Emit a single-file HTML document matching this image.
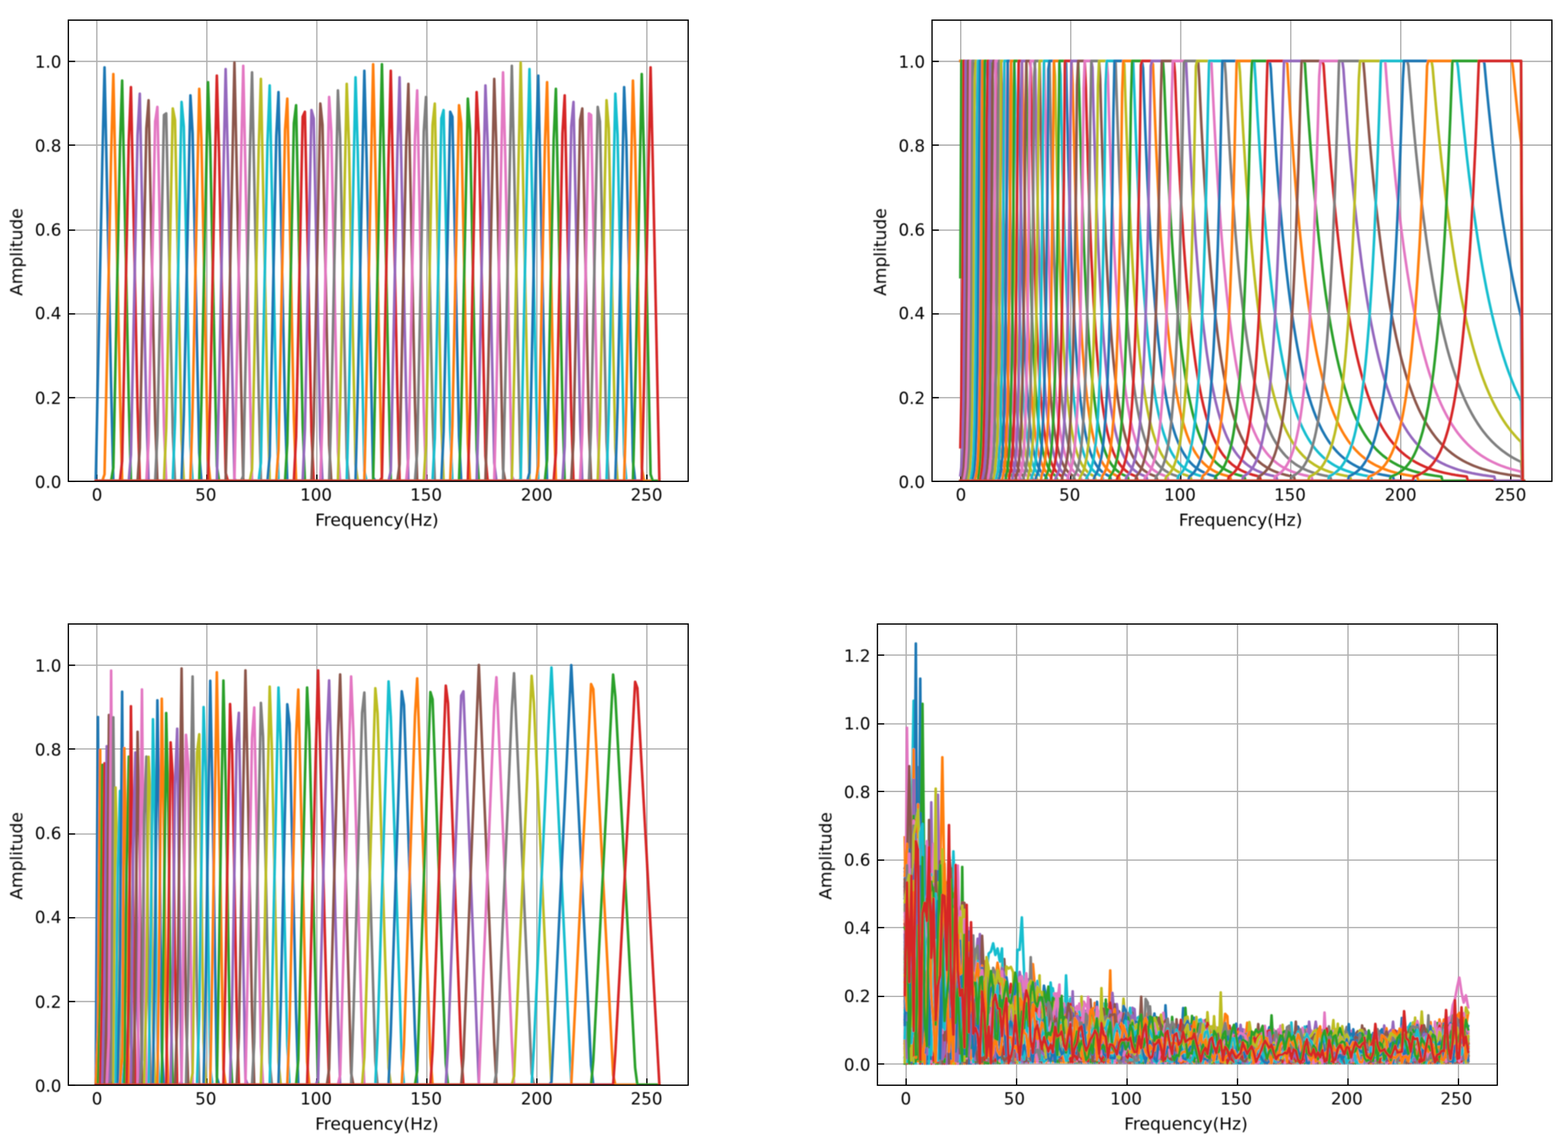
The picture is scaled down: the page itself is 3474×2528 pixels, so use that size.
<!DOCTYPE html>
<html><head><meta charset="utf-8"><title>Filter banks</title>
<style>html,body{margin:0;padding:0;background:#fff}svg{display:block}</style></head>
<body><svg width="3474" height="2528" viewBox="0 0 3474 2528">
<defs>
<filter id="bD" filterUnits="userSpaceOnUse" x="0" y="0" width="3474" height="2528"><feGaussianBlur stdDeviation="1.1"/></filter>
<filter id="bS" filterUnits="userSpaceOnUse" x="0" y="0" width="3474" height="2528"><feGaussianBlur stdDeviation="0.55"/></filter>
<filter id="bT" filterUnits="userSpaceOnUse" x="0" y="0" width="3474" height="2528"><feGaussianBlur stdDeviation="0.8"/></filter>
</defs>
<rect width="3474" height="2528" fill="#fff"/>
<clipPath id="c1"><rect x="151.4" y="44.6" width="1373.3" height="1021.8"/></clipPath>
<g stroke="#b0b0b0" stroke-width="2.80" fill="none" filter="url(#bS)">
<line x1="214.6" y1="44.6" x2="214.6" y2="1066.4"/>
<line x1="458.3" y1="44.6" x2="458.3" y2="1066.4"/>
<line x1="702.0" y1="44.6" x2="702.0" y2="1066.4"/>
<line x1="945.8" y1="44.6" x2="945.8" y2="1066.4"/>
<line x1="1189.5" y1="44.6" x2="1189.5" y2="1066.4"/>
<line x1="1433.2" y1="44.6" x2="1433.2" y2="1066.4"/>
<line x1="151.4" y1="136.0" x2="1524.7" y2="136.0"/>
<line x1="151.4" y1="321.5" x2="1524.7" y2="321.5"/>
<line x1="151.4" y1="509.9" x2="1524.7" y2="509.9"/>
<line x1="151.4" y1="695.5" x2="1524.7" y2="695.5"/>
<line x1="151.4" y1="881.1" x2="1524.7" y2="881.1"/>
<line x1="151.4" y1="1066.4" x2="1524.7" y2="1066.4"/>
</g>
<g stroke="#000" stroke-width="2.85" fill="none" filter="url(#bS)">
<line x1="214.6" y1="1066.4" x2="214.6" y2="1051.4"/>
<line x1="458.3" y1="1066.4" x2="458.3" y2="1051.4"/>
<line x1="702.0" y1="1066.4" x2="702.0" y2="1051.4"/>
<line x1="945.8" y1="1066.4" x2="945.8" y2="1051.4"/>
<line x1="1189.5" y1="1066.4" x2="1189.5" y2="1051.4"/>
<line x1="1433.2" y1="1066.4" x2="1433.2" y2="1051.4"/>
<line x1="151.4" y1="136.0" x2="166.4" y2="136.0"/>
<line x1="151.4" y1="321.5" x2="166.4" y2="321.5"/>
<line x1="151.4" y1="509.9" x2="166.4" y2="509.9"/>
<line x1="151.4" y1="695.5" x2="166.4" y2="695.5"/>
<line x1="151.4" y1="881.1" x2="166.4" y2="881.1"/>
<line x1="151.4" y1="1066.4" x2="166.4" y2="1066.4"/>
</g>
<g clip-path="url(#c1)"><g fill="none" stroke-width="5.76" stroke-linejoin="round" stroke-linecap="square" filter="url(#bD)">
<path d="M212.1 1065.4l9.8-472.5l4.8-236.2l4.9-207.2l9.8 472.5l4.8 236.2l4.9 207.2l1209.8 0" stroke="#1f77b4"/>
<path d="M212.1 1065.4l14.6 0l4.9-14.5l9.8-472.5l4.8-236.2l4.9-178.1l14.7 708.7l4.8 192.6l1190.3 0" stroke="#ff7f0e"/>
<path d="M212.1 1065.4l34.1 0l4.9-29.1l14.7-708.7l4.8-149l14.7 708.7l4.8 178.1l1170.8 0" stroke="#2ca02c"/>
<path d="M212.1 1065.4l53.7 0l4.8-43.6l14.7-708.7l4.8-120l14.7 708.8l4.9 163.5l1151.2 0" stroke="#d62728"/>
<path d="M212.1 1065.4l73.2 0l4.8-58.1l14.7-708.8l4.9-90.8l14.6 708.7l4.9 149l1131.7 0" stroke="#9467bd"/>
<path d="M212.1 1065.4l92.7 0l4.9-72.7l14.6-708.7l4.9-61.8l4.8 236.3l9.8 472.4l4.9 134.5l1112.2 0" stroke="#8c564b"/>
<path d="M212.1 1065.4l112.2 0l4.9-87.2l4.8-236.3l9.8-472.4l4.9-32.7l14.6 708.7l4.9 119.9l1092.7 0" stroke="#e377c2"/>
<path d="M212.1 1065.4l131.7 0l4.9-101.8l14.6-708.7l4.9-3.6l9.8 472.5l4.8 236.2l4.9 105.4l1073.2 0" stroke="#7f7f7f"/>
<path d="M212.1 1065.4l151.2 0l4.9-116.3l9.8-472.5l4.8-236.2l4.9 25.4l9.8 472.5l4.8 236.2l4.9 90.9l1053.7 0" stroke="#bcbd22"/>
<path d="M212.1 1065.4l170.7 0l4.9-130.8l9.8-472.5l4.8-236.2l4.9 54.5l14.7 708.7l4.8 76.3l1034.2 0" stroke="#17becf"/>
<path d="M212.1 1065.4l190.2 0l4.9-145.4l14.7-708.7l4.8 83.6l14.7 708.7l4.8 61.8l1014.7 0" stroke="#1f77b4"/>
<path d="M212.1 1065.4l209.8 0l4.8-159.9l14.7-708.7l4.8 112.6l14.7 708.8l4.9 47.2l995.1 0" stroke="#ff7f0e"/>
<path d="M212.1 1065.4l229.3 0l4.8-174.4l14.7-708.8l4.9 141.8l14.6 708.7l4.9 32.7l975.6 0" stroke="#2ca02c"/>
<path d="M212.1 1065.4l248.8 0l4.9-189l14.6-708.7l4.9 170.8l4.8 236.3l9.8 472.4l4.9 18.2l956.1 0" stroke="#d62728"/>
<path d="M212.1 1065.4l268.3 0l4.9-203.5l4.8-236.3l9.8-472.4l4.9 199.9l14.6 708.7l4.9 3.6l936.6 0" stroke="#9467bd"/>
<path d="M212.1 1065.4l287.8 0l4.9-218.1l14.6-708.7l4.9 229l4.9 236.2l4.8 236.3l4.9 225.3l922 0" stroke="#8c564b"/>
<path d="M212.1 1065.4l307.3 0l9.8-468.8l4.8-236.3l4.9-214.4l14.7 708.7l4.8 210.8l902.5 0" stroke="#e377c2"/>
<path d="M212.1 1065.4l321.9 0l4.9-10.9l14.7-708.7l4.8-185.4l14.7 708.7l4.9 196.3l882.9 0" stroke="#7f7f7f"/>
<path d="M212.1 1065.4l341.5 0l4.8-25.4l14.7-708.7l4.9-156.3l14.6 708.7l4.9 181.7l863.4 0" stroke="#bcbd22"/>
<path d="M212.1 1065.4l361 0l4.9-40l14.6-708.7l4.9-127.2l14.6 708.7l4.9 167.2l843.9 0" stroke="#17becf"/>
<path d="M212.1 1065.4l380.5 0l4.9-54.5l14.6-708.7l4.9-98.1l14.6 708.7l4.9 152.6l824.4 0" stroke="#1f77b4"/>
<path d="M212.1 1065.4l400 0l4.9-69.1l14.6-708.7l4.9-69l4.9 236.2l4.8 236.3l4.9 236.2l4.9 138.1l804.9 0" stroke="#ff7f0e"/>
<path d="M212.1 1065.4l419.5 0l4.9-83.6l4.9-236.2l4.8-236.3l4.9-236.2l4.9-40l9.8 472.5l4.8 236.2l4.9 123.6l785.4 0" stroke="#2ca02c"/>
<path d="M212.1 1065.4l439 0l4.9-98.1l9.8-472.5l4.8-236.2l4.9-10.9l9.8 472.4l4.8 236.3l4.9 109l765.9 0" stroke="#d62728"/>
<path d="M212.1 1065.4l458.5 0l4.9-112.7l9.8-472.4l4.8-236.3l4.9 18.2l14.7 708.7l4.8 94.5l746.4 0" stroke="#9467bd"/>
<path d="M212.1 1065.4l478 0l4.9-127.2l14.7-708.7l4.8 47.2l14.7 708.7l4.8 80l726.9 0" stroke="#8c564b"/>
<path d="M212.1 1065.4l497.6 0l4.8-141.7l14.7-708.7l4.8 76.3l14.7 708.7l4.9 65.4l707.3 0" stroke="#e377c2"/>
<path d="M212.1 1065.4l517.1 0l4.8-156.3l14.7-708.7l4.9 105.4l14.6 708.7l4.9 50.9l687.8 0" stroke="#7f7f7f"/>
<path d="M212.1 1065.4l536.6 0l4.9-170.8l14.6-708.7l4.9 134.5l14.6 708.7l4.9 36.3l668.3 0" stroke="#bcbd22"/>
<path d="M212.1 1065.4l556.1 0l4.9-185.4l14.6-708.7l4.9 163.6l4.9 236.2l4.8 236.3l4.9 236.2l4.9 21.8l648.8 0" stroke="#17becf"/>
<path d="M212.1 1065.4l575.6 0l4.9-199.9l4.9-236.2l4.8-236.3l4.9-236.2l4.9 192.6l14.6 708.7l4.9 7.3l629.3 0" stroke="#1f77b4"/>
<path d="M212.1 1065.4l595.1 0l4.9-214.4l14.6-708.7l4.9 221.7l14.6 701.4l614.7 0" stroke="#ff7f0e"/>
<path d="M212.1 1065.4l614.6 0l4.9-229l9.8-472.4l4.8-221.7l14.7 708.7l4.9 214.4l595.1 0" stroke="#2ca02c"/>
<path d="M212.1 1065.4l629.3 0l4.8-7.3l14.7-708.7l4.9-192.6l14.6 708.7l4.9 199.9l575.6 0" stroke="#d62728"/>
<path d="M212.1 1065.4l648.8 0l4.9-21.8l14.6-708.7l4.9-163.6l4.8 236.3l9.8 472.4l4.9 185.4l556.1 0" stroke="#9467bd"/>
<path d="M212.1 1065.4l668.3 0l4.9-36.3l4.8-236.3l9.8-472.4l4.9-134.5l14.6 708.7l4.9 170.8l536.6 0" stroke="#8c564b"/>
<path d="M212.1 1065.4l687.8 0l4.9-50.9l4.9-236.2l4.8-236.3l4.9-236.2l4.9-105.4l14.6 708.7l4.9 156.3l517.1 0" stroke="#e377c2"/>
<path d="M212.1 1065.4l707.3 0l4.9-65.4l14.6-708.7l4.9-76.3l9.8 472.4l4.8 236.3l4.9 141.7l497.6 0" stroke="#7f7f7f"/>
<path d="M212.1 1065.4l726.8 0l4.9-80l9.8-472.4l4.8-236.3l4.9-47.2l9.8 472.5l4.8 236.2l4.9 127.2l478.1 0" stroke="#bcbd22"/>
<path d="M212.1 1065.4l746.3 0l4.9-94.5l9.8-472.5l4.8-236.2l4.9-18.2l14.7 708.7l4.8 112.7l458.6 0" stroke="#17becf"/>
<path d="M212.1 1065.4l765.8 0l4.9-109l14.7-708.7l4.8 10.9l14.7 708.7l4.8 98.1l439.1 0" stroke="#1f77b4"/>
<path d="M212.1 1065.4l785.4 0l4.8-123.6l14.7-708.7l4.8 40l14.7 708.7l4.9 83.6l419.5 0" stroke="#ff7f0e"/>
<path d="M212.1 1065.4l804.9 0l4.8-138.1l14.7-708.7l4.9 69l4.8 236.3l9.8 472.4l4.9 69.1l400 0" stroke="#2ca02c"/>
<path d="M212.1 1065.4l824.4 0l4.9-152.6l4.8-236.3l9.8-472.4l4.9 98.1l14.6 708.7l4.9 54.5l380.5 0" stroke="#d62728"/>
<path d="M212.1 1065.4l843.9 0l4.9-167.2l4.9-236.2l4.8-236.3l4.9-236.2l4.9 127.2l14.6 708.7l4.9 40l361 0" stroke="#9467bd"/>
<path d="M212.1 1065.4l863.4 0l4.9-181.7l14.6-708.7l4.9 156.3l9.8 472.4l4.8 236.3l4.9 25.4l341.5 0" stroke="#8c564b"/>
<path d="M212.1 1065.4l882.9 0l4.9-196.3l9.8-472.4l4.8-236.3l4.9 185.4l9.8 472.5l4.8 236.2l4.9 10.9l322 0" stroke="#e377c2"/>
<path d="M212.1 1065.4l902.4 0l4.9-210.8l9.8-472.5l4.8-236.2l4.9 214.4l9.8 472.5l4.9 232.6l307.3 0" stroke="#7f7f7f"/>
<path d="M212.1 1065.4l921.9 0l4.9-225.3l9.8-472.5l4.9-229l4.8 236.3l9.8 472.4l4.9 218.1l287.8 0" stroke="#bcbd22"/>
<path d="M212.1 1065.4l936.6 0l4.9-3.6l4.8-236.3l9.8-472.4l4.9-199.9l14.6 708.7l4.9 203.5l268.3 0" stroke="#17becf"/>
<path d="M212.1 1065.4l956.1 0l4.9-18.2l14.6-708.7l4.9-170.8l4.9 236.2l4.8 236.3l4.9 236.2l4.9 189l248.8 0" stroke="#1f77b4"/>
<path d="M212.1 1065.4l975.6 0l4.9-32.7l4.9-236.2l4.8-236.3l4.9-236.2l4.9-141.8l14.6 708.7l4.9 174.5l229.3 0" stroke="#ff7f0e"/>
<path d="M212.1 1065.4l995.1 0l4.9-47.2l14.6-708.8l4.9-112.6l9.8 472.5l4.8 236.2l4.9 159.9l209.8 0" stroke="#2ca02c"/>
<path d="M212.1 1065.4l1014.6 0l4.9-61.8l9.8-472.5l4.8-236.2l4.9-83.6l9.8 472.5l4.8 236.2l4.9 145.4l190.3 0" stroke="#d62728"/>
<path d="M212.1 1065.4l1034.1 0l4.9-76.3l9.8-472.5l4.8-236.2l4.9-54.5l14.7 708.7l4.8 130.8l170.8 0" stroke="#9467bd"/>
<path d="M212.1 1065.4l1053.6 0l4.9-90.9l14.7-708.7l4.8-25.4l14.7 708.7l4.8 116.3l151.3 0" stroke="#8c564b"/>
<path d="M212.1 1065.4l1073.2 0l4.8-105.4l14.7-708.7l4.8 3.6l14.7 708.7l4.9 101.8l131.7 0" stroke="#e377c2"/>
<path d="M212.1 1065.4l1092.7 0l4.8-119.9l14.7-708.7l4.9 32.7l14.6 708.7l4.9 87.2l112.2 0" stroke="#7f7f7f"/>
<path d="M212.1 1065.4l1112.2 0l4.9-134.5l14.6-708.7l4.9 61.8l4.9 236.2l4.8 236.3l4.9 236.2l4.9 72.7l92.7 0" stroke="#bcbd22"/>
<path d="M212.1 1065.4l1131.7 0l4.9-149l4.9-236.2l4.8-236.3l4.9-236.2l4.9 90.8l14.6 708.7l4.9 58.2l73.2 0" stroke="#17becf"/>
<path d="M212.1 1065.4l1151.2 0l4.9-163.5l14.6-708.8l4.9 120l9.8 472.5l4.8 236.2l4.9 43.6l53.7 0" stroke="#1f77b4"/>
<path d="M212.1 1065.4l1170.7 0l4.9-178.1l9.8-472.5l4.8-236.2l4.9 149l9.8 472.5l4.8 236.2l4.9 29.1l34.2 0" stroke="#ff7f0e"/>
<path d="M212.1 1065.4l1190.2 0l4.9-192.6l9.8-472.5l4.8-236.2l4.9 178.1l14.7 708.7l4.8 14.5l14.7 0" stroke="#2ca02c"/>
<path d="M212.1 1065.4l1209.7 0l4.9-207.2l14.7-708.7l4.8 207.2l14.7 708.7" stroke="#d62728"/>
</g></g>
<rect x="151.4" y="44.6" width="1373.3" height="1021.8" fill="none" stroke="#000" stroke-width="2.85" filter="url(#bS)"/>
<g font-family="'DejaVu Sans', 'Liberation Sans', sans-serif" font-size="36.9px" fill="#000" filter="url(#bT)">
<text x="215.1" y="1109.3" text-anchor="middle">0</text>
<text x="456.0" y="1109.3" text-anchor="middle">50</text>
<text x="700.2" y="1109.3" text-anchor="middle">100</text>
<text x="944.0" y="1109.3" text-anchor="middle">150</text>
<text x="1189.3" y="1109.3" text-anchor="middle">200</text>
<text x="1432.5" y="1109.3" text-anchor="middle">250</text>
<text x="135.9" y="150.3" text-anchor="end">1.0</text>
<text x="135.9" y="335.8" text-anchor="end">0.8</text>
<text x="135.9" y="521.5" text-anchor="end">0.6</text>
<text x="135.9" y="707.3" text-anchor="end">0.4</text>
<text x="135.9" y="895.2" text-anchor="end">0.2</text>
<text x="135.9" y="1080.9" text-anchor="end">0.0</text>
<text x="835.0" y="1164.7" text-anchor="middle" font-size="37.9px">Frequency(Hz)</text>
<text transform="translate(49.4 558.5) rotate(-90)" text-anchor="middle" font-size="37.9px">Amplitude</text>
</g>
<clipPath id="c2"><rect x="2065.0" y="44.6" width="1373.3" height="1021.8"/></clipPath>
<g stroke="#b0b0b0" stroke-width="2.80" fill="none" filter="url(#bS)">
<line x1="2128.6" y1="44.6" x2="2128.6" y2="1066.4"/>
<line x1="2372.3" y1="44.6" x2="2372.3" y2="1066.4"/>
<line x1="2616.0" y1="44.6" x2="2616.0" y2="1066.4"/>
<line x1="2859.8" y1="44.6" x2="2859.8" y2="1066.4"/>
<line x1="3103.5" y1="44.6" x2="3103.5" y2="1066.4"/>
<line x1="3347.2" y1="44.6" x2="3347.2" y2="1066.4"/>
<line x1="2065.0" y1="136.0" x2="3438.3" y2="136.0"/>
<line x1="2065.0" y1="321.5" x2="3438.3" y2="321.5"/>
<line x1="2065.0" y1="509.9" x2="3438.3" y2="509.9"/>
<line x1="2065.0" y1="695.5" x2="3438.3" y2="695.5"/>
<line x1="2065.0" y1="881.1" x2="3438.3" y2="881.1"/>
<line x1="2065.0" y1="1066.4" x2="3438.3" y2="1066.4"/>
</g>
<g stroke="#000" stroke-width="2.85" fill="none" filter="url(#bS)">
<line x1="2128.6" y1="1066.4" x2="2128.6" y2="1051.4"/>
<line x1="2372.3" y1="1066.4" x2="2372.3" y2="1051.4"/>
<line x1="2616.0" y1="1066.4" x2="2616.0" y2="1051.4"/>
<line x1="2859.8" y1="1066.4" x2="2859.8" y2="1051.4"/>
<line x1="3103.5" y1="1066.4" x2="3103.5" y2="1051.4"/>
<line x1="3347.2" y1="1066.4" x2="3347.2" y2="1051.4"/>
<line x1="2065.0" y1="136.0" x2="2080.0" y2="136.0"/>
<line x1="2065.0" y1="321.5" x2="2080.0" y2="321.5"/>
<line x1="2065.0" y1="509.9" x2="2080.0" y2="509.9"/>
<line x1="2065.0" y1="695.5" x2="2080.0" y2="695.5"/>
<line x1="2065.0" y1="881.1" x2="2080.0" y2="881.1"/>
<line x1="2065.0" y1="1066.4" x2="2080.0" y2="1066.4"/>
</g>
<g clip-path="url(#c2)"><g fill="none" stroke-width="5.76" stroke-linejoin="round" stroke-linecap="square" filter="url(#bD)">
<path d="M2127.7 135l7.3 0l2.5 230.9l2.4 210.2l2.4 146.6l2.5 102.3l2.4 71.5l2.5 50.1l2.4 35l2.4 24.6l2.5 17.2l2.4 12.2l2.4 8.6l2.5 6l2.4 4.3l2.5 10.9l1207.3 0" stroke="#1f77b4"/>
<path d="M2127.7 135l12.2 0l2.4 226.1l2.5 210.3l2.4 147l2.5 102.8l2.4 72l2.4 50.5l2.5 35.5l2.4 24.9l2.4 17.7l2.5 12.4l2.4 8.9l2.5 6.3l2.4 4.4l2.4 11.6l1202.5 0" stroke="#ff7f0e"/>
<path d="M2127.7 614.1l2.4-479.1l14.7 0l2.4 217.2l2.5 211.2l2.4 148l2.4 103.8l2.5 72.9l2.4 51.4l2.4 36.2l2.5 25.7l2.4 18.1l2.5 12.9l2.4 9.2l2.4 6.6l2.5 4.7l2.4 12.5l1197.6 0" stroke="#2ca02c"/>
<path d="M2127.7 990.9l2.4-108.7l2.5-266.9l2.4-480.3l14.7 0l2.4 202.9l2.4 213.3l2.5 149.9l2.4 105.6l2.4 74.4l2.5 52.7l2.4 37.3l2.5 26.6l2.4 18.9l2.4 13.5l2.5 9.7l2.4 6.9l2.5 5.1l2.4 3.6l2.4 10l1190.3 0" stroke="#d62728"/>
<path d="M2127.7 1053.1l2.4-18l2.5-44l2.4-108.1l2.5-264.2l2.4-483.8l14.6 0l2.5 181.8l2.4 216.9l2.4 153l2.5 108.2l2.4 76.8l2.5 54.5l2.4 38.9l2.4 27.7l2.5 19.9l2.4 14.4l2.5 10.3l2.4 7.5l2.4 5.4l2.5 3.9l2.4 11.2l1185.4 0" stroke="#9467bd"/>
<path d="M2127.7 1065.4l2.4 0l2.5-12.3l2.4-17.8l2.5-43.7l2.4-106.4l2.4-258.8l2.5-491.4l14.6 0l2.4 152.1l2.5 222.4l2.4 157.7l2.5 112.1l2.4 79.9l2.4 57.1l2.5 40.9l2.4 29.4l2.5 21.2l2.4 15.4l2.4 11.2l2.5 8.1l2.4 5.9l2.5 4.4l2.4 3.2l2.4 9.4l1178.1 0" stroke="#8c564b"/>
<path d="M2127.7 1065.4l7.3 0l2.5-12.2l2.4-17.6l2.4-42.7l2.5-103.5l2.4-249.5l2.5-504.9l14.6 0l2.4 112.1l2.5 230.3l2.4 164.2l2.4 117.3l2.5 84.1l2.4 60.5l2.5 43.6l2.4 31.6l2.4 22.9l2.5 16.7l2.4 12.2l2.5 8.9l2.4 6.6l2.4 4.9l2.5 3.6l2.4 10.9l1173.2 0" stroke="#e377c2"/>
<path d="M2127.7 1065.4l12.2 0l2.4-12l2.5-17.1l2.4-41.2l2.5-98.8l2.4-235.8l2.4-525.5l14.7 0l2.4 59.4l2.4 241.1l2.5 172.9l2.4 124.3l2.5 89.6l2.4 64.9l2.4 47.1l2.5 34.3l2.4 25.1l2.5 18.3l2.4 13.6l2.4 10l2.5 7.4l2.4 5.5l2.4 4.1l2.5 3.1l2.4 9.7l1165.9 0" stroke="#7f7f7f"/>
<path d="M2127.7 1065.4l17.1 0l2.4-11.6l2.5-16.3l2.4-39l2.4-92.3l2.5-217.7l2.4-509.6l2.4-43.9l14.7 0l2.4 246.6l2.5 184.2l2.4 133.3l2.4 96.8l2.5 70.5l2.4 51.6l2.5 37.7l2.4 27.9l2.4 20.5l2.5 15.2l2.4 11.3l2.4 8.5l2.5 6.3l2.4 4.7l2.5 3.6l2.4 11.7l1161 0" stroke="#bcbd22"/>
<path d="M2127.7 1065.4l22 0l2.4-11l2.4-15.3l2.5-36l2.4-84.1l2.4-195.7l2.5-451.4l2.4-136.9l14.7 0l2.4 177.7l2.4 198.9l2.5 144.9l2.4 105.9l2.5 77.6l2.4 57.2l2.4 42.2l2.5 31.3l2.4 23.2l2.4 17.4l2.5 13l2.4 9.7l2.5 7.4l2.4 5.6l2.4 4.2l2.5 3.2l2.4 11l1153.7 0" stroke="#17becf"/>
<path d="M2127.7 1065.4l26.8 0l2.5-10.3l2.4-13.9l2.4-32.3l2.5-74.5l2.4-170.8l2.5-387.7l2.4-240.9l14.6 0l2.5 90l2.4 217.6l2.5 159.7l2.4 117.4l2.4 86.8l2.5 64.2l2.4 47.8l2.4 35.7l2.5 26.7l2.4 20.1l2.5 15.1l2.4 11.4l2.4 8.7l2.5 6.7l2.4 5l2.5 3.9l2.4 3l2.4 10.6l1146.4 0" stroke="#1f77b4"/>
<path d="M2127.7 1065.4l31.7 0l2.4-9.3l2.5-12.3l2.4-28.2l2.5-64.1l2.4-144.3l2.4-322.3l2.5-349.9l17.1 0l2.4 220l2.4 178.2l2.5 132.1l2.4 98.2l2.4 73.3l2.5 54.9l2.4 41.3l2.5 31.1l2.4 23.5l2.4 17.9l2.5 13.6l2.4 10.4l2.5 7.9l2.4 6.2l2.4 4.7l2.5 3.7l2.4 2.8l2.5 10.6l1139 0" stroke="#ff7f0e"/>
<path d="M2127.7 1065.4l39 0l2.5-18.8l2.4-23.8l2.4-53.3l2.5-117.9l2.4-258.9l2.5-457.7l17 0l2.5 108.2l2.4 201.9l2.4 150.6l2.5 112.8l2.4 84.7l2.5 63.9l2.4 48.4l2.4 36.7l2.5 28l2.4 21.3l2.5 16.4l2.4 12.6l2.4 9.7l2.5 7.6l2.4 5.8l2.5 4.6l2.4 3.6l2.4 2.8l2.5 10.8l1131.7 0" stroke="#2ca02c"/>
<path d="M2127.7 1065.4l43.9 0l2.4-15.8l2.5-19.5l2.4-42.8l2.5-93l2.4-200.7l2.4-429l2.5-129.6l17 0l2.5 196.9l2.4 174.2l2.5 131.3l2.4 99.4l2.4 75.4l2.5 57.5l2.4 43.9l2.5 33.7l2.4 25.9l2.4 20l2.5 15.4l2.4 12.1l2.5 9.3l2.4 7.4l2.4 5.7l2.5 4.5l2.4 3.6l2.4 2.8l2.5 11.4l1124.4 0" stroke="#d62728"/>
<path d="M2127.7 1065.4l48.8 0l2.4-12.9l2.5-15.4l2.4-33.1l2.4-70.9l2.5-150l4.9-648.1l17 0l2.5 50.8l2.4 204.2l2.4 155.1l2.5 118.1l2.4 90.2l2.5 69.2l2.4 53.2l2.4 41.1l2.5 31.9l2.4 24.7l2.5 19.2l2.4 15.1l2.4 11.8l2.5 9.3l2.4 7.3l2.4 5.8l2.5 4.5l2.4 3.7l2.5 2.9l2.4 2.3l2.4 10l1114.7 0" stroke="#9467bd"/>
<path d="M2127.7 1065.4l53.7 0l2.4-10.1l2.4-11.7l2.5-24.8l2.4-52l2.5-108.2l2.4-222.9l2.4-455l2.5-45.7l17 0l2.5 103.7l2.4 185.5l2.5 142.2l2.4 109.4l2.4 84.5l2.5 65.4l2.4 50.8l2.5 39.5l2.4 31l2.4 24.2l2.5 19.1l2.4 15l2.4 11.9l2.5 9.4l2.4 7.5l2.5 6l2.4 4.8l2.4 3.8l2.5 3.1l2.4 2.5l2.5 11.1l1107.3 0" stroke="#8c564b"/>
<path d="M2127.7 1065.4l61 0l2.4-16.3l2.5-17.9l2.4-36.8l2.4-75.1l2.5-152.1l2.4-304.9l2.4-327.3l19.6 0l2.4 129.8l2.4 173.6l2.5 134.4l2.4 104.3l2.5 81.4l2.4 63.5l2.4 49.9l2.5 39.1l2.4 30.9l2.4 24.5l2.5 19.3l2.4 15.5l2.5 12.3l2.4 9.8l2.4 7.9l2.5 6.3l2.4 5.1l2.5 4.1l2.4 3.4l2.4 2.7l2.5 2.2l2.4 10.4l1097.6 0" stroke="#e377c2"/>
<path d="M2127.7 1065.4l65.9 0l2.4-11.7l2.4-12.4l2.5-25.1l2.4-50.4l2.4-100.1l2.5-197l2.4-384.6l2.5-149.1l19.5 0l2.4 132.5l2.5 167.1l2.4 130.6l2.4 102.4l2.5 80.6l2.4 63.5l2.4 50.2l2.5 39.8l2.4 31.7l2.5 25.2l2.4 20.2l2.4 16.2l2.5 13.1l2.4 10.5l2.5 8.4l2.4 6.9l2.4 5.6l2.5 4.5l2.4 3.7l2.5 3.1l2.4 2.5l2.4 2l2.5 10.1l1087.8 0" stroke="#7f7f7f"/>
<path d="M2127.7 1065.4l73.2 0l4.8-33l2.5-32.5l2.4-63.5l2.5-122.9l2.4-235.7l2.4-442.8l22 0l2.4 113l2.5 165.4l2.4 130.5l2.4 103.2l2.5 81.9l2.4 65.1l2.5 51.9l2.4 41.5l2.4 33.3l2.5 26.8l2.4 21.6l2.5 17.4l2.4 14.1l2.4 11.5l2.5 9.3l2.4 7.6l2.5 6.2l2.4 5.2l2.4 4.1l2.5 3.5l2.4 2.8l2.5 2.4l2.4 2l2.4 10.1l1078.1 0" stroke="#bcbd22"/>
<path d="M2127.7 1065.4l78 0l4.9-21.3l2.5-20.3l2.4-38.9l2.4-74.1l2.5-139.6l2.4-261l2.5-375.2l21.9 0l2.4 70.8l2.5 168.2l2.4 133.8l2.5 106.7l2.4 85.3l2.4 68.5l2.5 55l2.4 44.3l2.5 35.8l2.4 29l2.4 23.6l2.5 19.2l2.4 15.6l2.5 12.8l2.4 10.5l2.4 8.6l2.5 7.1l2.4 5.9l2.5 4.8l2.4 4.1l2.4 3.3l2.5 2.8l2.4 2.3l2.4 1.9l2.5 10.5l1068.3 0" stroke="#17becf"/>
<path d="M2127.7 1065.4l85.4 0l2.4-13.3l2.4-12.2l2.5-23.1l2.4-43.1l2.5-80l2.4-147l2.4-268.4l2.5-343.3l21.9 0l2.5 3.7l2.4 175.4l2.4 140.6l2.5 113.1l2.4 91.1l2.5 73.6l2.4 59.7l2.4 48.4l2.5 39.4l2.4 32.2l2.5 26.3l2.4 21.5l2.4 17.7l2.5 14.6l2.4 12.1l2.5 9.9l2.4 8.3l2.4 6.8l2.5 5.7l2.4 4.7l2.4 4l2.5 3.3l2.4 2.8l2.5 2.3l2.4 2l2.4 1.6l2.5 9.6l1056.1 0" stroke="#1f77b4"/>
<path d="M2127.7 1065.4l92.7 0l2.4-15.1l2.5-13.3l2.4-24.2l2.4-44.4l2.5-80.2l2.4-144.2l2.5-257l2.4-352l24.4 0l2.4 95l2.5 151.3l2.4 122.5l2.4 99.6l2.5 81l2.4 66.1l2.5 54.1l2.4 44.3l2.4 36.4l2.5 29.9l2.4 24.8l2.5 20.4l2.4 16.9l2.4 14.1l2.5 11.7l2.4 9.8l2.4 8.1l2.5 6.8l2.4 5.7l2.5 4.8l2.4 4.1l2.4 3.4l2.5 2.8l2.4 2.5l4.9 3.8l2.4 10.5l1046.4 0" stroke="#ff7f0e"/>
<path d="M2127.7 1065.4l100 0l2.4-16l2.5-13.3l2.4-23.8l2.5-42.4l2.4-75.1l2.4-131.9l2.5-230.1l2.4-397.8l26.8 0l2.5 147.4l2.4 135.8l2.5 111.1l2.4 91.1l2.4 74.8l2.5 61.6l2.4 50.8l2.5 42l2.4 34.8l2.4 28.9l2.5 24.1l2.4 20l2.4 16.7l2.5 14.1l2.4 11.7l2.5 9.8l2.4 8.3l2.4 7l2.5 5.9l2.4 5l2.5 4.3l2.4 3.5l2.4 3.1l2.5 2.6l2.4 2.2l2.5 1.9l2.4 1.6l2.4 10.3l1034.2 0" stroke="#2ca02c"/>
<path d="M2127.7 1065.4l107.3 0l2.5-15.8l2.4-12.4l2.4-21.8l2.5-38l2.4-65.7l2.4-113.1l2.5-193.1l2.4-327.4l2.5-143.1l24.4 0l2.4 15.8l2.4 153.8l2.5 126.6l2.4 104.4l2.5 86.3l2.4 71.6l2.4 59.4l2.5 49.4l2.4 41.2l2.4 34.4l2.5 28.7l2.4 24.2l2.5 20.2l2.4 17.1l2.4 14.3l2.5 12.2l2.4 10.2l2.5 8.7l2.4 7.4l2.4 6.3l2.5 5.3l2.4 4.6l2.5 3.8l2.4 3.4l2.4 2.8l2.5 2.4l2.4 2.1l2.4 1.8l2.5 1.6l2.4 10.4l1022 0" stroke="#d62728"/>
<path d="M2127.7 1065.4l114.6 0l2.5-14.5l2.4-10.9l2.4-18.7l2.5-31.9l2.4-54l2.5-91.1l2.4-152.5l2.4-253.6l2.5-303.2l26.8 0l2.5 19l2.4 147.1l2.4 122l2.5 101.6l2.4 84.6l2.4 70.7l2.5 59.1l2.4 49.6l2.5 41.7l2.4 35l2.4 29.5l2.5 24.9l2.4 21.1l2.5 17.9l2.4 15.1l2.4 12.9l2.5 11l2.4 9.3l2.5 8l2.4 6.9l2.4 5.8l2.5 5l2.4 4.3l2.4 3.7l2.5 3.2l2.4 2.8l2.5 2.4l2.4 2l2.4 1.8l4.9 2.9l2.5 9.5l1007.3 0" stroke="#9467bd"/>
<path d="M2127.7 1065.4l121.9 0l2.5-12.5l2.4-9l2.5-15l2.4-25.2l2.4-41.9l2.5-69.2l2.4-113.7l2.5-185.7l2.4-301.3l2.4-156.9l29.3 0l2.4 138.3l2.5 121.6l2.4 101.9l2.5 85.6l2.4 72l2.4 60.6l2.5 51.3l2.4 43.3l2.5 36.7l2.4 31.2l2.4 26.4l2.5 22.6l2.4 19.2l2.5 16.4l2.4 14l2.4 12l2.5 10.3l2.4 8.9l2.4 7.6l2.5 6.6l2.4 5.6l2.5 4.9l2.4 4.3l2.4 3.6l2.5 3.2l2.4 2.7l2.5 2.4l2.4 2.1l2.4 1.8l2.5 1.6l2.4 1.4l2.5 10.3l995.1 0" stroke="#8c564b"/>
<path d="M2127.7 1065.4l129.3 0l2.4-10.2l2.4-6.9l2.5-11.4l2.4-18.8l2.5-30.7l2.4-49.7l2.4-80.4l2.5-128.8l2.4-205.6l2.5-326.2l2.4-61.7l29.3 0l2.4 85.6l2.4 124.8l2.5 105.2l2.4 89.1l2.5 75.4l2.4 64l2.4 54.5l2.5 46.3l2.4 39.5l2.5 33.7l2.4 28.8l2.4 24.7l2.5 21.2l2.4 18.2l2.4 15.7l2.5 13.4l2.4 11.7l2.5 10l2.4 8.7l2.4 7.5l2.5 6.5l2.4 5.7l2.5 4.9l2.4 4.3l2.4 3.8l2.5 3.2l2.4 2.9l4.9 4.6l2.4 1.9l2.5 1.7l2.4 1.5l2.5 1.3l2.4 10.1l980.5 0" stroke="#e377c2"/>
<path d="M2127.7 1065.4l139 0l2.5-12.9l2.4-8.2l2.4-13.3l2.5-21.2l2.4-34l2.5-53.9l2.4-85l2.4-133.5l2.5-208.6l2.4-324l2.5-35.8l29.2 0l2.5 5l2.4 131.6l2.4 111.8l2.5 95.2l2.4 81.2l2.5 69.3l2.4 59.2l2.4 50.8l2.5 43.5l2.4 37.4l2.4 32.2l2.5 27.7l2.4 23.9l2.5 20.6l2.4 17.9l2.4 15.5l2.5 13.4l2.4 11.6l2.5 10.1l2.4 8.8l2.4 7.7l2.5 6.7l2.4 5.8l2.5 5.2l2.4 4.4l2.4 4l2.5 3.4l2.4 3l2.5 2.7l2.4 2.3l2.4 2.1l2.5 1.8l2.4 1.6l2.4 1.4l2.5 1.3l2.4 10.3l965.9 0" stroke="#7f7f7f"/>
<path d="M2127.7 1065.4l148.8 0l2.4-14.8l2.5-8.9l2.4-14l2.4-22.1l2.5-34.4l2.4-53.6l2.5-82.7l2.4-127.4l2.4-195l2.5-297.2l2.4-80.3l31.7 0l2.5 33.7l2.4 121.8l2.4 104.3l2.5 89.5l2.4 76.8l2.4 66.1l2.5 57l2.4 49.1l2.5 42.4l2.4 36.7l2.4 31.8l2.5 27.5l2.4 24l2.5 20.8l2.4 18.1l2.4 15.7l2.5 13.8l2.4 12l2.5 10.5l2.4 9.2l2.4 8.1l2.5 7l2.4 6.2l2.5 5.5l2.4 4.8l2.4 4.2l2.5 3.8l2.4 3.3l2.4 2.9l4.9 4.8l4.9 3.8l2.4 1.6l4.9 2.7l2.5 1.1l2.4 9.8l948.8 0" stroke="#bcbd22"/>
<path d="M2127.7 1065.4l156.1 0l2.4-9.9l2.5-5.7l2.4-8.8l2.5-13.7l2.4-21l2.4-32.2l2.5-49.1l2.4-74.5l2.4-112.5l2.5-169.1l2.4-253.2l2.5-180.7l34.1 0l2.4 29.9l2.5 117l2.4 101l2.5 87.2l2.4 75.4l2.4 65.3l2.5 56.6l2.4 49.2l2.5 42.7l2.4 37.2l2.4 32.4l2.5 28.3l2.4 24.7l2.5 21.6l2.4 18.9l2.4 16.5l2.5 14.5l2.4 12.8l2.5 11.2l2.4 9.9l2.4 8.7l2.5 7.7l2.4 6.7l2.4 6l2.5 5.3l2.4 4.7l2.5 4.2l2.4 3.6l2.4 3.3l2.5 2.9l2.4 2.6l4.9 4.4l2.4 1.8l4.9 3.1l2.5 1.3l4.8 2.2l2.5 9.6l931.7 0" stroke="#17becf"/>
<path d="M2127.7 1065.4l165.9 0l2.4-9.8l2.4-5.3l2.5-8.1l2.4-12.3l2.4-18.6l2.5-27.9l2.4-41.8l2.5-62.4l2.4-92.5l2.4-136.8l2.5-201.4l2.4-295.3l2.5-18.2l36.5 0l2.5 112.5l2.4 101l2.5 87.8l2.4 76.5l2.4 66.6l2.5 58.1l2.4 50.7l2.5 44.4l2.4 38.8l2.4 34.1l2.5 29.8l2.4 26.2l2.5 23.1l2.4 20.3l2.4 17.9l2.5 15.7l2.4 14l2.4 12.3l2.5 10.8l2.4 9.7l2.5 8.5l2.4 7.6l2.4 6.7l2.5 6l2.4 5.3l2.5 4.7l2.4 4.2l2.4 3.8l2.5 3.3l2.4 3l2.5 2.7l2.4 2.4l2.4 2.1l2.5 2l2.4 1.7l2.4 1.5l4.9 2.7l4.9 2.1l2.4 9.8l914.7 0" stroke="#1f77b4"/>
<path d="M2127.7 1065.4l178 0l2.5-13.5l2.4-6.9l2.5-10.3l2.4-15.3l2.4-22.6l2.5-33.3l2.4-48.8l2.5-71.2l2.4-103.7l2.4-150.3l2.5-217.1l2.4-237.4l39 0l2.5 50.9l2.4 104.3l2.5 91.2l2.4 79.8l2.4 70l2.5 61.4l2.4 53.9l2.5 47.3l2.4 41.8l2.4 36.7l2.5 32.4l2.4 28.6l2.4 25.3l2.5 22.3l2.4 19.8l2.5 17.6l2.4 15.5l2.4 13.8l2.5 12.3l2.4 10.9l2.5 9.7l2.4 8.7l2.4 7.7l2.5 6.9l2.4 6.2l2.5 5.5l2.4 4.9l2.4 4.4l4.9 7.5l2.4 3.2l4.9 5.4l4.9 4.4l2.4 1.8l2.5 1.7l2.4 1.5l2.5 1.4l4.8 2.4l4.9 1.9l2.5 9.4l895.1 0" stroke="#ff7f0e"/>
<path d="M2127.7 1065.4l187.8 0l2.4-11.3l2.5-5.5l2.4-8.1l2.5-11.8l2.4-17.1l2.4-24.8l2.5-35.9l2.4-51.5l2.5-74l2.4-105.8l2.4-150.5l2.5-213.7l2.4-220.4l41.5 0l2.4 69.4l2.5 97.4l2.4 85.7l2.4 75.5l2.5 66.6l2.4 58.8l2.4 52l2.5 45.9l2.4 40.7l2.5 36l2.4 32l2.4 28.4l2.5 25.2l2.4 22.4l2.5 20l2.4 17.8l2.4 15.9l2.5 14.1l2.4 12.7l2.5 11.3l2.4 10.1l2.4 9.1l2.5 8.1l2.4 7.2l2.4 6.6l2.5 5.8l2.4 5.3l2.5 4.7l2.4 4.3l2.4 3.9l2.5 3.4l2.4 3.1l2.5 2.9l2.4 2.5l2.4 2.3l4.9 4l2.5 1.7l4.8 2.9l4.9 2.5l4.9 2l2.4 0.8l2.5 9.4l875.6 0" stroke="#2ca02c"/>
<path d="M2127.7 1065.4l200 0l2.4-13l2.5-5.9l2.4-8.5l2.5-12.2l2.4-17.5l2.4-24.9l2.5-35.3l2.4-49.9l2.4-70.3l2.5-98.9l2.4-138.6l2.5-193.5l2.4-261.9l43.9 0l2.4 56.9l2.5 94.4l2.4 83.6l2.5 74.1l2.4 65.7l2.4 58.3l2.5 51.9l2.4 46.1l2.5 41l2.4 36.6l2.4 32.6l2.5 29.1l2.4 26l2.5 23.2l2.4 20.8l2.4 18.6l2.5 16.7l2.4 14.9l2.4 13.4l2.5 12.1l2.4 10.8l2.5 9.8l2.4 8.7l2.4 7.9l2.5 7.1l2.4 6.5l2.5 5.8l2.4 5.2l2.4 4.7l2.5 4.3l2.4 3.9l4.9 6.7l2.4 2.8l2.5 2.7l4.8 4.5l4.9 3.7l4.9 3.1l2.4 1.4l4.9 2.3l4.9 2l2.4 0.8l2.5 9.7l856.1 0" stroke="#d62728"/>
<path d="M2127.7 1065.4l209.8 0l2.4-9.4l2.4-4.1l2.5-5.9l2.4-8.2l2.4-11.6l2.5-16.4l2.4-22.8l2.5-32l2.4-44.5l2.4-61.7l2.5-85.5l2.4-118l2.5-162.3l2.4-222.7l2.4-125.3l43.9 0l2.5 14.8l2.4 94.7l2.5 84.4l2.4 75.1l2.4 67l2.5 59.8l2.4 53.4l2.5 47.8l2.4 42.7l2.4 38.2l2.5 34.3l2.4 30.7l2.4 27.6l2.5 24.8l2.4 22.2l2.5 20.1l2.4 18l2.4 16.2l2.5 14.6l2.4 13.2l2.5 11.9l2.4 10.8l2.4 9.7l2.5 8.8l2.4 8l2.5 7.2l2.4 6.5l2.4 5.9l2.5 5.4l2.4 4.9l2.4 4.4l4.9 7.7l2.5 3.3l2.4 3l2.4 2.8l4.9 4.8l4.9 4l2.4 1.8l4.9 3.1l4.9 2.5l4.9 2.2l4.9 1.8l2.4 0.8l2.4 9.5l834.2 0" stroke="#9467bd"/>
<path d="M2127.7 1065.4l224.4 0l2.4-13l2.5-5.2l2.4-7.4l2.4-10.2l2.5-14.1l2.4-19.5l2.5-26.8l2.4-36.8l2.4-50.3l2.5-68.7l2.4-93.5l2.5-126.9l2.4-171.9l2.4-232l2.5-54.1l46.3 0l2.5 39.7l2.4 87.8l2.4 78.6l2.5 70.4l2.4 63.1l2.4 56.7l2.5 50.9l2.4 45.7l2.5 41.2l2.4 37l2.4 33.4l2.5 30l2.4 27.2l2.5 24.4l2.4 22.1l2.4 20l2.5 18.1l2.4 16.3l2.5 14.8l2.4 13.5l2.4 12.1l2.5 11.1l2.4 10l2.4 9.1l2.5 8.3l2.4 7.5l4.9 13.1l2.4 5.6l2.5 5.2l2.4 4.7l2.5 4.4l2.4 3.9l2.4 3.6l2.5 3.3l2.4 3l4.9 5.2l2.4 2.3l2.5 2.2l2.4 1.9l2.5 1.8l4.8 3.1l2.5 1.4l4.8 2.4l4.9 2.1l7.3 2.5l2.5 9.7l812.2 0" stroke="#8c564b"/>
<path d="M2127.7 1065.4l236.6 0l2.4-11.5l2.5-4.4l2.4-6.1l2.4-8.3l2.5-11.3l2.4-15.5l2.5-20.9l2.4-28.4l2.4-38.3l2.5-51.7l2.4-69.3l2.5-93l2.4-124.4l2.4-166l2.5-220.8l2.4-60.5l48.8 0l2.4 31.4l2.5 84.5l2.4 76.1l2.4 68.6l2.5 61.8l2.4 55.7l2.5 50.3l2.4 45.4l2.4 41.1l2.5 37.1l2.4 33.6l2.5 30.4l2.4 27.6l2.4 25l2.5 22.7l2.4 20.6l2.4 18.7l2.5 17l2.4 15.5l4.9 26.9l2.4 11.6l2.5 10.7l2.4 9.7l4.9 16.9l2.4 7.4l2.5 6.8l2.4 6.1l2.5 5.7l2.4 5.2l2.4 4.7l4.9 8.3l2.5 3.7l2.4 3.3l2.4 3.1l4.9 5.4l2.4 2.4l4.9 4.2l2.5 1.9l4.8 3.3l2.5 1.5l2.4 1.3l4.9 2.4l7.3 2.9l2.5 0.9l4.8 1.4l2.5 9.6l787.8 0" stroke="#e377c2"/>
<path d="M2127.7 1065.4l248.8 0l2.4-9.4l2.5-3.5l2.4-4.7l2.4-6.3l2.5-8.5l2.4-11.5l2.5-15.4l2.4-20.5l2.4-27.4l2.5-36.5l2.4-48.4l2.4-64.2l2.5-84.9l2.4-111.9l2.5-147.4l2.4-193.5l2.4-136.4l53.7 0l2.4 76.4l2.5 76.3l2.4 69.1l2.5 62.6l2.4 56.6l2.4 51.4l2.5 46.6l2.4 42.4l2.4 38.4l2.5 34.9l2.4 31.8l2.5 28.9l2.4 26.4l2.4 24l2.5 21.8l2.4 20l2.5 18.2l2.4 16.6l2.4 15.2l2.5 13.9l2.4 12.7l2.5 11.6l2.4 10.6l2.4 9.7l2.5 9l2.4 8.1l2.5 7.6l2.4 6.8l2.4 6.4l2.5 5.8l2.4 5.3l2.4 4.9l4.9 8.7l4.9 7.3l2.4 3.3l4.9 5.8l4.9 4.9l2.4 2.1l4.9 3.9l4.9 3.3l2.4 1.5l7.3 3.8l7.4 3l7.3 2.4l2.4 0.7l2.5 9.7l763.4 0" stroke="#7f7f7f"/>
<path d="M2127.7 1065.4l263.4 0l2.5-9.8l2.4-3.4l2.4-4.5l2.5-6l2.4-8l2.4-10.6l2.5-14l2.4-18.5l2.5-24.4l2.4-31.9l2.4-41.9l2.5-54.9l2.4-71.5l2.5-93.2l2.4-121.2l2.4-157.3l2.5-203.7l2.4-55.6l53.7 0l2.4 7.6l2.4 79l2.5 71.8l2.4 65.3l2.5 59.4l2.4 54.1l2.4 49.4l2.5 44.9l2.4 41l2.5 37.4l2.4 34.1l2.4 31.3l2.5 28.5l2.4 26.1l2.5 23.8l2.4 21.9l2.4 20l2.5 18.3l2.4 16.8l2.5 15.5l2.4 14.1l2.4 13l2.5 12l2.4 10.9l2.4 10.1l2.5 9.3l2.4 8.5l2.5 7.9l2.4 7.2l2.4 6.7l4.9 11.9l4.9 10l2.4 4.5l4.9 7.9l2.5 3.6l4.8 6.3l2.5 2.8l4.8 4.9l2.5 2.3l2.4 2l4.9 3.7l2.4 1.7l4.9 2.9l4.9 2.6l4.9 2.2l4.9 1.9l7.3 2.4l2.4 0.7l2.5 0.6l2.4 9.6l736.6 0" stroke="#bcbd22"/>
<path d="M2127.7 1065.4l278 0l2.5-9.3l2.4-3.1l2.5-4l2.4-5.3l2.4-6.9l2.5-9l2.4-11.8l2.5-15.4l2.4-20.1l2.4-25.9l2.5-33.7l2.4-43.5l2.5-56.1l2.4-72.3l2.4-92.9l2.5-119.3l2.4-152.8l2.4-195.4l2.5-53.6l58.5 0l2.5 66.2l2.4 70.2l2.4 64.1l2.5 58.6l2.4 53.6l2.5 49.1l2.4 44.9l2.4 41.1l2.5 37.7l2.4 34.6l2.5 31.7l2.4 29.1l2.4 26.7l4.9 47.1l2.4 20.7l2.5 19.1l2.4 17.5l2.5 16.2l2.4 14.9l2.4 13.7l4.9 24.3l2.5 10.8l2.4 9.9l2.4 9.2l2.5 8.5l2.4 7.8l2.5 7.3l2.4 6.7l2.4 6.2l4.9 11.1l2.4 4.9l2.5 4.6l2.4 4.2l4.9 7.6l2.4 3.4l4.9 6l4.9 5.3l2.4 2.3l4.9 4.2l4.9 3.7l2.4 1.6l4.9 3l7.3 3.7l4.9 2.1l4.9 1.8l4.9 1.6l4.8 1.4l2.5 0.6l2.4 9.8l709.8 0" stroke="#17becf"/>
<path d="M2127.7 1065.4l295.1 0l2.5-10.7l2.4-3.3l2.4-4.3l2.5-5.6l2.4-7.1l2.5-9.3l2.4-12l2.4-15.3l2.5-19.7l2.4-25.2l2.4-32.3l2.5-41.2l2.4-52.5l2.5-66.8l2.4-84.9l2.4-107.6l2.5-136.2l2.4-172.3l2.5-124.1l60.9 0l2.5 16.1l2.4 71l2.5 65.1l2.4 59.8l2.4 54.9l2.5 50.5l2.4 46.3l2.4 42.6l2.5 39.2l2.4 36.1l4.9 63.8l2.4 28.2l4.9 50l4.9 42.6l2.4 18.8l2.5 17.5l2.4 16.1l4.9 28.7l2.4 12.7l4.9 22.8l2.4 10.1l4.9 18.1l4.9 15.6l2.4 6.9l4.9 12.5l4.9 10.7l2.4 4.9l4.9 8.6l4.9 7.5l2.4 3.4l4.9 6l2.5 2.8l4.8 4.9l4.9 4.3l2.4 1.9l4.9 3.5l4.9 3.1l7.3 3.8l2.5 1.2l4.8 2l4.9 1.8l4.9 1.6l4.9 1.4l4.8 1.2l2.5 9.8l680.5 0" stroke="#1f77b4"/>
<path d="M2127.7 1065.4l312.2 0l2.4-11.2l2.5-3.2l2.4-4.2l2.4-5.3l2.5-6.8l2.4-8.7l2.5-11l2.4-14l2.4-17.8l2.5-22.5l2.4-28.5l2.5-35.9l2.4-45.2l2.4-56.9l2.5-71.6l2.4-89.7l2.5-112.4l2.4-140.5l2.4-175.6l2.5-69.4l63.4 0l2.4 8.1l4.9 131.1l2.4 58l4.9 102.7l4.9 87.5l2.4 38.7l4.9 69l4.9 58.9l2.4 26.2l4.9 46.8l2.4 20.8l4.9 37.2l4.9 32l2.4 14.3l4.9 25.6l4.9 22.1l2.4 9.9l4.9 17.8l4.9 15.4l2.4 6.9l4.9 12.5l4.9 10.8l2.4 4.9l2.5 4.6l2.4 4.2l2.4 4l4.9 7.2l4.9 6.3l2.4 2.8l4.9 5.1l4.9 4.5l2.4 2.1l4.9 3.7l7.3 4.7l4.9 2.7l2.4 1.2l4.9 2.2l7.3 2.9l4.9 1.6l7.3 2.1l4.9 1.2l2.5 0.5l2.4 9.6l648.8 0" stroke="#ff7f0e"/>
<path d="M2127.7 1065.4l329.3 0l2.4-10.6l2.4-3l2.5-3.7l2.4-4.7l2.5-5.9l2.4-7.5l2.4-9.4l2.5-11.8l2.4-14.8l2.5-18.6l2.4-23.2l2.4-29l2.5-36.2l2.4-45l2.4-56l2.5-69.6l2.4-86.4l2.5-106.9l2.4-132.3l2.4-163.4l2.5-92.4l68.3 0l2.4 35.7l4.9 121.2l2.4 53.8l4.9 96.1l2.4 42.8l4.9 76.4l4.9 65.8l2.4 29.4l4.9 52.6l4.9 45.5l2.4 20.3l4.9 36.6l4.9 31.7l2.4 14.2l4.9 25.6l4.9 22.3l2.4 10l4.9 18.1l2.4 8.2l4.9 14.7l4.9 12.9l2.4 5.8l4.9 10.6l4.9 9.2l2.4 4.2l2.5 4l2.4 3.6l4.9 6.7l2.4 3l4.9 5.6l2.4 2.5l4.9 4.5l4.9 4.1l2.4 1.8l7.4 4.9l4.8 2.8l7.4 3.6l7.3 3l4.8 1.7l9.8 2.9l7.3 1.8l2.5 0.5l2.4 9.7l617.1 0" stroke="#2ca02c"/>
<path d="M2127.7 1065.4l346.3 0l2.5-9.3l2.4-2.5l2.5-3.1l2.4-3.8l2.4-4.8l2.5-6l2.4-7.4l2.4-9.3l2.5-11.4l2.4-14.3l2.5-17.7l2.4-21.8l2.4-27l2.5-33.3l2.4-41.1l2.5-50.5l2.4-62.1l2.4-76.2l2.5-93.5l2.4-114.5l2.5-140.1l2.4-171.2l2.4-9.5l70.8 0l2.4 29l2.4 60.4l4.9 108.2l4.9 93.4l2.4 41.8l4.9 75.2l4.9 65.1l2.4 29.2l4.9 52.7l4.9 45.7l2.4 20.7l4.9 37.2l2.4 16.7l4.9 30.3l4.9 26.5l2.4 12l4.9 21.7l4.9 19l2.4 8.6l4.9 15.6l4.9 13.7l2.4 6.3l4.9 11.3l2.4 5.2l4.9 9.3l4.9 8.3l2.4 3.8l4.9 6.9l4.9 6l2.4 2.8l4.9 5.1l4.9 4.5l2.4 2.1l7.3 5.5l7.4 4.6l4.8 2.6l4.9 2.4l7.3 3.1l7.4 2.6l4.8 1.5l12.2 3.1l4.9 1l2.4 9.7l583 0" stroke="#d62728"/>
<path d="M2127.7 1065.4l365.8 0l2.5-9.5l2.4-2.4l2.5-2.9l2.4-3.6l2.4-4.5l2.5-5.5l2.4-6.7l2.5-8.4l2.4-10.2l2.4-12.6l2.5-15.5l2.4-18.9l2.5-23.1l2.4-28.3l2.4-34.5l2.5-42.1l2.4-51.2l2.5-62.3l2.4-75.7l2.4-91.9l2.5-111.4l2.4-134.9l2.4-163.2l2.5-11.1l75.6 0l2.4 50.6l4.9 108.2l4.9 94.1l2.4 42.4l4.9 76.4l2.4 34.5l4.9 62.3l4.9 54.4l2.4 24.6l4.9 44.6l4.9 39l2.4 17.7l4.9 32.1l4.9 28.2l2.4 12.8l4.9 23.3l2.4 10.6l4.9 19.3l4.9 17l2.4 7.8l4.9 14.1l4.9 12.5l2.4 5.7l4.9 10.4l4.9 9.3l2.4 4.2l4.9 7.8l2.4 3.5l2.5 3.4l2.4 3.1l4.9 5.8l2.4 2.6l4.9 4.9l4.9 4.3l2.4 2l4.9 3.7l4.9 3.3l2.4 1.5l4.9 2.8l2.5 1.2l2.4 1.3l9.7 4.2l4.9 1.8l4.9 1.6l4.9 1.5l7.3 1.9l12.2 2.6l2.4 9.5l546.4 0" stroke="#9467bd"/>
<path d="M2127.7 1065.4l387.8 0l2.4-11l2.5-2.5l2.4-3.1l2.5-3.9l2.4-4.6l2.4-5.7l2.5-7l2.4-8.4l2.5-10.3l2.4-12.5l2.4-15.2l2.5-18.4l2.4-22.3l2.4-26.9l2.5-32.6l2.4-39.3l2.5-47.4l2.4-57.2l2.4-68.8l2.5-82.6l2.4-99.4l2.5-119.1l2.4-142.9l2.4-89.3l80.5 0l2.5 38.9l2.4 54.1l2.4 50.5l4.9 91.6l4.9 80.3l2.4 36.3l4.9 66l4.9 58l2.4 26.3l4.9 47.9l2.4 21.7l4.9 39.6l4.9 35l2.4 15.9l4.9 29.1l4.9 25.7l2.4 11.7l4.9 21.5l4.9 19l2.4 8.7l4.9 15.9l2.4 7.3l4.9 13.3l4.9 11.9l2.4 5.4l4.9 10l4.9 9l2.4 4.1l4.9 7.5l4.9 6.7l2.4 3.1l4.9 5.7l7.3 7.5l4.9 4.3l2.4 2l4.9 3.7l7.3 4.9l4.9 2.8l4.9 2.6l4.9 2.3l7.3 3l4.9 1.8l4.8 1.6l7.4 2.1l4.8 1.3l2.5 0.5l2.4 0.6l7.3 1.5l2.5 0.4l2.4 0.5l2.5 9.3l507.3 0" stroke="#8c564b"/>
<path d="M2127.7 1065.4l407.3 0l2.5-9.3l2.4-2.1l2.4-2.5l2.5-3l2.4-3.7l2.4-4.5l2.5-5.4l2.4-6.4l2.5-7.9l2.4-9.4l2.4-11.4l2.5-13.6l2.4-16.4l2.5-19.7l2.4-23.6l2.4-28.3l2.5-33.8l2.4-40.4l2.5-48.3l2.4-57.6l2.4-68.7l2.5-81.9l2.4-97.3l2.4-115.8l2.5-137.5l2.4-81.9l85.4 0l4.9 100.7l2.4 47.7l2.4 44.7l4.9 81.4l4.9 71.9l2.4 32.7l4.9 59.7l4.9 52.8l2.4 24.1l4.9 44.1l4.9 39l2.4 17.9l4.9 32.7l2.4 15l4.9 27.4l4.9 24.4l2.4 11.2l4.9 20.6l4.9 18.3l2.4 8.4l4.9 15.5l4.9 13.8l2.4 6.4l4.9 11.7l4.9 10.5l2.4 4.9l4.9 8.9l2.4 4.1l4.9 7.6l4.9 6.8l2.4 3.2l4.9 5.8l7.3 7.7l4.9 4.5l7.3 5.9l4.9 3.5l2.4 1.6l4.9 3l2.5 1.3l2.4 1.4l7.3 3.5l9.8 4.1l9.7 3.3l7.4 2.1l7.3 1.8l12.2 2.5l4.8 0.8l2.5 9.5l468.3 0" stroke="#e377c2"/>
<path d="M2127.7 1065.4l431.7 0l2.4-10.8l2.5-2.3l2.4-2.7l2.5-3.2l2.4-3.9l2.4-4.7l2.5-5.6l2.4-6.7l2.5-7.9l2.4-9.6l2.4-11.3l2.5-13.5l2.4-16.1l2.4-19.1l2.5-22.7l2.4-27l2.5-32l2.4-37.9l2.4-44.8l2.5-53.1l2.4-62.7l2.5-74.1l2.4-87.4l2.4-103l2.5-121.5l2.4-142.9l2.5-3.9l87.8 0l2.4 28.6l2.4 49.6l4.9 90.5l4.9 80.3l2.4 36.7l4.9 67.2l2.4 30.8l4.9 56.4l4.9 50.1l2.4 23.1l4.9 42.2l4.9 37.7l2.4 17.3l4.9 31.8l4.9 28.4l2.4 13.1l4.9 24.1l4.9 21.6l2.4 9.9l4.9 18.4l2.4 8.4l4.9 15.6l4.9 14.1l2.4 6.4l4.9 12l4.9 10.8l2.4 5l4.9 9.2l4.9 8.3l2.4 3.9l4.9 7.1l2.4 3.3l4.9 6.1l4.9 5.6l2.4 2.6l7.4 7l4.8 4.1l7.4 5.5l4.8 3.2l7.4 4.3l4.8 2.6l2.5 1.1l2.4 1.2l7.3 3.1l7.3 2.7l4.9 1.6l7.3 2.1l2.5 0.6l2.4 0.7l7.3 1.7l7.3 1.5l4.9 0.8l4.9 0.9l2.4 9.5l426.9 0" stroke="#7f7f7f"/>
<path d="M2127.7 1065.4l453.7 0l2.4-9.5l2.4-1.8l2.5-2.3l2.4-2.6l2.4-3.2l2.5-3.7l2.4-4.5l2.5-5.3l2.4-6.2l2.4-7.4l2.5-8.8l2.4-10.4l2.5-12.2l2.4-14.4l2.4-17.1l2.5-20l2.4-23.6l2.5-27.8l2.4-32.6l2.4-38.4l2.5-45l2.4-52.8l2.5-61.8l2.4-72.4l2.4-84.8l2.5-99.1l2.4-115.8l2.4-135.2l2.5-11.7l92.7 0l2.4 25.8l2.4 47.3l4.9 86.8l4.9 77.4l2.4 35.6l4.9 65.4l4.9 58.4l2.4 26.9l4.9 49.5l4.9 44.4l2.4 20.4l4.9 37.7l2.4 17.4l4.9 32.1l4.9 28.8l2.4 13.3l4.9 24.6l4.9 22.1l2.4 10.3l4.9 18.9l4.9 17.1l2.4 7.9l4.9 14.7l2.4 6.8l4.9 12.6l4.9 11.4l2.4 5.3l4.9 9.8l4.9 8.9l2.4 4.2l4.9 7.7l4.9 7l2.4 3.2l4.9 6l7.3 8.1l7.3 7l4.9 4.1l4.9 3.8l7.3 5l2.5 1.6l7.3 4.2l7.3 3.6l9.7 4.2l7.4 2.7l4.8 1.6l2.5 0.7l2.4 0.8l2.5 0.6l12.2 3.1l9.7 2l4.9 0.8l2.4 0.5l2.5 0.3l2.4 0.4l2.4 9.6l383 0" stroke="#bcbd22"/>
<path d="M2127.7 1065.4l480.5 0l2.4-10.8l2.5-2.1l2.4-2.4l2.4-2.8l2.5-3.3l2.4-3.9l2.5-4.6l2.4-5.4l2.4-6.3l2.5-7.4l2.4-8.7l2.5-10.2l2.4-12l2.4-14l2.5-16.4l2.4-19.1l2.4-22.3l2.5-26.1l2.4-30.4l2.5-35.4l2.4-41.2l2.4-48l2.5-55.8l2.4-64.9l2.5-75.3l2.4-87.4l2.4-101.3l2.5-117.5l2.4-95.4l100 0l2.5 37.5l2.4 44.4l2.4 41.9l4.9 77.5l2.4 35.7l4.9 65.9l4.9 59.2l2.4 27.4l4.9 50.5l4.9 45.5l2.4 21.1l4.9 38.9l4.9 35.2l2.4 16.3l4.9 30.1l2.4 14l4.9 25.9l4.9 23.4l2.4 10.9l4.9 20.2l4.9 18.3l2.4 8.5l4.9 15.8l4.9 14.3l2.4 6.7l4.9 12.4l4.9 11.3l2.4 5.2l4.9 9.8l2.4 4.6l4.9 8.5l4.9 7.8l2.4 3.6l4.9 6.7l4.9 6.2l4.9 5.6l2.4 2.6l7.3 7.2l4.9 4.3l2.4 2l4.9 3.8l7.3 5l2.5 1.6l4.9 2.9l4.8 2.6l9.8 4.7l7.3 3l4.9 1.8l9.7 3.2l4.9 1.4l2.5 0.6l7.3 1.9l12.2 2.6l12.2 2.1l4.8 0.7l2.5 9.6l336.6 0" stroke="#17becf"/>
<path d="M2127.7 1065.4l504.9 0l2.4-9.5l2.5-1.7l2.4-2l2.4-2.3l2.5-2.7l2.4-3.2l2.4-3.7l2.5-4.3l2.4-5l2.5-5.8l2.4-6.8l2.4-8l2.5-9.2l2.4-10.7l2.5-12.4l2.4-14.5l2.4-16.7l2.5-19.4l2.4-22.5l2.5-26l2.4-30.1l2.4-34.8l2.5-40.2l2.4-46.5l2.4-53.6l2.5-61.8l2.4-71.2l2.5-82.1l2.4-94.5l2.4-108.7l2.5-120.5l104.9 0l2.4 16.2l2.4 43.2l4.9 80.1l4.9 72.2l2.4 33.4l4.9 62l2.4 28.7l4.9 53.2l4.9 48.2l2.4 22.4l4.9 41.5l4.9 37.6l2.4 17.4l4.9 32.5l4.9 29.5l2.4 13.7l4.9 25.5l4.9 23.2l2.4 10.8l4.9 20.1l2.4 9.4l4.9 17.5l4.9 15.9l2.4 7.4l4.9 13.9l4.9 12.6l2.4 5.9l4.9 11.1l4.9 10.1l2.4 4.7l4.9 8.8l2.4 4.1l4.9 7.7l4.9 7.1l2.4 3.3l4.9 6.2l7.3 8.4l4.9 5l4.9 4.6l4.9 4.2l7.3 5.7l7.3 5l7.3 4.4l7.3 3.9l4.9 2.4l12.2 5.1l7.3 2.6l7.3 2.3l4.9 1.4l2.5 0.6l7.3 1.9l12.2 2.6l17 2.9l2.5 0.3l2.4 0.4l2.5 9.6l287.8 0" stroke="#1f77b4"/>
<path d="M2127.7 1065.4l534.1 0l2.5-10.6l4.9-3.8l2.4-2.4l2.4-2.8l2.5-3.2l2.4-3.7l2.5-4.3l2.4-5l2.4-5.7l2.5-6.6l2.4-7.7l2.4-8.9l2.5-10.2l2.4-11.7l2.5-13.6l2.4-15.6l2.4-18l2.5-20.6l2.4-23.7l2.5-27.3l2.4-31.3l2.4-35.9l2.5-41.2l2.4-47.2l2.5-54.1l2.4-61.8l2.4-70.9l2.5-81l2.4-92.5l2.4-105.8l2.5-103.3l109.7 0l2.5 6.5l2.4 41.5l4.9 77.3l2.4 35.9l4.9 66.8l4.9 60.5l2.4 28.2l4.9 52.4l4.9 47.7l2.4 22.2l4.9 41.3l2.4 19.3l4.9 35.9l4.9 32.7l2.4 15.3l4.9 28.5l4.9 26l2.4 12.2l4.9 22.6l4.9 20.8l2.4 9.7l4.9 18.1l2.4 8.5l4.9 15.8l4.9 14.6l2.4 6.8l4.9 12.7l4.9 11.7l2.4 5.5l4.9 10.2l4.9 9.5l2.4 4.4l4.9 8.3l7.3 11.2l7.3 9.9l4.9 5.9l4.9 5.5l7.3 7.4l7.3 6.5l4.9 4l7.3 5.3l4.9 3.3l2.4 1.5l2.5 1.4l2.4 1.5l7.3 3.9l9.8 4.5l7.3 3l4.9 1.8l4.9 1.7l4.8 1.5l9.8 2.8l9.8 2.4l12.2 2.5l14.6 2.5l9.7 1.3l2.5 0.4l2.4 9.3l234.2 0" stroke="#ff7f0e"/>
<path d="M2127.7 1065.4l563.4 0l2.4-10.7l2.5-1.7l2.4-1.9l2.5-2.2l2.4-2.6l2.4-3l2.5-3.4l2.4-3.9l2.5-4.5l2.4-5.2l2.4-5.9l2.5-6.8l2.4-7.8l2.5-8.9l2.4-10.3l2.4-11.7l2.5-13.3l2.4-15.3l2.4-17.5l2.5-19.9l2.4-22.8l2.5-26l2.4-29.6l2.4-33.7l2.5-38.4l2.4-43.8l2.5-49.7l2.4-56.6l2.4-64.3l2.5-73.1l2.4-83l2.5-94.2l2.4-106.9l2.4-51.8l114.7 0l2.4 5.4l2.4 39.6l4.9 73.8l4.9 67.3l2.4 31.4l4.9 58.6l4.9 53.4l2.4 25l4.9 46.6l4.9 42.6l2.4 19.9l4.9 37.3l2.4 17.4l4.9 32.6l4.9 29.8l2.4 14l4.9 26.2l4.9 24l2.4 11.3l4.9 21.1l4.9 19.3l2.4 9.1l4.9 17.1l7.3 23l4.9 13.8l2.4 6.5l4.9 12.2l4.9 11.2l2.4 5.3l4.9 10l4.9 9.1l2.4 4.3l4.9 8.1l7.3 11.1l4.9 6.6l2.4 3.1l4.9 5.9l7.3 8.1l4.9 4.8l4.9 4.5l4.9 4.2l9.7 7.4l4.9 3.3l7.3 4.5l9.8 5.3l2.4 1.2l9.8 4.4l2.4 1l9.8 3.6l9.7 3.2l7.3 2.1l12.2 3l14.7 3l14.6 2.4l14.6 2l2.5 9.4l180.5 0" stroke="#2ca02c"/>
<path d="M2127.7 1065.4l592.7 0l2.4-9.8l2.5-1.5l2.4-1.7l2.4-1.9l2.5-2.3l2.4-2.5l2.4-2.9l2.5-3.3l2.4-3.7l2.5-4.3l2.4-4.9l2.4-5.6l2.5-6.3l2.4-7.2l2.5-8.2l2.4-9.4l2.4-10.6l2.5-12.1l2.4-13.7l2.5-15.6l2.4-17.6l2.4-20l2.5-22.7l2.4-25.7l2.5-29.1l2.4-33l2.4-37.3l2.5-42.1l2.4-47.7l2.4-53.8l2.5-60.8l2.4-68.7l2.5-77.5l2.4-87.4l2.4-98.5l2.5-81l121.9 0l2.5 10.2l2.4 37.4l2.4 35.8l4.9 67.1l4.9 61.3l2.4 28.7l4.9 53.9l4.9 49.3l2.4 23.1l4.9 43.4l4.9 39.8l2.4 18.7l4.9 35l4.9 32.2l2.4 15.1l4.9 28.4l2.4 13.4l4.9 25l4.9 23.1l2.4 10.9l4.9 20.4l4.9 18.8l2.4 8.9l4.9 16.6l7.3 22.7l7.3 20.1l4.9 12.1l4.9 11.2l2.4 5.3l4.9 10l4.9 9.2l2.4 4.3l4.9 8.3l7.3 11.2l4.9 6.8l2.4 3.2l4.9 6l4.9 5.7l7.3 7.7l7.3 6.8l4.9 4.2l4.9 3.9l7.3 5.3l4.9 3.3l9.7 5.8l9.8 5.1l9.8 4.4l9.7 3.8l2.5 0.8l4.8 1.7l4.9 1.6l9.8 2.8l12.2 3l14.6 3l7.3 1.2l2.4 0.5l2.5 0.3l4.9 0.8l17 2.2l2.5 9.6l124.4 0" stroke="#d62728"/>
<path d="M2127.7 1065.4l624.4 0l2.4-9.6l2.5-1.3l4.8-3.3l2.5-2l2.4-2.3l2.5-2.6l2.4-2.9l2.4-3.3l2.5-3.7l2.4-4.3l2.5-4.8l2.4-5.4l2.4-6.2l2.5-6.9l2.4-7.9l2.4-8.9l2.5-10l2.4-11.4l2.5-12.8l2.4-14.4l2.4-16.3l2.5-18.3l2.4-20.7l2.5-23.2l2.4-26.2l2.4-29.5l2.5-33.1l2.4-37.3l2.5-41.8l2.4-47l2.4-52.8l2.5-59.2l2.4-66.5l2.4-74.6l2.5-83.5l2.4-93.7l2.5-82.7l129.2 0l2.5 18.2l2.4 35.3l4.9 66.1l2.4 31.1l4.9 58.4l2.4 27.4l4.9 51.5l4.9 47.5l2.4 22.3l4.9 42l4.9 38.6l2.4 18.2l4.9 34.3l4.9 31.6l2.4 14.9l4.9 28.1l2.4 13.2l4.9 24.9l4.9 23.1l2.4 10.8l4.9 20.5l4.9 19l2.4 8.9l4.9 16.9l4.9 15.7l2.4 7.3l4.9 14l2.4 6.6l4.9 12.5l7.3 17l4.9 10.3l7.3 14.2l4.9 8.6l7.3 11.8l4.9 7.1l4.9 6.7l4.9 6.2l4.8 5.8l9.8 10.4l7.3 6.8l7.3 6.2l4.9 3.8l7.3 5.2l7.3 4.7l7.4 4.3l4.8 2.6l4.9 2.4l2.5 1.1l2.4 1.2l9.8 4.1l9.7 3.6l7.3 2.4l12.2 3.5l12.2 3l4.9 1l2.4 0.6l2.5 0.4l4.9 1l17 2.9l2.5 0.3l7.3 1l2.4 0.4l7.3 0.9l2.5 0.2l2.4 0.3l2.5 9.5l63.4 0" stroke="#9467bd"/>
<path d="M2127.7 1065.4l658.5 0l2.5-9.7l2.4-1.3l4.9-3.1l4.9-4l2.4-2.4l2.4-2.7l2.5-3l2.4-3.4l2.5-3.9l2.4-4.3l2.4-4.8l2.5-5.5l2.4-6.2l2.5-6.9l2.4-7.7l2.4-8.8l2.5-9.7l2.4-11l2.4-12.3l2.5-13.8l2.4-15.5l2.5-17.3l2.4-19.4l2.4-21.8l2.5-24.3l2.4-27.1l2.5-30.4l2.4-34l2.4-38l2.5-42.4l2.4-47.3l2.5-52.8l2.4-59l2.4-65.7l2.5-73.3l2.4-81.7l2.5-91l2.4-64.9l136.6 0l2.4 27.2l4.9 65l2.4 30.6l4.9 57.6l2.4 27.2l4.9 51.2l4.9 47.4l2.4 22.3l4.9 42.1l4.9 39l2.4 18.4l4.9 34.7l4.9 32.1l2.4 15.2l4.9 28.7l2.4 13.6l4.9 25.6l7.3 35l4.9 21.2l4.9 19.8l2.4 9.3l4.9 17.7l7.3 24.2l4.9 14.7l7.3 20.2l4.9 12.3l2.4 5.8l4.9 11.1l4.9 10.3l4.9 9.6l2.4 4.5l7.3 12.7l4.9 7.8l4.9 7.3l2.4 3.4l4.9 6.6l2.4 3.1l4.9 5.9l7.3 8.1l4.9 5l7.3 6.9l4.9 4.2l4.9 4l9.7 7.1l2.5 1.7l7.3 4.6l7.3 4.2l7.3 3.8l12.2 5.6l4.9 2l12.2 4.5l4.9 1.6l12.2 3.6l4.9 1.2l4.8 1.3l2.5 0.5l2.4 0.6l2.5 0.5l9.7 2.1l19.5 3.4l2.5 0.3l25.3 3.3l3.4 9.9l3 0" stroke="#8c564b"/>
<path d="M2127.7 1065.4l695.1 0l2.5-10.1l4.8-2.7l2.5-1.6l4.8-3.9l2.5-2.3l2.4-2.5l2.5-2.9l2.4-3.2l2.4-3.6l2.5-4l2.4-4.5l2.5-5l2.4-5.6l2.4-6.3l2.5-7l2.4-7.8l2.5-8.7l2.4-9.8l2.4-10.8l2.5-12.1l2.4-13.5l2.5-15l2.4-16.8l2.4-18.6l2.5-20.8l2.4-23l2.4-25.7l2.5-28.5l2.4-31.8l2.5-35.2l2.4-39.2l2.4-43.5l2.5-48.2l2.4-53.6l2.5-59.4l2.4-65.9l2.4-73l2.5-81l2.4-89.6l2.5-33.7l141.4 0l2.5 2.8l4.8 63.7l4.9 58.9l2.4 27.9l4.9 52.6l4.9 48.9l2.4 23l4.9 43.7l4.9 40.6l2.4 19.2l4.9 36.3l7.3 49.7l4.9 30.3l7.3 41.5l7.3 37.2l4.9 22.7l4.9 21.2l2.4 10l4.9 19.1l7.3 26.1l4.9 16l7.3 22l7.3 19.9l4.9 12.1l7.3 16.7l4.9 10.3l4.9 9.6l2.4 4.5l4.9 8.7l7.3 12l7.3 10.8l4.9 6.7l7.3 9.2l4.9 5.6l7.3 7.8l4.9 4.9l4.9 4.5l7.3 6.2l4.9 3.9l9.7 7l4.9 3.2l7.3 4.4l4.9 2.8l7.3 3.8l12.2 5.6l7.3 3l7.4 2.7l4.8 1.7l4.9 1.6l2.5 0.7l4.8 1.5l20.5 5.2l3.4 20.4l3 0" stroke="#e377c2"/>
<path d="M2127.7 1065.4l731.7 0l2.4-9.6l2.5-1.2l4.9-2.7l2.4-1.6l4.9-3.8l2.4-2.2l2.5-2.5l2.4-2.8l2.4-3.1l2.5-3.4l2.4-3.8l2.4-4.2l2.5-4.7l2.4-5.3l2.5-5.8l2.4-6.5l2.4-7.1l2.5-8l2.4-8.9l2.5-9.8l2.4-10.9l2.4-12l2.5-13.4l2.4-14.8l2.5-16.4l2.4-18.2l2.4-20.1l2.5-22.2l2.4-24.7l2.4-27.2l2.5-30.1l2.4-33.2l2.5-36.8l2.4-40.6l2.4-44.8l2.5-49.5l2.4-54.6l2.5-60.3l2.4-66.5l2.4-73.3l2.5-80.8l2.4-83l151.2 0l2.5 10.4l2.4 30.5l7.3 85.3l4.9 51.9l2.4 24.6l4.9 46.7l4.9 43.5l2.4 20.6l4.9 39.1l4.9 36.5l2.4 17.3l4.9 32.9l7.3 45.2l7.3 40.7l4.9 25l7.3 34.4l4.9 21l7.3 29.1l4.9 17.8l4.9 16.7l2.4 7.9l7.3 22.3l4.9 13.7l7.3 18.9l4.9 11.6l7.3 16.1l4.9 9.9l7.3 13.7l4.9 8.5l7.3 11.7l7.3 10.6l4.9 6.6l7.3 9.1l4.9 5.6l7.3 7.8l4.9 4.8l4.9 4.6l9.7 8.3l4.9 3.8l9.8 6.9l2.4 1.6l2.5 1.5l2.4 1.6l4.9 2.9l9.7 5.3l8.3 4l3.4 41.9l3 0" stroke="#7f7f7f"/>
<path d="M2127.7 1065.4l770.7 0l2.5-9.4l2.4-1l4.9-2.5l4.9-3.1l2.4-1.8l4.9-4.2l4.9-5.2l2.4-3l2.4-3.3l2.5-3.7l2.4-4l2.4-4.5l2.5-5l2.4-5.5l2.5-6.1l2.4-6.7l2.4-7.4l2.5-8.1l2.4-9.1l2.5-9.9l2.4-11l2.4-12.1l2.5-13.4l2.4-14.7l2.5-16.2l2.4-17.8l2.4-19.7l2.5-21.6l2.4-23.8l2.5-26.2l2.4-28.8l2.4-31.7l2.5-34.9l2.4-38.3l2.4-42l2.5-46.2l2.4-50.8l2.5-55.7l2.4-61.2l2.4-67.1l2.5-73.6l2.4-80.8l2.5-39.3l158.5 0l2.4 13.9l4.9 56.9l2.4 26.9l4.9 51.3l7.3 70.7l4.9 43.3l4.9 40.5l2.4 19.2l4.9 36.6l7.3 50.6l7.3 45.8l4.9 28.1l7.3 38.8l4.9 23.9l7.3 33.1l4.9 20.3l7.3 28.2l4.9 17.4l7.3 24l7.3 21.9l4.9 13.5l4.9 12.7l2.4 6l4.9 11.6l7.3 16l4.9 9.9l4.9 9.4l2.4 4.4l7.3 12.6l4.9 7.8l7.3 10.8l4.9 6.7l7.3 9.4l9.8 11.2l2.4 2.6l4.9 5l3.4 3.3l3.4 86.1l3 0" stroke="#bcbd22"/>
<path d="M2127.7 1065.4l814.6 0l2.5-10.3l4.8-2.3l2.5-1.4l4.9-3.1l2.4-1.8l4.9-4.2l2.4-2.4l2.5-2.7l2.4-3l2.4-3.2l2.5-3.6l2.4-3.9l2.5-4.3l2.4-4.8l2.4-5.2l2.5-5.8l2.4-6.3l4.9-14.6l2.4-8.4l2.5-9.2l2.4-10.1l2.4-11.1l2.5-12.1l2.4-13.4l2.5-14.6l2.4-16l2.4-17.6l2.5-19.3l2.4-21.1l2.5-23.1l2.4-25.2l2.4-27.7l2.5-30.3l2.4-33.2l2.4-36.2l2.5-39.7l2.4-43.3l2.5-47.4l2.4-51.8l2.4-56.6l2.5-61.8l2.4-67.5l2.5-73.7l2.4-77.1l168.3 0l2.4 12.5l7.3 79.9l4.9 49.1l7.3 68l4.9 41.8l7.3 57.9l4.9 35.6l7.3 49.4l7.3 45l4.9 27.7l7.3 38.5l4.9 23.8l7.3 33l4.9 20.3l7.3 28.4l7.3 25.8l4.9 16l7.3 22.3l4.9 13.8l7.3 19.1l4.9 11.9l7.3 16.6l4.9 10.2l3.4 6.9l3.4 176.9l3 0" stroke="#17becf"/>
<path d="M2127.7 1065.4l858.5 0l2.5-10.2l4.8-2.2l2.5-1.3l4.9-2.9l4.8-3.5l2.5-2l4.9-4.6l2.4-2.7l2.4-2.9l2.5-3.2l2.4-3.4l2.5-3.9l2.4-4.1l4.9-9.6l2.4-5.5l4.9-12.5l4.9-15l2.4-8.6l2.4-9.3l2.5-10.2l4.9-23.3l2.4-13.3l2.4-14.5l2.5-15.8l2.4-17.3l2.5-18.8l2.4-20.5l4.9-46.7l2.4-26.6l2.4-28.9l2.5-31.5l2.4-34.3l2.5-37.4l2.4-40.6l2.4-44.3l2.5-48.1l2.4-52.4l2.5-56.9l2.4-61.9l2.4-67.3l2.5-73.1l2.4-39.3l175.6 0l2.5 5.1l4.8 51.9l4.9 48.8l7.3 67.8l4.9 41.9l7.3 58.2l7.3 53.2l4.9 32.8l7.3 45.8l4.9 28.3l7.3 39.4l4.9 24.4l7.3 34.1l4.9 21.1l3.4 14l3.4 363.6l3 0" stroke="#1f77b4"/>
<path d="M2127.7 1065.4l902.4 0l2.5-9.3l4.8-1.9l2.5-1.1l4.9-2.5l4.8-2.9l2.5-1.7l4.9-3.9l2.4-2.2l4.9-5l2.4-2.8l2.5-3.1l2.4-3.4l4.9-7.7l2.4-4.4l4.9-10l4.9-11.8l2.4-6.8l4.9-15.2l4.9-18.1l2.4-10.2l2.4-11.1l2.5-12.1l2.4-13.1l2.5-14.3l2.4-15.4l4.9-35.1l2.4-19.8l2.5-21.6l2.4-23.3l2.4-25.3l2.5-27.5l2.4-29.8l4.9-67.3l4.9-79l2.4-44.6l4.9-100.5l4.9-117.8l2.4-66.3l2.4-71.7l2.5-10.8l185.3 0l2.5 16.3l2.4 24.7l7.3 70l4.9 43.3l2.5 20.7l0.9 8.2l3.4 747.2l3 0" stroke="#ff7f0e"/>
<path d="M2127.7 1065.4l951.2 0l2.4-9.4l2.5-0.8l4.9-2l4.8-2.3l2.5-1.3l2.4-1.4l2.5-1.6l4.8-3.5l2.5-2l4.9-4.5l2.4-2.6l4.9-5.8l4.9-6.8l2.4-3.9l2.4-4.1l2.5-4.6l2.4-4.9l2.4-5.3l2.5-5.8l4.9-13.1l2.4-7.3l4.9-16.6l4.9-19.5l2.4-10.9l4.9-24.7l4.9-28.9l2.4-16.2l2.4-17.5l2.5-19l2.4-20.5l4.9-46l4.9-53.8l2.4-30.1l4.9-67.7l4.9-78.8l2.4-44.1l4.9-99l4.9-115l4.8-129.1l152.2 0l3.4 930.4l3 0" stroke="#2ca02c"/>
<path d="M2127.7 1065.4l1002.4 0l2.5-9.3l4.8-1.7l7.4-3.1l7.3-4l2.4-1.5l2.5-1.7l2.4-1.8l4.9-4.1l4.9-4.8l2.4-2.6l2.4-2.9l2.5-3.2l2.4-3.4l2.4-3.6l2.5-4l2.4-4.2l2.5-4.6l2.4-5l4.9-11.2l4.9-13l2.4-7.3l4.9-16.3l4.9-19l2.4-10.7l2.4-11.4l2.5-12.4l2.4-13.3l4.9-29.7l4.9-34.5l2.4-19.3l4.9-43.1l4.9-49.8l2.4-27.8l4.9-62l4.9-71.8l2.4-39.9l4.9-89l4.9-102.8l2.4-57.2l4.9-123.4l93.6 0l3.4 930.4l3 0" stroke="#d62728"/>
</g></g>
<rect x="2065.0" y="44.6" width="1373.3" height="1021.8" fill="none" stroke="#000" stroke-width="2.85" filter="url(#bS)"/>
<g font-family="'DejaVu Sans', 'Liberation Sans', sans-serif" font-size="36.9px" fill="#000" filter="url(#bT)">
<text x="2129.1" y="1109.3" text-anchor="middle">0</text>
<text x="2370.0" y="1109.3" text-anchor="middle">50</text>
<text x="2614.2" y="1109.3" text-anchor="middle">100</text>
<text x="2858.0" y="1109.3" text-anchor="middle">150</text>
<text x="3103.3" y="1109.3" text-anchor="middle">200</text>
<text x="3346.5" y="1109.3" text-anchor="middle">250</text>
<text x="2049.5" y="150.3" text-anchor="end">1.0</text>
<text x="2049.5" y="335.8" text-anchor="end">0.8</text>
<text x="2049.5" y="521.5" text-anchor="end">0.6</text>
<text x="2049.5" y="707.3" text-anchor="end">0.4</text>
<text x="2049.5" y="895.2" text-anchor="end">0.2</text>
<text x="2049.5" y="1080.9" text-anchor="end">0.0</text>
<text x="2748.7" y="1164.7" text-anchor="middle" font-size="37.9px">Frequency(Hz)</text>
<text transform="translate(1963.0 558.5) rotate(-90)" text-anchor="middle" font-size="37.9px">Amplitude</text>
</g>
<clipPath id="c3"><rect x="151.4" y="1382.5" width="1373.3" height="1021.8"/></clipPath>
<g stroke="#b0b0b0" stroke-width="2.80" fill="none" filter="url(#bS)">
<line x1="214.6" y1="1382.5" x2="214.6" y2="2404.3"/>
<line x1="458.3" y1="1382.5" x2="458.3" y2="2404.3"/>
<line x1="702.0" y1="1382.5" x2="702.0" y2="2404.3"/>
<line x1="945.8" y1="1382.5" x2="945.8" y2="2404.3"/>
<line x1="1189.5" y1="1382.5" x2="1189.5" y2="2404.3"/>
<line x1="1433.2" y1="1382.5" x2="1433.2" y2="2404.3"/>
<line x1="151.4" y1="1473.9" x2="1524.7" y2="1473.9"/>
<line x1="151.4" y1="1659.4" x2="1524.7" y2="1659.4"/>
<line x1="151.4" y1="1847.8" x2="1524.7" y2="1847.8"/>
<line x1="151.4" y1="2033.4" x2="1524.7" y2="2033.4"/>
<line x1="151.4" y1="2219.0" x2="1524.7" y2="2219.0"/>
<line x1="151.4" y1="2404.3" x2="1524.7" y2="2404.3"/>
</g>
<g stroke="#000" stroke-width="2.85" fill="none" filter="url(#bS)">
<line x1="214.6" y1="2404.3" x2="214.6" y2="2389.3"/>
<line x1="458.3" y1="2404.3" x2="458.3" y2="2389.3"/>
<line x1="702.0" y1="2404.3" x2="702.0" y2="2389.3"/>
<line x1="945.8" y1="2404.3" x2="945.8" y2="2389.3"/>
<line x1="1189.5" y1="2404.3" x2="1189.5" y2="2389.3"/>
<line x1="1433.2" y1="2404.3" x2="1433.2" y2="2389.3"/>
<line x1="151.4" y1="1473.9" x2="166.4" y2="1473.9"/>
<line x1="151.4" y1="1659.4" x2="166.4" y2="1659.4"/>
<line x1="151.4" y1="1847.8" x2="166.4" y2="1847.8"/>
<line x1="151.4" y1="2033.4" x2="166.4" y2="2033.4"/>
<line x1="151.4" y1="2219.0" x2="166.4" y2="2219.0"/>
<line x1="151.4" y1="2404.3" x2="166.4" y2="2404.3"/>
</g>
<g clip-path="url(#c3)"><g fill="none" stroke-width="5.76" stroke-linejoin="round" stroke-linecap="square" filter="url(#bD)">
<path d="M212.1 2403.3l4.9-814.7l4.9 814.7l1239 0" stroke="#1f77b4"/>
<path d="M212.1 2403.3l4.9-115.7l4.9-626l4.8 741.7l1234.2 0" stroke="#ff7f0e"/>
<path d="M212.1 2403.3l4.9 0l4.9-188.7l4.8-519.9l4.9 708.6l1229.3 0" stroke="#2ca02c"/>
<path d="M212.1 2403.3l9.8 0l4.8-221.8l4.9-490.4l4.9 712.2l1224.4 0" stroke="#d62728"/>
<path d="M212.1 2403.3l14.6 0l4.9-218.2l4.9-531.8l4.9 750l1219.5 0" stroke="#9467bd"/>
<path d="M212.1 2403.3l19.5 0l4.9-180.4l4.9-638.8l4.8 819.2l1214.7 0" stroke="#8c564b"/>
<path d="M212.1 2403.3l24.4 0l4.9-111.2l4.8-806.3l4.9 801l4.9 116.5l1204.9 0" stroke="#e377c2"/>
<path d="M212.1 2403.3l29.3 0l4.8-12.9l4.9-801l4.9 542l4.9 271.9l1200 0" stroke="#7f7f7f"/>
<path d="M212.1 2403.3l39 0l4.9-658.5l4.9 207.8l4.9 450.7l1195.1 0" stroke="#bcbd22"/>
<path d="M212.1 2403.3l43.9 0l4.9-479.7l4.9-171.3l4.8 651l1190.3 0" stroke="#17becf"/>
<path d="M212.1 2403.3l48.8 0l4.9-279.4l4.8-591.3l4.9 686l4.9 184.7l1180.5 0" stroke="#1f77b4"/>
<path d="M212.1 2403.3l53.7 0l4.8-59.7l4.9-686l4.9 297.4l4.9 448.3l1175.6 0" stroke="#ff7f0e"/>
<path d="M212.1 2403.3l63.4 0l4.9-482.1l4.9-244.8l4.8 634.8l4.9 92.1l1165.9 0" stroke="#2ca02c"/>
<path d="M212.1 2403.3l68.3 0l4.9-203.5l4.8-634.8l4.9 429.9l4.9 408.4l1161 0" stroke="#d62728"/>
<path d="M212.1 2403.3l78 0l4.9-522l4.9-213.9l4.9 587.4l4.9 148.5l1151.2 0" stroke="#9467bd"/>
<path d="M212.1 2403.3l82.9 0l4.9-194.5l4.9-587.4l4.9 273.7l4.8 508.2l1146.4 0" stroke="#8c564b"/>
<path d="M212.1 2403.3l92.7 0l4.9-422.2l4.8-453.5l4.9 543.6l4.9 332.1l1136.6 0" stroke="#e377c2"/>
<path d="M212.1 2403.3l97.6 0l4.8-54.7l4.9-543.6l4.9-128.7l4.9 522.9l4.8 204.1l1126.9 0" stroke="#7f7f7f"/>
<path d="M212.1 2403.3l107.3 0l4.9-203.4l4.9-522.9l4.8 102.6l4.9 503l4.9 120.7l1117.1 0" stroke="#bcbd22"/>
<path d="M212.1 2403.3l117.1 0l4.8-306.7l4.9-503l4.9 247.1l4.9 483.9l4.9 78.7l1107.3 0" stroke="#17becf"/>
<path d="M212.1 2403.3l126.8 0l4.9-367.8l4.9-483.9l4.9 311.1l4.8 465.4l4.9 75.2l1097.6 0" stroke="#1f77b4"/>
<path d="M212.1 2403.3l136.6 0l4.9-389.8l4.8-465.4l4.9 300.3l4.9 447.8l4.9 107.1l1087.8 0" stroke="#ff7f0e"/>
<path d="M212.1 2403.3l146.3 0l4.9-375.5l4.9-447.8l4.9 220.6l4.9 430.8l4.8 171.9l1078.1 0" stroke="#2ca02c"/>
<path d="M212.1 2403.3l156.1 0l4.9-327.7l4.9-430.8l4.8 77.1l4.9 414.3l4.9 267.1l1068.3 0" stroke="#d62728"/>
<path d="M212.1 2403.3l165.9 0l4.8-249l4.9-414.3l4.9-125.4l9.7 788.7l1058.6 0" stroke="#9467bd"/>
<path d="M212.1 2403.3l175.6 0l4.9-141.7l4.9-398.6l4.8-381.9l9.8 767l4.9 155.2l1043.9 0" stroke="#8c564b"/>
<path d="M212.1 2403.3l185.4 0l4.8-8.2l9.8-767l4.9 64.3l4.9 368.9l4.8 342l1034.2 0" stroke="#e377c2"/>
<path d="M212.1 2403.3l200 0l4.9-219.5l4.9-368.9l4.8-316.1l9.8 709.7l4.9 194.8l1019.5 0" stroke="#7f7f7f"/>
<path d="M212.1 2403.3l209.8 0l4.8-25.9l9.8-709.7l4.9-40.9l9.7 682.8l4.9 93.7l1004.9 0" stroke="#bcbd22"/>
<path d="M212.1 2403.3l224.4 0l4.9-153.9l9.7-682.8l4.9 144.5l9.8 656.7l4.8 35.5l990.3 0" stroke="#17becf"/>
<path d="M212.1 2403.3l239 0l4.9-238.2l9.8-656.7l4.8 246.3l9.8 631.8l4.9 16.8l975.6 0" stroke="#1f77b4"/>
<path d="M212.1 2403.3l253.7 0l4.8-281.8l9.8-631.8l4.9 270.9l4.8 303.9l4.9 303.8l4.9 35l961 0" stroke="#ff7f0e"/>
<path d="M212.1 2403.3l268.3 0l4.9-287.7l4.8-303.9l4.9-303.8l4.9 223.7l9.8 584.6l4.8 87.1l946.4 0" stroke="#2ca02c"/>
<path d="M212.1 2403.3l282.9 0l4.9-258.7l9.8-584.6l4.8 110.3l9.8 562.4l4.9 170.6l931.7 0" stroke="#d62728"/>
<path d="M212.1 2403.3l297.6 0l4.8-197.4l9.8-562.4l4.9-64.2l4.8 270.6l9.8 541l4.9 12.4l912.2 0" stroke="#9467bd"/>
<path d="M212.1 2403.3l312.2 0l4.9-106.4l4.8-270.6l9.8-541l4.9 235.9l9.7 520.4l4.9 161.7l897.6 0" stroke="#8c564b"/>
<path d="M212.1 2403.3l331.7 0l4.9-248.3l9.7-520.4l4.9-66.9l14.7 751l4.8 84.6l878.1 0" stroke="#e377c2"/>
<path d="M212.1 2403.3l346.3 0l4.9-94.8l14.7-751l4.8 74.8l14.7 722.4l4.8 48.6l858.6 0" stroke="#7f7f7f"/>
<path d="M212.1 2403.3l365.9 0l4.8-159.4l14.7-722.4l4.8 136.3l14.7 695l4.9 50.5l839 0" stroke="#bcbd22"/>
<path d="M212.1 2403.3l385.4 0l4.8-184.9l14.7-695l4.9 123.8l14.6 668.5l4.9 87.6l819.5 0" stroke="#17becf"/>
<path d="M212.1 2403.3l404.9 0l4.9-174.3l14.6-668.5l4.9 42.5l4.8 214.4l9.8 428.7l4.9 157.2l800 0" stroke="#1f77b4"/>
<path d="M212.1 2403.3l424.4 0l4.9-130.1l4.8-214.4l9.8-428.7l4.9-102.2l19.5 824.9l4.9 50.5l775.6 0" stroke="#ff7f0e"/>
<path d="M212.1 2403.3l443.9 0l4.9-55l19.5-824.9l4.9 99.3l14.6 595.1l4.9 185.5l756.1 0" stroke="#2ca02c"/>
<path d="M212.1 2403.3l468.3 0l4.9-149.8l14.6-595.1l4.9-173.1l19.5 763.3l4.9 154.7l731.7 0" stroke="#d62728"/>
<path d="M212.1 2403.3l487.8 0l4.9-12.4l19.5-763.3l4.9-119.9l19.5 734.3l4.9 161.3l707.3 0" stroke="#9467bd"/>
<path d="M212.1 2403.3l512.2 0l4.9-34.8l19.5-734.3l4.9-139.9l19.5 706.4l4.8 176.5l4.9 26.1l678.1 0" stroke="#8c564b"/>
<path d="M212.1 2403.3l536.6 0l4.9-21.4l19.5-706.4l4.8-176.5l4.9 118.7l14.7 509.7l4.8 169.8l4.9 106.1l653.7 0" stroke="#e377c2"/>
<path d="M212.1 2403.3l565.8 0l4.9-144.8l14.7-509.7l4.8-169.8l4.9-44.7l9.8 326.8l14.6 490.3l4.9 51.9l624.4 0" stroke="#7f7f7f"/>
<path d="M212.1 2403.3l590.2 0l4.9-61.4l9.8-326.8l14.6-490.3l4.9 55.4l24.4 786l4.9 37.1l595.1 0" stroke="#bcbd22"/>
<path d="M212.1 2403.3l619.5 0l4.9-107.3l24.4-786l4.9 78.4l19.5 604.9l4.8 151.2l4.9 58.8l565.9 0" stroke="#17becf"/>
<path d="M212.1 2403.3l648.8 0l4.9-115.5l19.5-604.9l4.8-151.2l4.9 30.2l14.7 436.4l4.8 145.5l4.9 145.4l4.9 114.1l536.6 0" stroke="#1f77b4"/>
<path d="M212.1 2403.3l678 0l4.9-89l14.7-436.4l4.8-145.5l4.9-145.4l4.9-83.9l29.3 839.7l4.8 60.5l502.5 0" stroke="#ff7f0e"/>
<path d="M212.1 2403.3l707.3 0l4.9-30.2l29.3-839.7l4.8 15.9l14.7 403.9l14.6 403.8l4.9 46.3l468.3 0" stroke="#2ca02c"/>
<path d="M212.1 2403.3l741.5 0l4.8-76.4l14.7-403.9l14.6-403.8l4.9 38.7l24.4 647.5l4.8 129.5l4.9 68.4l434.2 0" stroke="#d62728"/>
<path d="M212.1 2403.3l775.6 0l4.9-85l24.4-647.5l4.8-129.5l4.9-9.6l14.7 373.7l19.5 497.9l400 0" stroke="#9467bd"/>
<path d="M212.1 2403.3l809.7 0l4.9-58.8l14.7-373.7l19.5-497.5l4.9 119.8l4.8 119.9l14.7 359.5l9.7 239.7l4.9 91.1l361 0" stroke="#8c564b"/>
<path d="M212.1 2403.3l843.9 0l4.9-0.4l4.9-119.8l4.8-119.9l14.7-359.5l9.7-239.7l4.9-63.5l9.8 230.6l19.5 461.1l4.8 115.3l4.9 95.8l322 0" stroke="#e377c2"/>
<path d="M212.1 2403.3l882.9 0l4.9-27.6l9.8-230.6l19.5-461.1l4.8-115.3l4.9-77l14.7 332.7l19.5 443.6l4.8 110.9l4.9 24.4l278.1 0" stroke="#7f7f7f"/>
<path d="M212.1 2403.3l921.9 0l4.9-18.8l14.7-332.7l19.5-443.6l4.8-110.9l4.9 58.8l14.7 320l19.5 426.7l4.8 100.5l239.1 0" stroke="#bcbd22"/>
<path d="M212.1 2403.3l965.8 0l4.9-83.2l14.7-320l19.5-426.7l4.8-94.5l19.6 410.5l19.5 410.5l4.8 102.6l4.9 0.8l190.3 0" stroke="#17becf"/>
<path d="M212.1 2403.3l1004.9 0l4.8-6l19.6-410.5l19.5-410.5l4.8-102.6l19.6 393.3l4.8 98.8l14.7 296.1l4.8 98.7l4.9 42.7l146.4 0" stroke="#1f77b4"/>
<path d="M212.1 2403.3l1053.6 0l19.6-394.1l4.8-98.8l14.7-296.1l4.8-98.7l4.9 11.2l14.7 284.9l24.4 474.9l4.8 95l4.9 21.7l97.6 0" stroke="#ff7f0e"/>
<path d="M212.1 2403.3l1097.5 0l4.9-53.9l14.7-284.9l24.4-474.9l4.8-95l4.9 48.7l9.8 182.8l24.4 456.7l9.7 182.8l4.9 37.7l48.8 0" stroke="#2ca02c"/>
<path d="M212.1 2403.3l1146.3 0l4.9-70.4l9.8-182.8l24.4-456.7l9.7-182.8l4.9 13.9l29.3 527.3l4.8 87.9l14.7 263.6" stroke="#d62728"/>
</g></g>
<rect x="151.4" y="1382.5" width="1373.3" height="1021.8" fill="none" stroke="#000" stroke-width="2.85" filter="url(#bS)"/>
<g font-family="'DejaVu Sans', 'Liberation Sans', sans-serif" font-size="36.9px" fill="#000" filter="url(#bT)">
<text x="215.1" y="2447.2" text-anchor="middle">0</text>
<text x="456.0" y="2447.2" text-anchor="middle">50</text>
<text x="700.2" y="2447.2" text-anchor="middle">100</text>
<text x="944.0" y="2447.2" text-anchor="middle">150</text>
<text x="1189.3" y="2447.2" text-anchor="middle">200</text>
<text x="1432.5" y="2447.2" text-anchor="middle">250</text>
<text x="135.9" y="1488.2" text-anchor="end">1.0</text>
<text x="135.9" y="1673.7" text-anchor="end">0.8</text>
<text x="135.9" y="1859.4" text-anchor="end">0.6</text>
<text x="135.9" y="2045.2" text-anchor="end">0.4</text>
<text x="135.9" y="2233.1" text-anchor="end">0.2</text>
<text x="135.9" y="2418.8" text-anchor="end">0.0</text>
<text x="835.0" y="2502.6" text-anchor="middle" font-size="37.9px">Frequency(Hz)</text>
<text transform="translate(49.4 1896.4) rotate(-90)" text-anchor="middle" font-size="37.9px">Amplitude</text>
</g>
<clipPath id="c4"><rect x="1944.0" y="1382.6" width="1373.3" height="1021.8"/></clipPath>
<g stroke="#b0b0b0" stroke-width="2.80" fill="none" filter="url(#bS)">
<line x1="2007.6" y1="1382.6" x2="2007.6" y2="2404.4"/>
<line x1="2252.3" y1="1382.6" x2="2252.3" y2="2404.4"/>
<line x1="2497.1" y1="1382.6" x2="2497.1" y2="2404.4"/>
<line x1="2741.8" y1="1382.6" x2="2741.8" y2="2404.4"/>
<line x1="2986.6" y1="1382.6" x2="2986.6" y2="2404.4"/>
<line x1="3231.3" y1="1382.6" x2="3231.3" y2="2404.4"/>
<line x1="1944.0" y1="1451.4" x2="3317.3" y2="1451.4"/>
<line x1="1944.0" y1="1603.9" x2="3317.3" y2="1603.9"/>
<line x1="1944.0" y1="1753.5" x2="3317.3" y2="1753.5"/>
<line x1="1944.0" y1="1905.7" x2="3317.3" y2="1905.7"/>
<line x1="1944.0" y1="2055.2" x2="3317.3" y2="2055.2"/>
<line x1="1944.0" y1="2207.7" x2="3317.3" y2="2207.7"/>
<line x1="1944.0" y1="2357.3" x2="3317.3" y2="2357.3"/>
</g>
<g stroke="#000" stroke-width="2.85" fill="none" filter="url(#bS)">
<line x1="2007.6" y1="2404.4" x2="2007.6" y2="2389.4"/>
<line x1="2252.3" y1="2404.4" x2="2252.3" y2="2389.4"/>
<line x1="2497.1" y1="2404.4" x2="2497.1" y2="2389.4"/>
<line x1="2741.8" y1="2404.4" x2="2741.8" y2="2389.4"/>
<line x1="2986.6" y1="2404.4" x2="2986.6" y2="2389.4"/>
<line x1="3231.3" y1="2404.4" x2="3231.3" y2="2389.4"/>
<line x1="1944.0" y1="1451.4" x2="1959.0" y2="1451.4"/>
<line x1="1944.0" y1="1603.9" x2="1959.0" y2="1603.9"/>
<line x1="1944.0" y1="1753.5" x2="1959.0" y2="1753.5"/>
<line x1="1944.0" y1="1905.7" x2="1959.0" y2="1905.7"/>
<line x1="1944.0" y1="2055.2" x2="1959.0" y2="2055.2"/>
<line x1="1944.0" y1="2207.7" x2="1959.0" y2="2207.7"/>
<line x1="1944.0" y1="2357.3" x2="1959.0" y2="2357.3"/>
</g>
<g clip-path="url(#c4)"><g fill="none" stroke-width="5.76" stroke-linejoin="round" stroke-linecap="square" filter="url(#bD)">
<path d="M2004.6 2169.4l4.9-290.1l4.9 473.6l4.9-20.9l4.9-162.8l4.9 162.7l4.9-21.1l4.9-212.5l4.9 33.2l4.9 146.7l4.8-76.2l4.9-31.6l4.9-105.7l4.9 85.1l4.9 68l4.9-165.4l4.9 263.1l4.9-152.1l4.9 9.2l4.9 131.9l4.9-47.6l4.9-201.2l4.9 162l4.9 65.9l4.9 20.4l4.9 25.9l4.9-29.5l4.9-139.1l4.9 136.3l4.9-5.6l4.8 37.1l4.9 18.8l4.9 7.8l4.9-108.2l4.9-26.7l4.9 103.4l4.9 11.8l4.9-54.5l4.9 71.4l4.9-70.4l4.9 35.1l4.9-30.3l4.9 1.1l4.9 55.4l4.9 5.1l4.9-5.9l4.9-126l4.9 44l4.9 82.7l4.9-71l4.9-43.9l4.8 11.2l4.9-14.5l9.8 54.9l4.9 59.7l4.9-16.3l4.9-86.2l4.9 54.7l4.9 36.5l4.9-39.5l4.9 38.7l4.9-39.4l4.9 50l4.9-15.7l4.9-3.6l4.9 8l4.9-39.4l4.9-46.2l4.9 0.3l4.8 47.3l4.9-6.7l4.9 1.7l4.9 0.2l4.9 33.8l4.9-6.3l4.9-37.8l4.9 25.7l4.9 7.6l4.9 3.7l4.9 15.7l4.9-39.6l4.9 40.9l4.9-30.5l4.9 0.8l4.9 45.8l4.9-6.3l4.9-20.7l4.9 17.6l4.9-18.9l4.8 2.5l4.9 35.3l4.9-32.1l4.9 15l4.9 9.1l4.9-11.5l4.9-6.4l4.9-15.9l4.9-14.5l4.9 37.5l4.9-33.4l4.9 18.1l4.9 13l4.9 11.4l4.9-5.2l4.9-50l4.9-8.3l4.9 14.2l4.9 46.6l4.9-51.3l4.8-26.5l4.9 74.3l4.9-2.8l4.9-22.4l4.9 3.8l4.9 25.2l4.9 2.7l4.9-8.9l4.9-34.8l4.9 27.5l4.9-6.3l4.9-10.5l4.9 8.7l4.9 9.6l4.9 21.9l4.9-0.8l4.9-47.5l4.9 34l4.9-10.4l4.9 12.2l4.9 14l4.8-12.6l4.9 11.8l4.9-44.1l4.9-0.8l4.9 37.3l4.9-1.1l4.9-27.3l4.9 3.5l4.9 14.2l4.9 7.3l4.9 3.6l4.9-25.4l4.9 16.2l4.9 14.5l4.9-9.7l4.9 10.6l4.9-11.3l4.9-15.3l4.9 23.5l4.8-17.6l4.9-11.3l4.9 2.8l4.9-3.4l4.9-15.2l4.9 4.1l4.9 16.3l4.9 4.1l4.9 10.5l4.9-14.8l4.9 9.2l4.9 17.7l4.9-13.2l4.9-35.9l4.9-6.1l9.8 14.6l4.9-6l4.9 12.1l4.9-7.6l4.9-21.1l4.8 6.7l4.9 24.1l4.9 26.8l4.9 3.4l4.9-2.8l4.9-0.9l4.9-18l4.9-15.2l4.9 33.4l4.9-2.3l4.9 5l4.9-12.6l4.9-28.3l4.9 2.2l4.9 43.7l4.9-13.1l4.9 6.9l4.9-15.7l4.9-2.1l4.8-18.9l4.9-5l4.9 11.9l4.9 32.2l4.9-24.5l4.9 0.8l4.9 21.6l4.9-17.3l4.9-36.4l4.9 27.2l4.9 22.9l4.9 6.7l4.9-17.5l4.9-15l4.9-1l4.9-14.6l4.9 2.7l4.9 25.9l4.9 19.7l4.9-25.5l4.8-6.1l4.9 8.4l4.9-2.1l4.9-4.8l4.9 20l4.9 4.3l4.9-21.7l4.9 5l4.9-6.9l4.9-1.5l4.9 8.5l4.9 24.8l4.9-18.8l4.9 10.4l4.9-16.8l4.9-71.6l4.9 90.4l4.9 0.7l4.9 4l4.9-15.8l4.8-11l4.9 14.2l4.9-3.4l4.9-8.8l4.9 13l4.9 2.5l4.9-3l4.9-5.3l4.9-16.6l4.9 5l4.9 29.5l4.9-9.3l4.9-13.9l4.9-58.6l4.9 59.7l4.9 17.4l4.9-31.8l4.9 21.1l4.9 16.3l4.9-14.8l4.9-21.1l4.8-36l4.9 10.2l4.9 64l4.9-39l4.9 21.3" stroke="#1f77b4"/>
<path d="M2004.6 1855.4l4.9 438l4.9-95.4l4.9-268.4l4.9-133l4.9 379.3l4.9-67.4l4.9 35.8l4.9-134.7l4.9 199.9l4.8 113.1l4.9-23.1l4.9-90l4.9-81.2l4.9-164.9l4.9 337.9l4.9-358l4.9-265.3l4.9 304.4l4.9-27.4l4.9 143.2l4.9-165.9l4.9 249.1l4.9-182.6l4.9 186.9l4.9-82.4l4.9-75l4.9-19.7l4.9 310.1l4.9-125.8l4.8-71.2l4.9 131l4.9 93.2l4.9-65.3l4.9-35.2l4.9-24l4.9-92l4.9 40.6l4.9 12.2l4.9-22.5l4.9-6.5l4.9 11.9l4.9 4.9l4.9 42.5l4.9 118.6l4.9-85.4l4.9 8.7l4.9-17.7l4.9-28.2l4.9 7.8l4.9-27.5l4.8 83.3l4.9 37.4l4.9-121.9l4.9 41.3l4.9 90.4l4.9 6.7l4.9 0.2l4.9-97.9l4.9 8.1l4.9 36.6l4.9-5.5l4.9 15l4.9 38.6l4.9-53.1l4.9-29.6l4.9 94.1l4.9-59l4.9-25.9l4.9 88l4.8-103.8l4.9-0.1l4.9 14.2l4.9 16.2l4.9 43l4.9 31.8l4.9-32.1l4.9-14.1l4.9 15.4l4.9 42.4l4.9-41l4.9-31.2l4.9 77.5l4.9-8l4.9-59.2l4.9 28.3l4.9-2.4l4.9 22.4l4.9 10.3l4.9-3.5l4.8-47.2l4.9-39l4.9 22.3l4.9 51.5l4.9 5.7l4.9 3.7l4.9-37.6l4.9-44.9l4.9 13.8l4.9-6.8l4.9 7.2l4.9 17.6l4.9 10l4.9-25l4.9 18.7l4.9 0.5l4.9 39.1l4.9-17.7l4.9-40.9l4.9-3.6l4.8-24.6l4.9 31.1l4.9-12.1l4.9-2.9l4.9 72.7l4.9-13.5l4.9 22.1l4.9-5.5l4.9-11.4l4.9 1.1l4.9 18.1l4.9-15.9l4.9 7.7l4.9-43l4.9 20.9l4.9-18l4.9 37.7l4.9-69.8l4.9 21l4.9 49.7l4.9-3.4l4.8-28.2l4.9 15.1l4.9-17.4l4.9 21.6l4.9-24l4.9 12.5l4.9 43.8l4.9-3.9l4.9-28.4l4.9-23.7l4.9-2.1l4.9 13.8l4.9-23.4l4.9-16.7l4.9 4.4l9.8 57.3l4.9 21.5l4.9-6.3l4.8-15.8l4.9 10.9l4.9-33.5l4.9 8l4.9-4.7l4.9 13.4l4.9-15.7l4.9 8.7l4.9 7.7l4.9 13.2l4.9 6l4.9 4.3l4.9-15l4.9 0.2l4.9-4.5l4.9-20.2l4.9 8.2l4.9-10.5l4.9 4.1l4.9 24.1l4.9 5.7l4.8 7.5l4.9-4.5l4.9-12.7l4.9-51.8l4.9 4.8l4.9 23.5l4.9-1.7l4.9 10.9l4.9-14.6l4.9 0.3l4.9 3.6l4.9 32.2l4.9-7.3l4.9 2.4l4.9 8.2l4.9-11l4.9 0l4.9-7.2l4.9-0.1l4.8 19.3l4.9 6.4l4.9-38.6l4.9 10.5l4.9 0.7l4.9-15.6l4.9 5.7l4.9 7.8l4.9-32.1l4.9 12.1l4.9-2.5l4.9 0.5l4.9 24.7l4.9 31l4.9-5.4l4.9-21.7l4.9 0.5l4.9-1.4l4.9 6.1l4.9-8.6l4.8 1.8l4.9-14.6l4.9 6.8l4.9 34.4l4.9-24.4l4.9-16.7l4.9 9.7l4.9 28.8l4.9-28l4.9 20.1l4.9-6.7l4.9-9.6l4.9-8.8l4.9-13l4.9 36.9l4.9-11.4l4.9-19.3l4.9-26.3l4.9 49.4l4.9-40.9l4.8-3.2l4.9 12.1l4.9 45.2l4.9-39.1l4.9-11.3l4.9 1.3l4.9 9.4l4.9 4.1l4.9-45.5l4.9 57.5l4.9 1.2l4.9-18.4l4.9-46.3l4.9 25.4l4.9-25.1l4.9 14.3l4.9 24.7l4.9 16.4l4.9 18.3l4.9-3.3l4.9-32.3l4.8-0.6l4.9 2.5l4.9-6.9l4.9-15.7l4.9-32.3" stroke="#ff7f0e"/>
<path d="M2004.6 2341.4l4.9-12.3l4.9 0.7l4.9-72.2l4.9-171.4l4.9 220.8l4.9-106.8l4.9 131l4.9-31.1l4.9-206.8l4.8 233.8l4.9-170.3l4.9 85.5l4.9 71.3l4.9-31.2l4.9-22.7l4.9-5.1l4.9-140.1l4.9 35.9l4.9 52.6l4.9-56.6l4.9 206.9l4.9 0.6l4.9-129.8l4.9 88.3l4.9 44.1l4.9-435.5l4.9 388.7l4.9 28l4.9-21.3l4.8-104.1l4.9 11.7l4.9 88.3l4.9 37.8l4.9-65.5l4.9-78.9l4.9 32.3l4.9-22.5l4.9 55.3l4.9 26.3l4.9 38.7l4.9 10.1l4.9 8.8l4.9-8.7l4.9-72.6l4.9 7.2l4.9 62.4l4.9 9.7l4.9-32l4.9-43.2l4.9-21.1l4.8 72.4l4.9 7.1l4.9-21.9l4.9 3.6l4.9 29.8l4.9-17.2l4.9-63l4.9-55.8l4.9 22.1l4.9 104.7l4.9-8.4l4.9-45.3l4.9-37.1l4.9 35l4.9-2.7l4.9 8.2l4.9-8.1l4.9 18.4l4.9 10.4l4.8 44.8l4.9-61.7l4.9-0.6l4.9 16.1l4.9 19.7l4.9-2.5l4.9-29l4.9 23.9l4.9-25.4l4.9 12.9l4.9 8.6l4.9-26.4l4.9 51.7l4.9-27.3l4.9 13l4.9 27.6l4.9-49.7l4.9-11.7l4.9 35.1l4.9-24.8l4.8 24.1l4.9 1.6l4.9-2.7l4.9-6.7l4.9 0.7l4.9 6l4.9 15.4l4.9 5.1l4.9-3.6l4.9-2.1l4.9-2.7l4.9 8.8l4.9-7.5l4.9-11.5l4.9 21.9l4.9-19.6l4.9 6.8l4.9-27.1l4.9 8.5l4.9 0.6l4.8-9.2l4.9-23.7l4.9 5.2l4.9 11l4.9 30.1l4.9 16.8l4.9-31.8l4.9 31.4l4.9-4l4.9 9.8l4.9-51.4l4.9 6l4.9 15.8l4.9 0.2l4.9 3.6l4.9-22.1l4.9-4.6l4.9 2.3l4.9 18.2l4.9 13.8l4.9 0.1l4.8 12.6l4.9-3.3l4.9-5.3l4.9 6.4l4.9-4.2l4.9 8.2l4.9-33.4l4.9 10.8l4.9 6.7l4.9 7.4l4.9-3.4l4.9-15.6l4.9-8.9l4.9-10.4l4.9-2.2l4.9 19.6l4.9 5l4.9-29.1l4.9 5.8l4.8 50.3l4.9-2.4l4.9-7.1l4.9-26.3l4.9 12.7l4.9 19.1l4.9-17.6l4.9-14.5l4.9 29.2l4.9 0.8l4.9 2.6l4.9-20.7l4.9 10.6l4.9 9.1l4.9-16.3l4.9 0.2l4.9 13.8l4.9-4.9l4.9-19.3l4.9 2.7l4.9 29.8l4.8-11.8l4.9-6.9l4.9-5.1l4.9 3.4l4.9 14.1l4.9 0.4l4.9-5.4l4.9-5.2l4.9 12.6l4.9 1.2l4.9-12l4.9-24.9l4.9 4.4l4.9 32.6l4.9-20.5l4.9-7.9l4.9 21.4l4.9-4.4l4.9-3.8l4.8 9.5l4.9 2.2l4.9 1.7l4.9 4.7l4.9-4.9l4.9-15.4l4.9-12.8l9.8 26.1l4.9-3.8l4.9-15.2l4.9 14l4.9 2.8l4.9-10.9l4.9 15.9l4.9-30.1l4.9-23.4l4.9 13.3l4.9 30.3l4.9-4.4l4.8-19.4l4.9-11.1l4.9 10.4l4.9 24.3l4.9 14.2l4.9-13.3l4.9-8.5l4.9-0.8l4.9-9.4l4.9 20.5l4.9 4.6l4.9-4.1l4.9 1.7l4.9-3.5l4.9-21.5l4.9-19.1l4.9 16.3l4.9 13.1l4.9 16.3l4.9 1.2l4.8-14.3l4.9-1l4.9 8.2l4.9 3l4.9 10.4l4.9-12.8l4.9 8.9l4.9-35.5l4.9-8.1l4.9 9.1l4.9 17.6l4.9-67.4l4.9 83.8l4.9-0.3l4.9-12.3l4.9-7.5l4.9-1.9l4.9 10.2l4.9-9.4l4.9 14.3l4.9 2.3l4.8-9.8l4.9-4.8l4.9 8.5l4.9-5l4.9-1.9" stroke="#2ca02c"/>
<path d="M2004.6 1973.9l4.9 382.3l4.9-128.7l4.9-81.1l4.9 4.9l4.9 105.7l4.9-289.1l4.9 92.3l4.9-223.9l4.9 486.6l4.8 8.6l4.9-260.3l4.9-85.5l4.9 219.3l4.9 33l4.9 27.9l4.9-133.4l4.9 77.4l4.9 146.4l4.9-316.2l4.9-70.2l4.9 147.9l4.9 25.7l4.9 67.9l4.9-75.9l4.9 212.8l9.8-318l4.9 220.6l4.9 10.1l4.8 50l4.9-98.2l4.9-9l4.9 92.5l4.9-121.5l4.9-41.4l4.9 75.4l4.9 69.2l4.9-47.2l4.9 60.5l4.9 58.9l4.9 2.4l4.9-34.7l4.9 21.6l4.9-69.3l4.9-18.4l4.9 58.9l4.9-23.2l4.9 5.7l4.9-1.8l4.9 62.6l4.8-55.6l4.9-14.5l4.9-57.9l4.9 9.2l4.9 79.4l4.9 39.1l4.9-44.6l4.9 12.9l4.9 14.9l4.9-56.8l4.9-43.7l4.9 31.1l4.9-2.7l4.9 11.6l4.9 60l4.9 7l4.9-49.7l4.9-2.8l4.9-15.2l4.8-19.1l4.9-1.8l4.9 80.8l4.9-56.6l4.9-10.7l4.9 42.1l4.9 40.3l4.9-6.3l4.9-2.1l4.9-58.1l4.9 0.6l4.9-18.9l4.9-2.9l4.9-4.9l4.9 6.9l4.9 16.6l4.9-7l4.9 12.9l4.9 66.7l4.9-19.9l4.8-20.1l4.9-3.3l4.9 19.2l4.9-56.5l4.9 24.5l4.9 33.4l4.9-18.4l4.9-12l4.9 30.7l4.9-24.4l4.9-32.5l4.9 7.8l4.9 40l4.9-8.2l4.9 10.3l4.9 19.4l4.9-0.5l4.9-3l4.9-16l4.9 14.9l9.7-6.2l4.9 17.1l4.9-12.6l4.9-29.2l4.9-15.7l4.9 43l4.9 5.3l4.9-7l4.9 18l4.9-24.7l4.9-40.3l4.9 29.7l4.9 13.5l4.9 8.2l4.9-0.5l4.9 4.4l4.9-21.6l4.9 12.6l4.9-9.5l4.9-17.1l4.8 13.9l4.9 21.6l4.9-20.7l4.9 21.5l4.9-15.1l4.9-28.9l4.9-3.2l4.9 14.4l4.9 22.6l4.9-9.2l4.9-13.9l4.9 24.7l4.9-4l4.9-14.2l4.9 7.6l4.9 8.5l4.9-9.1l4.9 4.6l4.9-35.8l4.8-13.3l4.9 11.2l4.9 43.5l4.9 17.3l4.9-7l4.9-5.9l4.9-29.7l4.9 20.2l4.9 10.5l4.9-27.3l4.9-3.7l4.9 25l4.9-6.7l4.9-10l4.9-7.5l4.9 9.4l4.9 7.4l4.9-28.6l4.9-2.6l4.9 16.1l4.9 11.1l4.8 17.4l4.9-1.3l4.9-25.6l4.9 1.4l4.9 20.3l4.9 17.8l4.9-33.9l4.9-7.6l4.9 28l4.9-13.2l4.9 16.9l4.9-8.9l4.9 13.9l4.9-24.2l4.9-20.9l4.9-13.1l4.9 6.6l4.9-4.3l4.9 23.9l4.8 27.7l4.9-23.8l4.9 19.5l4.9-14.8l4.9-12.9l4.9 8l4.9 13.9l4.9 18.3l4.9-16.1l4.9 1.1l4.9 16l4.9-9.3l4.9 2.7l4.9 1.4l4.9-15.6l4.9-2.5l4.9 18.9l4.9-29.4l4.9 2.8l4.9 21.1l4.8-14.1l4.9-5.2l4.9-9.1l4.9 18.4l4.9 7l4.9 13.6l4.9-7.9l4.9-11.4l4.9-23l4.9-2l4.9-10.7l4.9 44.3l4.9-14.9l4.9-2.5l4.9 15l4.9-4.5l4.9-5.5l4.9 15.3l4.9-7l4.9-35.4l4.8 13.2l4.9 29l4.9-27.1l4.9-19.6l4.9-18.2l4.9 23l4.9 26l4.9-14.1l4.9 5l4.9 14.7l4.9-2.3l4.9-17.7l4.9 30l4.9-28.3l4.9-2.1l4.9-11.2l4.9 33.3l4.9-9.2l4.9-6.3l4.9 26.9l4.9-56.3l4.8-17.9l4.9-9l4.9 6.7l4.9 29.7l4.9 9.4" stroke="#d62728"/>
<path d="M2004.6 2251.7l4.9-130.1l4.9-51.7l4.9-89.6l4.9 257l4.9-368.2l4.9-30.6l4.9-3.9l4.9 349.3l4.9-118.1l4.8-45.2l4.9 115.4l4.9-358.4l4.9 321.3l4.9 112l4.9-449.9l4.9 401.9l4.9 114.3l4.9-97.3l4.9-66.2l4.9-188.7l4.9 286.9l4.9-101.1l4.9 189.2l4.9-372.9l4.9 188.7l4.9 62.8l4.9-127.5l4.9 104.8l4.9 164.4l4.8-151.8l4.9 139.5l4.9-50.6l4.9-87.7l4.9-100l4.9 147.8l4.9-5.3l4.9-51.2l4.9 112.9l4.9-39.1l4.9-36.4l4.9 36.9l4.9 104l4.9-33.1l4.9-55.4l4.9 68.9l4.9-113.2l4.9 96.6l4.9-2.8l4.9 54.4l4.9-86.9l4.8-57l4.9-17.9l4.9 57.1l4.9 16.7l4.9-28.4l4.9-68.3l4.9 55.3l4.9 81l4.9 32.7l4.9-125.8l4.9 12.6l4.9 7.3l4.9-18.3l4.9 48.8l4.9-64.4l4.9 46.1l4.9-12.6l4.9 12l4.9 60.5l4.8-10.8l4.9 40.1l4.9-14.6l4.9 13.8l4.9-41.2l4.9-0.1l4.9 54.1l4.9-45.1l4.9-61.3l4.9 9.7l4.9 41.6l4.9 1l4.9 58.6l4.9-3.6l4.9-19.5l4.9 9.4l4.9-53.1l4.9-34l4.9 15l4.9-40.4l4.8 37l4.9 53.2l4.9-29.9l4.9-33.5l4.9 15.4l4.9-24.5l4.9 1.1l4.9 23.1l4.9 74.8l4.9-57.6l4.9-18.7l4.9 9.4l4.9 30.2l4.9 36.4l4.9-36.6l4.9-31.2l4.9-3l4.9 42l4.9-1l4.9-35.7l4.8 1.2l4.9 75.2l4.9-74.4l4.9 0l4.9 5.5l4.9 1.2l4.9 5.9l4.9 36.4l4.9-8.1l4.9-32.7l4.9 48.2l4.9 10.1l4.9-25.1l4.9-44.8l4.9 4.6l4.9-6.2l4.9 8.4l4.9 27l4.9 21.1l4.9-28.6l4.9 25l4.8 11.7l4.9-25.4l4.9-23.7l4.9 10l4.9 1.4l4.9 37.7l4.9-30.5l4.9 9l4.9 20.8l4.9-29l4.9-24.3l4.9 4.2l4.9 17.7l4.9-15.4l4.9-0.6l4.9 29.4l4.9-4l4.9 8.1l4.9 3l4.8 22.3l4.9-10l4.9-35.5l4.9-22.1l4.9 28.1l4.9 25.7l4.9-28.2l4.9 15.9l4.9 27.9l4.9-55.6l4.9 9.5l4.9 15.2l4.9 28.3l4.9-15.6l4.9 12.4l4.9-45.9l4.9 31.1l4.9 3.8l4.9-27.3l4.9-7.5l4.9 20.5l4.8-1.9l4.9 30.2l4.9-27.7l4.9-22.1l4.9 0.2l4.9-9.1l4.9 22.2l4.9 42.6l4.9-41.5l4.9 24.9l4.9-42.9l4.9-5.3l4.9 19.6l4.9-18.1l4.9 8l4.9-34.1l4.9 37l4.9-19.2l4.9 1l4.8 29.3l4.9-2.4l4.9 10l4.9 5.8l4.9-7.4l4.9 29.4l4.9 8.1l4.9-24.4l4.9-27.1l4.9 0.3l4.9 30.3l4.9-25.1l4.9-8.6l4.9 43.2l4.9 6.2l4.9-13.9l4.9 12.1l4.9-7.3l4.9-33.7l4.9 1.3l4.8 11.5l4.9 23.9l4.9-15.5l4.9-13.7l4.9-12l4.9-10.2l4.9 21.1l4.9-41.7l4.9 29.3l4.9 28.4l4.9-13l4.9-53l4.9 55.4l4.9 1l4.9-30.2l4.9-15.4l4.9 21.7l4.9 55.5l4.9-15.7l4.9-27.5l4.8 30.6l4.9-55.1l4.9 11.1l4.9 60l4.9-21.7l4.9 2.5l4.9 12.2l4.9-5.8l4.9 2.7l9.8-18.4l4.9-49.3l4.9 6.4l4.9 42.9l4.9 8.2l4.9 12.4l4.9-42.5l4.9-25.7l4.9 27l4.9 9.2l4.9-11.1l4.8 35.7l4.9-42.3l4.9-33l4.9 3.5l4.9 20.2" stroke="#9467bd"/>
<path d="M2004.6 1965.6l4.9 61.4l4.9 132.6l4.9-162.7l4.9 334.1l4.9-272.5l4.9-187l4.9 440.8l4.9-171.8l4.9 81l4.8 132.3l4.9-536.9l4.9 516l4.9-46.7l4.9-365.3l4.9 83.7l4.9-96.4l4.9 55.8l4.9 108.9l4.9-63.3l4.9-93.7l4.9 155.6l4.9 186.3l4.9-15.1l4.9-148l4.9-69l4.9-26.3l4.9 1.1l4.9 220.2l4.9 83.8l4.8-13l4.9-49.4l4.9-47l4.9-15.7l4.9 19.2l4.9-125.1l4.9 105.4l4.9-43.1l4.9 168.4l4.9 42l4.9-51.2l4.9-87l4.9-47.5l4.9 169.9l4.9-38.6l4.9 32.7l4.9-91.2l4.9-12.3l4.9 44.7l4.9 49.4l4.9-96.2l4.8 26.8l4.9-23.5l4.9-25.2l4.9 46.9l4.9 86.9l4.9-15.7l4.9-14.8l4.9 15l4.9-9.1l4.9-64l4.9 27.5l4.9 65.1l4.9 10.1l4.9-7.2l4.9-80.6l4.9 38.3l4.9 20.8l4.9-27.1l4.9 14.3l4.8 13.5l4.9 12.7l4.9-33.6l4.9 3.5l4.9 54.2l4.9-70.1l4.9 16.6l4.9 25.6l4.9 2.5l4.9-59.6l4.9 21.1l4.9-7.8l4.9 13.3l4.9-3.8l4.9-22.1l4.9 23.9l4.9 38.3l4.9 18.9l4.9-75.1l4.9-32.9l4.8 7.5l4.9 43l4.9 41.3l4.9-10.7l4.9 14.9l4.9-60.7l4.9-24.5l4.9-12.7l4.9 61.2l4.9 22.3l4.9-41.5l4.9 10.2l4.9-25.4l4.9-9.8l4.9 26.4l4.9 24.7l4.9 18.2l4.9 4.4l4.9-31.2l4.9 25.5l4.8-10.8l4.9-23.7l4.9 28.7l4.9 1.5l4.9-24.4l4.9-14.5l4.9 44.4l4.9 4.8l4.9-5.5l4.9 1l4.9-22.7l4.9-11.6l4.9 11.8l4.9 9.7l4.9 13.5l4.9-4.1l4.9 26.7l4.9-18.5l4.9-7.2l4.9 23.2l4.9-10.6l4.8-28l4.9 18.6l4.9-51.2l4.9 34.3l4.9 37.2l4.9-28.5l4.9-33.5l4.9 36.5l4.9 16.5l4.9-14.3l4.9-18.4l4.9 32.4l4.9-43.3l4.9-17.8l4.9 21.2l4.9 12.5l4.9-3.6l4.9 47.2l4.9-20.2l4.8-38.1l4.9 8.1l4.9 21.1l4.9-15.7l4.9-13.7l4.9-0.6l4.9-13.4l4.9 41l4.9 3.3l4.9-23.7l4.9 25.7l4.9-0.5l4.9-5.7l4.9 7.4l4.9 4.8l4.9-35.3l9.8 17.8l4.9 26.4l4.9-16.1l4.9-7l4.8 31.5l4.9-16.7l4.9 19.5l4.9-9.8l4.9-2.1l4.9-22.3l4.9-23.5l4.9-15.5l4.9 60.4l4.9-23.1l4.9-1.3l4.9-18.1l4.9 25.1l4.9-20l4.9-4.9l4.9-0.7l4.9 4.4l4.9 0.5l4.9 15.6l9.7-18l4.9 15.7l4.9-11.4l4.9 25.4l4.9-44.2l4.9 0l4.9 6.9l4.9 8.4l4.9 46.5l4.9-59.3l4.9-3.8l4.9 36.3l4.9-11.8l4.9-19.2l4.9-6.3l4.9 44.2l4.9-57.1l4.9 37.7l4.9 3.5l4.8-8.3l4.9 9.3l4.9 7.8l4.9-21.9l4.9-2.2l4.9 31.9l4.9-21.7l4.9-16.9l4.9 5.1l4.9 20.7l4.9-8.9l4.9 9.8l4.9 32.3l4.9-13.9l4.9-20.2l4.9 18l4.9-23.5l4.9 3.8l4.9 26.7l4.9-29.2l4.8-21.4l4.9 20l4.9-11l4.9 8.4l4.9 4.5l4.9-11.2l4.9 22.3l4.9 8.6l4.9-29.7l4.9 27.6l4.9 9l4.9 1.6l4.9 4.7l4.9-32.4l4.9-28.9l4.9 53.1l4.9 14.9l4.9-36.4l4.9-2.2l4.9 10.7l4.9 29.8l4.8-24.8l4.9 6.7l4.9-30.9l4.9 26.8l4.9-24.1" stroke="#8c564b"/>
<path d="M2004.6 2294.6l4.9-682.3l4.9 397.2l4.9 254.4l4.9-158.7l4.9-114.3l4.9 145.9l4.9 140.3l4.9-191.2l4.9 98.9l4.8-321.1l4.9 286.2l4.9-132.1l4.9-148.1l4.9 238.9l4.9-96l4.9 157.7l4.9 20l4.9 103l4.9-58.3l4.9-274l4.9 141.6l4.9 132.6l4.9-56.5l4.9-260.7l4.9 292.9l4.9 64.3l4.9-89.6l4.9 75.1l4.9-183.8l4.8 16.9l4.9 201.9l4.9-15.3l4.9 64l4.9-66.1l4.9-26.9l4.9-19.7l4.9 35.9l4.9-51l4.9-2.6l4.9 62.8l4.9-38.2l4.9 37.3l4.9 14.6l4.9-132.8l4.9 18.8l4.9 116.5l4.9-42.4l4.9-12.6l4.9 48.8l4.9 59.1l4.8-31.9l4.9 31.4l4.9-68.2l4.9-64.3l4.9-30l4.9 12.2l4.9-9.9l4.9-22.7l4.9 87.9l4.9 25l4.9 23.1l4.9 23.8l4.9-95.8l4.9 47.9l4.9 78.7l4.9-43.2l4.9-52.3l4.9 19.9l4.9 65.5l4.8-35.5l4.9-8.8l4.9 28.3l4.9-22.8l4.9-63.5l4.9 6.8l4.9 36.1l4.9 29l4.9 10.3l4.9 12.7l4.9-11.3l4.9 1.7l4.9-0.5l4.9 6.4l4.9-0.9l4.9-30.1l4.9 39.7l4.9-56.6l4.9 26.1l4.9 36.6l4.8-75.7l4.9-29.7l4.9 5.9l4.9 66.2l4.9 10.1l4.9-16.2l4.9 7.1l4.9-14.7l4.9-9.8l4.9 41l4.9-10.6l4.9-20.1l4.9-15l4.9-4.3l4.9 15.5l4.9 45.5l4.9 0.7l4.9-34l4.9-9.9l4.9-2.4l4.8-15.4l4.9 27l4.9 21.8l4.9 24.5l4.9-19l4.9 7.7l4.9-8.1l4.9-27.5l4.9-22.9l4.9 15.7l4.9 25.6l4.9-17.8l4.9 29.9l4.9 5.1l4.9-0.5l4.9-30.9l4.9-13.7l4.9 35.2l4.9 21.4l4.9-32.3l4.9-20.2l4.8 2.4l4.9 14.7l4.9-37l4.9 1l4.9 13.7l4.9-6.6l4.9 4.5l4.9 51.1l4.9-47.6l4.9 13l4.9 25.2l4.9 5.2l4.9 0.7l4.9 6.9l4.9-9.6l4.9-2.8l4.9 4l4.9-33.5l4.9-24.7l4.8 19.2l4.9 45.5l4.9-4.1l4.9 9.1l4.9-42.5l4.9 1.2l4.9 8.1l4.9-15.7l4.9 33.6l4.9 9.6l4.9-25.9l4.9 7l4.9-8.8l4.9 32.8l4.9-29.7l4.9-8.6l4.9 16.8l4.9 14.8l4.9-21.6l4.9 3.5l4.9-2.3l4.8 3.1l4.9-14.6l4.9-7.8l4.9 20.2l4.9-11.3l4.9 15.7l4.9 12.4l4.9-17l4.9 1.6l4.9 14.9l4.9-41.4l4.9-3.8l4.9 19.4l4.9-3.8l4.9 5.3l4.9-12l4.9-3.2l4.9 27.4l4.9 20.6l4.8-106.9l4.9 95.3l4.9 2.3l9.8-4.8l4.9-16.6l4.9 19.6l4.9-4.9l4.9-37.7l4.9 5.9l4.9-6.3l4.9 6.2l4.9 24.1l4.9 11.5l4.9-31.6l4.9 3.6l4.9 35.8l4.9-21.4l4.9-0.8l4.9 31.8l4.8-17.2l4.9 0.5l4.9 9.6l4.9-20.5l4.9 2.3l4.9-2.6l4.9 15.5l4.9 3.5l4.9-1.3l4.9 0l4.9-1.8l4.9-34.9l4.9-3.5l4.9 11.5l4.9-19.4l4.9-5.6l4.9-8.6l4.9 13.8l4.9 28.1l4.9 2.5l4.8-43.2l4.9 5l4.9 42.6l4.9-7.7l4.9-12.6l4.9 17.4l4.9-0.9l4.9-6.6l4.9 26l4.9-29.7l4.9-4.4l4.9 25l4.9-20l4.9 15.6l4.9-25.7l4.9 8.5l4.9 23.8l4.9-57l4.9-3.9l4.9 26.3l4.9-25l4.8 44.9l4.9 28.6l4.9-44.2l4.9-16.8l4.9 29.8" stroke="#e377c2"/>
<path d="M2004.6 2183.7l4.9-285.4l4.9-81.4l4.9 421.1l4.9 109.5l4.9-337l4.9-310.6l4.9 619l4.9-152.1l4.9-292.6l4.8 397.8l4.9-55.5l4.9-121.4l4.9-80.3l4.9-26.3l4.9 198.1l4.9 105.9l4.9-63.4l4.9-13.6l4.9 138.1l4.9-153.6l4.9 122.2l4.9-122.4l4.9-104.3l4.9 199.8l4.9 46.1l4.9 14.9l4.9-239l4.9 4.3l4.9 231.8l4.8-11.3l4.9-269.4l4.9 222.3l4.9-92.1l4.9 65.8l4.9 77.2l4.9 4.3l4.9-13.1l4.9-44.7l4.9-4l4.9 37.2l4.9-47l4.9-22.3l4.9 52.4l4.9 8.9l4.9 14l4.9 15.8l4.9-13.6l4.9 3.8l4.9 12.6l4.9 0.8l4.8-45.9l4.9 16.6l4.9-5.4l4.9 38.1l4.9-56.7l4.9 21.8l4.9 15.1l4.9-23.8l4.9 39.5l4.9-35l4.9 10.9l4.9-24l4.9 22.7l4.9 7.8l4.9-5.9l4.9 14.7l4.9-5.1l4.9-17.5l4.9-20.7l4.8 10.9l4.9-44.7l4.9 6.5l4.9 34.8l4.9 11.2l4.9 30.9l4.9-10.9l4.9-13.7l4.9-11.4l4.9 9.5l4.9 22.2l4.9-38.3l4.9-33l4.9 16l4.9 0.2l4.9-21.4l4.9-2.1l4.9 32.6l4.9 50.6l4.9 5.6l4.8-28.1l4.9-26.4l4.9-4.1l4.9 47.8l4.9-14.8l4.9-26.8l4.9-7.5l4.9 4.4l9.8 45.5l4.9-1.8l4.9-5.4l4.9-34.4l4.9-31.2l4.9 27l4.9 45.2l4.9 7.3l4.9-20.2l4.9-34.4l4.9 11.3l4.8 12.6l4.9 20.4l4.9-0.6l4.9-7.6l4.9-4.3l4.9-2.2l4.9 23.1l4.9 4.2l4.9-10.1l4.9 1.7l4.9-5.7l4.9-15.3l4.9 3.5l4.9 19.7l4.9 6.5l4.9-6.1l4.9 7.5l4.9-39.1l4.9-12.1l4.9 41.6l4.9 6.9l4.8-13.4l4.9 5.8l4.9-2.7l4.9 4.2l4.9 3.9l4.9-48.9l4.9-9.1l4.9 27.3l4.9 28.6l4.9-1l4.9 4.3l4.9-2l4.9 0.3l4.9-2.1l4.9 1.8l4.9-5.6l4.9-25.4l4.9 23.9l4.9-5.8l4.8-23l4.9-19.8l4.9 39.2l4.9 10l4.9 5.2l4.9 3.9l4.9-2.8l4.9 1.1l4.9 3l4.9-1.5l4.9-0.4l4.9-12.2l4.9 4.9l4.9-7.2l4.9-0.6l4.9 13l4.9-9l4.9 12.6l4.9-11.5l4.9-8.1l4.9 4.5l4.8 10.2l4.9 2.2l4.9-1l4.9-1.3l4.9-1l4.9-3.9l4.9-2.3l4.9-16.6l4.9-5.7l9.8 25.1l4.9 10.3l4.9-4.7l4.9-5.7l4.9-1.1l4.9-7.8l4.9 19.6l4.9-4l4.9-1.9l4.8-3.3l4.9-6.4l4.9-10.9l4.9 23.5l4.9-6.7l4.9-9.6l4.9-22.7l4.9 5l4.9 16.6l4.9-4.7l4.9-8.2l4.9 3l4.9 5.8l4.9 12.3l4.9-10.9l4.9 3.7l4.9 4.6l4.9 0.9l4.9 2.4l4.9-1.5l4.8 13.1l4.9-4.7l4.9-2.8l4.9-14.9l4.9 2.2l4.9 3.3l4.9-7.4l4.9 15.1l4.9 7.6l4.9-11.9l4.9-18.6l4.9 18.8l4.9-5.3l4.9-6.4l4.9 5.2l4.9 16.7l4.9 2.5l4.9-5.4l4.9-4.7l4.9 1.5l4.8 1.9l4.9-17.5l4.9 11.8l4.9-9l4.9-13.9l4.9 6.5l4.9 10.2l4.9-7.1l4.9 25.3l4.9-8.4l4.9-3.7l4.9-29.4l4.9-16.6l4.9 13.9l4.9 9.9l4.9 19.9l4.9-20.4l4.9-28.9l4.9 36.1l4.9 5.6l4.9-23.7l4.8 0.6l4.9 25.1l4.9-8l4.9-0.9l4.9-4.3" stroke="#7f7f7f"/>
<path d="M2004.6 2007l4.9 332.5l4.9-90.7l4.9-24.1l4.9-341.3l4.9 395.8l4.9 51.1l4.9-421.2l4.9 139.1l4.9 250.7l4.8-38l4.9-1.1l4.9-63.8l4.9-53.3l4.9-395.3l4.9 589.8l4.9-137.7l4.9-317.7l4.9 166.9l4.9 192.5l4.9 48.4l4.9-164.2l4.9-61.9l4.9-41.8l4.9 206.3l4.9-0.4l4.9-213.4l4.9 50.4l4.9 219.6l4.9 16.2l4.8-51.3l4.9 89.3l4.9-184.2l4.9-46.8l4.9 180.3l4.9-14.9l4.9 42.4l4.9-123.9l4.9 88.9l4.9 33.6l4.9-49.5l4.9-6.7l4.9-21.8l4.9-41.9l4.9-59.7l4.9 213.2l4.9-49.3l4.9 25.9l4.9-12.2l4.9 1.2l4.9 30.6l4.8-2.6l4.9-36.4l4.9-35.3l4.9 15.5l4.9-12.7l4.9-28.1l4.9 42.5l4.9-43.3l4.9-12.8l4.9 35.4l4.9 47.7l4.9-71l4.9-19.6l4.9 93.3l4.9-30.2l4.9-61.9l4.9 20.7l4.9 94.6l4.9 10.4l4.8-64.1l4.9-16.9l4.9 54l4.9-71.8l4.9 19.5l4.9 28.7l4.9 17.5l4.9 29.3l4.9 2.9l4.9-14.8l4.9-11l4.9-19.5l4.9 13.7l4.9 0.1l4.9 32.9l4.9-8.9l4.9-6l4.9 5.7l4.9 5.5l4.9-26.3l4.8-45.2l4.9 14.7l4.9 21.9l4.9 10.4l4.9-8.2l4.9-17.2l4.9 51.5l4.9-24.8l4.9 7.2l4.9-7.9l4.9-19.7l4.9 11.7l4.9-11.2l4.9-26.4l4.9 23.6l4.9 13.9l4.9 2.1l4.9-23.4l4.9-9.6l4.9 11.1l4.8 6.8l4.9 30.7l4.9-20.7l4.9-8.1l4.9 2.8l4.9 9l4.9 6.8l4.9-18.5l4.9 8.3l4.9 10.9l4.9-3.9l4.9-21.5l4.9 24.6l4.9 31.2l4.9-21.7l4.9-50l4.9-19.4l4.9 15.9l4.9 8.7l4.9 48.7l4.9-5.2l4.8-17.3l4.9 7.9l4.9-6.7l4.9-9.2l4.9 30.4l4.9 14.1l4.9-9.5l4.9-4.7l4.9 0.5l4.9 3.7l4.9-23l4.9-7.4l4.9 43.2l4.9-50.9l4.9 4.3l4.9 26.2l4.9 16.4l4.9 3.8l4.9-20.8l4.8 13.3l4.9-1.6l4.9-18.5l4.9 8.1l4.9-19.5l4.9 2.2l4.9 18.3l4.9-12.5l4.9-15l4.9 23.5l4.9 16.4l4.9-0.5l4.9-46.5l4.9 8.6l4.9 38.8l4.9-21.4l4.9 6.1l4.9 8.3l4.9 2.2l4.9 7.6l4.9-36.6l4.8 1.3l4.9 19.4l4.9-8.3l4.9 21.3l4.9-18.6l4.9-5.1l4.9 20.4l4.9 1.7l4.9-9.6l4.9 4.1l4.9-18.4l4.9-4.4l4.9-2.5l4.9 15.6l4.9 20.1l4.9-5.4l4.9-26l4.9-9.1l4.9-2l4.8-5.6l4.9 14.4l4.9 7.4l4.9-15.9l4.9-47.1l4.9 62.1l4.9-54.1l4.9 77.8l4.9 3.3l4.9 0.5l4.9-12.9l4.9 10.2l4.9 4.1l4.9-2.4l4.9-10l4.9-21.6l4.9 12.7l4.9-3.1l4.9 19.3l4.9-7.9l4.8-8.7l4.9 17.9l4.9-3.6l4.9-8.6l4.9-24.8l4.9-4.7l4.9 45.2l4.9-22.1l4.9 21.9l4.9-2.6l4.9-5.6l4.9 0l4.9-8.4l4.9-11.4l4.9 30.6l4.9-15l4.9-0.8l4.9-4.7l4.9-17.7l4.9 7.2l4.8 28.7l4.9-8.4l4.9-39.1l4.9 1.9l4.9 24.4l4.9 21.6l4.9-24.5l4.9-10.4l4.9-15.5l4.9 1.8l4.9 16.3l4.9-1l4.9-2.2l4.9-16.7l4.9 6.4l4.9 44l4.9-30.8l4.9-2.1l4.9-51.9l4.9-10.5l4.9 12.9l4.8 30.7l4.9 5.1l4.9 40.6l4.9-22.1l4.9 24.6" stroke="#bcbd22"/>
<path d="M2004.6 2079l4.9-133.8l4.9 317.3l4.9-423.7l4.9-286.1l4.9 467.5l4.9-126.9l4.9 5.3l4.9-83.6l4.9 457.8l4.8-230.8l4.9 246.6l4.9-351.9l4.9 366.2l4.9 19.1l4.9-246.2l4.9 49l4.9 116.7l4.9-242.3l4.9 107.4l4.9-199.9l4.9 141.1l4.9-161.5l4.9 127.8l4.9 219l4.9 41.9l4.9-232.8l4.9-19l4.9 74.8l4.9 84.6l4.8-77.4l4.9 140.4l4.9-29l4.9 47.8l4.9 60.8l4.9-170.7l4.9 30.8l4.9-33.7l4.9 38.6l4.9-19.6l4.9 23.9l4.9 20.6l4.9-36.3l4.9 19.1l4.9 7.1l4.9-23.3l4.9 66.9l4.9 34.3l4.9-50.9l4.9 85.2l4.9-4.5l4.8-12.1l4.9 16.3l4.9-104.4l4.9 39.4l4.9-75l4.9 27.5l4.9 77.4l4.9 42.4l4.9-26.5l4.9-70.5l4.9 35.7l4.9 27.7l4.9 32.4l4.9-42.6l4.9-33.5l4.9-47.8l4.9-9.6l4.9 37l4.9 4.8l4.8 64.8l4.9 0.8l4.9 6.9l4.9 37.5l4.9-50.5l4.9-16.8l4.9 24.6l9.8-44.2l4.9 50.9l4.9-2l4.9-47.3l4.9 22.2l4.9-11.6l4.9-20.4l4.9 40.6l4.9-4.4l4.9-21l4.9 20l4.9-34.2l4.8-23.7l4.9 6.9l4.9-5.6l4.9 8l4.9 40.1l4.9 15.6l4.9-22.4l4.9-5.8l4.9 35.8l4.9-15.8l4.9 25.5l4.9-8.5l4.9 10l4.9-38.7l4.9 2.4l4.9-14.8l4.9-3.6l4.9 17l4.9 27.7l4.9-19l4.8-3.6l4.9 5.5l4.9 36.1l4.9-18.3l4.9 13l4.9-35.7l4.9 79l4.9-68.2l4.9-9.2l4.9 20.4l4.9 18.5l4.9-15.5l4.9 15.7l4.9 29.6l4.9-7.8l4.9-43.4l4.9-9.4l4.9 20.6l4.9 7.6l4.9-17.1l4.9 58.9l4.8-72.6l4.9 23.7l4.9 30.1l4.9-45.7l4.9-0.1l4.9 6l4.9-14.2l4.9 35.6l4.9-10.3l4.9-18.9l4.9 11.1l4.9 3.1l4.9-22.7l4.9 1.9l4.9 0.1l4.9 5.3l4.9 16.8l4.9 42.7l4.9 8l4.8-34.2l4.9 32.7l4.9-52.9l4.9-4.6l4.9-7.9l4.9-4.8l4.9 14.3l4.9 21.7l4.9 0.8l4.9 29.1l4.9-0.1l4.9-31l4.9-13.5l4.9 37.5l4.9-22.7l4.9-29.3l4.9 54.8l4.9-19.3l4.9 3.6l4.9 13.2l4.9-2.5l4.8-28.1l4.9 3.4l4.9-0.8l4.9-22.4l4.9 19l4.9 32.1l4.9 6l4.9-33.4l4.9 21.8l4.9-19.2l4.9-5.6l4.9 0.6l4.9 25.8l4.9-1.7l4.9-28.4l4.9 3.6l4.9-19.5l4.9 18.2l4.9 37.1l4.8-25l4.9-26.6l4.9-11.2l4.9 33.5l4.9 25.5l4.9-7.2l4.9 16.4l4.9-6.8l4.9-40.6l4.9 5.8l4.9 18.8l4.9 24.4l4.9-14l4.9-11.1l4.9-19.7l4.9 5.8l4.9 21.5l4.9-24.8l4.9-23.1l4.9 30.1l4.8 4.5l4.9-25.6l4.9-4l4.9 45.2l4.9-40.4l4.9 25.3l4.9-37.9l4.9 63.9l4.9-31.6l4.9 6.4l4.9-13.1l4.9 3.3l4.9-1.7l4.9 4.9l4.9-14.4l4.9 43.5l4.9-49l4.9-23.4l4.9 6.8l4.9 14l4.8 28.9l4.9-1.7l4.9 4.7l4.9 18.4l4.9-19l4.9-4.8l4.9 26.7l4.9-26.9l4.9 7.3l4.9-15.8l4.9 31.6l4.9 1.5l4.9-7.7l4.9-21.1l4.9-29l4.9 51.2l4.9-71.9l4.9-16.8l4.9 55l4.9-8.2l4.9-38.4l4.8 24.7l4.9 41.5l4.9 24.6l4.9-2.4l4.9-31.8" stroke="#17becf"/>
<path d="M2004.6 1931.8l4.9 104l4.9 25.6l4.9-23.6l4.9 19.5l4.9-631.4l4.9 870.8l4.9-793.1l4.9 833.9l4.9-210.6l4.8-15.6l4.9 31.6l4.9 164.7l4.9-201.3l4.9-109.5l4.9 132.1l4.9-151.1l4.9 17.4l4.9 37.2l4.9 232.9l4.9 59.5l4.9-99.3l4.9 53.9l4.9-61.6l4.9 118l4.9-238.8l4.9-75.7l4.9 227.4l4.9 81.7l4.9 0.9l4.8 24.6l4.9-39.1l4.9-135l4.9-42.1l4.9 70.2l4.9 99.2l4.9 18l4.9-13.2l4.9-140.2l4.9 74.4l4.9 34.9l4.9-31.6l4.9-52.4l4.9 133.7l4.9-4.3l4.9-92l4.9-9.5l4.9 74.1l4.9 40.6l4.9-41.4l4.9-2.7l4.8 54.1l4.9-89.7l4.9-6.2l4.9 77l4.9-55.3l4.9-1.8l4.9-60.6l4.9-31.5l4.9 74.7l4.9 86.6l4.9-25.8l4.9-58.4l4.9 56.6l4.9-81.5l4.9-29l4.9 69.2l4.9 19.8l4.9 47.5l4.9-59.7l4.8-19.7l4.9 69l4.9 4.3l4.9-9.3l4.9-47.5l4.9 36.4l4.9 5.7l4.9 31.6l4.9-96.3l4.9-22.9l4.9 53.4l4.9-27l4.9-21.5l4.9 4.5l4.9 45.9l4.9 15.2l4.9 4.5l4.9-7.6l4.9-59.7l4.9 22.7l4.8 63.2l4.9-12l4.9-44.5l4.9-2.4l4.9 41.9l4.9 8.9l4.9 5.2l4.9 18.1l4.9-15.3l4.9-0.1l4.9-11.7l4.9 8l4.9 19.4l4.9-33.5l4.9 33.6l4.9-6.4l4.9 0.4l4.9-9l4.9 15.6l4.9-35.1l4.8-23.1l4.9 17.6l9.8-58.4l4.9 40.2l4.9 51.5l4.9 12.8l4.9 4.7l4.9-2.3l4.9-7.1l4.9-4l4.9-14.1l4.9-3.3l4.9 2.9l4.9-38.3l4.9 52.7l4.9-14.3l4.9 27.5l4.9-7l4.9-49.8l4.9 49.6l4.8-92.5l4.9 26.6l4.9 17.8l4.9 13l4.9-25.5l4.9-9.9l4.9 0.6l4.9 11.8l4.9 22.9l4.9 8.7l4.9 6.8l4.9 13l4.9 5.8l4.9-6.2l4.9-32.1l4.9-10.1l4.9 3.6l4.9 14.4l4.9-25.7l4.8-4.4l4.9 13.1l4.9 26.2l4.9 8.9l4.9 4.3l4.9-17.5l4.9 1l4.9 16.8l4.9-4.8l4.9 19.6l4.9-6.8l4.9-5.2l4.9-0.8l4.9-9.8l4.9 10.8l4.9-32.9l4.9 29.9l4.9 16.5l4.9-25.3l4.9-11.1l4.9 6.6l4.8-19.7l4.9-2.7l4.9 32.4l4.9-17.7l4.9 9.1l4.9-1.8l4.9-13.3l4.9 9.8l4.9-4.7l4.9 23l4.9-38l4.9-28l4.9 35.4l4.9 16.1l4.9-1.6l4.9 9.3l4.9-4.1l4.9-3.8l4.9 20.7l4.8-40l4.9 20.2l4.9 6.2l4.9-29.2l4.9 12.9l4.9 17.4l4.9-17.7l4.9 16.1l4.9 19.9l4.9-11.5l4.9-15.4l4.9-19.3l4.9 49.8l4.9-36.3l4.9 30.4l4.9-16.9l4.9 8.5l4.9-4.5l4.9-22.4l4.9-11.2l4.8 8.3l4.9 23.5l4.9 17l4.9-3.8l4.9-34.2l4.9 15.4l4.9 26.1l4.9-11.5l4.9-1.9l4.9-11.3l4.9-4.7l4.9-2.4l4.9-10.1l4.9 35.4l4.9-26l4.9 9.7l4.9 7l4.9-5.7l4.9-27.4l4.9 4.6l4.8 29.3l4.9-15.2l4.9-13l4.9 12.9l4.9 5.9l4.9 17.2l4.9 4.2l4.9-22.4l4.9-12.3l4.9-6l4.9-9.8l4.9 20.3l4.9 1.5l4.9-17.7l4.9-5.3l4.9-19.2l4.9-17.1l4.9 36.6l4.9 4l4.9-29.2l4.9 25.8l4.8 33.6l4.9 5.6l4.9-49.9l4.9-17.8l4.9 0.6" stroke="#1f77b4"/>
<path d="M2004.6 2031.3l4.9 106.8l4.9-146.2l4.9 183.8l4.9-515.1l4.9 573l4.9-451.1l4.9 554.5l4.9-95.8l4.9-44l4.8 23l4.9 33.6l4.9 31.3l4.9-28.7l4.9 43.7l4.9-106.6l4.9 13.2l4.9 28.6l4.9-33.9l4.9-25l4.9 176.6l4.9-70.1l4.9-254.1l4.9 249.2l4.9-213.1l9.8 220.6l4.9 0l4.9 65.2l4.9-233l4.8 25.2l4.9 200.4l4.9-198.7l4.9 49l4.9-6.6l4.9-47.6l4.9 101.6l4.9-99.6l4.9 18l4.9 114l4.9-42.4l4.9-54.9l4.9 11l4.9 136.3l4.9-28.6l4.9-88.6l4.9 23.9l4.9 9.5l4.9-20.4l4.9 46.2l4.9 59.5l4.8-57.9l4.9-94.2l4.9 43.2l4.9 95.7l4.9-16.5l4.9-82.9l4.9 49.8l4.9-126l4.9 54.9l4.9 8.8l4.9 106.3l4.9-11.6l4.9-20.5l4.9 45.6l4.9 11l4.9-65.4l4.9-12.5l4.9 5.2l4.9-7.2l4.8 29.5l4.9 61.2l4.9-53.7l4.9-20.9l4.9 39.8l4.9-45.6l4.9-5.7l4.9 32.1l4.9 4.9l4.9-2.9l4.9 46.2l4.9 5.5l4.9-14.3l4.9-43.7l4.9-7.6l4.9 31.2l4.9 1.7l4.9-19.2l4.9 8.5l4.9-12.6l4.8-16.2l4.9 14.1l4.9 3.8l4.9 17.6l4.9 14.3l4.9 3l4.9 9.8l4.9 1.8l4.9-7.4l4.9 7.7l4.9-12l4.9 16.1l4.9 14.5l4.9-3.1l4.9-14.2l4.9-58.6l4.9-9.7l4.9 14.7l4.9 41.3l4.9 13.7l4.8 17.9l4.9-15.2l4.9-2.8l4.9-18.6l4.9-2.2l4.9 5.6l4.9-14.9l4.9-17.9l4.9-8.4l4.9 14.5l4.9 40.7l4.9-32.1l4.9 23l4.9-31l4.9 7.2l4.9 10.5l4.9-12l4.9 17l4.9 3.8l4.9 5.6l4.9 8.6l4.8 9.6l4.9-21.6l4.9-5.1l4.9 33.9l4.9-32.6l4.9 8.3l4.9 5.4l4.9 10.4l4.9-35.2l4.9 11.1l4.9 4.2l4.9 2.9l4.9-4.8l4.9 14.5l4.9-7.6l4.9-14.3l4.9-19.2l4.9 18.4l4.9 5.9l4.8-3.9l4.9 4.1l4.9 8.4l4.9-17l4.9 29.4l4.9-4.2l4.9-9.2l4.9-1.2l4.9-27.2l4.9 17l4.9 27l4.9-26.9l4.9 17.6l4.9 4.7l4.9-18.2l4.9 21.1l4.9 11.9l4.9-12.3l4.9-2.5l4.9 16.8l4.9-2.2l4.8-16.3l4.9-5.1l4.9-3.1l4.9 0.6l4.9 13.2l4.9-32.7l4.9-6l4.9-0.7l4.9 16.7l4.9 28.1l4.9-30.9l4.9-35.6l4.9 30.4l4.9 43.6l4.9-25.8l4.9 13.1l4.9-19.7l4.9-26l4.9 7.6l4.8 8.5l4.9 12.3l4.9 19.3l4.9-20.2l4.9 30.9l4.9-26l4.9 15l4.9-4.2l4.9-16l4.9 16.8l4.9 12.3l4.9-9.1l4.9-1.2l4.9-14.1l4.9-9.8l4.9 25.7l4.9-7.6l4.9 13.2l4.9-23.2l4.9-22.6l4.8 5.6l4.9 36.7l4.9-5.1l4.9-43.1l4.9 10.7l4.9-8.5l4.9-1l4.9 12.1l4.9-33.7l4.9 27.3l4.9 24.5l4.9 8.8l4.9 0.1l4.9 4.2l4.9-29l4.9 12.2l4.9 21.7l4.9 1.6l4.9-42l4.9-9.3l4.8 31.3l4.9 16l4.9-17.9l4.9-5.4l4.9-20.7l4.9-18.1l4.9 49.3l4.9-35.5l4.9-16.3l4.9 24.6l4.9 27.9l4.9-10.6l4.9-11.4l4.9 37.9l4.9 5.2l4.9-3.5l4.9-28.9l4.9-8.9l4.9-29.7l4.9 1.2l4.9-14.8l4.8 22.1l4.9 42.7l4.9-39.5l4.9 14.1l4.9-18.6" stroke="#ff7f0e"/>
<path d="M2004.6 2086.8l4.9-68.7l4.9 172.4l4.9-136.7l4.9 302.2l4.9-518.4l4.9 98.6l4.9 14.4l4.9-391.1l4.9 478.3l4.8 260.6l4.9-326.1l4.9 160l4.9 142.2l4.9 13.9l4.9-123.1l4.9 187.8l4.9-245.8l4.9 35.5l4.9 139.9l4.9-152.1l4.9-206.8l4.9 344.9l4.9 41.7l4.9-67.2l4.9-72.8l9.8 134.6l4.9-79.2l4.9-75l4.8 42.4l4.9 140.1l4.9-14.4l4.9 19.4l4.9-18.5l4.9-79.4l4.9 115.4l4.9-45l4.9-0.9l4.9-7.1l4.9-64.9l4.9 46.5l4.9 64.9l4.9-53.5l4.9-10l4.9 54.9l4.9 0.1l4.9-3.2l4.9-23.5l4.9-39l4.9-49.5l4.8 53.9l4.9-64l4.9 69.4l4.9-11.2l4.9 14l4.9 62.8l4.9-18l4.9-57.3l4.9-9.6l4.9 76.9l4.9-91.9l4.9 2.6l4.9 96.7l4.9-38.7l4.9-40.2l4.9-17.6l4.9 24.3l4.9 72.2l4.9-2.6l4.8-1.5l4.9-0.5l4.9-2.1l4.9-19.7l4.9-29.4l4.9 14.7l4.9 39.7l4.9-6.9l4.9-14.7l4.9-9.9l4.9-0.3l4.9-2.4l4.9 29.4l4.9-53.8l4.9-12.5l4.9 54.6l4.9-15.6l4.9-5l4.9 1.3l4.9 27.5l4.8 10.5l4.9-12.6l4.9-9.4l4.9 2.1l4.9-18.1l4.9 14.6l4.9 16.6l4.9-9.4l4.9-9.8l4.9 22.3l4.9-39.8l4.9 24.5l4.9-18.2l4.9-0.4l4.9-18.2l4.9-7.8l4.9 54.3l4.9-20.5l4.9 22.6l4.9-19l4.8-27.1l4.9 20.2l4.9 30.1l4.9-14.6l4.9-33.3l4.9-31.1l4.9-2.1l4.9 48.7l4.9 21l4.9-34.9l4.9-7.2l4.9-3.1l9.8 45.6l4.9 3.8l4.9-20.1l4.9-15.8l4.9 25.1l4.9-34.9l4.9 45.2l4.9-8l4.8-39l4.9 35.7l4.9 22.1l4.9-13.9l4.9-12.8l4.9-7.7l4.9-23.3l4.9 10.1l9.8 28.5l4.9 2.9l4.9-4.2l4.9 2l4.9-0.4l4.9 9.5l4.9-5.6l4.9 14.5l4.9 0.4l4.9-34l4.8 8.4l4.9-11.1l4.9 25.4l4.9-2.1l4.9 10.8l4.9-22.1l4.9-18.9l4.9 32.2l4.9 7.9l4.9-2.5l4.9-7.7l4.9-12.9l4.9 7.7l4.9-8.3l4.9-6.2l4.9 10.2l4.9 20l4.9-21.2l4.9 10.5l4.9 3.8l4.9-11.6l4.8 19l4.9-15.7l4.9 4.7l4.9 12.1l4.9-1.4l4.9-7.7l4.9 5.8l4.9-23.5l4.9 8.5l4.9 22.2l4.9-9.4l4.9-9.8l4.9 0.8l4.9-16.5l4.9-11.9l4.9 25.9l4.9 11.4l4.9 6.9l4.9-14.9l4.8 6.2l4.9 5.2l4.9-13l4.9-0.8l4.9 14.5l4.9 7.4l4.9-6.2l4.9-7.2l4.9-21.5l4.9-5.9l4.9 3.9l4.9 8.3l4.9-6.1l4.9 2l4.9 2.5l4.9 15.1l4.9-6.1l4.9-6.3l4.9-5l4.9 20.8l4.8-17.2l4.9-33.1l4.9 12.9l4.9 33.3l4.9-18.9l4.9 10.2l4.9 0.2l4.9 24.6l4.9-38.9l4.9-5.8l4.9 17.5l4.9 5l4.9 13.4l4.9 7l4.9-11.8l4.9-32.5l4.9-1l4.9 21l4.9 0.7l4.9-9.7l4.8-2.7l4.9 21.2l4.9-16.2l4.9 8.1l4.9-24l4.9 7.5l4.9 30.4l4.9-6.2l4.9-23.1l4.9 21.4l4.9 7.9l4.9-37.1l4.9 14.9l4.9 18.1l4.9-24.4l4.9 11.4l4.9 3.1l4.9 14l4.9-17.5l4.9 15.3l4.9-8.3l4.8-10.9l4.9-17.6l4.9 29.4l4.9-15.6l4.9 4.6" stroke="#2ca02c"/>
<path d="M2004.6 2264.4l4.9-78.4l4.9 149l4.9-226.3l4.9-90.9l4.9 78l4.9 170.8l4.9 17.9l4.9 8.7l4.9-140.2l4.8-89.8l4.9 261.7l4.9-222.2l4.9-56.8l4.9 270.8l4.9-109.4l9.8-196.7l4.9 288.5l4.9-304.9l4.9 307.7l4.9 25.4l4.9 20.3l4.9-86.9l4.9 55.9l4.9-83.6l4.9-85.4l4.9 175.6l4.9-34.5l4.9-23.1l4.8 9.4l4.9-1.9l4.9 32.4l4.9-98l4.9-16.5l4.9 74.8l4.9 80.6l4.9 6.2l4.9-4.2l4.9-63l4.9 37.6l4.9 20.7l4.9 0.6l4.9-33.1l4.9-44.1l4.9 42.7l4.9 24.4l4.9 5.3l4.9-32.2l4.9-44.4l4.9 13.3l4.8 42.1l4.9-29.1l4.9-22.6l4.9 52.9l4.9-52.7l4.9 32.6l4.9 14.1l4.9-61.9l4.9 1.4l4.9 38.5l4.9 41.8l4.9-25.5l4.9 11.4l4.9-27.4l4.9-74.5l4.9 62.7l4.9 39.8l4.9-38.4l4.9 57.8l4.8-5.3l4.9 4l4.9-3.7l4.9-53.3l4.9 19.6l4.9 52.9l4.9-32.4l4.9 6.1l4.9-24l4.9 6.6l4.9 20.9l4.9-80.7l4.9 56l4.9 30l4.9 8.1l4.9-22.4l4.9 3.7l4.9-56.9l4.9-0.3l9.7 85.6l4.9-8.2l4.9 1.2l4.9-53.3l4.9-18l4.9 27.4l4.9 2.5l4.9 0l4.9 17l4.9-3.6l4.9 12.9l4.9 22.6l4.9-9.1l4.9-49.2l4.9 55.2l4.9-16.7l4.9 14.5l4.9-22.2l4.9 25.8l4.9-34.7l4.8-29.7l4.9 6.1l4.9 34.4l4.9-18.5l4.9-18.1l4.9 10.9l4.9 36.6l4.9-2.1l4.9-38.1l4.9 12.2l4.9 30.8l4.9-35.6l4.9 8.3l4.9 0.4l4.9 17l4.9-22.1l4.9-23.5l4.9 47.2l4.9-13.8l4.9 31.2l4.9-37.6l4.8-45.1l4.9 27.9l4.9 16.3l4.9-16.2l4.9 5.6l4.9 23.7l4.9-2l4.9 13.8l4.9-12.8l4.9 8.6l4.9 9.6l4.9 6.5l4.9 0.3l4.9-27.5l4.9 4.6l4.9-7.5l4.9-25.9l4.9 35.2l4.9-8.1l4.8-9.1l4.9 1.4l4.9 7.9l4.9 22l4.9 1.8l4.9-11.4l4.9-0.8l4.9 17.9l4.9-40.6l4.9-1.5l4.9 6.5l4.9-7.7l4.9-15.2l4.9 43.4l4.9 2.5l4.9 0.9l4.9-2.7l4.9-30.9l4.9 44.3l4.9-3.9l4.9-12.9l4.8-1.7l4.9 22.6l4.9-1.8l9.8-39.8l4.9-1.2l4.9 7.9l4.9-9.6l4.9 24.3l4.9 16.4l4.9-39.4l4.9-7.9l4.9 23.9l4.9-10.2l4.9 6.6l4.9 13.4l4.9-19l4.9-17.3l4.9 43.5l4.8 10.1l4.9-38.7l4.9-33.4l4.9 20l4.9 4.3l4.9 9l4.9 33.4l4.9 7l4.9-16.9l4.9-20l4.9 3.8l4.9 29.4l4.9-1.1l4.9-16.6l4.9-11.3l4.9 9.2l4.9-23.5l4.9-12.4l4.9 17.3l4.9 6.1l4.8-4.8l4.9 10l4.9 31l4.9-38.5l4.9-5.3l4.9 10.1l4.9-10.1l4.9 10.1l4.9 13.5l4.9-0.9l4.9-30l4.9 18.3l4.9 14.7l4.9-21.8l4.9 6.3l9.8 23.2l4.9-27.4l4.9 6.3l4.9 16.6l4.8-27.1l4.9 5.7l4.9 29.1l4.9-32.5l4.9 9.6l4.9-17.6l4.9-2.8l4.9 29.7l4.9-24.8l4.9 10.7l4.9 14.4l4.9 4.2l4.9 10.1l4.9-21.7l4.9-39.4l4.9 30.6l4.9 27.5l4.9-55.7l4.9 20.6l4.9-7.9l4.9 40l4.8-59.5l4.9 12.5l4.9-16.1l4.9 21.8l4.9 27.6" stroke="#d62728"/>
<path d="M2004.6 2282.8l4.9-73.8l4.9-226l4.9 333.7l4.9-588.9l4.9 395.3l4.9-33.9l4.9 172.8l4.9-103.9l4.9 169.3l4.8-271.3l4.9 290.5l4.9-336.8l4.9 154.1l4.9-32.5l4.9 26.7l4.9 151.8l4.9-276.4l4.9 253.8l4.9-285.4l4.9 317.4l4.9-18.8l4.9-278.7l4.9-46.1l4.9 107.2l4.9 26.6l4.9 222.5l4.9-128.6l4.9 89.8l4.9-222.6l4.8 92.8l4.9 56.9l4.9-70.8l4.9-4.7l4.9 114l4.9 27.6l4.9 51.8l4.9-30.5l4.9 36.1l4.9-49.6l4.9-26.8l4.9 25.5l4.9 41.2l4.9-15.5l4.9 7.2l4.9 26.2l4.9-51.3l4.9-8.6l4.9 30.8l4.9 19.7l4.9-10.7l4.8 17.4l4.9-52.4l4.9 7.7l4.9 44.9l4.9-37.3l4.9 35.7l4.9-96.3l4.9 33.5l4.9-17.1l4.9 14.4l4.9 71.4l4.9-17.2l4.9 6.1l4.9-41.9l4.9-25.4l4.9 29.2l4.9 17l4.9 4l4.9 1.5l4.8-58.9l4.9 32.2l4.9 16.7l4.9 22.6l4.9-11.4l4.9-21l4.9 37.5l4.9-12.5l4.9 13.1l4.9-74.6l4.9-2.5l4.9 4l4.9-2.2l4.9 1.2l4.9 52.1l4.9-59l4.9 12.3l4.9 5.5l4.9 7.8l4.9 1.9l4.8 30.9l4.9-2.3l4.9 22.8l4.9-28.4l4.9-21.2l4.9 29.4l9.8-46.9l4.9 22.8l4.9 54.8l4.9 0.3l4.9-26l4.9-11.1l4.9 9.5l4.9 13.4l4.9 5.5l4.9-16.3l4.9-9.4l4.9 18.5l4.9-33.7l4.8-10.1l4.9 2.7l4.9 26l4.9 13.6l4.9 11.1l4.9-12.7l4.9-37.2l4.9 22.7l4.9 12.7l4.9-24.2l4.9 38l4.9-13.9l4.9 18.4l4.9-18.4l4.9-12.1l4.9 18.1l4.9 1.1l4.9-41.4l4.9-8.8l4.9 33l4.9 9.8l4.8-26.1l4.9-3.5l4.9-30.1l4.9 2.1l4.9 30.8l4.9 26.1l4.9 18.5l4.9-8.6l4.9 8.5l4.9-21.8l4.9 6.7l4.9 19.6l4.9-7.9l4.9-17.1l4.9-27l4.9 19.2l4.9-0.7l4.9-16.9l4.9-7.3l4.8 7.1l4.9-3.9l4.9 15.8l9.8 9.7l4.9 6.5l4.9 10.4l4.9 9.5l4.9-22.5l4.9-24l4.9-6.2l4.9 20l4.9 1.9l4.9 23.3l4.9 2.1l4.9-11.7l4.9-36l4.9 28.7l4.9 7.3l4.9-1.1l4.9-17.6l4.8 3.9l4.9 29.8l4.9-15.9l4.9-3.6l4.9-9.2l4.9 11.1l4.9-2.4l4.9 11.5l4.9 7.1l4.9-4l4.9-8.2l4.9 9.5l4.9-1.6l4.9-12.1l4.9 4.5l4.9-1.7l4.9 16.6l4.9-18.9l4.9-14.3l4.8 7.9l4.9 7l4.9-29.7l4.9 25.2l4.9-15.3l4.9-17.9l4.9 33.4l4.9 22.5l4.9-10.2l4.9-5.2l4.9-24.5l4.9 8.5l4.9 6.7l4.9 2.3l4.9 11.3l4.9-9.9l4.9 4.6l4.9 7.9l4.9-26.4l4.9 0.2l4.8 28.7l4.9 0.1l4.9 0.7l4.9-16.4l4.9-15.7l4.9 25.7l4.9 0.2l4.9-15.6l4.9-7.4l4.9 3.2l4.9-11.4l4.9-2.1l4.9 11l4.9 31.2l4.9-5.1l4.9 3l4.9-19.7l4.9-6.3l4.9 0.6l4.9-12.2l4.8 33.3l4.9-36l4.9-15.1l4.9 21.6l4.9 1l4.9-9.4l4.9-3.2l4.9 35.7l4.9 4.3l4.9-3.6l4.9 9.3l4.9-3.6l4.9-11.3l4.9 9.4l4.9-1.1l4.9-17.4l4.9-27l4.9 2.8l4.9-10.6l4.9-6.1l4.9 29.3l4.8 34.4l4.9 3.4l4.9-17.2l4.9 3.2l4.9-21.6" stroke="#9467bd"/>
<path d="M2004.6 1923.3l4.9-15.5l4.9-210.2l4.9 223.5l4.9-80.7l4.9 160.3l4.9-173.3l4.9 213.4l4.9-121.2l4.9 132.3l4.8 180.3l4.9 50.8l4.9 66.9l4.9-273.4l4.9-130l4.9-7.8l4.9 106.2l4.9-65.2l4.9 11.1l4.9 324.1l4.9-380.9l4.9 89.6l4.9 170.1l4.9 42.8l4.9-135.9l4.9 159.1l4.9 76.4l4.9-244.8l4.9 86.8l4.9-21.9l4.8 131.3l4.9 14.4l4.9 51.5l4.9-68.8l4.9 26.8l4.9 37l4.9 5.5l4.9-28l4.9-74.6l4.9-40.8l4.9 2.8l4.9 34.9l4.9 34l4.9 45.9l4.9-5l4.9-198.3l4.9 78l4.9 0.9l4.9-14.4l4.9 63.3l4.9 69.9l4.8-131.4l4.9-7.3l4.9 51.5l4.9 14l4.9-44.2l4.9 52.6l4.9-46.4l4.9 23.1l4.9 92.4l4.9 7.2l4.9-80.8l4.9-31.8l4.9-2.3l4.9 98.8l4.9-0.5l4.9 3l4.9 17.9l4.9-14.4l4.9-76l4.8-6.8l4.9 8.3l9.8-28.8l4.9 65.1l4.9-17.9l4.9-45.6l4.9 23.4l4.9 26.9l4.9-26.6l4.9-6.6l4.9 7.1l4.9 21.5l4.9 40l4.9-74.6l4.9 11.4l4.9 53.9l4.9 34.8l9.8-57.5l9.7 50l4.9-7l4.9 34.7l4.9-16.3l4.9-42.2l4.9 47.5l4.9-15.5l4.9 13.1l4.9-3.8l4.9-12.3l4.9-54.4l4.9 23.9l4.9 0.7l4.9 33.6l4.9 18.7l4.9-35.9l4.9-53.4l4.9 2.2l4.9 13.2l4.8 26.1l4.9 30.1l9.8-36.9l4.9 26.6l4.9 33.6l4.9-60.3l4.9 0l4.9 6l4.9 18.2l4.9 1.8l4.9 22.2l4.9-22l4.9-18.4l4.9 41.7l4.9-55.6l4.9-32.8l4.9 58.7l4.9 3.9l4.9-2.9l4.9 37.8l4.8-6.5l4.9 9.5l4.9-26.5l4.9-8l4.9-45.2l4.9-13.6l4.9-2.8l4.9 28.9l4.9 57.4l4.9-31.4l4.9 8l4.9-14.9l4.9 17.6l4.9-24.5l4.9-11.4l4.9 14.3l4.9-4.2l4.9 8.8l4.9 36.2l4.8-12.7l4.9-11.4l4.9 26.5l4.9-0.7l4.9-3.9l4.9 6l4.9-19.5l4.9 6.8l4.9-2.5l4.9-26.2l4.9 5.9l4.9 24.2l4.9-50.3l4.9 2.7l4.9 24.1l4.9 6.1l4.9-5.3l4.9 41.5l4.9-36.6l4.9-25.7l4.9-1.5l4.8 61.3l4.9-46.5l4.9-21.4l4.9 38.5l4.9-22.1l4.9 32.6l4.9-6.5l4.9-18.9l4.9 21.7l4.9 17.9l4.9-41.8l4.9 0.6l4.9 7.7l4.9 13.3l4.9-21.2l4.9-12.5l4.9 56.5l4.9-31.4l4.9-6.9l4.8 26.6l4.9-26.6l4.9-22.1l4.9 41.5l4.9-8.5l4.9 31.9l4.9-11.4l4.9-19l4.9-37.8l4.9 12.6l4.9 3.1l4.9 17.8l4.9 28.1l4.9 8.7l4.9-10.5l4.9-15.7l4.9-26.5l4.9 14.2l4.9-37.9l4.9 13.8l4.8 34.1l4.9 27l4.9-27.9l4.9 15.7l4.9-50.9l4.9 11.7l4.9-11.7l4.9 13.8l4.9 17.5l4.9-20.1l4.9-6.8l4.9 0.3l4.9 16.6l4.9 17.1l4.9 17.6l4.9-31.2l4.9-37.2l4.9 39.9l4.9-7.5l4.9 19.1l4.8 11l4.9 2.5l4.9-24l4.9-32.6l4.9 2.6l4.9-3l9.8 57.4l4.9-44.2l4.9 19.7l4.9 28.9l4.9-42l4.9-30.3l4.9 40.9l4.9 18.9l4.9-24.8l4.9 5.6l4.9-40l4.9 40.3l4.9 2.8l4.9-31.9l4.8-17.3l4.9 17.8l4.9 50.3l4.9-32.9l4.9-9.1" stroke="#8c564b"/>
<path d="M2004.6 2197.9l4.9-101.5l4.9-122.4l4.9 179.8l4.9 144.4l4.9-230.3l4.9 78.2l4.9 42.4l4.9-310.2l4.9 166.5l4.8 248.5l4.9-282.2l4.9-66.2l4.9 246.6l4.9 12.5l4.9-60.4l4.9-131.9l4.9 293l4.9-365l4.9 410.5l4.9-128.3l4.9 10.3l4.9 31.1l4.9 90.3l4.9-241.2l4.9 142l4.9-0.5l4.9-16.2l4.9-76.2l4.9-105.3l4.8 17.4l4.9 282.5l4.9-237.3l4.9-0.2l4.9 136.9l4.9 24.2l4.9 25.6l4.9-109.8l4.9 24.7l4.9 130.4l4.9-46.9l4.9-81.7l4.9 93.1l4.9-82.7l4.9-5.6l4.9-40.4l4.9-0.3l4.9 38.3l4.9-29.1l4.9 31.5l4.9 43.9l4.8-19.5l4.9-54.2l4.9 66.9l4.9-17.3l4.9-58.5l4.9 11.9l4.9 77l4.9-14.6l4.9-23l4.9 78l4.9-30.8l4.9-8.3l4.9 17.1l4.9 1.9l4.9 10.6l4.9-89.1l4.9-15.7l4.9-2.1l4.9 25.7l4.8-45.3l4.9 146.6l4.9-66.3l4.9-18.1l4.9 12.2l4.9 22.1l4.9-37.8l4.9-4.9l4.9-6.1l4.9 102.1l4.9-81.7l4.9-30.4l4.9 9.6l4.9 4.9l4.9 26.7l4.9 47.8l4.9-20.5l4.9-44.9l4.9 53.5l4.9-6l4.8 5.9l4.9 13.4l4.9-26.2l4.9-16l4.9 77.2l4.9-29.9l4.9-17.8l9.8-32.9l4.9-24l4.9 18.8l4.9 48.3l4.9-30.2l4.9 23.6l4.9 32.5l4.9-8.2l4.9-23l4.9-39.1l4.9 41.5l4.9 45l4.8-31.8l4.9 30.1l4.9-44.6l4.9 17.3l4.9 24.6l4.9-43.1l4.9-29l4.9 33.5l4.9 48.5l4.9-6.7l4.9 0.2l4.9-1.8l4.9-6.7l4.9-15.4l4.9-29.6l4.9 22.5l4.9-3.8l4.9 30.7l4.9-44.9l4.9 22l4.9 12.7l4.8 7.9l4.9-4l4.9-34.5l4.9 11.3l4.9-53.8l4.9 19l4.9 28.4l4.9 21.8l4.9-13.6l4.9-7.5l4.9 3.4l4.9 25.9l4.9-35.7l4.9 42.5l4.9-47.3l4.9 2.2l4.9 0.4l4.9 17.7l4.9-5.3l4.8 11.7l4.9-12.3l4.9 24.7l4.9-14.5l4.9-23.7l4.9 10.1l4.9 12.3l4.9-6.5l4.9 18.7l4.9 9.3l4.9-15.9l4.9-3.1l4.9-3.6l4.9 17.1l4.9 6.3l4.9-0.1l4.9-67.4l4.9 6.2l4.9 44.8l4.9-8.9l4.9-45.1l4.8 37.8l4.9 12.1l4.9-4.3l4.9 17l4.9 4.7l4.9-12.5l4.9 27.8l4.9-22.1l4.9-10.8l4.9 5.7l4.9-2.8l4.9-27.1l4.9-8.8l4.9-6.2l4.9 28l4.9 32.1l4.9-35.8l4.9 11l4.9 36.7l4.8-20.4l4.9-49l4.9 42l4.9-33l4.9-10.5l4.9 31.4l4.9-16.3l4.9-10.5l4.9 53.7l4.9-17.5l4.9 16.1l4.9-11.5l4.9-45.9l4.9 17.9l4.9 32.9l4.9 4.7l4.9-25.6l4.9-12.2l4.9 23.8l4.9 1.5l4.8 9.7l4.9-4.7l4.9 20.8l4.9-44.4l4.9-0.1l4.9-3.9l4.9 25.8l4.9 1l4.9-24.3l4.9 31.1l4.9 2.3l4.9-11.7l4.9 7.3l4.9 14.6l4.9 0.5l4.9-37.1l4.9-9l4.9 3.1l4.9-8.4l4.9 19.9l4.8-0.7l4.9-22.4l4.9 28.4l4.9 27.4l4.9-5l4.9-3l4.9-19.6l4.9-25.3l4.9-0.8l4.9 26.6l4.9-61.2l4.9 61.8l4.9-17.7l4.9 16.3l4.9 5.6l4.9-5.1l4.9-69.8l4.9 7l4.9-34.3l4.9-13.6l4.9-26.4l4.8-21.5l4.9 32.8l4.9 22.6l4.9-16.2l4.9 26.8" stroke="#e377c2"/>
<path d="M2004.6 2349.7l4.9-96.8l4.9-109.1l4.9 156.3l4.9-343.2l4.9 292.4l4.9 74.7l4.9-101.8l4.9-145.6l4.9 150.8l4.8 123.4l4.9-46l4.9 23.4l4.9-192.7l4.9-197.5l4.9 346l4.9-22.8l4.9 68.3l4.9-171.7l4.9 58.2l4.9 128.8l4.9-7.9l4.9-84.6l4.9-22l4.9-72.2l4.9 24.1l4.9 171.5l4.9-269l4.9 1.2l9.7 149.7l4.9-38.1l4.9 56l4.9 101.9l4.9-5.9l4.9-135.9l4.9-19.5l4.9-15.4l4.9 144.9l4.9 18l4.9-67.9l4.9-73l4.9-9.6l4.9 80.2l4.9 5.2l4.9 25.6l4.9 3.6l4.9 20.3l4.9 3.3l4.9 1.9l4.9-23.5l4.8-64.8l4.9-1.6l4.9 56l4.9 10.5l4.9 34.6l4.9-79.5l4.9-141.9l4.9 138.7l4.9 20.1l4.9-40.4l4.9 21.1l4.9 65.4l4.9-14.5l4.9-25.2l4.9 6l4.9-20.4l4.9 57.1l4.9-90.5l4.9 6.6l4.8 78l4.9-19.3l4.9 34.9l4.9 6l4.9-3l4.9-59.9l4.9-5.6l4.9-10.9l4.9 53.6l4.9-0.4l4.9 13.4l4.9-14.6l4.9-40.9l4.9 8.5l4.9 61.1l4.9-46.5l9.8 1.2l4.9-1.4l4.9-39l4.8 4.1l4.9 36.4l4.9-10.5l4.9-7.1l4.9 23.2l4.9-0.5l4.9 20.9l4.9-4.5l4.9-11.1l4.9 37.7l4.9-2.6l4.9-15.7l4.9 7.7l4.9-45.4l4.9 20.2l4.9 13.9l4.9 13.3l4.9-25.4l4.9-23.7l4.9-2.7l4.8 20l4.9 46l4.9-46.5l4.9-22.5l4.9 26.8l4.9-24.2l4.9 22l4.9 36.4l4.9 1.8l4.9-7.3l4.9-26.2l4.9-13.1l4.9 7.9l4.9 16.5l4.9-8.9l4.9-24.3l4.9 29.8l4.9 26.4l4.9-16.5l4.9-3.6l4.9 12l4.8-35.4l4.9 3l4.9-13.7l4.9 32.7l4.9 14l4.9 1l4.9-24l4.9-9.1l4.9 22.8l4.9 20.5l4.9-11.3l4.9-25.9l4.9-18l4.9 31.7l4.9 1.7l4.9 8.2l4.9-5.5l4.9-16.6l4.9 11.5l4.8 17.7l4.9-1.6l4.9 3l4.9-0.3l4.9-0.8l4.9-3.7l4.9-47l4.9 24.3l4.9 33.7l4.9-20.2l4.9 14.6l4.9 5.5l4.9-17.4l4.9-33.3l4.9 11.4l4.9 21.8l4.9 5.1l4.9-16.6l4.9-6.8l4.9 13.9l4.9 18.6l4.8-23.6l4.9 21l4.9-9.9l4.9 3.7l4.9 7.9l4.9-4.3l4.9-15.6l4.9 1.9l4.9-1.4l4.9 3.7l4.9 19.3l4.9-5.8l4.9-7.6l4.9 5.4l4.9-31.7l4.9-16.1l4.9 34.9l4.9-4.4l4.9 7l4.8-10.6l4.9-17.1l4.9 5.2l4.9 26.9l4.9-0.8l4.9-28l4.9 8.1l4.9 30.2l4.9-13.1l4.9 17l4.9-4.2l4.9 4.1l4.9-21.2l4.9 9.3l4.9-5.3l4.9-10.9l4.9 10.3l4.9-14l4.9-34.6l4.9 29.2l4.8 1l4.9 11.8l4.9 21.8l4.9-15.5l4.9-2l4.9 7.2l4.9 9.3l4.9-14.3l4.9 6.2l4.9 1.3l4.9 8l4.9-13.8l4.9-7.7l4.9 6.1l4.9-6l4.9 16.7l4.9 3.6l4.9 4.1l4.9-12.9l4.9-9.2l4.8 2.3l4.9-1.9l4.9-0.8l4.9 5l4.9-1.4l4.9 3.4l4.9-0.9l4.9-87l4.9 101.3l4.9-9.4l4.9-12.7l4.9 17.8l4.9-41.3l4.9 4.1l4.9 21.2l4.9 2.6l4.9 3.7l4.9-63.1l4.9-24.1l4.9 43.5l4.9 54.2l4.8-57.1l4.9-7.5l4.9 33.3l4.9 17.6l4.9 6" stroke="#7f7f7f"/>
<path d="M2004.6 2109.9l4.9 68.3l4.9 97.6l4.9-92.9l4.9 169.2l4.9-220l4.9-153.8l4.9 23l4.9 255.4l4.9 83.2l4.8-242.1l4.9 86.1l4.9-96.3l4.9 245.7l4.9-22l4.9-97.2l4.9 84.3l4.9-141.9l4.9 180l4.9-2.5l4.9-141.5l4.9-59.6l4.9 29.7l4.9 176l4.9-126.2l4.9 72.5l4.9-88.2l4.9 18.3l4.9-167.3l4.9 97.7l4.8 180.2l4.9-3.1l4.9-45.9l4.9-163.5l4.9 93.1l4.9 112.1l4.9-26l4.9-57.5l4.9-0.5l4.9 26.6l4.9 19l4.9 18.6l4.9-7l4.9-17.4l4.9-72.9l4.9 59.5l4.9-119.3l4.9 4.6l4.9-3.8l4.9 11.3l4.9 156.7l4.8 44.2l4.9-75.9l4.9-40.2l4.9 44.3l4.9 52.8l4.9-103.2l4.9 22.1l4.9 92.8l4.9-12.2l4.9-98.5l4.9-75.3l4.9 185l4.9 1.2l4.9-32.7l4.9-79.2l4.9 54.4l4.9-8l4.9-8.4l4.9 36.9l4.8 20.4l4.9-22l4.9 36.2l4.9 8.7l4.9-10.4l4.9-29.6l4.9-21.5l4.9 41.5l4.9 4.3l4.9 0.6l4.9-29.7l4.9-40.7l4.9 17.4l4.9 18.1l4.9 28.9l4.9-70.9l4.9 6.1l4.9 46.7l4.9-3l4.9-43.9l4.8-26.1l4.9 25.4l4.9 2.9l4.9 22l4.9-6.2l4.9 30.5l4.9-8.1l4.9-20.6l4.9 64.5l4.9-75.3l4.9-8.6l4.9 8.9l4.9 19.8l4.9 0.8l4.9 23.2l4.9-21l4.9-0.7l4.9-10.4l4.9 20.6l4.9-0.8l4.8-5.3l4.9-18.8l4.9 21.2l4.9 34.9l4.9 2.4l4.9-16.2l4.9 6l4.9-3.8l4.9-38.6l4.9 40.2l4.9-0.8l4.9-40.2l4.9 9.9l4.9 8.4l4.9-16.8l4.9 14.6l4.9 13.8l4.9-8.7l4.9 24.2l4.9-6.8l4.9-8l4.8 3.3l4.9-1.4l4.9-4.4l4.9 9.1l4.9 20.5l4.9-34l4.9-24.9l4.9 16.4l4.9-0.7l4.9 19.1l4.9 24.8l4.9 3.1l4.9-16.7l4.9-7.7l4.9 5.5l4.9-3.5l4.9 23.3l4.9-8.4l4.9-25.5l9.7-8l4.9 9.4l4.9-5.7l4.9 10l4.9 5.9l4.9-13.4l4.9-6l4.9 13.5l4.9 24.7l4.9-20.9l4.9-4.8l4.9-15.6l4.9 3.1l4.9 24.1l4.9-30.2l4.9 9.2l4.9 16.6l4.9 8l4.9 13.4l4.9 0.5l9.7-31.7l4.9 16.3l4.9 0.9l4.9-13.6l4.9 2.4l4.9 9l4.9-2.6l4.9 13.2l4.9-22.9l4.9-25.4l4.9 26.8l4.9 17.8l4.9-2.2l4.9-18.5l4.9-0.7l4.9 15.9l4.9-16.8l4.9-2.7l4.8 21.9l4.9 7.4l4.9-24.8l4.9 1.3l4.9-10.9l4.9 27.2l4.9-3.5l4.9-14.2l4.9-3.9l4.9 25l4.9-23.2l4.9 4.9l4.9-0.1l4.9 1l4.9-1.6l4.9 1.9l4.9-25.7l4.9 5.1l4.9 25.8l4.9-2l4.8 12.7l4.9 7l4.9-38l4.9 18.5l4.9-12.9l4.9 0.4l4.9 9.7l4.9-16.5l4.9 6.2l4.9 12.6l9.8-26.6l4.9 38.8l4.9 6.6l4.9-14l4.9-20.3l4.9-5.5l4.9 32.4l4.9-38.6l4.9 6.4l4.8 28.9l4.9-81.6l4.9 60.6l4.9-2.7l4.9-71.4l4.9 65.3l4.9 2.2l4.9 3.8l4.9-18.8l9.8 5.5l4.9 4.6l4.9 22.8l4.9-15.8l4.9-8.9l4.9 43.2l4.9-45.6l4.9 7.8l4.9 37.1l4.9-32.5l4.9-6.4l4.8-29.9l4.9-16.7l4.9 25l4.9-51.8l4.9 12.1" stroke="#bcbd22"/>
<path d="M2004.6 2094.6l4.9 51.6l4.9-127.9l4.9 11.4l4.9 223.6l4.9-363.4l4.9 179.7l4.9-38.6l4.9 73.3l4.9 15.9l4.8 193l4.9-279.3l4.9 155.2l4.9-238.2l4.9 325.4l4.9-125.4l4.9-198.9l4.9 190.7l4.9 86.5l4.9 90.7l4.9-280.3l4.9 115.5l4.9 159.2l4.9-19.7l4.9-8.3l4.9 26.6l4.9-64.5l4.9-150.6l4.9-24.2l4.9 144.4l4.8 35.5l4.9-63.8l4.9-26.1l4.9 168.3l4.9-83.1l4.9 27.4l4.9 8l4.9-127.9l4.9-43.6l4.9-4.5l4.9-18.1l4.9 25.7l4.9-14.4l4.9 29.5l4.9-29.5l4.9 195.4l4.9-28.1l4.9 80.1l4.9-107.9l4.9 61.5l4.9-2.3l4.8-195.7l4.9 0l4.9-71.7l4.9 120.8l4.9 72.4l4.9 82.6l4.9-15l4.9-85.9l4.9-9.4l4.9-24.8l4.9 43l4.9 98.7l4.9-76l4.9 82.1l4.9-25l4.9-119.3l4.9 48.5l4.9 76.3l4.9 15.3l4.8-12.7l4.9-14.3l4.9 15.3l4.9-144.2l4.9 97.6l4.9-46.8l4.9 36.9l4.9 35.2l4.9-20.7l4.9 15.5l4.9 40.5l4.9 12.6l4.9-33.5l4.9 24.3l4.9-96.2l4.9 28.4l4.9 39.2l4.9-3.2l4.9 3.8l4.9-1.2l4.8 14.8l4.9-60.9l4.9 3.7l4.9 30.2l4.9-1.5l4.9 13.7l4.9 44.1l4.9 0.7l4.9-24.6l4.9-59.4l9.8 48.7l4.9 43.3l4.9-47.4l4.9 0.4l4.9 28.7l4.9-9l4.9-39.7l4.9 42.2l4.9 0.8l4.8 23l4.9-55.9l4.9-17.3l4.9-1.5l4.9 39.3l4.9-11l4.9 0.4l4.9 24.4l4.9 13.7l4.9-60.4l4.9 5.6l4.9-10.2l4.9 16.1l4.9 14.1l4.9 6.9l4.9 6.5l4.9 23.1l4.9-14.8l4.9-26.6l4.9 9.3l4.9 7.9l4.8-0.8l4.9-9.4l4.9-25.1l4.9 54.2l4.9-29l4.9-36.1l4.9 2.2l4.9 50.8l4.9 21.1l4.9-36.4l4.9 4.7l4.9 36.6l4.9-4.7l4.9-40.3l4.9-23.8l4.9 1.8l4.9-0.7l4.9-2.7l4.9 8.3l4.8 59.7l4.9-41.7l4.9 27.1l4.9-5.8l4.9 2.9l4.9-9.7l4.9 4.7l4.9 23.5l4.9-39l4.9 10.6l4.9 7l4.9 12.9l4.9-9.5l4.9-17.1l4.9-6.3l4.9 44.7l4.9-35.5l4.9-0.7l4.9 0.5l4.9-12.3l4.9-9.7l4.8 12.5l4.9 19l4.9-13.4l4.9 20l4.9 13.8l4.9-4.4l4.9-18.8l4.9 3.7l4.9-33.2l4.9 3.7l4.9-20l4.9 32.8l4.9 22.7l4.9-15.1l4.9 23.4l4.9-27.2l4.9 14.9l4.9-5.9l4.9 8.8l4.8-24.8l4.9 18.1l4.9-19.8l4.9 18.1l4.9 7.5l4.9-15.7l4.9-11.1l4.9 1.1l4.9 38.2l4.9-23.6l4.9-3.1l4.9 36.4l4.9-35.9l4.9-16.1l4.9 4.2l4.9 15.5l4.9 24.3l4.9-20l4.9-16.4l4.9-5.1l4.8 30.1l4.9 5.5l4.9-38.4l4.9 3.5l4.9 41.2l4.9 6.7l4.9-12.3l4.9 0.1l4.9 1.8l4.9-45.1l4.9-1.5l4.9 28.1l4.9 24.3l4.9-14.1l4.9-19l4.9-23l4.9 13.2l4.9 2l4.9-28.8l4.9-8.4l4.8 59.7l4.9 1.1l4.9-39.4l4.9 14.4l4.9-9.1l4.9 27.7l4.9-0.5l4.9 12.9l4.9-8.2l4.9 25.2l4.9-26.5l4.9 29l4.9-57.3l4.9 11.1l4.9 17.6l4.9-2l4.9-32.2l4.9 33l4.9-4.2l4.9-41.1l4.9 32.6l4.8 17.2l4.9-56.6l4.9-10.9l4.9 80.6l4.9-14.3" stroke="#17becf"/>
<path d="M2004.6 2306l4.9-379.4l4.9-25.5l4.9 237.9l4.9-91.5l4.9 39.1l4.9 104.8l4.9-140.8l4.9 305.4l4.9-196.5l4.8 196.9l4.9-192.8l4.9-106.6l4.9 251.3l4.9-2.6l4.9 40.2l4.9-153.6l4.9-63.6l4.9-40l4.9-71.4l4.9 47.7l4.9 173.8l4.9 80.1l4.9-13.7l4.9-28.1l4.9 77.1l4.9-245l4.9-4.9l4.9 111.2l4.9-27.8l4.8 144.8l4.9-18.6l4.9-48.7l4.9 34.9l4.9-58.2l4.9-65.1l4.9 140.9l4.9-22.9l4.9-96.8l4.9 53.3l4.9 103.7l4.9-48.4l4.9-12.1l4.9-59l4.9 98.2l4.9-39.5l4.9-54.7l4.9 8.4l4.9 23l9.8 68l4.8 8.3l4.9-55.4l4.9-17.2l4.9 50.6l4.9 1l4.9-73.9l4.9 7.2l4.9 67l4.9 16.7l4.9-47.3l4.9 6.4l4.9 38l4.9-36.8l4.9-76.9l4.9 42.2l4.9 53.3l4.9-46.5l4.9 29.6l4.9-23.6l4.8 11.1l4.9 2.5l4.9 55.6l4.9-79.7l4.9-36.7l4.9 107.6l4.9-76.4l4.9 23.5l4.9 41.9l4.9-5.4l4.9 11.3l4.9-46.2l4.9-40.3l4.9-0.3l4.9 5.1l4.9 58.4l4.9 40.5l4.9-58.3l4.9-16.3l4.9-7.6l4.8 59.3l4.9 8.3l4.9-19.2l4.9 0.4l4.9 6.2l4.9-2.4l4.9-12.6l4.9-26.3l4.9 1l4.9 38.9l4.9-11.6l4.9 28.8l4.9-5.6l4.9 2.7l4.9 3.2l4.9-24.9l4.9 7.7l4.9 18.6l4.9-20.7l4.9-40.9l4.8 33.2l4.9-38l4.9 2l4.9 50.8l4.9-5.2l4.9-3.5l4.9 1.2l4.9 9.3l4.9-24.3l4.9 15.6l9.8-47.1l4.9 6.2l4.9 2.5l4.9 26.3l4.9 28.5l4.9-23.4l4.9-7.6l4.9 0.3l4.9 2l4.9-14.1l4.8-3l4.9 56.7l4.9-12.9l4.9-13.9l4.9-12.3l4.9 33.7l4.9-9.1l4.9-3.3l4.9-9.3l4.9-31.8l4.9 45.7l4.9-38.1l4.9 29.2l4.9-44l4.9 9.4l4.9 43.8l4.9-18.6l4.9 3.9l4.9-14.4l4.8 0.2l4.9 5.8l4.9 22.9l4.9-25.6l4.9 20.3l4.9 9.2l4.9-13.7l4.9 14.9l4.9 8.4l4.9-23l4.9-21.9l4.9-7.3l4.9 14.3l4.9 29.8l4.9-1.1l9.8-38.7l4.9-4.7l4.9 21.6l4.9 32.8l4.9-5.2l4.8-13.2l4.9-33.7l4.9-0.2l4.9 50.5l4.9-33.5l4.9 5.3l4.9 13l4.9 9.1l4.9 0.9l4.9-2.1l4.9-38.6l4.9-4.6l4.9 27.6l4.9-32.7l4.9 30.2l4.9 21.2l4.9-6.2l4.9-19.8l4.9-11.9l4.8 45.7l4.9-15l4.9-21.8l4.9-18.9l4.9 1.5l4.9 8.2l4.9-0.2l4.9-24l4.9-3.9l4.9 53.2l4.9 13.2l4.9-14.7l4.9 2.4l4.9 8l4.9-38.5l4.9-13.3l9.8 54.4l4.9-25.9l4.9-12.6l4.8 6l4.9 29.3l4.9-2.4l4.9 4.9l4.9-3.8l4.9-14.7l4.9 15.5l4.9-18.8l4.9 14.2l4.9-1.9l4.9-15.1l4.9 18.9l4.9-28.3l4.9-9.5l4.9 9.2l4.9 25l4.9-3.7l4.9-8.1l4.9-7.8l4.9 16.7l4.8 21.8l4.9-4.8l4.9 2.5l4.9-25l4.9-0.3l4.9-7.8l4.9-9.5l4.9 19.1l4.9 8.1l4.9 11.6l4.9-1.8l4.9-15.3l4.9-28.7l4.9-12.1l4.9-22.8l4.9 27.6l4.9-8.6l4.9 9.6l4.9 45.3l4.9-9.2l4.9 16.6l4.8-8.2l4.9 4.4l4.9-15.1l4.9-1.6l4.9-13.4" stroke="#1f77b4"/>
<path d="M2004.6 2316.9l4.9-263.5l4.9-26.4l4.9 96.9l4.9-47.2l4.9 28.3l4.9 169.3l4.9-27.9l4.9-97.1l4.9 164.3l4.8-64l4.9-46l4.9 57.5l4.9-83.3l4.9-61.6l4.9 216.4l4.9-296l4.9 19.4l4.9 40.6l4.9 250l4.9-6.4l4.9-8l4.9 11.8l4.9-95.3l4.9 75.8l4.9-184.1l4.9-105.2l4.9 320.9l4.9-120.1l4.9-33l4.8 67.8l4.9 40.1l4.9-23.2l4.9 30.6l4.9-9.8l4.9 18.6l4.9-98.5l4.9 35.5l4.9 25.3l4.9-19.1l4.9 72.8l4.9-101.3l4.9 78.9l4.9 14.3l4.9-126.3l4.9 60.7l4.9 85.2l4.9-9.5l4.9-40.1l4.9 3.8l4.9 27.8l4.8-20.5l4.9-62.9l4.9 46.6l4.9 43.9l4.9-90.8l4.9 32.4l4.9 21.6l4.9-26.7l4.9 15.3l4.9 44.8l4.9-30.5l4.9-51.6l4.9-3.1l4.9 98.7l4.9-40.2l4.9 22.4l4.9-36.5l4.9 29.5l4.9-36.2l4.8 55.1l4.9 5.3l4.9-13.1l4.9-31.3l4.9-5.2l4.9-14.7l4.9-1.8l9.8 45.3l4.9 10.8l4.9-5l4.9-7.8l4.9 4.6l4.9 5l4.9 7.9l4.9-9.3l4.9-116.4l4.9 109.7l4.9-1.8l4.9-1.4l4.8-42.6l4.9-17l4.9 45.5l4.9-164.4l4.9 198.4l4.9-1.9l4.9-11.6l4.9-3l4.9 13.3l4.9-36.5l4.9-14.7l4.9 35.1l4.9 13.4l4.9-12.3l4.9-13l4.9 1.8l4.9 27l4.9-24.2l4.9 23.8l4.9-10.5l4.8-1.2l4.9-7.4l4.9-22.6l4.9-7.6l4.9 6l4.9 8l4.9-27.1l4.9 39.3l4.9 15.7l4.9 1.5l4.9 3.3l4.9-0.1l4.9 1.1l4.9-3.1l4.9-28.2l4.9-33.9l4.9-0.1l4.9 43.2l4.9-7.7l4.9 16.3l4.9 17.6l4.8 6.2l4.9-14.4l4.9-6.9l4.9-33.6l4.9 13.6l4.9 16.9l4.9-18.4l4.9-11.3l4.9 38l4.9 5.9l4.9 1.5l4.9-3.5l4.9-4.2l4.9-9.8l4.9 8.4l4.9 10.6l4.9 5.8l4.9-10.6l4.9-38.1l4.8 14.4l4.9 2.2l4.9-13.7l4.9 20.2l4.9 21.7l4.9-1.6l4.9-1l4.9 8.7l4.9-11.1l4.9-16.4l4.9 6.4l4.9 2.8l4.9-9.6l4.9-12l4.9 2.9l4.9 36.7l4.9-22.3l4.9-11.6l4.9 27.5l4.9-19.3l4.9-6.7l4.8 10.8l4.9-3.4l4.9-33.7l4.9 12.9l4.9 44.4l4.9 1.8l4.9-17.6l4.9 2.3l4.9-1.1l4.9-7.3l4.9 12.9l4.9-22.4l4.9 11l4.9 20.3l4.9-22.5l4.9-27l4.9 8.1l4.9 33.3l4.9-0.4l4.8 0.8l4.9 7.5l4.9-16.7l4.9-20.4l4.9 32.3l4.9-7.2l4.9-15.1l4.9-0.5l4.9 3.7l4.9 16.5l4.9-22.1l4.9 6.7l4.9-2.4l4.9-7.4l4.9 11l4.9 20.7l4.9-0.2l4.9-5.6l4.9-10.4l4.9 4.9l4.8-7.7l4.9-29.1l4.9 3.2l4.9 43.3l4.9-25l4.9 16.7l4.9 7.4l4.9-13.2l4.9-23.2l4.9 15.4l4.9 8.1l4.9-9.4l4.9-4l4.9-9.2l4.9-13.9l4.9 31l4.9 18.6l4.9-44.7l4.9 7.7l4.9 4.2l4.8 19.9l4.9-15.2l4.9-7.9l4.9 29.5l4.9 9.3l4.9-7l4.9-3.7l4.9 0.9l4.9-8l4.9 11.7l4.9 3.1l4.9-34.7l4.9-25.7l4.9 41.1l4.9-51.4l4.9 22.1l4.9 41.2l4.9-47.4l4.9-1.5l4.9 45.5l4.9-13.5l4.8-16.9l4.9 12.5l4.9-23.1l4.9-8.2l4.9 15.3" stroke="#ff7f0e"/>
<path d="M2004.6 2356.3l4.9-38.5l4.9-48.6l4.9-108l4.9-194l4.9 274.3l4.9-222l4.9 133.8l4.9 111l4.9 83.1l4.8-298.3l4.9 222.4l4.9-42.1l4.9-115.7l4.9 242.6l9.8-88.7l4.9-182l4.9 157.1l4.9 99.9l4.9 6.5l4.9-165.1l4.9-8.8l4.9 29.8l4.9 137.7l4.9-34.2l4.9 31.5l4.9 6.9l4.9-76.7l4.9-37.5l4.8-15.6l4.9 62.6l4.9 48.8l4.9-3.3l4.9 15.2l4.9-7.7l4.9 19.4l4.9 3.1l4.9 0.1l4.9-6.9l4.9-7.6l4.9-23.7l4.9 34.8l4.9-64.1l4.9-124.9l4.9 67.1l4.9 30.2l4.9 51.5l4.9 23.8l4.9-51l4.9-2.8l4.8 53.3l4.9-48.5l4.9 15.7l4.9 21.1l4.9-20.7l4.9-0.9l4.9 28.7l4.9 2.7l4.9-8.4l4.9 25.2l4.9 0.9l4.9-50.5l4.9-17.5l4.9 58.3l4.9-8.6l4.9-62.9l4.9-33.7l4.9 47.5l4.9 16.6l4.8-29.6l4.9 14.1l4.9 62.2l4.9-30.5l4.9 34.5l4.9-32.5l4.9 17.2l4.9 2.1l4.9 16.3l4.9-39.7l4.9 19l4.9 13.2l4.9-1l4.9-14.7l4.9 22.8l4.9-29.2l4.9 4.9l4.9 24.4l4.9-9.7l4.9-0.5l4.8-6.3l4.9-122.4l4.9 94.2l4.9-18.7l4.9 39.1l4.9-20.4l4.9 13.1l4.9 19l4.9-32.4l4.9-11.5l4.9 37.2l4.9 17.5l4.9-17.9l4.9-24.8l4.9 2.8l4.9 24.7l4.9 15.6l4.9-5l4.9 7.5l4.9-9.3l4.8-7.6l4.9-42l4.9 19.5l4.9 27.6l4.9 7.3l4.9-22.5l4.9 13.1l4.9 10.5l4.9-5.3l4.9-30.9l4.9-3.5l4.9 33.7l4.9-24.1l4.9 0.2l4.9 26.9l4.9-2.5l4.9-37.3l4.9-5.4l4.9 27.3l4.9 10.7l4.9-13.5l4.8 2.2l4.9 20.5l4.9-30.6l4.9-41.4l4.9 13.9l4.9 49.3l4.9 0.6l4.9-2.5l4.9 12.3l4.9-25.9l4.9-2.8l4.9 21l4.9-17.6l4.9-16.5l4.9 0.4l4.9 18.9l4.9 14.1l4.9-4.3l4.9 11.2l4.8-21.6l4.9 19.4l4.9 7.3l4.9-18.8l4.9 14.5l4.9-29.3l4.9 28.8l4.9-19.6l4.9 17.9l4.9-41.7l4.9 9.7l4.9 26.2l4.9 1.3l4.9-17.5l4.9 6.5l4.9 8.8l4.9-13.8l4.9 6.2l4.9-0.8l4.9-18l4.9-18.5l4.8 26.9l4.9 21.2l4.9-2.4l4.9-31.6l4.9-1.7l4.9 34l4.9 10.1l4.9-5.4l4.9-11.8l4.9 9.1l4.9-8.1l4.9 2.4l4.9 5.4l4.9-23.6l4.9 14.6l4.9 1.4l4.9-7.2l4.9 6.9l4.9 1.2l4.8-19.9l4.9-6l4.9 12.3l4.9 28.5l4.9-27.8l4.9 5l4.9 9l4.9-30.8l4.9-0.3l4.9 26.4l4.9-2.4l4.9 12.8l4.9-3.4l4.9 2.5l4.9 9.3l4.9-3.5l4.9-1.2l4.9-16.7l4.9-17.5l4.9 18.8l4.8 8.9l4.9-2.7l4.9-7l4.9 11.3l4.9-15.2l4.9-4.9l4.9 21.2l4.9-6.6l4.9-33.3l4.9 7.5l4.9 0.7l4.9-10.7l4.9 14.2l4.9 20.6l4.9 10l4.9-31.1l4.9-2.8l4.9 14.6l4.9-10.4l4.9 15.7l4.8 11.3l4.9-15.5l4.9-22.4l4.9 32.4l4.9 5.4l4.9 5.2l4.9-4.7l4.9-6.3l4.9-6l4.9-9.2l4.9 11.5l4.9 10.3l4.9-54.6l4.9 22.7l4.9 38.3l4.9-3.8l4.9-4.7l4.9-15.9l4.9-12l4.9 0.6l4.9-23.8l4.8-10.9l4.9 26.5l4.9 32.8l4.9-23.8l4.9 28" stroke="#2ca02c"/>
<path d="M2004.6 2311.5l4.9-44.7l4.9-180.1l4.9 124.3l4.9 65.4l4.9-246.5l4.9-147.5l4.9 47.5l4.9 349.1l4.9-165.5l4.8 169.3l4.9-5.5l4.9 79l4.9-37.6l4.9-179.8l4.9-32.5l4.9 167.6l4.9 50.8l4.9-260l4.9 125l4.9-202.2l4.9 203.4l4.9-86.9l4.9 216.2l4.9 19l4.9-293.8l4.9 44l4.9 34.2l4.9 3.7l4.9 217.4l4.8-146.8l4.9-12.3l4.9 51.7l4.9 104l4.9 10.3l4.9-30.5l4.9-26.3l4.9-41.6l4.9-67.1l4.9-20.7l4.9-0.9l4.9 139.3l4.9-3.4l4.9 47.6l4.9 3.4l4.9-6.3l4.9-57.5l4.9 59.2l4.9-89.2l4.9 31.4l4.9 45.2l4.8-13.9l4.9 17.8l4.9 7.5l4.9-3.8l4.9-109.7l4.9 6l4.9 98.5l4.9 3.1l4.9 1.2l4.9 6.2l4.9-22.8l4.9 8.6l4.9-19.7l4.9 16.1l4.9 5l4.9-22.7l4.9-42.6l4.9 34.4l4.9-34l4.8 14.4l4.9-7l4.9 31.4l4.9 29.9l4.9-28.6l4.9-3.9l4.9-53.5l4.9-0.8l4.9 9.2l4.9 1l4.9 24.9l4.9 7.5l4.9 42.4l4.9-21.6l4.9-13l4.9 27.6l4.9 20.1l4.9-33.7l4.9-1.8l4.9 11.9l4.8-6l4.9 3.3l4.9 1.3l4.9-24.7l4.9-36.6l4.9 6.5l4.9 84.5l4.9-18.4l4.9-1.6l4.9-45.2l4.9 22.2l4.9 12.1l4.9-5.1l4.9-16.3l4.9 0.1l4.9 33.4l4.9-27.2l4.9 28.9l4.9-17.7l4.9-3.9l4.8 27.2l4.9-8.2l4.9-25.3l4.9 6l4.9 28.5l4.9-4.2l4.9-10.4l4.9-24.2l4.9 12.6l4.9-4.8l4.9 18.6l4.9-1l4.9-22l4.9-3.1l4.9 25.4l4.9 2.4l4.9-1.6l4.9-2.7l4.9 8.2l4.9-33.7l4.9 17.7l4.8 18.5l4.9-16.7l4.9-26.4l4.9-11.3l4.9 15.9l4.9 3.7l4.9-2.9l4.9 32.6l9.8 20.5l4.9-2.9l4.9-18.1l4.9-23.8l4.9-16.3l4.9 6.7l4.9 7.7l4.9-35.5l4.9 26.3l4.9 22.9l4.8 25.3l4.9-7.5l4.9 6.5l4.9-0.6l4.9 0.2l4.9 1.1l4.9-17.7l4.9-29.3l4.9 16.5l4.9 21.3l4.9 0.3l4.9-12.8l4.9-35.2l4.9 18.9l4.9 29.9l4.9-10.2l4.9-30.7l4.9 11.2l4.9 3.9l4.9 31l4.9-5l4.8-21.1l4.9-8.1l9.8-6.7l4.9 27l4.9 0.6l4.9 16l4.9-16l4.9-29.1l4.9 10.3l4.9-2.5l4.9 28.1l4.9-3.4l4.9-13.1l4.9 14l4.9 6.8l4.9 0.3l4.9-3.7l4.9 5.9l4.8 5l4.9-17.2l4.9 13.4l4.9 2.4l4.9-29l4.9-13.2l4.9 45l4.9-18l4.9-33l4.9-11.3l4.9-5.5l4.9 25.3l4.9-14.1l4.9-1.2l4.9 15.1l4.9 29.9l4.9-15.5l4.9-7.3l4.9 16.3l4.9 6.2l4.8-13.9l4.9 28.4l4.9-40.7l4.9-14.6l4.9 43.8l4.9 2.8l4.9 4.7l4.9-29.9l4.9-18.3l4.9 32.9l4.9 11.4l4.9-14.1l4.9 2.6l4.9 7.4l4.9-2.2l4.9-32.1l4.9-19.8l4.9 20.7l4.9 2l4.9 41.2l4.8-38.7l4.9 6.9l4.9 5.6l4.9 11.2l4.9-10.5l4.9-9l4.9 25.3l9.8-32.1l4.9 44.7l4.9-12.1l4.9 2.1l4.9-43l4.9 19.5l4.9-10.5l4.9 19.3l4.9 9.6l4.9-29.7l4.9-17.9l4.9 31.4l4.9 29.3l4.8-6.3l4.9 3.4l4.9-22.6l4.9 26.5l4.9-11.5" stroke="#d62728"/>
<path d="M2004.6 2288.8l4.9 59.9l4.9 0.3l4.9-287.2l4.9 98.5l4.9-46.2l4.9-15.3l4.9 155.5l4.9-215.7l4.9 255.3l4.8-209.9l4.9 138.9l4.9 90l4.9 29.2l4.9-312.5l4.9 260.3l4.9-188.6l4.9 218.7l4.9-4l4.9-283.5l4.9-89.5l4.9 333.9l4.9 32.7l4.9-124.2l4.9 146.7l4.9-241.5l4.9 12l4.9 118.1l4.9 25.3l4.9 101.8l4.8-199.7l4.9 8l4.9 2.8l4.9 39.4l4.9 15.3l4.9 55.7l4.9-10.4l4.9 72.7l4.9-24.6l4.9-49.2l4.9 28.2l4.9 9.7l4.9-23l4.9 48.3l4.9-176.2l4.9 15.8l4.9 135l4.9 32.4l4.9-81.4l4.9 51.5l4.9-86.1l4.8 2.6l4.9 14.2l4.9 78.1l4.9-37.8l4.9-53.2l4.9 74.2l4.9-1.2l4.9-94.2l4.9-16.1l4.9 71.8l4.9 92l4.9-25.5l4.9 10l4.9-42.6l4.9 27.4l4.9-53.4l4.9 1.7l4.9 50.4l4.9-14l4.8 31.2l4.9 19.9l4.9-5.9l4.9-19.6l4.9-13.9l4.9 14.7l4.9-126.3l4.9 121.4l4.9 21.4l4.9-40.2l4.9-1.6l4.9 12.3l4.9-26.1l4.9-22.5l4.9-3.4l9.8 88.4l4.9-71.6l4.9 28.8l4.9 9.8l4.8 30l4.9-21.4l4.9 29l4.9-52.6l4.9-98.3l4.9 60.3l4.9-35.7l4.9 39.2l4.9 19.3l4.9 15.5l4.9 24.4l4.9-0.8l4.9-31.7l4.9-57.5l4.9 2.9l4.9 80l4.9-21.2l4.9 3.1l4.9-8.3l4.9 30.6l4.8-14.3l4.9 8.3l4.9-27.9l4.9 22.8l4.9 31.9l4.9 6.9l4.9-9.4l4.9-38.7l4.9 2.4l4.9 41.2l4.9-3.7l4.9 7.9l4.9 3l4.9-10.2l4.9 5.9l4.9-1.5l4.9-30.1l4.9 30.7l4.9 3.7l9.8-6.2l4.8-17.3l4.9 23.8l4.9-51.4l4.9 37l4.9 8.8l4.9-22.9l4.9 27.2l4.9-27.1l4.9 5.1l4.9 12.5l4.9-1.2l4.9-15.8l4.9-10.2l4.9-14.2l4.9-5.9l4.9 2.7l4.9 4.9l4.9-3.3l4.9-7.3l4.8 47.3l4.9 16.7l4.9-2.1l4.9-5.3l4.9-11.1l4.9-17.4l4.9-1.2l4.9 21.4l4.9-33.5l4.9-4.5l4.9 57l4.9-44.6l4.9 18.4l4.9 21.4l4.9-10.4l4.9-20.9l4.9 7.3l4.9-3.7l4.9 5.4l4.9-4.1l4.9 18.3l4.8-5l4.9 1.8l4.9-26.1l4.9-7.6l4.9-2.6l4.9 4l4.9-5.2l4.9 11.7l4.9-19.6l4.9 19.1l4.9 6.7l4.9-15.9l4.9 11.1l4.9 16.1l4.9-5.6l4.9 5.2l4.9-15.4l4.9-7.4l4.9-6.5l4.8-3.5l4.9 19l4.9-11.5l4.9 8.9l4.9 5.5l4.9-28.8l4.9 12.3l4.9 21.6l4.9-10.6l4.9 29.5l4.9-20.8l4.9-3.3l4.9 6l4.9 8.8l4.9 9.9l4.9-30l4.9 3.4l4.9 11.6l4.9-4.9l4.9 8.6l4.8-25.4l4.9 10.6l4.9 24.1l4.9-17.2l4.9 6.5l4.9 2.8l4.9-25.1l4.9 20.2l4.9-1.1l4.9 25.3l4.9-21.4l4.9-3.1l4.9-29.1l4.9 12.1l4.9 24.8l4.9-33.9l4.9 22.6l4.9-13.4l4.9-0.3l4.9-18.5l4.8 2l4.9 39.6l4.9 15.7l4.9-4.6l4.9-11.1l4.9-5.5l4.9-3.5l4.9-17l4.9 23.2l4.9-6.5l4.9-9.6l4.9 8.4l4.9-12.1l4.9 35.9l4.9-27l4.9-11.5l4.9-26.9l4.9 9l4.9 57.9l4.9-8.6l4.9-19.4l4.8-2.2l4.9 10.5l4.9-11.6l4.9-23.8l4.9 6.4" stroke="#9467bd"/>
<path d="M2004.6 2322.2l4.9-90.8l4.9-25.9l4.9 150.8l4.9-178.3l4.9 135.5l4.9-234.1l4.9 9.5l4.9 160.1l4.9-70.4l4.8 87.9l4.9-0.8l4.9 76.2l4.9-13.3l4.9-138.7l4.9 151.8l4.9-338.4l4.9 353.1l4.9-191.1l4.9-73.2l4.9-78.3l4.9 17.9l4.9 296.1l4.9-55.5l4.9 76.7l4.9-79.1l4.9 10.5l4.9 73l4.9-5.7l4.9-110.2l4.8-54.1l4.9 121.6l4.9-20.9l4.9 63.2l4.9-2.2l4.9-62l4.9 61.3l4.9 5.7l4.9-63.7l4.9-31.8l4.9 51.9l4.9 41.6l4.9-38.8l4.9-10.8l4.9-68.1l4.9 74.3l4.9 44.9l4.9-27.6l4.9-48.6l4.9 65.4l4.9-36.1l4.8 4.7l4.9 11.9l4.9-26.9l4.9 9.3l4.9 19.9l9.8 21.6l4.9 6.6l4.9-29.1l4.9-50.1l4.9-22.6l4.9 28.2l4.9 54.5l4.9-58.4l4.9-28.2l4.9 33.9l4.9 36.3l4.9-0.5l4.9 9.9l4.8 26.5l4.9-23.8l4.9-33.6l4.9 24.9l4.9-43.1l4.9-16l4.9 82.9l4.9-24.9l4.9-19.5l4.9 47.8l4.9 4.7l4.9-10.1l4.9-15.4l9.8-109.8l4.9 59.5l4.9 77.7l4.9-7l4.9-15.6l4.9-29.1l4.8-10.3l4.9 8.2l4.9-23.8l4.9 43.9l4.9 12.6l4.9-30.6l4.9-9.1l4.9-0.1l9.8 51.6l4.9 1.1l4.9-9.2l4.9-60l4.9-30.5l4.9 80.2l4.9 25.4l4.9-46.2l4.9-94.6l4.9 107.6l4.9 25.8l4.8-1.7l4.9-8.9l4.9-3.7l4.9-1.4l4.9-8.5l4.9-12.1l4.9 40.2l4.9-15.1l4.9-27.3l4.9 10.5l4.9 31.3l4.9-4l4.9 5l4.9 4.5l4.9-0.2l4.9-2.3l4.9-12.3l4.9-47.7l4.9-5.2l4.9 34.1l4.9-1.1l4.8-40.6l4.9 23.2l4.9 3.4l4.9 11.4l4.9 4.4l4.9-19.8l4.9 11.4l4.9 21.5l4.9-15.6l4.9-10l4.9 20.7l4.9 17.3l4.9-6.7l4.9 5.6l4.9 10.7l4.9-8.1l4.9-17.4l4.9-16.6l4.9-2.7l4.8 32.3l4.9-12.2l4.9-4.5l4.9 25.5l4.9 1l4.9-4.9l4.9-19.6l4.9 12.3l4.9-18.8l4.9-8.4l4.9 20.5l4.9 2.7l4.9-16.1l4.9 19.8l4.9 16.1l4.9-21.7l4.9-7.2l4.9-2.8l4.9 3.8l4.9-18.8l4.9 4.4l4.8 38.6l4.9-39.2l4.9 5.5l4.9 38.6l4.9-29.7l4.9 3.8l4.9 15.4l4.9-6.9l4.9 2.3l4.9 3.2l4.9 7.5l4.9 1.2l4.9-14.8l4.9-9.1l4.9 18.4l9.8-18.2l4.9-4.7l4.9-7.4l4.8 15.7l4.9-10l4.9 7.1l4.9 17.4l4.9 0.8l4.9-7.2l4.9-8.8l4.9-11.6l4.9 14.5l4.9 9.2l4.9-0.9l4.9-1.8l4.9-36.4l4.9 15.9l4.9 33l4.9-40.7l4.9-10.9l4.9 22.2l4.9 28.6l4.9-4l4.8-4.5l4.9 6.8l4.9-9.4l4.9-25.1l4.9 12.5l4.9 22.2l4.9 1.6l4.9 1.8l4.9-29.9l4.9-4.2l4.9 6.8l4.9 5l4.9 10.3l4.9-20l4.9-13.4l4.9 44.5l4.9-31.1l4.9 0.3l4.9 5.2l4.9-26.4l4.8 1.6l4.9 33.4l4.9 1.5l4.9 11.4l4.9-27.4l4.9-9.4l4.9 27.7l4.9 9.2l4.9 5.6l4.9-22.9l4.9 10.1l4.9-2l4.9-18.5l4.9 20l4.9 4.1l4.9-1.4l4.9 10.3l4.9-24.3l4.9-7.4l4.9 17.6l4.9-13.4l4.8-26.1l4.9 25.1l4.9 23.7l4.9-1.7l4.9 5.2" stroke="#8c564b"/>
<path d="M2004.6 2276.8l4.9-163.5l4.9 38.5l4.9 99.3l4.9-22l4.9-3.4l4.9-186l4.9-58.5l4.9 350.6l4.9-128.4l4.8-204.6l4.9 339.7l4.9-20.3l4.9 38.1l4.9-6.7l4.9-96.2l4.9-176l4.9 145.3l4.9-118.3l4.9-5.1l4.9-201.8l4.9 212.7l4.9 101.6l4.9-53.3l4.9 79.6l4.9-32.9l4.9 54.1l4.9 21.1l4.9-39.4l4.9-106.6l4.8-18.1l4.9 115l4.9 106.2l4.9-30l4.9-32.4l4.9 24.5l4.9 42.7l4.9 5.3l4.9-16.1l4.9-2l4.9-58.9l4.9-85.6l4.9-10.6l4.9 82.4l4.9 84.5l4.9-49.8l4.9-67.8l4.9 54.5l4.9-2.2l4.9-20.8l4.9-54.2l4.8 30.1l4.9 41.9l4.9 16.9l4.9 19.8l4.9 7.2l4.9 0.4l4.9 28.1l4.9-3.2l4.9-23.6l4.9-24.9l4.9 27.1l4.9-11.2l4.9 25l4.9-8.5l4.9-24l4.9-3l4.9 2.3l4.9 25.9l4.9-60l4.8-30.4l4.9 49.4l4.9 35l4.9-46.1l4.9 12.3l4.9 41.5l4.9-35.2l4.9 4.6l4.9 52.6l4.9-74.2l4.9 17.7l4.9-10.7l4.9-9.5l4.9-65.7l4.9 97.9l4.9 5.7l4.9-5.1l4.9-53.7l4.9 24.1l4.9 47l4.8-3.2l4.9-29.9l4.9 35.9l4.9 23.3l4.9 1.4l4.9-23.3l4.9-5.6l4.9-6l4.9-7.3l4.9-6.8l4.9 14.8l4.9 7.9l4.9 23.3l4.9-23.9l4.9 20l4.9-34l4.9-22.9l4.9 15.1l4.9-1.8l4.9 35.9l4.8 10.8l4.9 0.6l4.9 3.4l4.9-22.6l4.9 6.5l4.9 18.4l4.9-26.6l4.9 14.4l4.9 1.3l4.9-14.3l4.9-6.5l4.9 9.5l4.9 11l4.9-11.9l4.9-16.4l4.9 4.3l4.9 26.9l4.9-10l4.9 15.9l4.9-14.8l4.9-8.9l4.8-13.2l4.9 19.3l4.9-25.1l4.9 0.4l4.9 42.7l4.9-43l4.9 5.7l4.9 32.3l4.9-18l4.9-25.6l4.9 10.4l4.9 2.2l4.9 9.1l4.9 5.5l4.9-3l4.9-15.5l4.9 8.1l4.9 29l4.9-3.7l4.8-11.4l4.9 1l4.9-17.3l4.9-15.6l4.9 18.1l4.9 16.5l4.9-43.3l4.9 10.8l4.9 35.7l4.9-18.8l4.9 4l4.9 16.6l4.9-6.9l4.9-13.5l4.9 5.9l4.9-26.7l4.9-11.4l4.9 34.1l4.9 16.2l4.9-9.8l4.9-0.2l4.8 13.9l4.9-23.1l4.9 8.5l4.9-3l4.9 13l4.9 13.4l4.9-7.6l4.9-28.5l4.9-8.4l4.9 18.4l4.9-3.1l4.9 6l4.9-1.5l4.9 0.6l4.9-8.4l4.9-17.7l4.9 3.8l4.9 41l4.9-33.5l4.8-5.5l4.9 27l4.9-2.2l4.9 9.9l4.9-5.4l4.9 4.5l4.9 3.6l4.9-3.2l4.9-31.5l4.9-3.8l4.9 21.1l4.9 7.5l4.9-11.1l4.9 24.8l4.9-12.8l4.9-1.2l4.9 4.7l4.9 7.3l4.9 1.3l4.9-9.9l4.8-17.9l9.8 9.8l4.9 5.2l4.9 8.5l4.9-25.6l4.9 8.6l4.9 17.5l4.9-32.6l4.9 2.7l4.9 23.5l4.9-24.7l4.9 28.7l4.9-7.1l4.9-33.5l4.9 8.4l4.9 32.6l4.9-22.7l4.9 28.1l4.9-24.1l4.8-24.4l4.9 13.9l4.9-7.8l4.9 10.5l4.9-6.3l4.9 29.2l4.9-3.5l4.9 16.2l4.9-2.5l4.9-21.3l4.9-0.9l4.9-6.4l4.9-22.2l4.9 41l4.9 3.3l4.9-8.9l4.9-13.2l4.9 3.5l4.9 16.1l4.9-32.4l9.7-43.9l4.9-15.3l4.9-4.3l4.9 46.9l4.9 33.3" stroke="#e377c2"/>
<path d="M2004.6 2140.1l4.9 159.6l4.9-196.4l4.9 86.7l4.9 115.1l4.9-425.6l4.9 150.2l4.9 141.4l4.9-57.6l4.9 222.4l4.8-159l4.9 58.6l4.9 66.6l4.9-4.7l4.9-151.1l4.9 131.8l4.9-50.4l4.9 122.6l4.9-101l4.9 21.9l4.9-240.1l4.9 233.4l4.9 75.7l4.9-168.2l4.9 118.8l4.9-52.3l4.9 105.3l4.9-0.4l4.9-276l4.9 174.9l4.8 93.5l4.9-66l4.9-40.6l4.9-105.2l4.9 178.7l4.9-69.8l4.9 14.2l4.9-59.9l4.9 146.8l4.9 18.8l4.9-5l4.9-15.7l4.9 9.7l4.9-40.7l4.9-60.4l4.9 81.4l4.9 7.5l4.9 13.6l4.9 6.7l4.9-67.7l4.9-28.8l4.8 71.2l4.9-54.3l4.9 41.4l4.9 2l4.9 31.2l4.9-6.1l4.9-47.6l4.9-45.1l4.9 36l4.9-18.8l4.9 48.4l4.9 38.9l4.9-10l4.9-1.2l4.9 10.3l4.9-10.1l4.9-7l4.9 1.5l4.9-18.7l4.8 25l4.9 9.5l4.9-35.7l4.9 15.1l4.9 4.8l4.9 1.2l4.9-24.5l4.9 32.2l4.9-44.4l4.9-23.7l4.9 25.5l4.9 12.4l4.9-20.6l4.9 27.9l4.9-20l4.9 18.8l4.9 28.9l4.9-53.6l4.9-9.2l4.9-15.3l4.8 12.9l4.9 31.1l4.9-25.2l4.9 36.5l4.9 14.6l4.9-20.8l9.8 35.3l4.9 0.1l4.9-15l4.9 5.5l4.9 3.5l4.9-19.9l4.9-4.5l4.9-37.6l4.9-7.3l4.9 28l4.9 35l4.9-10.9l4.9-117.9l4.8 8.3l4.9 124.7l4.9-46l4.9 16.3l4.9 21.6l4.9-14.8l4.9 7l4.9-12.7l4.9 23l4.9-52.7l4.9 8l4.9 26.5l4.9 7.3l4.9 9.7l4.9-3.3l4.9-28.1l4.9-19.3l4.9 13l4.9 38.6l4.9 10l4.9-20.9l4.8 4.7l4.9-7l4.9-11.8l4.9 22.8l4.9-0.6l4.9 15.1l4.9-54.9l4.9-0.3l4.9 3.7l4.9 15.6l4.9 38.4l4.9-32.7l4.9 15l4.9 8.6l4.9 1.7l4.9 4.6l4.9-5.9l4.9-9.7l4.9-13.8l4.8 16.7l4.9-8.9l4.9 2.4l4.9 20.4l4.9 1.8l4.9-11.6l4.9-1.5l4.9 11.6l4.9-28.5l4.9-12.3l4.9-0.1l4.9 0.2l4.9 32.3l4.9-1l4.9-3.4l9.8-48.8l4.9 14.4l4.9 43.9l4.9-28l4.9-22.1l4.8 28.2l4.9 14.6l4.9-0.9l4.9-46.6l4.9 5.8l4.9 10.6l4.9 7.7l4.9 0.8l4.9-6.8l4.9 2.5l4.9 11.8l4.9 7.7l4.9-0.3l4.9-8.4l4.9 1.6l4.9-10.1l4.9 2.5l4.9 5l4.9 1.5l4.8 8.9l4.9 8.8l4.9-10.4l4.9-30.2l4.9-13.8l4.9 12l4.9 33.4l4.9-8.7l4.9-36.9l4.9 3.9l4.9-19l4.9 35l4.9 38l4.9-9.3l4.9 8.6l4.9-27.8l4.9-0.4l4.9 19.1l4.9-12.5l4.9 19.4l4.8-6.8l4.9 3.2l4.9-22.6l4.9 35.7l4.9-1.7l4.9 1.9l4.9-11.6l4.9-23.8l4.9 5l4.9 21.7l4.9-12.7l4.9-8l4.9-24l4.9 5.6l4.9 41.3l4.9-24.5l4.9 4.2l4.9 22.1l4.9-6l4.9-26.3l4.8 9.3l4.9 23.6l4.9-11.7l4.9-20.1l4.9 1.1l4.9-9.5l4.9-3.6l4.9-4.9l4.9-7.2l9.8 29.7l4.9-7.8l4.9 23.7l4.9-6.4l4.9 5.4l4.9 0.1l4.9-29.2l4.9 31.4l4.9-8.4l4.9-42.1l4.9-19.4l4.8 38.9l4.9 7.7l4.9 12.6l4.9 15l4.9-7.6" stroke="#7f7f7f"/>
<path d="M2004.6 2015.1l4.9 258.5l4.9-326.6l4.9 58.2l4.9 337.1l4.9-124.7l4.9-228.9l4.9-121.9l4.9 162.2l4.9 77.8l4.8 131.2l4.9 3.6l4.9-18.8l4.9-280.1l4.9 232.9l4.9-3.1l4.9 153.7l4.9-16.3l4.9-197.7l4.9 197.6l4.9-39.5l4.9-191l4.9 51.2l4.9 216.2l4.9-98.5l4.9 69.1l4.9-195.2l4.9 33l4.9-100.6l4.9 28.5l4.8 95.5l4.9 141.1l4.9 20.8l4.9-88.6l4.9 48l4.9 35.7l4.9 4.8l4.9-79.8l4.9-12.6l4.9 73.9l4.9-1.5l4.9 6.9l4.9-3.8l4.9-60.7l4.9-5.3l4.9 76.5l4.9-30.7l4.9 10.6l4.9-27.8l4.9-36l4.9-34.5l4.8 2.6l4.9 0.8l4.9-17.7l4.9 20.5l4.9 88.1l4.9-26.9l4.9-80l4.9 34.5l4.9 110.3l4.9-28.3l4.9-47.5l4.9-9l4.9 30.4l4.9 57.5l4.9-73.2l4.9-35.2l4.9 20l4.9 49.7l4.9-47l4.8-17l4.9-4.8l4.9 68l4.9-28.6l4.9 13l4.9-15.8l4.9-46.2l4.9 58.6l4.9 25.1l4.9 5.3l4.9-114.9l4.9 110.9l4.9 13.6l4.9-33.1l4.9-14.4l4.9 64.4l9.8-45.4l4.9 19l4.9-133.5l4.8 113l4.9-7.7l4.9 11.3l4.9 1.6l4.9-25.7l4.9 8.4l4.9-4.5l4.9 62.2l4.9-53.3l4.9-82l4.9 60.1l4.9 39.5l4.9 29.3l4.9-33.9l4.9-32.1l4.9 15.1l4.9 5.4l4.9 8.6l4.9-23.1l4.9 46.2l4.8-14.2l4.9 5.2l4.9 18.6l4.9-42.3l4.9 31.6l4.9 2.1l4.9-33.7l4.9 24.6l4.9 3.3l4.9-16.3l4.9 42.6l4.9-7.1l4.9-13.4l4.9-30.5l4.9 10.2l4.9-40.4l4.9-0.9l4.9 1.6l4.9 7.6l4.9 39.7l4.9 0.9l4.8-18l4.9 1.4l4.9-16l4.9 56.8l4.9-24.5l4.9 28.1l4.9-23.9l4.9 20.4l4.9-27l4.9-32.7l4.9-5.3l4.9 7.4l4.9 46.3l4.9 3.9l4.9-10.7l4.9 4.5l4.9 6.9l4.9-19.6l4.9 9.8l4.8 24.2l4.9-26.1l4.9 16l4.9-7.1l4.9-27l4.9-11.4l4.9 7.3l4.9 22.2l4.9 1.6l4.9-32.9l4.9 26.3l4.9 3.8l4.9 2l4.9 19.2l4.9-13.4l4.9-15.1l4.9 7.7l4.9-10.8l4.9-0.6l4.9 20.4l4.9 4.4l4.8 2.9l4.9 5.5l4.9-41.3l4.9-12.8l4.9 29.3l4.9 19l4.9-32.8l4.9-16.5l4.9 9.4l4.9 10.9l4.9 39.4l4.9-27.2l4.9 24.9l4.9-1.8l4.9-6.4l4.9 11.3l4.9-39.4l4.9-14.8l4.9 57.2l4.8-52.5l4.9 3.5l4.9 17.2l4.9 15.1l4.9-2.5l4.9-15.4l4.9-12.7l4.9 33.5l4.9-64.8l4.9 32.1l4.9 15.3l4.9-25.2l4.9 16.8l4.9 19.7l4.9-6.6l4.9-22.5l4.9-20.9l4.9 0.4l4.9 20.7l4.9-4.5l4.8 16.4l4.9-2.2l4.9-10.4l4.9 50.6l4.9-11.2l4.9-13.9l4.9-26.9l4.9 15.8l4.9-22.8l4.9 12.6l4.9 0l4.9-17.7l4.9 36.9l4.9 10.9l4.9-19l4.9-11.1l4.9 19.7l4.9 9.6l4.9-9.7l4.9-20.4l4.8-40.9l4.9 15.6l4.9 61.8l4.9-2.2l4.9-4.4l4.9-18.7l4.9 36.1l4.9-42l4.9-33.8l4.9 0.4l4.9 11.7l4.9 4l4.9 20l4.9 37.5l4.9-59.7l4.9-26.5l4.9 13.5l4.9 52.6l4.9-27.7l4.9 32.4l4.9-12.7l4.8-23.8l4.9 18.5l4.9 4.4l4.9 32.3l4.9-11.2" stroke="#bcbd22"/>
<path d="M2004.6 2345.7l4.9 7.1l4.9-64l4.9-18.6l4.9-57.7l4.9 143.5l4.9-14.1l4.9 0.6l4.9-133.5l4.9-185.4l4.8 53.5l4.9 232.9l4.9-30.7l4.9-210.4l4.9 24.2l4.9 153.9l4.9 39.4l4.9-26.7l4.9-243.8l4.9 308.8l4.9-243l4.9 224.4l4.9-182.1l4.9 27.7l4.9 101.4l4.9 91.8l4.9-209.9l4.9 13.9l4.9 18.2l4.9 129.1l4.8-51.6l4.9 83.4l4.9-59l4.9-180.4l4.9 72.8l4.9 182l4.9-40.7l4.9-71.7l4.9 26.9l4.9-16.4l4.9 13.1l4.9 54.7l4.9-77l4.9-16.4l4.9-22.5l4.9 23.4l4.9-26.1l4.9 43.1l4.9 75.8l4.9-79.6l4.9-45.8l4.8 72.4l4.9 67.5l4.9 26.6l4.9-57.3l4.9-81l4.9 13.6l4.9 2.5l4.9 70.9l4.9 46l4.9-40.7l4.9 17.9l4.9-9.3l4.9-34.8l4.9-0.1l4.9 62l4.9-14.9l4.9-20.4l4.9 12.1l4.9-15.5l4.8-2.3l4.9 40.2l4.9-53.6l4.9 10.3l4.9 39.2l4.9-20.4l4.9-8.8l4.9 0.8l4.9-11.6l4.9-7.8l4.9 53.1l4.9-82.1l4.9 6.8l4.9 58.6l4.9 13.1l4.9-6.5l4.9-19.6l4.9-32.7l4.9 40.7l4.9-32.3l4.8 12.4l4.9 7.4l4.9 38.4l4.9-82.3l4.9 7.5l4.9 14.9l4.9 10.2l4.9-23.5l4.9-17.2l4.9 15.7l4.9 70.3l4.9-68.3l4.9-39.5l4.9 30.8l4.9 65.3l4.9-25.3l4.9 8.3l4.9 20.6l4.9 9.9l4.9 8.2l4.8-21.3l4.9-24l4.9 16.7l4.9 13.5l4.9 3.4l4.9-24.8l4.9-20.6l4.9 7.5l4.9 23l4.9 7.4l4.9-45.7l4.9-5.6l4.9 16.1l4.9 31.7l4.9-3.9l4.9-21.2l4.9-6.4l4.9 17.7l4.9 2.7l4.9-11l4.9 5.8l4.8 4.8l4.9 0.7l4.9-57l4.9-1.7l4.9 24.1l4.9 42.5l4.9-12.1l4.9-5.9l4.9 2.8l4.9 8.9l4.9-5.4l4.9-11.9l9.8 36.1l4.9 12.4l4.9-3.5l4.9-16.4l4.9 3.2l4.9 18.3l9.7-26l4.9 23.6l4.9-1l4.9-22.8l4.9 6.5l4.9-14.8l4.9-21.9l4.9 27.6l4.9 15.7l4.9-16.1l4.9 9.3l4.9-37.6l4.9-0.7l9.8 37.8l4.9-12l4.9-4.7l4.9 0.5l4.9-3.2l4.9 35.5l4.8-1.7l4.9 6.9l4.9-18.7l4.9-5.5l4.9 2.6l4.9 10.8l4.9-3l4.9 16.4l4.9-20.8l4.9 17.1l4.9-17.1l4.9-5.6l4.9 24.1l4.9-6.8l4.9-2l4.9 1l4.9-10.2l4.9 17l4.9-26.7l4.8-11.1l4.9 3.9l4.9 31.6l4.9 0.1l4.9-8.1l4.9 6.7l4.9-37.9l4.9-10.6l4.9 44.8l4.9-31.2l4.9-19l4.9 18.6l4.9 2.8l4.9 26.3l9.8 1.9l4.9 11.4l4.9-4.1l4.9-14.1l4.9-1l4.8-5.7l4.9-8.5l4.9 13.4l4.9 14.5l4.9-2.6l4.9-9.7l4.9 8.8l4.9-3.3l4.9-2.9l4.9 7.3l4.9-9.5l4.9-5.4l4.9-9.7l4.9 7.4l4.9 1.1l4.9-0.6l4.9 13.3l4.9-1l4.9-4.4l4.9-25.5l4.8-20.8l4.9 22.7l4.9 11.7l4.9 10.6l4.9-5.6l4.9 17.4l4.9-15.5l4.9-20l4.9-16.7l4.9 18.7l4.9 39.9l4.9-4.8l4.9 3.9l4.9-2.2l4.9-1.7l4.9-18.3l4.9 1.5l4.9-4.9l4.9-20.4l4.9-12.2l4.9 18.2l4.8-4.6l4.9 12.5l4.9-2.6l4.9 6.9l4.9 23.6" stroke="#17becf"/>
<path d="M2004.6 1990.5l4.9-8.5l4.9-62.4l4.9 433.7l4.9-345.5l4.9-26.8l4.9-66.1l4.9 376.8l4.9-444.9l4.9 140.8l4.8 226.6l4.9-85.3l4.9 46.3l4.9 162.6l4.9-382.8l4.9 8.7l4.9-29.1l4.9 313l4.9 8.3l4.9 3.5l4.9-237l4.9-56.4l4.9 190.3l4.9-11.5l4.9 209.6l4.9-16.7l4.9-196.4l4.9 32.2l4.9 26.2l4.9 151l4.8-71.5l4.9-77.8l4.9 48.1l4.9-32.9l4.9-37.6l4.9-34.3l4.9 99.4l4.9 84.7l4.9-27.5l4.9 25.6l4.9-85.6l4.9-9.2l4.9 7.2l4.9 37.6l4.9 43.5l4.9-80.8l4.9-74.7l4.9 30.4l4.9 54.1l4.9-2.1l4.9-25l4.8 52.2l4.9-73.6l4.9 31.4l4.9 102.2l4.9-133.3l4.9 59.1l4.9 19.1l4.9-64.4l4.9 71.6l4.9-33.5l4.9-10.7l4.9 2.9l4.9-61.4l4.9 24.9l4.9 16.6l4.9 7.1l4.9 78.2l4.9 9.8l4.9-48.9l4.8 63.8l4.9-47.2l4.9-13.3l4.9 55.8l4.9-10.9l4.9-34.4l4.9-40.5l4.9 25.2l4.9 6.4l4.9 24.2l4.9-25.5l4.9 10.3l4.9 24.7l4.9-0.9l4.9-26.3l4.9-13.6l4.9-31l4.9 8.3l4.9 90.7l4.9-57.7l4.8-2.7l4.9 47.5l4.9-23.2l4.9 7.7l4.9 33l4.9-58.7l4.9-24.5l4.9 10.5l4.9 19l4.9-59.5l4.9 9.8l4.9 28.2l4.9 60.4l4.9-37.7l4.9-26.6l4.9 2.1l4.9 11.1l4.9 63.4l4.9-29.2l4.9 0.4l4.8-19.4l4.9-21.5l4.9 43l4.9 35.5l4.9-24.6l4.9-14.4l4.9 10.4l4.9 24.6l4.9-116.8l4.9 90.9l4.9 36.5l4.9-28.6l4.9 7l4.9-13.9l4.9 35.5l4.9-28.1l4.9-93.3l4.9 89.7l4.9 8.2l4.9 17.6l4.9 0.4l4.8-22.9l4.9 8.8l4.9 19.3l4.9-22.9l4.9-28.1l4.9 3.5l4.9 14.7l4.9-7l4.9-33.5l4.9-7.5l4.9 41.6l4.9 14.1l4.9-28.6l4.9 14.6l4.9 27.9l4.9 0.5l4.9-2.3l4.9-50.6l4.9-12.7l4.8 28.8l4.9 16.6l4.9-25.6l4.9-11l4.9 13.2l4.9 19.7l4.9-9.3l9.8 29.1l4.9-20l4.9 19.5l4.9-34.9l4.9-24.1l4.9 58.8l4.9-29.1l4.9 14l4.9-23.1l4.9 37.6l4.9-31.5l4.9-10.8l4.9 31.1l4.8 27.9l4.9-18.2l4.9-16.8l4.9 12.5l4.9 8.8l4.9-37.5l4.9 12.9l4.9 24.1l4.9 12.4l4.9-31.6l4.9 24.7l4.9-32.3l4.9 8.1l4.9-5.1l4.9 4.8l4.9 7l4.9-4.4l4.9-21.8l4.9-10l4.8 36.4l4.9-0.6l4.9 13.2l4.9 10.6l4.9-20.2l4.9-5.5l4.9-29.8l4.9 4.3l4.9 42.3l4.9-5.5l4.9-4.5l4.9-5.4l4.9-14.5l4.9-7.7l4.9 3.4l4.9 37.6l4.9-5.2l4.9 0.1l4.9-4l4.9 7.1l4.8-36.1l4.9-6.8l4.9 28l4.9 13.4l4.9-42.1l4.9-15.1l4.9-6l4.9 67.6l4.9-58.8l4.9 20.5l4.9 25.9l4.9-29.5l4.9 18.5l4.9-39.4l4.9 21.1l4.9 34l4.9-28.4l4.9-11.9l4.9-5.6l4.9 22l4.8-6.3l4.9-15.3l4.9 3.5l4.9 43.1l4.9-44.1l4.9-17.9l4.9 24.2l4.9 47.6l4.9-11l4.9-38.7l4.9 4l4.9 49.7l4.9-18.2l4.9 8.4l4.9-17.5l4.9 14.3l4.9-66.1l4.9-8.9l4.9 10.2l4.9 35.7l4.9-18.8l4.8-5.3l4.9 34.7l4.9 18.8l4.9-19.8l4.9-0.4" stroke="#1f77b4"/>
<path d="M2004.6 2332.2l4.9-86.4l4.9-201.5l4.9 232.1l4.9-72.4l4.9 115.8l4.9-394.2l4.9 65.6l4.9 280.5l4.9 11.8l4.8-93.9l4.9 58.2l4.9-222.1l4.9 205.5l4.9-70.1l4.9 134.6l4.9-210.3l4.9-14.5l4.9-139.8l4.9 231.7l4.9-40.2l4.9 17.7l4.9-139.8l4.9 355.9l4.9-48.1l4.9-86.3l4.9-106.3l4.9 75.9l4.9 88l4.9-81.6l4.8 101.5l4.9-64.6l4.9-35.4l4.9 73.1l4.9 44.4l4.9 38.5l4.9-88l4.9 3.6l4.9-93.1l4.9 1.5l4.9 48l4.9 36.2l4.9 5.8l4.9-24.7l4.9-7.5l4.9-67l4.9 10.6l4.9 75l4.9-12.1l4.9 52l4.9-33.6l4.8 2.2l4.9-17.1l4.9 82.7l4.9-32.4l4.9-78.3l4.9 61.2l4.9-58.5l4.9 35.1l4.9 59.5l4.9-122.6l4.9 98.6l4.9-6l4.9 14.9l4.9 34.5l4.9-20.5l4.9 8.3l4.9 29.2l4.9-22.3l4.9-70.1l4.8 45.3l4.9 6l4.9-31.2l4.9 38.4l4.9 17.9l4.9-6.4l4.9-33.6l4.9 5.8l4.9 21.4l4.9-41.8l4.9 0.6l4.9 38.6l4.9 12.1l4.9-33l4.9 15.1l4.9-6.3l4.9-30.8l4.9 41.5l4.9 18.5l4.9-1.5l4.8 7.6l4.9-17.6l4.9-30.5l4.9 4.6l4.9 3.7l4.9-13.1l4.9-4.5l4.9 23.3l4.9 9.2l4.9-6.8l4.9 38.3l4.9-24.5l4.9-0.8l4.9 27.8l4.9-34.3l4.9-21.4l4.9 46.8l4.9-20.6l4.9-30.1l4.9 3.4l4.8 26.9l4.9 25.7l4.9-16.3l4.9-9.1l4.9 12.1l4.9-0.8l4.9 6.9l4.9-9.6l4.9-41.7l4.9 13.6l4.9 27.8l4.9-34.3l4.9 13.9l4.9 4.6l4.9 9.5l4.9-37.4l4.9-13l4.9 19.5l4.9 16l4.9 6l4.9 22l4.8-7.1l4.9-3.3l4.9-8.9l4.9 21.5l4.9-1.7l4.9-45.6l4.9 5.5l4.9 13.3l4.9 5.6l4.9 28.2l4.9-13.8l4.9 12.2l4.9-5.4l4.9-31.7l4.9-62.5l4.9 5.3l4.9 95.6l4.9-15.7l4.9-7.7l4.8 2.3l4.9 6.2l4.9-22.4l4.9 4.7l4.9 22.2l4.9 13.5l4.9-14.2l4.9-23.9l4.9-1.2l4.9 4l4.9 0.9l4.9-1.9l4.9 10.6l4.9 21.9l4.9-15.5l4.9 2.7l4.9 3.3l4.9-44.8l4.9 12.1l4.9 9.5l4.9-8.2l4.8 19.5l4.9 15.7l4.9-23.5l4.9-13l4.9 27.3l4.9 15.9l4.9-23.5l4.9 18.8l4.9-19.5l4.9 9.1l4.9-0.8l4.9 9.3l4.9-23.1l4.9-19.6l4.9 14.1l4.9 22.3l4.9 16.3l4.9-40.8l4.9-1.8l4.8 44l4.9-15.4l4.9-21.5l4.9-3.4l4.9 11.2l4.9 23.1l4.9-9.4l4.9-10.3l4.9-8.3l4.9 11.5l4.9-24.8l4.9 6.7l4.9-3.8l4.9 20.1l4.9 14.2l4.9-26.9l4.9 7.9l4.9 1.9l4.9 7.8l4.9-10.3l4.8-3.4l4.9 36.3l4.9-28.6l4.9-4.5l4.9 27.5l4.9-2l4.9 5.5l4.9-4.8l4.9-21.9l4.9-0.1l4.9-16.1l4.9 6.4l4.9 14.9l4.9-23l4.9 14.7l4.9 20.1l4.9-30.8l4.9 17.4l4.9-1.1l4.9-13.9l4.8-37.2l4.9-9.5l4.9 15.6l4.9 65.7l4.9-0.7l4.9-32.8l4.9-22l4.9 27.8l4.9 16.9l4.9 16l4.9-18.1l4.9 12.7l4.9-29.4l4.9-15.9l4.9 6.1l4.9 28.6l4.9-12.6l4.9 27.9l4.9-16l4.9-31.4l4.9-7l4.8 22.2l4.9-5.5l4.9-9.1l4.9 30.3l4.9 10.3" stroke="#ff7f0e"/>
<path d="M2004.6 2238.6l4.9 95.8l4.9-378.4l4.9 137.2l4.9 167.9l4.9-300l4.9-57l4.9 309.8l4.9 19.4l4.9-42.2l4.8-73l4.9-32.2l4.9 237.3l4.9-261.9l4.9-89.5l4.9 384.5l4.9-286.9l4.9 245.6l4.9 34.5l4.9-272.1l4.9 137.3l4.9-16.7l4.9 25.6l4.9-58.3l4.9-1.6l4.9 30.1l4.9 20.6l4.9 28.8l4.9-48.9l4.9-87.9l4.8 197l4.9 48.8l4.9-90.9l4.9-5.3l4.9 91.4l4.9-54.3l4.9-70.9l4.9-2.8l4.9 98.8l4.9-38.7l4.9-28.2l4.9 3.2l4.9 8.5l4.9 92l4.9-54.4l4.9 37.9l4.9-6.6l4.9 0l4.9-6.9l4.9-67.2l4.9-53l4.8 23.2l4.9 79.1l4.9 16.1l4.9 3.9l4.9-36.9l4.9-55l4.9 8.1l4.9 65.3l4.9-33.4l4.9 11.8l4.9-4.5l4.9-46.1l4.9 35.4l4.9 37.7l4.9-27.7l4.9 35.1l4.9 8.3l4.9-38l4.9 66l4.8-102.1l4.9-15l4.9 28l4.9 50.6l4.9 10.8l4.9 0.4l4.9 14l4.9-10.2l4.9-4.1l4.9-17.3l4.9-29l4.9 21.2l4.9 3.9l4.9-28.9l4.9 19.7l4.9 52.3l4.9-8.2l4.9-13.2l4.9-68.3l4.9-6.7l4.8 81.6l4.9-30.5l4.9 29.3l4.9 9.8l4.9 5.9l4.9-10l4.9-17.8l4.9-4.8l4.9 20.8l4.9-25.1l4.9 22.6l4.9 6l4.9-38.1l4.9-21.8l4.9 61.9l4.9-34.7l4.9-0.6l4.9 48.7l4.9-48.9l4.9-20.7l4.8 5l4.9 11.6l4.9 47.7l4.9-69.2l4.9-25.9l4.9 26.3l4.9 16.2l4.9 17.8l4.9 12.9l4.9 8.5l4.9 2.1l4.9-84.6l4.9 58.6l4.9-23.3l4.9-5.3l4.9 21l4.9 44.8l4.9-116.1l4.9 73l4.9 19.2l4.9-74.1l4.8 57.2l4.9 1.6l4.9-23.4l4.9 14.6l4.9 29.4l4.9-24.5l4.9 8.2l4.9 29l4.9 12l4.9-3.8l4.9-2.6l4.9-3.6l4.9-31.7l4.9 10.2l4.9-14.3l4.9-13.1l4.9 32.1l4.9 9.2l4.9 11.7l4.8 3l4.9-23.2l4.9 21.9l4.9-20.8l4.9-3l4.9 11.9l4.9-8.9l4.9 14.7l4.9-23.8l4.9-11.3l4.9 20l4.9 21.8l4.9-36.7l4.9 8.1l4.9 26.8l4.9-55.1l4.9-0.3l4.9 55.9l4.9-18.6l4.9 11.6l4.9-25.4l4.8-10.7l4.9 23.8l4.9-3.2l4.9 22.8l4.9-9.6l4.9-4.3l4.9 2.8l4.9 8.1l4.9-18.1l4.9 19.1l4.9 6.6l4.9-16.7l4.9-5.8l4.9-22.6l4.9-2.2l4.9 1.4l4.9-29.6l4.9 37l4.9 34.7l4.8-11.7l4.9-5l4.9 20.4l4.9-36.8l4.9-15.4l4.9 20.5l4.9 29.4l4.9-7.5l4.9-29.9l4.9-4.2l4.9-2.4l4.9 25.7l4.9 6.2l4.9 6.9l4.9 8l4.9-10.1l4.9-0.4l4.9-10.9l4.9-6.1l4.9 18.5l4.8-4.5l4.9-12.3l4.9 7.8l4.9-10.6l4.9-14.2l4.9 20.3l4.9 3.6l4.9-6.2l4.9 6.4l4.9-24.8l4.9-9.1l4.9 32l4.9-9.5l4.9 13.2l4.9-4l4.9 14.8l4.9-18.1l4.9-3.6l4.9 3.3l4.9-1.8l4.8-23.9l4.9 3l4.9 0.2l4.9 24.8l4.9-0.7l4.9-4.7l4.9 11.2l4.9-15.2l4.9-40.1l4.9 14.4l4.9 32.3l4.9 21.4l4.9-26.3l4.9 18.9l4.9-24l4.9-20.5l4.9 2.2l4.9 35.5l4.9-13.8l4.9 2.4l4.9 12.9l4.8-18.2l4.9-6.6l4.9-27l4.9 28.8l4.9 31" stroke="#2ca02c"/>
<path d="M2004.6 2327.2l4.9-197.4l4.9 177.4l4.9-24.7l4.9-95.7l4.9 22.6l4.9-200.1l4.9 1.9l4.9-143.4l4.9 365.5l4.8-25.2l4.9-114.9l4.9 174.1l4.9 13.1l4.9-275.3l4.9 78.4l4.9 237.4l4.9 13.2l4.9-214.1l4.9-57.4l4.9 51.9l4.9 174.4l4.9-59.5l4.9 59.8l4.9 10.5l4.9 26.1l4.9-197.2l4.9 185.7l4.9-210.3l4.9 170.6l4.8 40.2l4.9-48.4l4.9-45.6l4.9-119.2l4.9 81.5l4.9 146.8l4.9 18.4l4.9-13.9l4.9-5.5l4.9-84.1l4.9-20.8l4.9 100.7l4.9-65l4.9 8.7l4.9-34.6l4.9-24l4.9 26.6l4.9 73.2l4.9 6.7l4.9 18.7l4.9-48l4.8 56.1l4.9-87l4.9-47.2l4.9 23.2l4.9 23.7l4.9 80.9l4.9-32l4.9-14.8l4.9 24.6l4.9-14.2l4.9 38.4l4.9-27.2l4.9-6l4.9 0.6l4.9 40.9l4.9-31.8l4.9-6.4l4.9 38.6l4.9-6.3l4.8 2.8l4.9-0.6l4.9 5.3l4.9-47.5l4.9-3.8l4.9 30.2l4.9 26.1l4.9-13.4l4.9-6.5l4.9 17l4.9-8.6l4.9-44.8l4.9 4.2l4.9 5l4.9 1.6l4.9 31.9l4.9-17.2l4.9-9.9l4.9 38.8l4.9-13l4.8-31.8l4.9-10.7l4.9 52.4l4.9-10.4l4.9-35.9l4.9-22.6l4.9 18.6l4.9 30.1l4.9-9.8l4.9-1.3l4.9-26.2l4.9 27.4l4.9 36l4.9-34.6l4.9 17l4.9 11l4.9-27.8l4.9 5.4l4.9 1.3l4.9 3.1l4.8-3l4.9-4.7l4.9 20.6l4.9-43.4l4.9 25.2l4.9-8.2l4.9-27.7l4.9 8l4.9 9.2l4.9 26.5l4.9-3.9l4.9-3.2l4.9-32.6l4.9 13.7l4.9 40.7l4.9 7.5l4.9-2.5l4.9-5.7l4.9-1.5l4.9-6.7l4.9-28.8l4.8 38.3l4.9-9.2l4.9 6.2l4.9-12l4.9-1.4l4.9-12.7l4.9 20.2l4.9 13l4.9-9.9l4.9-7.3l4.9-3.4l4.9-13.7l4.9 27.2l4.9-37l4.9 22.3l4.9 9.9l4.9-10.8l4.9 15.1l4.9 8.8l4.8-30.5l4.9-5.3l4.9 35.5l4.9-21.8l4.9 4.3l4.9 17.1l4.9-39.4l4.9-6.7l4.9-5.1l4.9 29.2l4.9 21.3l4.9-15.4l4.9-26.9l4.9 23.9l4.9 4l4.9 3.3l4.9 9.1l4.9-29.4l4.9-19.1l4.9 4.7l4.9 40.4l4.8-4.7l4.9-16.4l4.9 13.7l4.9 14.2l4.9 2.3l4.9-18.1l4.9-9.9l4.9-0.3l4.9-1.1l4.9-11.8l4.9-25.1l4.9 36.9l4.9 10.2l4.9-2.7l4.9 9.7l4.9 10.4l4.9-29.8l4.9 3.2l4.9 22.3l4.8-46.2l4.9-13.4l4.9 3.5l4.9 46.9l4.9 13.6l4.9-2.6l4.9-13.3l4.9-9.4l9.8 23.3l4.9-6.9l4.9-9.7l4.9 18.6l4.9-7.6l4.9-6.5l4.9-1l4.9-6.2l4.9 2.5l4.9 12.2l4.9-7.3l4.8 10.5l4.9-17l4.9-12.1l4.9 3.1l4.9-2.9l4.9-8.3l4.9-6.1l4.9 19.6l4.9 16l4.9 12.8l4.9-16l4.9-1.4l4.9 11.3l4.9-3.9l4.9-4.3l4.9-32.9l4.9 12.9l4.9-7.6l4.9 12.2l4.9 29.1l4.8-26.1l4.9-2.8l4.9-12.8l4.9 15.2l4.9 15.9l4.9-3.8l4.9-2.9l4.9 16l4.9-22.1l4.9 18.3l4.9-27.9l4.9 12.3l4.9 13.8l4.9 5.7l4.9-11.5l4.9-15.4l4.9 5.1l4.9-11.6l4.9 14.8l4.9 13.8l4.9-15.9l4.8-2.6l4.9-2.2l4.9-28.5l4.9 4.9l4.9 8.8" stroke="#d62728"/>
<path d="M2004.6 2225.3l4.9-289.4l4.9 64.8l4.9 287.7l4.9-67.6l4.9-362.2l4.9 88.3l4.9-123.1l4.9 351.6l4.9-159l4.8-32.2l4.9 116.2l4.9 154.5l4.9-248l4.9 94l4.9-153.9l4.9 47.8l4.9 188.8l4.9-48.3l4.9-164.5l4.9 191.3l4.9 154.9l4.9-111.2l4.9-146.8l4.9 87.8l4.9 17.7l4.9 38.1l4.9-66.2l4.9 73.9l4.9-38.2l4.8 90.1l4.9 73.7l4.9-196.2l4.9-59.8l4.9 76.3l4.9 24.9l4.9 8.9l4.9 33.3l4.9 97.7l4.9-114.2l4.9-28.5l4.9 47.1l4.9-11.2l4.9-24.4l4.9-17.4l4.9 70.3l4.9 42.4l4.9 50.6l4.9-100.7l4.9-27.3l4.9-14.7l4.8 84l4.9-38.8l4.9-63.4l4.9 42.8l4.9 135.9l4.9-98.5l4.9-20.4l4.9 96.3l4.9-20.5l4.9 0.7l4.9-71.6l4.9 16.2l4.9-13.8l4.9 9.4l4.9 54.6l4.9-20l4.9-56.7l4.9 79.5l4.9 10l4.8 20l4.9-45.2l4.9 22.1l4.9-5.3l4.9-46.6l4.9-13.1l9.8 80.4l4.9-30.9l4.9-4.1l4.9 29.6l4.9-51.3l4.9-14l4.9 34.3l4.9 15.1l4.9 33.1l4.9-51.9l4.9-27l4.9-2l4.9 55.6l4.8-0.4l4.9-39.7l4.9 38.6l4.9 32.4l4.9-59.5l4.9-26.1l4.9 13.4l4.9 17.5l4.9-21.1l4.9-22l4.9 35.5l4.9 27.4l4.9 22.5l4.9-31.2l4.9 5.9l4.9 20.5l4.9-1l4.9-31l4.9-6.4l4.9 13l4.8-21.2l4.9 51l4.9 18.9l4.9-15.4l4.9 7.7l4.9-6.2l4.9-77.8l4.9 10.6l4.9 66l4.9 7.2l4.9 6.4l4.9-47.5l4.9-4.8l4.9 31.6l4.9-13.2l4.9 9.8l4.9-8.6l4.9-13.5l4.9-5l4.9 7.5l4.9-1.1l4.8 10.5l4.9 7.5l4.9 6l4.9-29.9l4.9-7.1l4.9 33.9l4.9-4l4.9 24.5l4.9-19.2l4.9-39.9l4.9 18.3l4.9 38l4.9-22.9l4.9 20.1l4.9-47.9l4.9 10.8l4.9-0.2l4.9-18.5l4.9 25.4l4.8 24.3l4.9-31.7l4.9 36.2l4.9 12.8l4.9-12.8l4.9-28.3l4.9-24.6l4.9 37.5l4.9 15.8l4.9-42.7l4.9 19.6l4.9 21.1l4.9-37.6l4.9 22.1l4.9 25.2l4.9-39.4l4.9 11.8l4.9 8.5l4.9 0.9l4.9-12.6l4.9-18l4.8-21l4.9 16.6l4.9 28.5l4.9-6.1l4.9-4.6l4.9 13.1l4.9 4.5l4.9-32.6l4.9 20.5l4.9 3.6l4.9 15.1l4.9 10l4.9-8.2l4.9 7.3l4.9 0.3l4.9-32.1l4.9 17.3l4.9 19.2l4.9-29.8l4.8 5.1l4.9 7.7l4.9-29.6l4.9-15.3l4.9 8l4.9 12.3l4.9 8.8l4.9 33l4.9-40.2l4.9 19.8l4.9 12.7l4.9-3.9l4.9 1.9l4.9 4.5l4.9-21.6l4.9-20.4l4.9-10.8l4.9 23.6l4.9-7l4.9-25.3l4.8 3.2l4.9 46.1l4.9 13.1l4.9-54.4l4.9 10.9l4.9 15.2l4.9-24.7l4.9 14.6l4.9-2.7l4.9-20l4.9-5.7l4.9 37.6l4.9 33.7l4.9-5.8l4.9-2.5l4.9-7.7l4.9-17.5l4.9 11.9l4.9 17.5l4.9 1.7l4.8-7.1l4.9-32.4l4.9-10.7l4.9 16.6l4.9-13.3l4.9-0.3l4.9 28l4.9 13.7l4.9-23.1l4.9-18.3l4.9 7.8l4.9 15.2l4.9 7.5l4.9 8.9l4.9-18l4.9 5.8l4.9 18.9l4.9-16l4.9-36.3l4.9 12.6l4.9 21l4.8 5.7l4.9-26.7l4.9-7l4.9 33.2l4.9-28" stroke="#9467bd"/>
<path d="M2004.6 1957.2l4.9 348.7l4.9-210.9l4.9 6l4.9-63.3l4.9 11.3l4.9 176.9l4.9 72.9l4.9-98l4.9 87.9l4.8-124.5l4.9-85.6l4.9 46.3l4.9-125.9l4.9 86.3l4.9-48.7l4.9 267.6l4.9 49.4l4.9-84.9l4.9-21.4l4.9 60.6l4.9-89.2l4.9-49.8l4.9 29.6l4.9 64.3l4.9-110.3l4.9 138.1l4.9-58.5l4.9-87.5l4.9 183.1l4.8 23.1l4.9-20.1l4.9 0.9l4.9-106l4.9 117.2l4.9-53l4.9-16.6l4.9-126.6l4.9 59l4.9 105.5l4.9 41.4l4.9-85.8l4.9 64.8l4.9-80.6l4.9-69.8l4.9 91.1l4.9 50.5l4.9-28.4l4.9 1.3l4.9 29.7l4.9-40.9l4.8 54.6l4.9 4l4.9-4.1l4.9 12.8l4.9-1.6l4.9-28.5l4.9-23.6l4.9-30.4l4.9-4.4l4.9 5l4.9 68.7l4.9 16.8l4.9-62.4l4.9-32.4l4.9-17.6l4.9 96.5l4.9-51.9l4.9 21.1l4.9 21.8l4.8-2.7l4.9-4.5l4.9-11.8l4.9 16.6l4.9 20.2l4.9-50.8l4.9-15.9l4.9 25.8l4.9 29.4l4.9 18.6l4.9-33.1l4.9-57l4.9 39.4l4.9 34.2l4.9-22.9l4.9-30.9l4.9 13.7l4.9 27.5l4.9-0.6l4.9-5.1l4.8-21.2l4.9-22.2l4.9 0.4l4.9 3.5l4.9 46.4l4.9 10l4.9-31.9l4.9 4.1l4.9 6.9l4.9-14.8l4.9 9.8l4.9 1l4.9-2.3l4.9 24.4l4.9 4.9l4.9 14.4l4.9-13.2l4.9 4l4.9-40.3l4.9 35.7l4.8-26.3l4.9-12.3l4.9 26.5l4.9 2l4.9 11.5l4.9-1.5l4.9-51.4l4.9 21.5l4.9-3.9l4.9 16l4.9 4.2l4.9 9.4l4.9 11l4.9-86.8l4.9 57.7l4.9-32.4l4.9 41.1l4.9 2.8l4.9-20.5l4.9 36.7l4.9 1.6l4.8-43.8l4.9 18.3l4.9 28.3l4.9-18.6l4.9 6.8l4.9 11.8l4.9-2.8l4.9-16.4l4.9 20.4l4.9-34.9l4.9 17.5l4.9-25.3l4.9 28.2l4.9 20l4.9-8.4l4.9 2.6l4.9-26.5l4.9-19.2l4.9 26l4.8 14.2l4.9-2.3l4.9-14.5l4.9 1.5l4.9 9.3l4.9-20.5l4.9 27.7l4.9 3.1l4.9-2.1l4.9-13.1l4.9 3l4.9 11.3l4.9-0.7l4.9 1l4.9 5.2l4.9-22.3l4.9-15l4.9 33.1l4.9-15.2l4.9-7.1l4.9 18.3l4.8-15l4.9-34.6l4.9 3.3l4.9 44.5l4.9-7.8l4.9-17.6l4.9 32.7l4.9-14.9l4.9 9l4.9-6.8l4.9-12.7l4.9 6.9l4.9 9.1l4.9 0l4.9 10l4.9-3.8l4.9 8.5l4.9-26.4l4.9 4.5l4.8 4.7l4.9 17.2l4.9-17.7l4.9 0.3l4.9 8.4l4.9 3.8l4.9-15.9l4.9-20.6l4.9 17.8l4.9-0.6l4.9 1.2l4.9 0.2l4.9 3.9l4.9 2.6l4.9-14.4l4.9 9.1l4.9-16.5l4.9-8.2l4.9 26l4.9 12.7l4.8 8l4.9-27.8l4.9-26.7l4.9 13.1l4.9 38.3l4.9-7.3l4.9-16.5l4.9 7.7l4.9 12.7l4.9-21.4l4.9-3.3l4.9 10l4.9 9.4l4.9-9.4l4.9-1.9l4.9-12.4l4.9 27.1l4.9 8.2l4.9-20.7l4.9 1.4l4.8-28.1l4.9 5.1l4.9 22.8l4.9 12.4l4.9-10.1l4.9-4.6l4.9-7.9l4.9-6.9l4.9 8.1l4.9 12.6l4.9-6.5l4.9-1.9l4.9 21.5l4.9-9.4l4.9 3.8l4.9 8l4.9-29.3l4.9-19.3l4.9-37.3l4.9 29l4.9 21.8l4.8-3.4l4.9-29.5l4.9-13.3l4.9 10.8l4.9 37.1" stroke="#8c564b"/>
<path d="M2004.6 2336.9l4.9-112.9l4.9-188.3l4.9 161.3l4.9-324.3l4.9 58.2l4.9 405.4l4.9-365.3l4.9-113.6l4.9 222.2l4.8 197.8l4.9-67.3l4.9-70.6l4.9-180.5l4.9 382.3l4.9-34.4l4.9-245.7l4.9 109l4.9 151.2l4.9-236.6l4.9-28.2l4.9 7l4.9 20.4l4.9 4.3l4.9 193.4l4.9 22.2l4.9-254.9l4.9 8.9l4.9 173l4.9-22.8l4.8 145.3l4.9-97.3l4.9 78.5l4.9-113.5l4.9 44.3l4.9 75.4l4.9-43.2l4.9-40.7l4.9-2.3l4.9-59l4.9 6.6l4.9 26.5l4.9-73.3l4.9 24.9l4.9-28.5l4.9 134.3l4.9 34.2l4.9-35.1l4.9-6.7l4.9 28.2l4.9-33.3l4.8 18l4.9 10.6l4.9 39.1l4.9-102.9l4.9-41.1l4.9 73.5l4.9 1.5l4.9 65.5l4.9-6.8l4.9-21.9l4.9 8.3l4.9-13.2l4.9-19.1l4.9 19.4l4.9 38.2l4.9-50.8l4.9-52.7l4.9 36.5l4.9-1.9l4.8 44.8l4.9-78.5l4.9-16.4l4.9 74.4l4.9-36.6l4.9 32.8l4.9 34l4.9-3.6l4.9-44.2l4.9-57l4.9 57.9l4.9 43.4l4.9-15.8l4.9-12.6l4.9-22.7l4.9 30.3l4.9 17.7l4.9-62.6l4.9 29.5l4.9 38.9l4.8 14.3l4.9 0.8l4.9-5.2l4.9-42.2l4.9-11.3l4.9 70l4.9-82.1l4.9-21l4.9-5.7l4.9 47.4l4.9 6.4l4.9-9.1l4.9 9.8l4.9-45.5l4.9 25l4.9 42.5l4.9 3.3l4.9-22.8l4.9 23.9l4.9-45.2l4.8 42.8l4.9 4.4l4.9 13.9l4.9-18l4.9-33.6l4.9-17.8l4.9 28.4l4.9-56.6l4.9 76.7l4.9-16.7l4.9 1.5l4.9 49.1l4.9-19.6l4.9 6.9l4.9-44.2l4.9 26.9l4.9-9l4.9-25.9l4.9-11.1l4.9 14.1l4.9 10.5l4.8 31.8l4.9 11.5l4.9-4.1l4.9-21.4l4.9-41.1l4.9 4.4l4.9 14.6l4.9 24.6l4.9-38.3l4.9-19.5l4.9 24.3l4.9 35.9l4.9-17.1l4.9 18.4l4.9 24l4.9-25.4l4.9 10.4l4.9-23.5l4.9-13.9l4.8 33.2l4.9-4.9l4.9 8l4.9-26.1l4.9-27.8l4.9 31.8l4.9 28.1l4.9-27.9l4.9-4.7l4.9 18.3l4.9 16.8l4.9-35.3l4.9 3.1l4.9 36.6l4.9-32.7l4.9-23l4.9 3.7l4.9 22.3l4.9 0.4l4.9-18.9l4.9 10.4l4.8-19.1l4.9 0l4.9 24.1l4.9 23.6l4.9-1.1l4.9 12.9l4.9-17.3l4.9-21l4.9 19.4l4.9-8.4l4.9-37.3l4.9-0.8l4.9 41.9l4.9-21l4.9 8.3l4.9 1.1l4.9-6.9l4.9 30.5l4.9 3.4l4.8-25.7l4.9-8.6l4.9 15.9l4.9 12l4.9 9.1l4.9 6.8l4.9-37.5l4.9-22.9l4.9 18.1l4.9 40.9l4.9-14.6l4.9-10.4l4.9 26.6l4.9-36.2l4.9 27.5l4.9-6.6l4.9 9.6l4.9-6.3l4.9-0.9l4.9-29.6l4.8-13.7l4.9 19.2l4.9 0.3l4.9-12.5l4.9 1.1l4.9 13.8l4.9 14.5l4.9 9l4.9 13.5l4.9-2.4l4.9-27.7l4.9-6.1l4.9 17.7l4.9 4.3l4.9 1.9l4.9-15.6l4.9-3.3l4.9-4.4l4.9 33.7l4.9-26.9l4.8-19.8l4.9-4.4l4.9-39.8l4.9 17.7l4.9 11.8l4.9 42.4l4.9 7.3l4.9 0.1l4.9-36.6l4.9-15.9l4.9 36.8l4.9-41.3l4.9-17l4.9 33.5l4.9 16.2l4.9 8.4l4.9 21.8l4.9-29.5l4.9 21.5l4.9 5.4l4.9-27.8l4.8-12.2l4.9-10.2l4.9 22.8l4.9 24.6l4.9-10.9" stroke="#e377c2"/>
<path d="M2004.6 1982.2l4.9 219.2l4.9 54.3l4.9-87.2l4.9-232.3l4.9 256.6l4.9-193.8l4.9-186.1l4.9 244.8l4.9 82.3l4.8 86.2l4.9 124.1l4.9-77l4.9-10.8l4.9-17.9l4.9-153.4l4.9 265l4.9-315.2l4.9 234l4.9 63.4l4.9-168.6l4.9-195.4l4.9 175.5l4.9-105.7l4.9 136l4.9-33.7l4.9-90.6l4.9 219.4l4.9-195.5l4.9 49.1l4.8 111.2l4.9 49.3l4.9 9.1l4.9-6.1l4.9 45.6l4.9-90.2l4.9 14l4.9-78.9l4.9 26.4l4.9 8.3l4.9-0.7l4.9 138.2l4.9-137.2l4.9-8.9l4.9 88.7l4.9 57l4.9-97.3l4.9 16l4.9 58l4.9-61.1l4.9-32l4.8-16.8l4.9 46l4.9 66.9l4.9-13l4.9-60.1l4.9-14.5l4.9-15.2l4.9 63.1l4.9 5.1l4.9 23.8l4.9 17l4.9 3.5l4.9-91.5l4.9 46.4l4.9-32.5l4.9 15.5l4.9 58.3l4.9-75.4l4.9 42l4.8-47.8l4.9-39.8l4.9 47.2l4.9 19.8l4.9 2.9l4.9-25.8l4.9-0.2l4.9-3.9l4.9 56.7l4.9-12.3l4.9 9.1l4.9 35.5l4.9-18.7l4.9-10.8l4.9-47.4l4.9 51.5l4.9-2.6l4.9-43.8l4.9 59.7l4.9-4.7l4.8-26.1l4.9-24.2l4.9 21.7l4.9-14.5l4.9 47.7l4.9-62.2l4.9 4.4l4.9 61.3l4.9-32.4l4.9 12.8l4.9-1l4.9-74.6l4.9 9.1l4.9 32.7l4.9 22.1l4.9-0.9l4.9 25.1l9.8 4.7l4.9-38.1l4.8-16.3l4.9-53.1l4.9 71.8l4.9 12.4l4.9 0.5l4.9-7.6l4.9 0.6l4.9 17.3l4.9-5l4.9 14.8l4.9-17.7l4.9-34l4.9 49.6l4.9-3.6l4.9-36l4.9 16.3l4.9 34.6l4.9-18.3l4.9 2.7l4.9 1.7l4.9-3.2l4.8-54.3l4.9 15.7l4.9 19l4.9 32l4.9-20.2l4.9-1.3l4.9-11.9l4.9 11.2l4.9-11.8l4.9 10.6l4.9-7.9l4.9-9.4l4.9 49.8l4.9-23.6l4.9 19.9l4.9-34l4.9-23.3l4.9 31.8l4.9-8.6l4.8-10.1l4.9 45.2l4.9 1.4l4.9-13.5l4.9-18.2l4.9-9l4.9 18.5l4.9 20.9l4.9-7.9l4.9-1.6l4.9 2.6l4.9 5.2l4.9-1.3l4.9 7.3l4.9-33.4l4.9-8.7l4.9 32.7l4.9 6.2l4.9-10.4l4.9 0.5l4.9-37.9l4.8 4.2l4.9 5.5l4.9-0.9l4.9 9.1l4.9-3.6l4.9 20.5l4.9 2l4.9-17l4.9 22l4.9-33.2l4.9-25.3l4.9 12.7l4.9 56l4.9-19l4.9 7.6l4.9-25.9l4.9 11.9l4.9-20l4.9-5.8l4.8 26.3l4.9-33.5l4.9-18.4l4.9 45.9l4.9-7.1l4.9 3.9l4.9 7.9l4.9-2.5l4.9 8.2l4.9 1.1l4.9 12.4l4.9-30l4.9-4.6l4.9 41.9l4.9-13.7l4.9 5.6l4.9-6.7l4.9 1.6l4.9-45.2l4.9 25.5l4.8 26.1l4.9 1l4.9-32.9l4.9 5.4l4.9 16.3l4.9 1l4.9-10.2l4.9 17.3l4.9-7.9l4.9 2.8l4.9 7.8l4.9-29.9l4.9 26.1l4.9-31.1l4.9 3l4.9 38.6l4.9 3.2l4.9-45.8l4.9-19.3l4.9 31.6l4.8 16.8l4.9 16.7l4.9-10.1l4.9 6.2l4.9-22l4.9 2.5l4.9 15.8l4.9 2.8l4.9-3.9l4.9-12.7l4.9-15.3l4.9-15.8l4.9 1.8l4.9 34.2l4.9-39.3l4.9-0.5l4.9-4.9l4.9 11.1l4.9-5.3l4.9 1.1l4.9 27.5l4.8-14.3l4.9-34.9l4.9 14.9l4.9 2.6l4.9 46.1" stroke="#7f7f7f"/>
<path d="M2004.6 2353.3l4.9-199l4.9 158.8l4.9-235.5l4.9 64.6l4.9 59l4.9 88.2l4.9-181.8l4.9 244.7l4.9-8.5l4.8-316.1l4.9 162.8l4.9-118.1l4.9-34.2l4.9-16.8l4.9 306.3l4.9 13.2l4.9-124.5l4.9-7.9l4.9 68.5l4.9-170.6l4.9-123.7l4.9 373.7l4.9-246.6l4.9 8.4l4.9 161.8l4.9-217.3l4.9-46.7l4.9 45l4.9 162l4.8 125.1l4.9-55.5l4.9-59.3l4.9-3.2l4.9-80.7l4.9 9.8l4.9 111.2l4.9 46.5l4.9 19.6l4.9-36.5l4.9 0.8l4.9 21.4l4.9-15.8l4.9 46.1l4.9-40.4l4.9 0.2l4.9-113.4l4.9 90.9l4.9 12.9l4.9 34.2l4.9-21.7l4.8-90.4l4.9-36.3l4.9 106.4l4.9-5.8l4.9 11.1l4.9 45.3l4.9-4.5l4.9-5.7l4.9-57.8l4.9 58.6l4.9-47.4l4.9-59.1l4.9-25.2l4.9 56.9l4.9 0.6l4.9 56.7l4.9 23.8l4.9-26.9l4.9-37.8l4.8 20.1l4.9 22.2l4.9-7.3l4.9 33.7l4.9-16.7l4.9 14.1l4.9-18.5l4.9 10.9l4.9-6.6l4.9-36.9l4.9 0.3l4.9-50.6l4.9 48.1l4.9 34.9l4.9-3.5l4.9 4.9l4.9-11.7l4.9 12.4l4.9 5l4.9-26.6l4.8-13l4.9-8.2l4.9 15.1l4.9 26.6l4.9-39.2l4.9-11.3l4.9 6.2l4.9 1.7l4.9-4.6l4.9 14.7l4.9 36.5l4.9-51.5l4.9 16.2l4.9 41.9l4.9-31.1l4.9-12.2l4.9 15.7l4.9 36.3l4.9-30.8l4.9 11.8l4.8-5.8l4.9 2.4l4.9-2.4l4.9 13.4l4.9-29.2l4.9-13.7l4.9 60.5l4.9-6.5l4.9 4.1l4.9-0.3l4.9 1.1l4.9-14.1l4.9-30.3l4.9-2l4.9-3.2l4.9 20.8l4.9-26.6l4.9-8.6l4.9 2.1l4.9 16.1l4.9 19.3l4.8 8.1l4.9-78.8l4.9 72.9l4.9-9.3l4.9 34.2l4.9-11.6l4.9-96.7l4.9 65.6l4.9 44.9l4.9-101.5l4.9 98.1l4.9 2.2l4.9-153.1l4.9 136.8l4.9-0.8l4.9-9.8l4.9-9.4l4.9 32.2l4.9-13.8l4.8-14.3l4.9 16.7l4.9 1l4.9 0.8l4.9-18.3l4.9-16.6l4.9-4.2l4.9 35.8l4.9 10.1l4.9-22.4l4.9 5.5l4.9 11.9l4.9 1.6l4.9-9.2l4.9-5.4l4.9-6.7l4.9-18l4.9 41l4.9-8.7l4.9-17.8l4.9-7.6l4.8 12.3l4.9 18.5l4.9-0.4l4.9-6l4.9-5.2l4.9 17.5l4.9 6.7l4.9-33l4.9-4.8l4.9 18.3l4.9-6.8l4.9-1.3l4.9 6l4.9-29.2l4.9-6.6l4.9 43.4l4.9 0.1l4.9 16.3l4.9-17.1l4.8-30.8l4.9 4.6l4.9 14.3l4.9 8.7l4.9 8.2l4.9 6.1l4.9-23.6l4.9 15.4l4.9-3.5l4.9 9.4l4.9 2.8l4.9-22.2l4.9 9.4l4.9 15.3l4.9-4.9l4.9-5.6l4.9-21l4.9 7.9l4.9-33.4l4.9 1.4l4.8 5.5l4.9 14.4l4.9-7.5l4.9 3.9l4.9 6.8l4.9-2.5l4.9 18.7l4.9-1.8l4.9 10.3l4.9-28.1l4.9 2.5l4.9 28l4.9 0.9l4.9-15.1l4.9-4.5l4.9-6.3l4.9 8.7l4.9 18.1l4.9-34.3l4.9 17.8l4.8 0.5l4.9-26.6l4.9 15.7l4.9 16.5l4.9-11.8l4.9 16.9l4.9-12.8l4.9-10l4.9 8.1l4.9 9.1l4.9-23.3l4.9-4.3l4.9-8.4l4.9 16.4l4.9-2.9l4.9 6.6l4.9-26.5l4.9-1.5l4.9 8.5l4.9 12l4.9 23.7l4.8 11.7l4.9-24.9l4.9 12.8l4.9 13.1l4.9-15" stroke="#bcbd22"/>
<path d="M2004.6 2117.5l4.9 206l4.9 0.9l4.9-360.8l4.9-48.4l4.9 410.8l4.9-117.2l4.9-320.7l4.9 207l4.9 149.8l4.8 43.2l4.9-180.5l4.9 183.3l4.9-40.7l4.9 0.9l4.9-271l4.9 233.6l4.9 40l4.9-196.9l4.9 92.2l4.9-152.6l4.9 173.2l4.9 162.5l4.9-7l4.9-57.5l4.9-79.6l4.9 131.1l4.9-49l4.9-97.5l4.9-32.7l4.8 178.5l4.9 35.8l4.9-62.8l4.9-56.9l4.9 56.2l4.9-89l4.9 0l4.9 72.9l4.9 23.7l4.9-31.1l4.9 71.1l4.9-23.8l4.9 22.2l4.9-20.5l4.9-55.6l4.9-40.4l4.9 92.9l4.9-5.6l4.9-16.7l4.9-78.5l4.9-38.9l4.8 85.8l4.9 40.3l4.9-12.1l4.9 49l4.9-101.1l4.9 57.1l4.9-22.7l4.9-15.3l4.9 38.9l4.9 19.9l4.9 35.2l4.9-0.2l4.9-59l4.9-46.6l4.9 21.6l4.9 89.2l4.9-55.8l4.9-1.2l4.9-33.5l4.8 9.5l4.9-46l4.9 14.8l4.9 35.9l4.9-0.5l4.9 10.6l4.9 20.6l4.9-22.1l4.9-7.2l4.9-37.4l4.9 21.5l4.9 80.1l4.9-85.3l4.9 20.1l4.9 64.7l4.9-50.4l4.9 3.8l4.9 26.1l4.9-30.1l4.9 3.5l4.8 39l4.9-26.1l4.9 33.7l4.9-6.5l4.9-38.5l4.9-45.7l4.9 41.3l4.9 49.9l4.9-36.3l4.9 0.1l4.9-8.8l4.9 43l4.9-25.5l4.9 14.4l4.9 23.5l4.9-32.3l4.9-7.2l4.9-35.9l4.9 1.8l4.9 33l4.8-39.6l4.9-6.3l4.9 29.7l4.9-22.6l4.9 34.3l4.9-11.5l4.9-14.5l4.9 44.2l4.9-32.3l4.9 23.9l4.9 19.5l4.9-1.6l4.9 11.9l4.9-12.1l4.9-10l4.9-23.5l4.9 9.4l4.9 5.5l4.9-42.8l4.9 20.9l4.9 28.3l4.8-3l4.9 21.9l4.9-17.8l4.9-15.3l4.9 6.9l4.9 15.7l4.9 4.4l4.9 1.3l4.9-16.6l4.9-10.3l4.9 15l4.9 3.7l4.9 24.7l4.9-14.1l4.9-23.4l4.9-2.2l4.9-8.2l4.9 21.7l4.9 11.3l4.8 16.6l4.9-17.9l4.9-19.9l4.9-23.7l4.9 17.2l4.9 24.2l4.9-23.2l4.9 36.9l4.9-7.4l4.9 4.3l4.9 7.1l4.9 2.6l4.9-39.5l4.9 4.4l4.9 28.5l4.9 2l4.9-63.9l4.9 1.7l4.9 33l4.9 12l4.9-30.5l4.8 11.8l4.9-8.9l4.9-6.3l4.9 24.9l4.9-18.6l4.9 7.2l4.9 34.3l4.9-13.3l4.9-24.7l4.9 10.6l4.9-24.5l4.9 10.9l4.9 41.2l4.9-11.8l4.9-25.7l4.9-2.2l4.9 12.1l4.9-13.4l4.9 11.2l4.8 30.5l4.9 2.6l4.9-15.2l4.9-1.8l4.9-9l4.9-3.5l4.9 10.3l4.9-26.4l4.9 26.8l4.9 7.3l4.9-0.8l4.9 0.9l4.9-5.9l4.9 2.2l4.9 0.2l4.9-10l4.9-13.3l4.9-19.7l4.9 4l4.9 19.3l4.8-18l4.9 30.6l4.9 9.9l4.9-6l4.9-10.5l4.9 9.1l4.9 15.7l4.9 5.7l4.9-14.4l4.9 0.9l4.9-3.1l4.9 7.1l4.9 11.9l4.9-2.8l4.9-13.8l4.9-38.3l4.9-11.8l4.9 49.3l4.9-9.5l4.9 8.3l4.8 10.7l4.9-30.3l4.9 3.5l4.9 9.4l4.9-24.4l4.9 47.4l4.9-38.8l4.9-10.2l4.9 10.3l4.9 13.3l4.9 2.2l4.9 0.1l4.9 5.9l4.9 11.9l4.9-28.3l4.9-6l4.9 11l4.9-39.1l4.9 6.9l4.9 53.9l4.9-15.6l4.8 1l4.9-16l4.9 11.4l4.9 6l4.9-16.5" stroke="#17becf"/>
<path d="M2004.6 2102.3l4.9-129.4l4.9-90.4l4.9 362.1l4.9 67.3l4.9-11.6l4.9-49.6l4.9-448.7l4.9 423.3l4.9-152.6l4.8 182.6l4.9-26.1l4.9-267.8l4.9 130.1l4.9-37.8l4.9-123.4l4.9 401l4.9-48.4l4.9-326l4.9 239.5l4.9 67.3l4.9-272.8l4.9 79.5l4.9-86.9l4.9 63.1l4.9 31.3l4.9 130.6l4.9-28.9l4.9-46.4l4.9-69.3l4.8 109.6l4.9-8.4l4.9-30.4l4.9 25.2l4.9 34.9l4.9-22.3l4.9 77.6l4.9-75.7l4.9-9.9l4.9 10.7l4.9 59.3l4.9 77.4l4.9 0.3l4.9-32.6l4.9-59.9l9.8 116.7l4.9-94l4.9-42.2l4.9 1.9l4.9-35.7l4.8 67.7l4.9 41.7l4.9-3.9l4.9-17.4l4.9-7.3l4.9 65.7l4.9-28.7l4.9-65.8l4.9-9.8l4.9 12l4.9 83.6l4.9-23.8l4.9 17l4.9-3.8l4.9-41.5l4.9 78.6l4.9-109.5l9.8 58.5l4.8 62.4l4.9-61.3l4.9-31l4.9-11.1l4.9 76.7l4.9-13l4.9-44.3l4.9 38.8l4.9-28.8l4.9-14.9l4.9 100.9l4.9-45.8l4.9 6.2l4.9-35.1l4.9-30l4.9 30.3l4.9-17.8l4.9-42.4l4.9 81.1l4.9 44.4l4.8-20.8l4.9 9.7l4.9-66.4l4.9-7.3l4.9 56.1l4.9-58.9l4.9 59.5l4.9-28l4.9-14l4.9-17.3l4.9 55l4.9-53.1l4.9 32.5l4.9 25.2l4.9-13.9l4.9 28.9l4.9 22.2l4.9-18.4l4.9-28.1l4.9-21.3l4.8-27l4.9 49.5l4.9-19.5l4.9-7.9l4.9 67.2l4.9-17l4.9-27.1l4.9 33.6l4.9-9.2l4.9 7.5l4.9-4.5l4.9-36.2l4.9-17.1l4.9 17.7l4.9-25.1l4.9 62.6l4.9-42.3l4.9-16.4l4.9-8.5l4.9 2.2l4.9 26.8l4.8 50.5l4.9-14.4l4.9-40.3l4.9 3.6l4.9 14.4l4.9-36.3l4.9 1l4.9 17.2l4.9 8l4.9-5.6l4.9 11.2l4.9 13.3l4.9 6.2l4.9-13.6l4.9 31.3l4.9-36.8l4.9-13.8l4.9 8.7l4.9 5.1l4.8-37.4l4.9 86.9l4.9-1.2l4.9-18.9l4.9-3.8l4.9-6.8l4.9 23.1l4.9-32.1l4.9-10.9l4.9-8l4.9 33.9l4.9 22l4.9-52l4.9 13l4.9-21.7l4.9-15.7l4.9 6.9l4.9 57.2l4.9 2.9l4.9-1.5l4.9-7l4.8-21.8l4.9 38.7l4.9-61.4l4.9 10.3l4.9 28.9l4.9-27l4.9-14.4l4.9-13.4l4.9 13l4.9 18.2l4.9 10.2l4.9 1.5l4.9-21.9l4.9 41.1l4.9 4.4l4.9 9.2l4.9-2.1l4.9-3.5l4.9-18.7l4.8-10.9l4.9 12l4.9-25.6l4.9-3.9l4.9 29.2l4.9 11.5l4.9 9.2l4.9-49.4l4.9 55.1l4.9-31.2l4.9-5.6l4.9-1.4l4.9-24.4l4.9 23.6l4.9-2.2l4.9-14.3l4.9-8.6l4.9 9l4.9 52.9l4.9-44.9l4.8-2.4l4.9 46.1l4.9-11.5l4.9-33.6l4.9 32.8l4.9 9l4.9-43.5l4.9 11.3l4.9 18.5l4.9-0.6l4.9 1.1l4.9-11.5l4.9-28.2l4.9-1.9l4.9 23.6l4.9 26.7l4.9 9.6l4.9-16.9l4.9-36.7l4.9-15.1l4.8 69.9l4.9-65.9l4.9-16l4.9 22.8l4.9-9.7l4.9 11.2l4.9 15.9l4.9-18.7l4.9-2.1l4.9 50.7l4.9-33.9l4.9-6l4.9-8l4.9 27.7l4.9-24.4l4.9 11.4l4.9 25.2l4.9-23.1l4.9 26.3l4.9-10.8l4.9-40.8l4.8-16.8l4.9 25.5l4.9 19.4l4.9-30.6l4.9 22" stroke="#1f77b4"/>
<path d="M2004.6 2039.4l4.9 65.5l4.9-139.8l4.9-10l4.9 178l4.9 214.7l4.9 4.2l4.9-155l4.9-207.1l4.9 176l4.8-21.3l4.9 32.6l4.9-9l4.9 30.1l4.9 26.3l4.9 47.4l4.9 64.2l4.9-287.6l4.9 138.6l4.9 41.5l4.9 14.5l4.9 8.6l4.9-5.2l4.9-122.7l4.9 83.2l4.9-148.6l4.9 211.5l4.9 30.2l4.9-111.2l4.9 119.5l4.8-13l4.9-67.8l4.9-37l4.9-35.8l4.9 167.6l4.9-10.3l4.9 10.2l4.9-24.3l4.9-57l4.9 90.9l4.9-19.9l4.9-39.4l4.9 12.6l4.9 7.9l4.9-116.4l4.9 21.9l4.9 64.4l4.9 2.9l4.9-37.1l4.9 92.3l4.9 27.2l4.8-54.7l4.9-34.7l4.9 20.8l4.9 19.8l4.9 24.3l4.9-58.4l4.9 37l4.9 1.5l4.9 49.5l4.9-25.8l4.9-49.3l4.9 20l4.9 1.1l4.9 31.6l4.9-9.9l4.9-58.2l4.9 40.3l4.9 32.5l4.9-3.7l4.8-41.1l4.9 22.5l4.9 40.2l4.9-18.6l4.9-33.1l4.9-45.9l4.9 59.1l4.9 36.1l4.9-31.2l4.9-29l4.9 23l4.9 36.4l4.9-29.1l4.9-10.7l4.9 6.6l4.9-1l4.9-30.3l4.9 19.3l4.9 19.9l4.9-3.5l4.8-10.4l4.9 25.4l4.9 17l4.9-25.8l4.9-32.7l4.9-30l4.9 86.5l4.9-56.5l4.9 22.2l4.9-1.5l4.9-23.2l4.9 52.7l4.9-24.9l4.9-14.3l4.9 16.5l4.9 0.9l4.9 23.9l4.9-36.4l4.9 2.7l4.9 26.9l4.8-33.6l4.9-19.4l4.9 6.6l4.9 24.6l4.9 34l4.9-22.1l4.9-18.3l4.9-0.5l4.9 18.2l4.9 8.6l4.9-18.9l4.9 9.4l4.9 25.6l4.9-3.1l4.9-2.6l4.9 3.2l4.9-4.9l4.9 3l4.9-8l4.9 0.4l4.9-18.2l4.8-0.4l4.9 12.6l4.9-12l4.9-4.9l4.9 9.3l4.9 25.3l4.9-20l4.9 1.4l4.9-9.2l4.9-5l4.9-27.3l4.9-1.8l4.9 25.6l4.9-0.8l4.9 18.2l4.9 5l4.9-5.3l4.9-3l4.9-17.7l4.8 19l4.9-3.9l4.9 18.5l4.9-27.9l4.9-6.4l4.9-48l4.9 70.9l4.9-7.5l4.9-17.2l4.9 8.6l4.9 12.6l4.9-3.4l4.9 9l4.9-20.7l4.9 2.8l4.9 32.1l4.9-33.1l4.9 8.8l4.9 22.5l4.9-30.8l4.9-0.9l4.8-19.8l4.9-0.4l4.9 44.4l4.9-25.2l4.9-1.6l4.9 1l4.9 16.1l4.9 9.5l4.9-2.3l4.9 2.3l4.9-11.3l4.9 11.2l4.9 8.1l4.9-9.7l4.9 2.7l4.9 1l4.9-1.2l4.9-1.8l4.9-10.3l4.8 12.6l4.9-20.7l4.9 5.3l4.9 7.4l4.9 12.4l4.9-4l4.9-24.2l4.9 18l4.9-0.1l4.9-12.4l4.9 11.1l4.9-1.3l4.9-29.8l4.9 8.3l4.9 17.4l4.9 15.3l4.9-21.1l4.9 9l4.9-24.8l4.9 41.7l4.8-17.5l4.9-4.7l4.9 4.2l4.9-0.9l4.9 10.1l4.9 5l4.9-7.4l4.9-1.2l4.9 3.2l4.9 8.3l4.9 1.8l4.9-6l4.9 3.8l4.9-9.7l4.9-6.2l4.9 5.6l4.9-35l4.9-7.6l4.9 22.7l4.9 16.5l4.8-6.1l4.9 17.3l4.9-39.1l4.9 4.9l4.9 25l4.9-12.6l4.9 8.2l4.9 20l4.9-12.2l4.9-13.7l4.9-8.4l4.9-12.1l4.9 29.1l4.9-15.4l4.9-18.1l4.9 0.8l4.9 6.9l4.9-8.6l4.9-8.3l4.9 14.3l4.9-58.8l4.8-6.2l4.9 68.7l4.9 23.1l4.9 2.7l4.9-8.6" stroke="#ff7f0e"/>
<path d="M2004.6 2147.5l4.9-138.4l4.9 173.8l4.9 153.9l4.9-529.2l4.9 544.7l4.9-224.9l4.9-1.3l4.9 193.7l4.9 34.1l4.8-183.3l4.9 26.5l4.9 51.6l4.9 104.8l4.9-199.8l4.9-125l4.9-68.1l4.9 338.8l4.9-218.6l4.9 141.6l4.9 91.3l4.9-273.9l4.9 3l4.9 88.1l4.9 43.8l4.9 146.9l4.9-11.7l4.9 29.7l4.9-29.2l4.9 13.6l4.8-135.7l4.9 94.7l4.9 19l4.9 1.8l4.9-41.7l4.9-68.6l4.9 96.1l4.9-78l4.9 65.5l4.9 28.5l4.9-61l4.9 92.2l4.9-90.6l4.9-26.9l4.9 90l4.9-2.1l4.9-55.7l4.9 19.5l4.9 10l4.9 59.7l4.9-48.4l4.8 34.4l4.9-94.7l4.9-39.4l4.9 64.4l4.9-12.7l4.9-15.2l4.9 88.6l4.9-16l4.9-17.3l4.9 13.7l4.9 33.4l4.9-2l4.9-79.5l4.9-18.4l4.9 0.6l4.9 68.8l4.9 48.5l4.9-78.2l4.9 23.3l4.8 37.7l4.9-70.2l4.9 38.6l4.9-43.7l4.9-7.6l4.9 48.1l4.9-8.7l4.9-21.1l4.9 14.5l4.9 37.7l4.9-20.9l4.9 34.4l4.9-14.8l4.9-13.6l4.9 19.9l4.9-66.4l4.9-9.9l4.9-10.8l4.9 32.9l4.9 33.7l4.8 8.3l4.9 34.5l4.9-104.7l4.9 1.6l4.9 96.7l4.9-73.3l4.9 56.8l4.9-46.1l4.9 13.3l4.9-13.1l4.9 58.3l4.9-82.6l4.9 29.2l4.9 39.2l4.9 19.4l4.9-37l4.9-15l4.9 38l4.9 0l4.9-11.3l4.8-16.4l4.9-1.7l4.9 32.3l4.9-43.7l4.9 54.7l4.9-8.8l4.9-24.3l4.9 19l4.9 23.2l4.9-8.9l4.9-6.1l4.9 13.9l4.9-1.6l4.9-27.8l4.9 9.2l4.9 2.4l4.9-10.6l4.9 21.4l4.9-51.1l4.9 22.1l4.9 24.4l4.8-53.8l4.9 7.3l4.9-23.1l4.9 3.2l4.9 66.6l4.9-0.1l4.9-5.8l4.9 16l4.9-0.1l4.9-15.7l4.9-28.8l4.9-9.1l4.9 12.9l4.9 4.5l4.9 6.9l4.9 31l4.9-24.7l4.9 19.7l4.9-8.4l4.8-9.7l4.9 6.1l4.9 1.4l4.9-26.6l4.9 28.1l4.9-34.3l4.9-26.3l9.8 66.6l4.9-15.9l4.9 10.3l4.9-26.8l4.9-1.5l4.9 20.4l4.9 0.1l4.9 5.9l4.9-84.8l4.9 82.5l4.9-22.7l4.9 3.3l4.9 32.4l4.8-2.9l4.9-35.1l4.9-12.7l4.9 26.2l4.9 30.7l4.9-3.2l4.9-23.4l4.9-19.3l4.9 10.3l4.9 10l4.9 19.7l4.9-3.7l4.9 7.4l4.9 0.1l4.9 4.4l4.9-28.9l4.9-2.9l4.9 13l4.9-23.2l9.7 16.1l4.9-14.5l4.9-2.4l4.9 41.5l4.9-22.4l4.9 10.6l4.9-30.5l4.9 14.8l4.9 4.2l4.9-11.9l4.9 23.8l4.9-38.6l4.9 37.5l4.9-6.7l4.9-10.5l4.9-15.8l4.9-17.5l4.9 12.6l4.9 19.8l4.8-28.3l4.9 18.4l4.9 35.6l4.9-37l4.9 8.1l4.9 3.9l4.9-5.8l4.9 5.8l4.9-30.6l4.9 8.1l4.9-0.5l4.9 51.6l4.9-44.9l4.9 4.9l4.9-25.1l4.9-0.1l4.9 31.1l4.9 8.8l4.9-39.1l4.9-11.7l4.8 6.3l4.9 17.9l4.9-2.6l4.9 4.6l4.9 41.9l4.9-44.8l4.9-17.3l4.9 7.5l4.9 23.5l4.9 35.7l4.9 1.4l4.9-4.2l4.9-34.7l4.9-7.5l4.9-30l4.9 19.5l4.9 52.7l4.9-25.9l4.9-33.6l4.9 19l9.7-17.3l4.9 55.8l4.9 3.5l4.9-2.2l4.9-32.1" stroke="#2ca02c"/>
<path d="M2004.6 2047.4l4.9 40.5l4.9 47.9l4.9 186.2l4.9-3.5l4.9-502.1l4.9 243.3l4.9 19.7l4.9 43.1l4.9-63.7l4.8 45.8l4.9-148l4.9 12.9l4.9 268.1l4.9-199.9l4.9 315.6l4.9-213.1l4.9-76.7l4.9 130.8l4.9-38.4l4.9-17.4l4.9 23.9l4.9-112.6l4.9 52.8l4.9 225.8l4.9-84.6l4.9-147.7l4.9 199.3l4.9-185.5l4.9 56.9l4.8-85.5l4.9 92.3l4.9 67.9l4.9-29.4l4.9 141.6l4.9-128.5l4.9 75l4.9 1.1l4.9-147.7l4.9 30.1l4.9 108.3l4.9 58.4l4.9-97.4l4.9-23.8l4.9 14.9l4.9 55.4l4.9-17.1l4.9-54.8l4.9-47.7l4.9 43.6l4.9 27l4.8-43.7l4.9 1.6l4.9 135l4.9-102.3l4.9 38.9l4.9-38.9l4.9-48.7l4.9 7l4.9 17.4l4.9 16.7l4.9 101.6l4.9-38.7l4.9 13l4.9 35.2l4.9-71.4l4.9-44.6l4.9-12.2l4.9 14.6l4.9 27.2l4.8 52.5l4.9-8.7l4.9-7.6l4.9-21.2l4.9-27.7l4.9-21.2l4.9 45.7l4.9 50.6l4.9-29.9l4.9-34.5l4.9-1.2l4.9 40.7l4.9-41.6l4.9 9.9l4.9 56.4l4.9-24l4.9 34l4.9-44.7l4.9 56.8l4.9-61l4.8-14.9l4.9 77.3l4.9-89.5l4.9-33.3l4.9 36.9l4.9-3.6l4.9 54.9l4.9 4l4.9-32.1l4.9-6.7l4.9 25.7l4.9 32.7l4.9 7.5l4.9 5.3l4.9-13.8l4.9-15l4.9 6.7l4.9 24.9l4.9-13.4l4.9-2l4.8 10.9l4.9-51.4l4.9-4.7l4.9-12.4l4.9 45.1l4.9-7.7l4.9-55.4l4.9 7.9l4.9 21.1l4.9-20.8l4.9 36l4.9 2.5l4.9-18.2l4.9 36.3l4.9 12.8l4.9-47.4l4.9-4.6l4.9 36.7l4.9-15.3l4.9-27.8l4.9-3.4l4.8 38.4l4.9 33.2l4.9-5.6l4.9-52.3l4.9 21.5l4.9-15.1l4.9-27.3l4.9 16.2l4.9 28.7l4.9 18.8l4.9-27.2l4.9 37.2l4.9-27.6l4.9-7l4.9 12.8l4.9-1.3l4.9 20.5l4.9-10.9l4.9 6.8l4.8-27.3l4.9-26.2l4.9 26.3l4.9 29.9l4.9-16.8l4.9-14.3l4.9-1.3l4.9-11.7l4.9 4.8l4.9 37.9l4.9 10l4.9 3.4l4.9 5.3l9.8-67.7l4.9-2.2l4.9 65.3l4.9-53.6l4.9-4l4.9 13.5l4.9-20.2l4.8 25.2l4.9 17.4l4.9-18l4.9-7.1l4.9 24.3l4.9-10.8l4.9 15.9l4.9 20.6l4.9 3.4l4.9-20l4.9-21.4l4.9 22.8l4.9-17.7l4.9 4.8l4.9 27.8l4.9-36.8l4.9-1.5l4.9-24.6l4.9 0.7l4.8 0.1l4.9-10.5l4.9 30.1l4.9 42.4l4.9-14.5l4.9-4.3l4.9 19l4.9-3.7l4.9 2.6l4.9-31.3l4.9-9.3l4.9 38.1l4.9-15.1l4.9-11.2l4.9-4.6l4.9-12.3l4.9 6.9l4.9 36.7l4.9-18.7l4.9-8.7l4.8-20.7l4.9 17.1l4.9-2.8l4.9 11.5l4.9-2l4.9-15.6l4.9-10.4l4.9 9.9l4.9 1.2l4.9 4.9l4.9-12.8l4.9 3.3l4.9-21.4l4.9 11.9l4.9 12.3l4.9 16.1l4.9 10.5l4.9-10.8l4.9-5.9l4.9-3.1l4.8 0.3l4.9 38.3l4.9-16.2l4.9-40.7l4.9-23.8l4.9 54l4.9-7l4.9-11.1l4.9 30.1l4.9 2l4.9 12.7l4.9-53.4l4.9-26.9l4.9 66.6l4.9-0.1l4.9-21.4l4.9-25.5l4.9 41.2l4.9-11.7l4.9-19.7l4.9 6.3l4.8 45.9l4.9-12.3l4.9-26.7l4.9-3.4l4.9 6.7" stroke="#d62728"/>
<path d="M2004.6 2218.6l4.9 125.7l4.9-232.8l4.9-26.1l4.9 159.9l4.9-95.5l4.9 167.7l4.9-296.3l4.9-91.4l4.9 285.7l4.8-77.4l4.9-150.2l4.9 13.9l4.9 223l4.9-101l4.9 193.8l4.9-169.8l4.9-12.1l4.9-111.6l4.9 332.3l4.9-149l4.9-200l4.9 233.6l4.9-249.8l4.9 67.6l4.9-6.8l4.9 179.6l4.9 27.9l4.9 15.4l4.9-174.3l4.8 26.5l4.9 132.5l4.9-135.2l4.9 25.5l4.9 67.3l4.9-19.6l4.9 127.2l4.9-97.6l4.9-25.4l4.9 36.4l4.9 22.9l4.9 78l4.9-13l4.9-87.4l4.9-41.4l4.9 132l4.9-115.7l9.8-9.1l4.9 15.5l4.9-22.9l4.8 0.2l4.9-44l4.9 28.6l4.9 109.4l4.9-32.8l4.9-35.8l4.9-15.4l4.9 33l4.9 50.8l4.9-46.1l4.9-15.4l4.9 42.3l4.9 60.8l4.9-19.8l4.9 10.1l4.9-39l4.9 23l4.9-21.7l4.9-32l4.8 75.9l4.9-10.8l4.9-62.1l4.9-24l4.9 33.8l4.9 53.7l4.9-18.1l4.9-21.4l4.9-5.7l4.9 62.4l4.9-26.8l4.9 1.1l4.9-3.9l4.9 27.2l4.9 5.9l4.9-22.9l4.9 16.6l4.9 3.8l4.9 3.2l4.9-8.3l4.8-86.8l4.9 15.5l4.9 19.9l4.9 21.4l4.9 30.9l4.9 9.5l4.9 6.5l4.9-33.9l4.9-56l4.9 0.6l4.9 35.2l4.9 25.2l4.9-8.6l4.9-62.8l4.9 38.6l4.9 52.7l4.9-18.4l4.9-15.1l4.9 9.9l4.9-2.9l4.8 27.1l4.9-31l4.9 7.1l4.9-27.1l4.9 31.3l4.9 12.4l4.9-2.7l4.9-47.7l4.9-10.2l4.9 8.4l4.9-10.9l4.9 49.2l4.9 16.7l4.9 10.6l4.9-2.3l4.9-1.7l4.9-19.8l4.9-39.3l4.9 23.9l4.9-17.3l4.9-6.4l4.8 5.2l4.9 26.3l4.9-5.5l4.9-29.9l4.9 45.5l4.9 0.9l4.9 25.2l9.8-49.9l4.9-15.9l4.9 11.6l4.9-1.5l4.9 31.6l4.9 10.2l4.9-16.3l4.9 8l4.9 2.6l4.9 2.2l4.9-39.1l4.8-1l4.9 16.1l4.9-40.4l4.9 58.7l4.9-11.2l4.9-28.3l4.9 12.4l4.9 45l4.9-11.7l4.9 4.6l4.9-30.7l4.9 16.6l4.9-0.4l4.9-20.8l4.9 8.7l4.9 13.3l4.9 11.2l4.9-2.5l4.9-4.7l4.9-21.3l4.9-1.4l4.8-6.5l4.9 22.8l4.9 25.3l4.9-37.1l4.9 20.7l4.9-19.1l4.9-6.1l4.9-3.8l4.9 20l4.9 14.3l4.9-16.9l4.9 1.5l4.9-59.4l4.9 39.7l4.9 0l4.9 51.8l4.9-12.4l4.9-1l4.9-7.8l4.8 13.5l4.9 4.5l4.9-21.5l4.9-3.7l4.9 3.9l4.9 9.8l4.9-7.3l4.9 10.2l4.9-14.9l4.9-20l4.9 21.6l4.9-13.3l4.9-5.3l4.9 19.4l4.9-15.9l4.9-6.3l4.9 22.8l4.9 12.7l4.9-15.5l4.9 6.6l4.8 9.8l4.9-7.8l4.9 16.5l4.9-5l4.9-0.8l4.9-14.4l4.9 4.5l4.9 7.6l4.9-34.3l4.9 22l4.9-1.9l4.9 14.2l4.9-24.8l4.9-7.6l4.9 3.7l4.9 27.5l4.9-9.7l4.9-23.5l4.9 11.6l4.9 22.4l4.8-51.4l4.9-2.9l4.9 2.5l4.9 10.6l4.9 4.9l4.9 29.5l4.9-16.7l4.9 3.7l4.9-37.3l4.9-3.1l4.9 34.9l4.9 14.8l4.9 4l4.9-2.8l4.9 0.8l4.9-1.6l4.9 6.2l4.9-29.3l4.9 6l4.9-23.3l4.9-16l4.8 36.1l9.8-29.3l4.9 22.5l4.9 20.4" stroke="#9467bd"/>
<path d="M2004.6 1948.8l4.9 95.8l4.9 122.8l9.8-305.4l4.9 424.4l4.9-103.9l4.9-326.4l4.9 457.3l4.9-282.7l4.8 309.1l4.9 2.9l4.9-301.3l4.9-74.4l4.9 360.1l4.9-306.4l4.9-34.4l4.9 32l4.9-70l4.9 121.7l4.9-181.7l4.9 52.5l4.9 115.9l4.9-88.8l4.9 156.1l4.9-85.1l4.9 43.9l4.9-38.6l4.9-4.1l4.9 294.8l4.8-108.5l4.9 12.1l4.9-26.1l4.9 116.2l4.9-14.4l4.9-55.6l4.9-33.2l4.9 59.5l4.9 61.2l4.9-143l4.9 17.4l4.9 49.2l4.9-104.3l4.9 36.3l4.9 10.7l4.9 11.1l4.9 50.8l4.9 67.1l4.9-57.9l4.9-39l4.9-12.5l4.8 49.9l4.9-17.2l4.9 56.2l4.9 19.1l4.9-32.6l4.9-29.3l4.9-3.5l4.9-4.4l4.9-28l4.9 64.6l4.9 39.5l4.9-72.2l4.9-11.6l4.9 33l4.9-36l4.9 1.1l4.9 31.2l4.9-24.7l4.9 20.2l4.8 37.3l4.9-67.2l4.9 11.3l4.9 22.7l4.9-18.8l4.9 18.1l4.9 23l4.9 33.9l4.9-60.2l4.9 14.8l4.9 49.3l4.9-13.6l4.9-41l4.9-15.6l4.9-14.1l4.9 58.3l4.9-7.8l4.9 1.1l4.9 2.7l4.9-58.7l4.8-9.4l4.9 51.8l4.9 8l4.9-41.6l4.9 45.9l4.9-92.7l4.9 49.2l4.9 75.6l4.9-72.5l4.9-31.1l4.9 8.5l4.9 30l4.9 26.6l4.9 24.6l4.9-9.9l4.9-44.6l4.9 11.8l4.9 40.6l4.9-4.7l4.9-64.6l4.8 2.6l4.9 45.9l4.9 33.6l4.9 3.5l4.9-19.5l4.9-12.8l4.9 29.5l4.9-44.8l4.9-41.8l4.9 64.5l4.9-18.2l4.9 8l4.9 38.2l4.9-17.2l4.9-2.5l4.9-15l4.9-11.1l4.9-9.7l4.9-16.6l4.9 18.2l4.9-5l4.8 16.4l4.9 28.8l4.9-23l4.9-10.2l4.9 4.8l4.9-8.9l4.9 26.3l4.9-2.9l4.9 21l4.9-19.6l4.9-8.4l4.9-28l4.9 0.1l4.9 28.1l4.9 6.5l4.9 23.1l4.9-35.8l4.9 28.4l4.9-22l4.8-8.2l4.9-2l4.9 22.9l4.9-8.4l4.9 11.3l4.9 6l4.9 11.4l4.9-11.6l4.9-22.9l4.9 7l4.9-55.3l4.9 75.6l4.9 3.6l4.9-30.8l4.9-15.7l4.9-5.3l4.9 8.6l4.9 40.7l4.9 9.6l4.9-33.8l4.9-14.7l4.8 12.9l4.9 18.8l4.9-17.3l4.9-14.4l4.9 30.2l4.9-12.8l4.9-60.5l4.9 72.1l4.9-31.4l4.9 10.8l4.9-0.5l4.9 5.6l4.9 3.7l4.9-23.9l4.9-8.4l4.9 49.2l4.9-5.4l4.9 8.1l4.9 3l4.8-25l4.9 1.8l4.9 24.9l4.9-38.5l4.9-2.8l4.9 13.5l4.9-1.1l4.9 14l4.9-14.2l4.9 3.4l4.9-18.9l4.9 0.2l4.9 34.3l4.9-1l4.9-16.5l4.9 1.1l4.9 4l4.9-11.8l4.9 24.6l4.9-13.4l4.8 9l4.9 16.9l4.9-14.5l4.9 9.4l4.9-22.9l4.9-11.2l4.9-6.3l4.9-2.8l4.9-17.6l4.9 12.3l4.9 18.3l4.9 32.5l4.9-20.5l4.9 3.9l4.9-11.8l9.8-49.1l9.8 32.9l4.9-13.9l4.8 26.7l4.9 6.5l4.9-36.7l4.9 22.8l4.9-22.2l4.9-15.5l4.9 16.4l4.9 17.5l4.9 7.8l4.9 13.5l4.9 1.6l4.9 4.1l4.9-17.5l4.9 16.6l4.9-24.6l4.9-16.4l4.9 15.5l4.9 35.1l4.9-15l4.9 28.3l4.9-71.7l4.8-22.5l4.9 51.8l4.9 33.1l4.9-24.6l4.9 16.8" stroke="#8c564b"/>
<path d="M2004.6 2063.3l4.9 217l4.9-38.5l4.9 103.8l4.9-221.7l4.9 148l4.9-466.9l4.9 374.8l4.9 127l4.9-67.7l4.8 4.8l4.9 90.2l4.9 19.3l4.9-141.8l4.9-149.9l4.9 59.7l4.9-4.4l4.9 4.6l4.9 6l4.9 201.8l4.9-152l4.9 134.2l4.9 24.6l4.9-20.8l4.9 41.2l4.9-91.8l4.9-0.1l4.9 0.1l4.9-59.8l4.9 8.1l4.8-80.7l4.9 49.3l4.9 127.2l4.9 2.3l4.9-140.6l4.9-20.9l4.9 103.3l4.9 69.9l4.9-58.5l4.9 12l4.9 32.9l4.9-64.3l4.9 4.6l4.9 100.7l4.9-96.2l4.9 21l4.9-32.5l4.9 77.4l4.9 13.4l4.9 13l4.9-16.8l4.8 3.3l4.9 7.7l4.9 7.5l4.9-42.4l4.9-0.7l4.9-55.4l9.8-18.2l4.9 57.5l4.9 40.9l4.9-39.1l4.9 1.8l4.9-32.4l4.9-3.6l4.9-1.9l4.9 42.7l4.9 37.2l4.9-81.6l4.9-14.2l4.8 15.2l4.9 51.5l4.9 24.5l4.9 13l4.9-20.3l4.9-21.8l4.9 31.7l4.9-50.3l4.9 28.2l4.9 36.2l4.9 1.3l4.9-18.9l4.9-29l4.9 49.2l4.9-38l9.8 33.6l4.9-2l4.9-25l4.9-9l4.8 37.8l4.9-42.9l4.9-38.5l4.9 21.4l4.9 44.9l4.9 19.3l4.9-5.5l4.9-36l4.9 14.2l4.9 3.3l4.9-18.3l4.9 8.7l4.9 17.7l4.9 3.5l4.9-8.5l4.9-29l4.9-14.5l4.9-14l4.9 60.7l4.9 11l4.8 7.6l4.9-15l4.9-3.8l4.9-10.4l4.9 8.9l4.9 19.1l4.9-26.1l4.9 5.3l4.9-20.2l4.9 0.8l4.9-1.1l4.9 41.9l4.9-49.1l4.9 8l4.9 33.3l4.9-12.3l4.9 7l4.9-19.3l4.9 19.3l4.9 3.9l4.9 1.7l4.8-0.8l4.9 5.5l4.9-2.5l4.9-17.2l4.9-6.6l4.9 1.9l4.9 13.8l4.9-11.3l4.9-13.3l4.9 32.3l4.9-3.1l4.9-17.2l4.9-7.7l4.9-10.9l4.9 31.1l4.9-2.6l4.9-32.1l4.9-9.5l4.9 0.7l4.8 9.1l4.9 13l9.8 7.8l4.9 5.5l4.9 11.7l4.9-0.8l4.9-8.6l4.9 18.8l4.9 4.6l4.9-1.4l4.9-5.1l4.9 1.7l4.9-77.6l4.9 78.6l4.9-6.6l4.9-2.7l4.9 5.3l4.9-8.2l4.9 8.1l4.9-6.6l4.8-0.8l4.9 15.4l4.9-4.7l4.9-23.3l4.9-3l4.9 14.4l4.9 12l4.9-22.8l4.9-0.3l4.9-50.3l4.9 58.6l4.9-16.6l4.9-2.4l4.9 3.1l4.9 15.6l4.9-13.4l4.9 7.5l4.9-17.4l4.9 41.2l4.8-13.2l4.9 1.6l4.9 5.4l4.9-2l4.9-4.7l4.9-4.1l4.9-7.9l4.9 15.6l4.9-7.7l4.9-12.2l4.9 15.2l4.9-0.7l4.9-4.4l4.9-8l4.9 1.6l4.9 12.8l4.9 9.3l4.9 5.1l4.9-12.5l4.9-12l4.8-18.5l4.9-2.9l4.9 9.1l4.9 28.5l4.9-16.1l4.9-16.7l4.9 7.3l4.9 10.3l4.9-17.2l4.9 28.4l4.9-1.2l4.9 8.4l4.9 2.1l4.9-28.6l4.9-24.8l4.9 12.7l4.9 28.7l4.9 1.9l4.9-5.3l4.9-51.4l4.8 15.9l4.9 31.1l4.9 17l4.9-10.6l4.9 3.4l4.9-11.7l4.9-1.1l4.9-1.3l4.9-3.6l4.9-6l4.9-8.9l4.9 14.1l4.9 0.8l4.9 5.3l4.9 3l4.9 19.7l4.9-13.3l4.9 9.3l4.9-11.3l4.9-3.5l4.9 1.6l4.8-29.2l4.9-21.3l4.9 16.1l4.9 9.6l4.9-17.6" stroke="#e377c2"/>
<path d="M2004.6 2190.8l4.9 96.1l4.9 57.7l4.9-50.3l4.9 30.5l4.9-353.7l4.9 287.6l4.9-28.3l4.9-341.7l4.9 244.8l4.8 210.2l4.9 9.9l4.9-57l4.9 49.6l4.9-0.6l4.9-22.9l4.9 26.7l4.9-361.9l4.9 248.5l4.9-101l4.9 160.8l4.9 45.6l4.9-204.4l4.9 0.9l4.9 214l4.9-62.1l4.9 5.7l4.9-41.4l4.9 99.4l4.9-41l4.8-5.3l4.9 18.1l4.9 0.1l4.9 9.7l4.9-4.7l4.9-27.6l4.9-97.5l4.9-5.8l4.9 151.2l4.9-31.6l4.9 26.4l4.9-25.8l4.9-22.1l4.9-49.7l4.9 16l4.9 50.9l4.9 37.2l4.9-83.5l4.9-42.8l4.9 7.3l4.9 11.5l4.8 67.3l4.9 38.8l4.9-18.4l4.9-1.4l4.9 6.9l4.9-50l4.9 27.9l4.9-33l4.9-55.4l4.9-10.2l4.9 16.1l4.9 17.6l4.9-40.7l4.9 38.6l4.9 41.5l4.9 23.3l4.9 33.5l4.9-1.7l4.9-11.3l4.8-21.7l4.9-33.4l4.9 3.7l4.9 20.1l9.8 43.1l4.9-16.1l4.9 19.7l4.9-5.5l4.9-11.1l4.9-28l4.9-5.8l4.9-18.8l4.9 36l4.9 18l4.9 0.5l4.9-6.7l4.9 18.4l4.9-40.2l4.9-9.4l4.8 41.8l4.9 10.5l4.9-16.1l4.9-22.4l4.9-9.6l4.9 39.3l4.9 6.5l4.9 4.8l4.9-1.6l4.9-17.6l4.9 17.2l4.9 0.4l9.8 1.3l4.9 3.5l4.9-16l4.9-4l4.9-51.5l4.9-7.1l4.9 25.8l4.8 2.5l4.9-1.7l4.9 29.1l4.9 15l4.9-1.1l4.9-48.3l4.9-20l4.9 20.8l4.9 8.9l4.9-11.3l4.9 17.9l4.9 0l4.9 14.1l4.9-9.4l4.9 4.7l4.9 13l4.9-36.9l4.9 35.9l4.9-16l4.9 1l4.9 24.4l4.8 6l4.9 4.7l4.9-8.3l4.9 7.7l4.9-15.2l4.9-16.5l4.9 6.4l4.9 9.3l4.9 2.4l4.9-4.5l4.9-7.1l4.9 7.8l4.9 8.3l4.9 6l4.9-12.9l4.9 14.9l4.9-29l4.9-2.7l4.9 19.5l4.8 9.6l4.9-0.9l4.9-9l4.9-1.2l4.9 1.8l4.9 6.9l4.9 4.7l4.9-1.8l4.9-19.8l4.9 12.4l4.9-1.8l4.9-6.7l4.9-2.7l4.9 7.8l4.9-17.8l4.9-10.6l4.9 30.8l4.9 1.1l4.9 0.5l4.9 5.4l4.9-26.4l4.8 2.3l4.9 22.7l4.9-8.1l4.9-0.7l4.9 12.6l4.9 1.4l4.9-5.6l4.9-19.4l4.9-7.3l4.9 12.9l4.9 4.1l4.9-10.8l4.9 10.6l4.9 12.9l4.9-21l4.9-10.8l4.9 18.5l4.9-3.9l4.9-7.3l4.8 7.3l4.9 7l4.9 10.7l4.9-10.9l4.9-1.7l4.9 5.5l4.9-6.2l4.9-2.5l4.9 9.4l4.9 2.9l4.9 2.4l4.9-19.4l4.9-20.9l4.9 13.8l4.9 16l4.9 6l4.9-2l4.9 8.1l4.9-7l4.9-19.2l4.8-4.1l4.9 21.4l4.9 1.2l4.9-23l4.9 14.2l4.9 9.8l4.9-29.8l4.9 12.3l4.9 19.7l4.9-25.3l4.9-4.7l4.9 35.8l4.9-15.5l4.9 17.2l4.9-19.1l4.9-8.2l4.9 7.8l4.9 1.3l4.9 9.4l4.9 0l4.8 3.3l4.9-3.1l4.9 8l4.9-22.3l4.9-9.9l4.9-2.1l4.9 22.7l4.9-6.9l4.9-6.7l4.9 22.5l4.9-6.5l4.9-29.2l4.9 25.8l4.9-5.2l4.9-14.3l4.9 13.6l4.9-26.5l4.9-11.6l4.9 32.5l4.9 21.5l4.9-33.8l4.8-16.1l4.9 7.3l4.9 11.6l4.9-8.2l4.9 28.8" stroke="#7f7f7f"/>
<path d="M2004.6 2162.2l4.9-162.1l4.9 234.6l4.9-188.9l4.9-151.7l4.9 264.5l4.9-201.2l4.9 112.4l4.9-99.7l4.9 32l4.8 301.3l4.9 26.2l4.9-249.6l4.9 4l4.9 84.4l4.9-213l4.9 292.6l4.9-222.1l4.9 319.6l4.9-46.3l4.9-320.4l4.9 315.9l4.9 28.7l4.9 19.4l4.9-190.3l4.9-18.2l4.9-127.4l4.9 202.3l4.9-93.4l4.9 140.6l4.8-48.8l4.9-46.9l4.9-47.9l4.9 76.1l4.9 46.1l4.9 20l4.9 23.8l4.9 12.7l4.9-30.4l4.9-29.7l4.9 26.4l4.9 17.9l4.9-69l4.9 78.4l4.9-5.5l4.9 37.6l4.9 10.1l4.9-30.8l4.9-41.5l4.9-19l4.9 84l4.8-71.5l4.9-43.8l4.9 24.4l4.9 30.4l4.9 23.1l4.9 51.9l4.9-88.4l4.9-42.5l4.9 9.3l4.9 11.1l4.9 50.1l4.9 64.3l4.9-23.1l4.9-45.1l4.9 29.9l4.9 2.7l4.9-47.6l4.9-34.1l4.9-7.1l4.8 52.1l4.9 50.7l4.9-19.2l4.9-7.9l4.9 31.5l4.9-90l4.9 86.9l4.9-13.8l4.9 4.7l4.9 15.1l4.9 10.3l4.9-14.2l9.8 21.2l4.9-2.5l4.9-44l4.9 10.8l4.9 33.8l4.9-24.2l4.9-14l4.8 2.5l4.9 8.5l4.9-14l4.9 18l4.9 33.9l4.9-17.3l4.9-26.3l4.9 18.1l4.9 2.4l4.9-45l4.9-5.2l4.9 32.7l4.9-22.6l4.9-26.3l4.9 20.9l4.9-11.8l4.9 30.5l4.9 17l4.9-31.6l4.9 27.4l4.8 15l4.9 13.2l4.9-0.7l4.9-29.2l4.9-35.6l4.9-12l4.9-15.7l4.9 32.9l4.9 35.4l4.9-23.6l4.9-4.6l4.9 33l4.9 9.3l4.9 14.2l4.9-41.3l4.9 22.4l4.9-19.9l4.9-51l4.9-2.1l4.9 31.3l4.9 20.5l4.8-18.3l4.9 47.4l4.9 0.5l4.9 5.9l4.9-6.8l4.9 0.9l4.9-11.3l4.9-17.1l4.9-15.1l4.9-12.5l4.9 22.9l4.9 13.4l4.9-8l4.9 13.1l4.9 35.2l4.9-31.6l4.9 31.7l4.9-34.1l4.9-9.3l4.8 10.1l4.9-14.2l4.9 8l4.9 26l4.9-19.7l4.9 1.8l4.9-59l4.9 33.2l4.9-10.8l4.9 0.9l4.9 23.9l4.9 20.7l4.9 5.7l4.9-32l4.9 1.5l4.9-2.4l4.9 11l4.9 20l4.9 16.2l4.9-14.9l4.9-22.8l4.8-44.2l4.9 64.2l4.9-47.6l4.9 11.7l4.9 23.8l4.9 27.3l4.9-12.8l4.9-22.6l4.9 18.1l4.9-1.6l4.9-39.5l4.9 59l4.9-51.8l4.9-5.3l4.9-8l4.9-3.3l4.9 15.2l4.9-11.7l4.9 35l4.8 20.4l4.9-11.5l4.9-7.2l4.9-13.7l4.9 26l4.9-26.5l4.9 15.7l4.9-17.2l4.9 5.5l4.9 13.8l4.9-10.7l4.9 6.2l4.9-24.8l4.9 11l4.9 10.4l4.9-10.6l4.9 3.1l4.9 1.4l4.9 6.1l4.9 31.6l4.8 1.6l4.9-30.3l4.9 2.8l4.9-17.9l4.9 10.8l4.9 3.2l4.9-15.5l4.9 47.5l4.9-26l4.9-4.2l4.9-16l4.9 31.5l4.9 11.2l4.9-15.1l4.9 21.9l4.9-50.7l4.9 11.6l4.9-23.4l4.9 17.2l4.9-10.2l4.8 20l4.9 22l4.9-39.4l4.9 40.6l4.9-34.9l4.9 0.8l4.9 37.6l4.9-6.3l4.9 8.4l4.9-3.4l4.9-41.4l4.9-7.8l4.9 37.9l4.9 21.5l4.9-23.5l4.9-27.8l4.9 23.6l4.9-40.5l4.9 25.2l4.9 19.4l4.9-42.2l4.8 43.2l4.9 6.7l4.9-37.1l4.9-4.5l4.9 8.7" stroke="#bcbd22"/>
<path d="M2004.6 2300.4l4.9-238.3l4.9 220.3l4.9 44.7l4.9-422.4l4.9 262.6l4.9 136.5l4.9 21.4l4.9 17.6l4.9 8l4.8-280.6l4.9 286.2l4.9-202.4l4.9 137.9l4.9 40.1l4.9 17.8l4.9-108.5l4.9-44.4l4.9 113.6l4.9-16.7l4.9 41.5l4.9 14.4l4.9-54.8l4.9-102.9l4.9 66l4.9 93.4l4.9-46.2l4.9-78.8l4.9 96.2l4.9 19l4.8-2.6l4.9 6.7l4.9-2.5l4.9-21.4l4.9 13.7l4.9-106.4l4.9 90.9l4.9 19.8l4.9 1.6l4.9-4.6l4.9-21.9l4.9 14.7l4.9-50.5l4.9 46.7l4.9 28.6l4.9-27.5l4.9-18.7l4.9 9.7l4.9 36.7l4.9-27.4l4.9-79.7l4.8 14.4l4.9-11.6l4.9 10.9l4.9 77l9.8-10.1l4.9 25.5l4.9-33.8l4.9-64.2l4.9-7.9l4.9 60.3l4.9 34.2l4.9 11.1l4.9-4.7l4.9-19.9l4.9 0.3l4.9-11l4.9 23.3l4.9-27.6l4.8 7.8l4.9-14.5l4.9 17.2l4.9 24.2l4.9 0.1l4.9-8.2l4.9-20.7l4.9 15.3l4.9 1.6l4.9-9.5l4.9-5.2l4.9 14.6l4.9 1.4l4.9-16.4l4.9 14.2l4.9 10.2l4.9-12.9l4.9-24.5l4.9 41.4l4.9-19.7l4.8-0.3l4.9 1.4l4.9 7.5l4.9-5l4.9-11.4l4.9-50.5l4.9 43.9l4.9 21.3l4.9-0.4l4.9 8.7l4.9-9.9l4.9 6l4.9 6.2l4.9-0.3l4.9-1.1l4.9 8.3l4.9-36.7l4.9 5.4l4.9 25l4.9-1.7l4.8-13.6l4.9-17.7l4.9 28.8l4.9 7.8l4.9 3l4.9-8.4l4.9-12.7l4.9 6.6l4.9 1.2l4.9 9.2l4.9 0.9l4.9 1.1l4.9-18.5l4.9-17.8l4.9 5.7l4.9 7.8l4.9-0.7l4.9-2.7l4.9 14.9l4.9 5.4l4.9-34.1l4.8-16.7l4.9 28.4l4.9 6.7l4.9 18.2l4.9 5.3l4.9-18.3l4.9-5.9l4.9 24.6l4.9-14.9l4.9 8.6l4.9 4.5l4.9 0.1l4.9-9.5l4.9-23.2l4.9-5.8l4.9 30.8l4.9 3.7l4.9-9.4l4.9-33.1l4.8 16.6l4.9 22.9l4.9 5.4l4.9-11.1l4.9 12.9l4.9 1.7l4.9-0.2l4.9-11l4.9-11.7l4.9 10.9l4.9 4.2l4.9-1.2l4.9 8.7l4.9-9.1l4.9-19.6l4.9 10.9l4.9-5.2l4.9 1.9l4.9 19.8l4.9-15.3l4.9-10.1l4.8-5.8l4.9 23.8l4.9 1.4l4.9-6.9l4.9-75.2l4.9 75.3l4.9-0.1l4.9-4l4.9 11.4l4.9 1l4.9 2.6l4.9-9l4.9 11.2l4.9-6.3l4.9 0.2l4.9-19.6l4.9-12l4.9 16l4.9 8l4.8-22.3l4.9 25.6l4.9 2.8l4.9-15.5l4.9 9.1l4.9-4.2l4.9-8.7l4.9 22.7l4.9 5.2l4.9-7.5l4.9-21.8l4.9 11.7l4.9 12l4.9-12.8l4.9 1.6l4.9 15.5l4.9-2.5l4.9-1.9l4.9 5.9l4.9-12.5l4.8-14l4.9-3.5l4.9 2.6l4.9-7.1l4.9 15.9l4.9 1.6l4.9-6.5l4.9 3.7l4.9-3.5l4.9 17.1l4.9 3.3l4.9-3l4.9-19l4.9-3.3l4.9 25.1l4.9-9.3l4.9-9.7l4.9 10.8l4.9-10.4l4.9-5.3l4.8 13.9l4.9-1.3l4.9-11.1l4.9-18.2l4.9 4.1l4.9 21.3l4.9 18.3l4.9-14.3l4.9 0.1l4.9-5.9l4.9 8.9l4.9-17.5l4.9 2.2l4.9 4.3l4.9-29.8l4.9 3.3l4.9 16.8l4.9 26.9l4.9-7.1l4.9 7.2l4.9-8.5l4.8 1.9l4.9 0.5l4.9-10.3l4.9-26.9l4.9 26.8" stroke="#17becf"/>
<path d="M2004.6 2270.6l4.9-381.8l4.9 189.5l4.9-56.7l4.9 6.2l4.9-179.6l4.9 1.3l4.9 111.3l4.9 325.4l4.9-35.6l4.8 96.7l4.9-298.4l4.9 297.2l4.9-102.1l4.9-61.2l4.9-84l4.9-70.4l4.9 310.1l4.9-298l4.9 87.5l4.9-38l4.9 155.3l4.9-168.1l4.9-25.6l4.9 150.2l4.9-79.8l4.9 44.3l4.9-36.2l4.9 8.8l4.9 217l4.8-218.2l4.9 31.7l4.9 38.7l4.9 52.1l4.9 72.8l4.9-143.6l4.9 66.6l4.9-17.5l4.9 87.8l4.9-1.9l4.9-26.5l4.9-86.3l4.9 31.2l4.9 22.8l4.9 80.8l4.9-155.7l4.9 86.3l4.9-18.5l4.9-42.7l4.9 132.5l4.9-169.1l4.8 57.9l4.9 57.3l4.9-89.3l4.9 59.2l4.9-55.5l4.9-0.3l4.9 40.4l4.9-27.1l4.9 90.7l4.9 9l4.9-45.3l4.9 51.5l4.9-58.2l4.9 77l4.9-134l4.9 54.9l4.9 16.5l4.9 48.5l4.9-2l4.8-56l4.9-27.9l4.9 42.9l4.9 5.3l4.9 50.1l4.9-68.8l4.9 5.8l4.9 40.1l4.9 18.9l4.9-25.2l4.9-38.3l4.9-39.8l4.9 44.4l4.9 72l4.9-74.6l4.9 18.6l4.9 45.4l4.9-44.2l4.9-5.9l4.9-15.4l4.8 32l4.9 25.5l4.9-30.9l4.9-49.7l4.9 48.9l4.9 6.7l4.9-30.1l4.9 39.5l4.9 28.6l4.9-82.6l4.9-16.9l4.9 45.5l4.9 35.1l4.9-8.2l4.9-7.1l4.9-4.2l4.9-5.6l4.9 1.7l4.9 43.4l4.9-28.2l4.8-67l4.9 6.8l4.9 53l4.9 27.5l4.9-18.8l4.9-4l4.9-0.2l4.9-5.4l4.9 15.1l4.9-29.5l4.9-20.2l4.9 6.7l4.9 5.5l4.9 43.4l4.9-14l4.9-44l4.9 58.6l4.9-62.3l4.9-10.5l4.9 19.1l4.9-0.4l4.8 46.9l4.9 15.8l4.9-13.2l4.9-41.3l4.9 18.5l4.9 39.6l4.9-0.3l4.9-51l4.9-0.9l4.9 6.6l4.9 39.3l4.9-29.3l4.9-12l4.9 0.6l4.9 13.8l4.9-9.4l4.9-14.7l4.9 56.4l4.9-6.6l4.8-11.6l4.9-5.9l4.9-9.7l4.9-12.6l4.9 2.2l4.9-1.8l4.9-8.1l4.9 32.6l4.9 4l4.9 21.6l4.9-9.3l4.9-20.1l4.9-3.9l4.9 4.2l4.9-23.2l4.9 23.4l4.9 24.5l4.9-29.3l4.9 3.3l4.9 20.2l4.9-3.7l4.8 10.2l4.9-29.3l4.9-6l4.9 25.1l4.9-15.4l4.9-0.9l4.9-4l4.9-14.4l4.9 23.5l4.9 16.1l4.9-10.4l4.9 14.7l4.9-22.3l4.9-12.1l4.9 36l4.9-46l4.9-2l4.9-5.9l4.9 4.6l4.8 24.7l4.9 17l4.9-8.1l4.9 12.5l4.9-1.6l4.9 0.8l4.9-35.3l4.9 3.5l4.9 35.1l4.9 9l4.9-47.8l4.9-38.5l4.9 61.5l4.9-50.2l4.9 33.7l4.9-19.1l4.9 38.2l4.9-30l4.9 1.7l4.9 39.3l4.8 2.6l4.9-23.2l4.9-34.8l9.8 7.2l4.9 2.7l4.9 11.8l4.9 30.4l4.9-9.9l4.9 14.9l4.9-0.1l4.9 9.5l4.9-25.8l4.9-4.1l4.9 20.8l4.9-25.5l4.9-5.7l4.9-13.6l4.9 17.8l4.9-14.2l4.8 7.3l4.9 3.7l4.9 9.7l4.9 19.7l4.9-42.4l4.9-13.9l4.9 24.1l4.9-6.5l4.9-33.6l4.9 39.4l4.9 30.1l4.9-51.2l4.9-9.8l4.9 40l4.9-23.9l4.9-11.3l4.9 2.4l4.9 63.2l4.9-6.4l4.9-57.1l4.9-24.3l4.8 13.6l4.9-3.6l4.9-6.3l4.9 20.3l4.9 14.5" stroke="#1f77b4"/>
<path d="M2004.6 1940.3l4.9-70.6l4.9 350.5l4.9-150.5l4.9 44.9l4.9 149.9l4.9-448.3l4.9 346l4.9-212.2l4.9 406.4l4.8-343l4.9 101.3l4.9 32.1l4.9 10.1l4.9-87.3l4.9 164.4l4.9-48.9l4.9-182.1l4.9 323.6l4.9-73.2l4.9-205.3l4.9 308.2l4.9-265.6l4.9 243.6l4.9-227.8l4.9-41.5l4.9 11.1l4.9 91.4l4.9 16.1l4.9 44.3l4.8 117.3l4.9-46.4l4.9-73.8l4.9 51.6l4.9 20.2l4.9-52.7l4.9-28.5l4.9-86.2l4.9 83.5l4.9 95.5l4.9-98.8l9.8-76.7l4.9 32.7l4.9 23.8l4.9 43.8l4.9-23.1l4.9 65.7l4.9 42.7l4.9 26l4.9-136l9.7 122.7l4.9-5.7l4.9-100.1l4.9-32.6l4.9 102l4.9 44.1l4.9-61.2l4.9-73.9l4.9 1l4.9 91.8l4.9 27.5l4.9-79.4l4.9 1l4.9 3.8l4.9-1.4l4.9-6.1l4.9 27.2l4.9 56.2l4.8-100.4l4.9 27.2l4.9 6.9l4.9-11.6l4.9 66.5l4.9-44.1l4.9 39.4l4.9-15.4l4.9-47.7l4.9 93.8l4.9-66.9l4.9-20l4.9 34.1l4.9-13.8l4.9-35l4.9 72.4l4.9-9.3l4.9-31l4.9 37l4.9-24.2l4.8-4.4l4.9 38.9l4.9-0.3l4.9 28.9l4.9-68.7l4.9-41.5l4.9 97.7l4.9-41.7l4.9-25l4.9 20.1l4.9 40.6l4.9-41.6l4.9 35.3l4.9-5.8l4.9-0.6l4.9 13.8l4.9-7.7l4.9-34.5l4.9-18.8l4.9-12.5l4.8 14.3l4.9 3.1l4.9 9.3l4.9 1.4l4.9 36l4.9-41.7l4.9 1.6l4.9 30.2l4.9 5.6l4.9 18.2l4.9-3.1l4.9-36l4.9 0.1l4.9 49.2l4.9-25.6l4.9-19.3l4.9 42.6l4.9 10.8l4.9-26.4l4.9-36.9l4.9 1.2l4.8 46.1l4.9-5l4.9 6.1l4.9 7.1l4.9-17.2l4.9 13.2l4.9-20.7l4.9 12.9l4.9-36.2l4.9 31.4l4.9-8.5l4.9-5.9l4.9 2l4.9 17.5l4.9-40.1l4.9 41.4l4.9-22.8l4.9-3l4.9 29.2l4.8-39l4.9-12.2l4.9 17.9l4.9 34.7l4.9 0.2l4.9-41.1l4.9-11.6l4.9 15.2l4.9 11.5l4.9 0.8l4.9-20l4.9 3.3l4.9 33.7l4.9-3.3l4.9-2.3l4.9 18.6l4.9-20.1l4.9 13.9l4.9-35.1l4.9-8.7l4.9 10.3l4.8 14.4l4.9 10.5l4.9-6.1l4.9-8.5l4.9 1.5l4.9 5.6l4.9 6.3l4.9-32.8l4.9 4.6l4.9 21.1l4.9-2.1l4.9 29.5l4.9-22.7l4.9-12.4l4.9 14.6l4.9-6.5l4.9 28.6l4.9-34.4l4.9 24l4.8-14.5l4.9-30.3l4.9 2l4.9 16.4l4.9 7.5l4.9-19.3l4.9 26.5l4.9-13.4l4.9-9.3l4.9 18.4l4.9 23l4.9-8.5l4.9-18.5l4.9 33.4l4.9-33.1l4.9 22.5l4.9-20.9l4.9 15.8l4.9 10.7l4.9-35.8l4.8-5.8l4.9 33l4.9-3.4l4.9-17.2l4.9 7.9l4.9 24.8l4.9-38.8l4.9 26.9l4.9 7.3l4.9 3.8l4.9-31l4.9-37.1l4.9 7.2l4.9 7.9l4.9-18.6l4.9 2.9l4.9 21.5l4.9 35.3l4.9 0.7l4.9-0.9l4.8-41.4l4.9 12.3l4.9 6.9l4.9 17.7l4.9-15.4l4.9-25.4l4.9 23.9l4.9 9.3l4.9-5.9l4.9 22.8l4.9-32.5l4.9-13.2l4.9-0.2l4.9 27.5l4.9 19.3l4.9-1.2l4.9-42.2l4.9 1.3l4.9 29.5l4.9-8.6l4.9 1.4l4.8-21l4.9-1.7l4.9-46.9l4.9 59.1l4.9-15.7" stroke="#ff7f0e"/>
<path d="M2004.6 2132.6l4.9 84l4.9 139.6l4.9-50.4l4.9-14.7l4.9-350.1l4.9 406.2l4.9-108.8l4.9-21.2l4.9-117.1l4.8-94l4.9 313.9l4.9-209.9l4.9 10.9l4.9 142.9l4.9-23.3l4.9-19.9l4.9 73.3l4.9 59.2l4.9-183.6l4.9 66.6l4.9-278.5l4.9 49.9l4.9-47.5l4.9 116.8l4.9 172.3l4.9 98.1l4.9-19.8l4.9-25.6l4.9-124.5l4.8 144.7l4.9-72.9l4.9 101.8l4.9-186.2l4.9 87.3l4.9 98.7l4.9-74.8l4.9 44l4.9-7.3l4.9-48.6l4.9-16.1l4.9-51.1l4.9 28.2l4.9 34.7l4.9 84l4.9-55l4.9 29.1l4.9-2l4.9-55.5l4.9-18.6l4.9 17.5l4.8 77.7l4.9-25l4.9-2.7l4.9-5.6l4.9-53.6l4.9 18l4.9 43.2l4.9-14.3l4.9 11.3l4.9 23.6l4.9-51.4l4.9-64.3l4.9-19.3l4.9 23.3l4.9-34.4l4.9 70.1l4.9-45.2l4.9 3.2l4.9 7.4l4.8-8.7l4.9 118.6l4.9-78l4.9 0.9l4.9 24.4l4.9-38l4.9 27.4l4.9-5.5l4.9 8l4.9 27.1l4.9 30.6l4.9-5l4.9-11.4l4.9 32.6l4.9-52.5l4.9-41.3l4.9 8l4.9 14.1l4.9 10.6l4.9-25.8l4.8 91.1l4.9-89.7l4.9-22.6l4.9 48.7l4.9 30.2l4.9 26.6l4.9-11.4l4.9-26.4l4.9 35.1l4.9-24.5l4.9 14.6l4.9 6.2l4.9-4.8l4.9-64.3l4.9 43.3l4.9 23.8l4.9-5.3l4.9 22.1l4.9-9.8l4.9-47l4.8 25.2l4.9 11.6l4.9-37.3l4.9-25l4.9 30.6l4.9 13.3l4.9-41.9l4.9 8l4.9 35.3l4.9 24.6l4.9-11l4.9-14.1l4.9-9.2l4.9-12.5l4.9 19.7l4.9 26.5l4.9-27.4l4.9-29.4l4.9 30.5l4.9 20.9l4.9-9.8l4.8 30.3l4.9-26.9l4.9 27.2l4.9-21.8l4.9 3.6l4.9-12.5l4.9-32l4.9 9.1l4.9 24.2l4.9-20.5l4.9 24.2l4.9 8.7l4.9-3.9l4.9-36.2l4.9 11.5l4.9 17.2l4.9-10.6l4.9-1.7l4.9 32.3l4.8-26.3l4.9 16.9l4.9 7l4.9-35l4.9-15.1l4.9 37l4.9-10.6l4.9 23.7l4.9-5.6l4.9 0.7l4.9-4.9l4.9-14.9l4.9 13.1l4.9 11.2l4.9-16.8l4.9 1.3l4.9-8.6l4.9 19.8l4.9 9.9l4.9-2.2l4.9-6.7l4.8-50.5l4.9-2.7l4.9 7.6l4.9-8.2l4.9 35.7l4.9 26.8l4.9-25.3l4.9-28.1l4.9 2.8l4.9 14.3l4.9-11.6l4.9 19.5l4.9 3.1l4.9 16.7l4.9 2l4.9 8.2l4.9-11.2l4.9 9.3l4.9-4.6l4.8-11.8l4.9-10.3l4.9-28.8l4.9-6.1l4.9 19.4l4.9-4.5l4.9-6.3l4.9-15.4l4.9 16.7l4.9 20.6l4.9-15.9l4.9 34.1l4.9 5.5l4.9 6.3l4.9-23.7l4.9 1.9l4.9 15.9l4.9 5.6l4.9-26l4.9 8.6l4.8-44.4l4.9 24.7l4.9 17.4l4.9-13.7l4.9 34.6l4.9 0.9l9.8-40.7l4.9 23.7l4.9 14.2l4.9 2.2l4.9-11l4.9-37.3l4.9 8l4.9 23.4l4.9-7.1l4.9-28l4.9 15.6l4.9 31.9l4.9-0.7l4.8-20.6l4.9-22.9l4.9-19l4.9 11.9l4.9 28.8l4.9 35.3l4.9-11l4.9-8.5l4.9 8.7l4.9-1.6l4.9-4.1l4.9-9.3l4.9 17.5l4.9-18.3l4.9-35.1l4.9-15.2l4.9 3l4.9 41.4l4.9 24.6l4.9-28.3l4.9 17.9l4.8-19.2l4.9-25.7l4.9-13.7l4.9 47.7l4.9-25.9" stroke="#2ca02c"/>
<path d="M2004.6 2232l4.9-61.7l4.9-259.9l4.9 431l4.9-4.6l4.9-297.3l4.9 115.8l4.9 200.7l4.9-446.7l4.9 409l4.8-186.9l4.9-67.6l4.9-30.2l4.9 316.4l4.9-304.3l4.9 175.1l4.9-43.1l4.9 87.9l4.9 75.5l4.9-52.8l4.9-336.3l4.9 47.2l4.9 188.3l4.9-150.8l4.9 186.1l4.9 76.5l4.9 28.5l4.9-130.3l4.9 58.3l4.9 14.3l4.8-3.6l4.9-3.5l4.9-17.5l4.9-71l4.9 64l4.9 23.7l4.9 2.5l4.9 23.5l4.9 7.2l4.9 21.1l4.9-27.5l4.9 45.5l4.9-105.8l4.9 13l4.9 94.5l4.9 0l4.9-115.8l4.9 24.8l4.9 81.9l4.9 6l4.9 8.1l4.8-54.5l4.9-5.5l4.9-22.7l4.9 87.1l4.9-60.4l4.9 21l4.9-49.3l4.9 56.2l9.8-103.9l4.9 36.1l4.9-5.8l4.9-9.6l4.9 9.4l4.9-10.4l4.9 21.9l4.9-3.3l4.9 8l4.9 35.5l4.8 10.1l4.9 14l4.9 10.5l4.9-0.7l4.9 6.3l4.9 19l4.9-11.8l4.9 0.4l4.9 8.3l4.9-17.3l4.9 16.5l4.9-11.4l4.9 12.1l4.9 4.2l4.9-46.3l4.9-27.1l4.9 14.7l4.9 30.7l4.9 16.7l4.9 10.9l4.8-10.8l4.9-7.4l4.9-40.7l4.9 4.7l4.9-6.1l4.9 7.7l4.9-14.2l4.9-10l4.9 26.4l4.9 29.1l4.9 9.8l4.9 4.7l4.9-24.7l4.9-28.1l4.9 27.3l4.9 21.2l4.9-25.4l4.9 24l4.9-8.3l4.9 13l4.8-12.5l4.9-4.9l4.9-7l4.9-13.7l4.9 23.6l4.9 16.7l4.9-8.1l4.9 10.4l4.9-0.5l4.9-44.2l4.9-12.4l4.9 25.5l4.9 26.5l4.9-19.2l4.9-27l4.9-36.7l4.9 33.9l4.9 46.1l4.9-15.9l4.9 2.4l4.9-15.5l4.8-13l4.9 16.5l4.9 15.1l4.9-11.3l4.9-40.6l4.9 36.9l4.9-11.1l4.9 28.7l4.9-0.4l4.9 4.2l4.9-2.6l4.9 0.1l4.9-11.9l4.9-7.8l4.9 6.8l4.9 35.1l4.9-10.8l4.9 4.3l4.9-47l4.8-12l4.9 5.5l4.9 45.1l4.9 6.1l4.9-22l4.9-1.7l4.9 15.1l4.9-3.7l4.9-18.8l4.9-13.6l4.9-4.3l4.9-6.2l4.9 6.2l4.9 14.9l4.9 27.1l4.9-33l4.9-0.2l4.9-5.4l4.9-3.7l4.9-9.6l4.9 8.1l4.8 57.8l4.9-37.3l4.9 16.7l4.9 10.6l4.9-4.9l4.9-2.7l4.9 15.8l4.9-21.9l4.9 6.1l4.9 18.3l4.9-4.7l4.9-37.3l4.9-7.2l4.9 9.3l4.9 31.3l4.9-19.9l4.9-20.6l4.9 31.6l4.9 4.4l4.8-8.6l4.9 12l4.9-44.5l4.9 42.4l4.9-27.4l4.9-10.7l4.9 40.8l4.9-41l4.9 22.7l4.9 18.5l4.9-38.9l4.9 11.5l4.9 19.7l4.9-4.5l4.9 8.5l4.9 7.1l4.9-23.7l4.9-17.7l4.9-8.4l4.9 30.4l4.8 23.1l4.9-33.1l4.9-14.7l4.9-25.9l4.9 15l4.9 60.1l4.9-34.2l4.9-6.5l4.9 20.4l4.9 16.4l4.9-20.7l4.9-4.9l4.9 15.3l4.9 5l4.9 5.3l4.9-3.5l4.9-21.5l4.9 1.9l4.9 18.8l4.9-41.9l4.8 5.2l4.9 12.2l4.9 12.6l4.9 19.7l4.9-5.3l4.9-29.7l4.9-18l4.9 36.5l4.9-13.3l4.9-23.7l4.9 31.4l4.9 17.4l4.9-31.6l4.9 18.2l4.9-23.6l4.9-2.9l4.9 4.4l4.9 32.7l4.9-17.6l4.9 6.6l4.9-14.1l4.8 27.2l4.9 3.8l4.9-23.7l4.9-24.9l4.9 7.9" stroke="#d62728"/>
<path d="M2004.6 2071.2l4.9 188.7l4.9-140.2l4.9 11.8l4.9-64.5l4.9 10.3l4.9 165.2l4.9 27.2l4.9-77.3l4.9 69.4l4.8 73.9l4.9-371.2l4.9 271.4l4.9-205.5l4.9 263.9l4.9-249.8l4.9 190l4.9 112.1l4.9-15l4.9-276.5l4.9 174l4.9-134.2l4.9-59.1l4.9 314.5l4.9-4.4l4.9-274.4l4.9 154.4l4.9 64.6l4.9 15.7l4.9 32.1l4.8-80.4l4.9 18.5l4.9 72.1l4.9-105.3l4.9-15.2l4.9 68.3l4.9-9.4l4.9-83.3l4.9 20.1l4.9 110.7l4.9-6.2l4.9 13.2l4.9-75.2l4.9-40.3l4.9 77.6l4.9-39.9l4.9 61.4l4.9 25.7l4.9 1.4l4.9-58.5l4.9 1.3l4.8 50.2l4.9-18.6l4.9 27.4l4.9-58.4l4.9-26l4.9 41.2l4.9 39.7l4.9-77.7l4.9 29.3l4.9-24.2l4.9-12.6l4.9 66l4.9 5.4l4.9-2.2l4.9-24.6l4.9 37.9l4.9-3.2l4.9-51.7l4.9-57.6l4.8 43.1l4.9-11.7l4.9 12.2l4.9 9.2l4.9-35.2l4.9-16.5l4.9 35.8l4.9 6.4l4.9-27.8l4.9 8.3l4.9 59l4.9 9.5l4.9-11.6l4.9 17.3l4.9-70.5l4.9 25.8l4.9 53.5l4.9-32.1l4.9 10.4l4.9-31.8l4.8-29.3l4.9 14.2l4.9-10.6l4.9-23.5l4.9 52.8l4.9-10.6l4.9 21l4.9 23.4l4.9 18.2l4.9 6.9l4.9-63.2l4.9-24.3l4.9 15.6l4.9 24.2l4.9 44l4.9-45l4.9-4.8l4.9-5.8l4.9 14.9l4.9 22.2l4.8 6.5l4.9 9.6l4.9 0.3l4.9-1.1l4.9-9.9l4.9-4.5l4.9-18.5l4.9-17.6l4.9 1.4l4.9 26.7l4.9 2.1l4.9 0.5l4.9 7.2l4.9 7l4.9-12.6l4.9 16.5l4.9-5.5l4.9-24l4.9-16.7l4.9 5.7l4.9 3.9l4.8 16.3l4.9 14l4.9-31.6l4.9 20.9l4.9 6.9l4.9-24l4.9-28.4l4.9 21.9l4.9 43.7l4.9-5.1l4.9-0.7l4.9-15.5l4.9 15.5l4.9 1.5l4.9-24.2l4.9 25.3l4.9-3.4l4.9-3.1l4.9-9.2l4.8-9.8l4.9 32.2l4.9-21.4l4.9-8.1l4.9 12.5l4.9 21.6l4.9-14.9l4.9-8.5l4.9 4.4l4.9 7l4.9-27.7l4.9-11l4.9 2.8l4.9 28.2l4.9-2.1l4.9-44.7l4.9 23.8l4.9 38.3l4.9-3.1l4.9 6.1l4.9-21.3l4.8-15.1l4.9 12.6l4.9 18.2l4.9-23.1l4.9 26.9l4.9-15.4l4.9 6.5l4.9 7.9l4.9-6.4l4.9-2.6l4.9-7.1l4.9 11.2l4.9-0.5l4.9-24.9l4.9 5.4l4.9-14.2l4.9 3.9l4.9 8.1l4.9 0.1l4.8-1.7l4.9 12.1l4.9 7.2l4.9 4.6l4.9-9.3l4.9-3.6l4.9 18l9.8-51.6l4.9 22.8l4.9 5.6l4.9 22.2l4.9-31.1l4.9 32.7l4.9-4.6l4.9 5.6l4.9-8l4.9-0.7l4.9 10.7l4.9 0.4l4.8-4.4l4.9-8l4.9-9l4.9-2.9l4.9-4.5l4.9 0.9l4.9-7.2l4.9 19.5l4.9 15.1l4.9-22l4.9-8.9l4.9 8.5l4.9 0.2l4.9 15.1l4.9-2.6l4.9-25.8l4.9-19.9l4.9 47.8l4.9-13.9l4.9 7.7l4.8 9l4.9-0.8l4.9-15l4.9-9.5l4.9-6.5l4.9-25.3l4.9 0.3l4.9 53.1l4.9-38.5l4.9 0.5l4.9 36.5l4.9-31.1l4.9-24.4l4.9 41.3l4.9-2.4l4.9-14.5l4.9-4.9l4.9 29.3l4.9 11.8l4.9-19.9l4.9-53.8l4.8 18.9l4.9 53.3l4.9-35.5l4.9 18.4l4.9 14.6" stroke="#9467bd"/>
<path d="M2004.6 2125.1l4.9-134l4.9 136.7l4.9-155.8l4.9-46.3l4.9 367.7l4.9-11.5l4.9-76.4l4.9-265.6l4.9 232.3l4.8-180.7l4.9 302.6l4.9-77.9l4.9 2l4.9-288.7l4.9 130.8l4.9 219.9l4.9-130.6l4.9 155.3l4.9-318.5l4.9 369.8l4.9-179.4l4.9 107.8l4.9-210.9l4.9 143.9l4.9 116.3l4.9-173.8l4.9-49.3l4.9 245.2l4.9-68.3l4.8-176.9l4.9 105.8l4.9 99.1l4.9 37.1l4.9-25l4.9 25.3l4.9-71.6l4.9-35.5l4.9-8.3l4.9-49.9l4.9-1.2l4.9 94.9l4.9-78.6l4.9 110.8l4.9 25.1l4.9 10.9l4.9-4.5l4.9-15.3l4.9 17.9l4.9-87.4l4.9-19l4.8 68.2l4.9-74.5l4.9 12.1l4.9 24.2l4.9-42.3l4.9 74.9l4.9 43.8l4.9-30.2l4.9-69.9l4.9 13.1l4.9 54.6l4.9 5.1l4.9 8.3l4.9-1l4.9-33.6l4.9-54.9l4.9 25.4l4.9-2.1l4.9-6.8l4.8 46.9l4.9 20.5l4.9 5.2l4.9-63.9l4.9-41.6l4.9 21.3l4.9 41.1l4.9 25.9l4.9 3.4l4.9 27l4.9-30.1l4.9-33.3l4.9 64l4.9-14.2l4.9-31.1l4.9 54.4l4.9-48.4l4.9 3.9l4.9 9.7l4.9-62.1l4.8-19.4l4.9 36.3l4.9 8.4l4.9-31.6l4.9 0.5l4.9-1.4l4.9 73.4l4.9-23.9l4.9 50.1l4.9-61.2l4.9 18.8l4.9-23.5l4.9 28.9l4.9 32.8l4.9-26.3l4.9-19.6l4.9-14l4.9 13.6l4.9 35.7l4.9-40.3l4.8 4.2l4.9 28.6l9.8-35.8l4.9-8.7l4.9-25.1l4.9 20.2l4.9 41.3l4.9-28.1l4.9-4.3l4.9 62.1l4.9 2.5l4.9-25.6l4.9-21.8l4.9 4.8l4.9-8.7l4.9-26.5l4.9 23.8l4.9 41.2l4.9 19.1l4.9-13.1l4.8-50.4l4.9 21.6l4.9 30.6l4.9-20.3l4.9-34.7l4.9-0.3l4.9 16l4.9 42.3l4.9-18.9l4.9-10l4.9 4.5l4.9-18.1l4.9 51.1l4.9-29.8l4.9 7.5l4.9-23.6l4.9 9.4l4.9 19.6l4.9 2l4.8-7.4l4.9 7.5l4.9 4.9l4.9 4.7l4.9 2.2l4.9-7.8l4.9 1.3l4.9-4.8l4.9-11.7l4.9-12.2l4.9 7l4.9-18.2l4.9 15l4.9 34.5l4.9-10.6l4.9 2.9l4.9-12.3l4.9-33l4.9 6l4.9 20.2l4.9 20.8l4.8-19.1l4.9 11.3l4.9-0.2l4.9-18.7l4.9 12.9l4.9-8.8l4.9-13.9l4.9 26.5l4.9-28.8l4.9 18.3l4.9 12.3l4.9-31.2l4.9 0.6l4.9 33l4.9-10.9l4.9-25.9l4.9 4.3l4.9 3.4l4.9-11.5l4.8 47.3l4.9-50l4.9 7.5l4.9 18.3l4.9-17.7l4.9 5.3l4.9-0.1l4.9 4.9l4.9 3.7l4.9 31.7l4.9-18.6l4.9 18.5l4.9-37.1l4.9-3.7l4.9-15.8l4.9 2.5l4.9 6l4.9 4.1l4.9-1.2l4.9 2.5l9.7 41.9l4.9-21.4l4.9 7l4.9 12.4l4.9-15l4.9-18.3l4.9 6.5l4.9 25.6l4.9-11.2l4.9-7.8l4.9-31l4.9 20.3l4.9 6.1l4.9-31.1l4.9-1.5l4.9 48.5l4.9-0.8l4.9 13.8l4.9-7.5l4.8-17l4.9-3.7l4.9-16.1l4.9 10.6l4.9 30.2l4.9-16.5l4.9-3.9l4.9-0.6l4.9 3.7l4.9-11.1l4.9-0.5l4.9 13.9l4.9-29.9l4.9 39.3l4.9-12.1l4.9-45.3l4.9-15.7l4.9 8.4l4.9 33.4l4.9-28l4.9 11.9l4.8 40l4.9-4.9l4.9-4.5l4.9 1.6l4.9 1.3" stroke="#8c564b"/>
<path d="M2004.6 2023.3l4.9 56.1l4.9-187.6l4.9 339.6l4.9-412.8l4.9 322.4l4.9-280.5l4.9 256.4l4.9-49.7l4.9-57.9l4.8 174l4.9-157l4.9-32.5l4.9 59.8l4.9 143.4l4.9-83.1l4.9-93.9l4.9 268.5l4.9-366.1l4.9 260.7l4.9 93.7l4.9-6.1l4.9 34.1l4.9-187.9l4.9-64.2l4.9-33.6l4.9 201.1l4.9-182.9l4.9 307.2l4.9-97.5l4.8-88.6l4.9-13.2l4.9-15.6l4.9 185.2l4.9-9.2l4.9 9.6l4.9-7.4l4.9-100.2l4.9 75.7l4.9-58.7l4.9-55.2l4.9 35l4.9 6.1l4.9 43.4l4.9-68.6l4.9 9.5l4.9 50.8l4.9-32.1l4.9 38.7l4.9 77l4.9-24l4.8-51.3l4.9-88.5l4.9-2.4l4.9 33.9l4.9-40.5l4.9 59.5l4.9 104l4.9 24.6l4.9-21.8l4.9 30.6l4.9-131.8l4.9 4.2l4.9 7.4l4.9 32.7l4.9 18.1l4.9-10l4.9-23.8l4.9-15.2l4.9-34.1l4.8 86.7l4.9 22.8l4.9-11.1l4.9-6.2l4.9 18.1l4.9-45.5l4.9 46.7l4.9-16.9l4.9-11.5l4.9-11l4.9-2.1l4.9-39.8l4.9 62.8l4.9 35.5l4.9-25.9l4.9 16.9l4.9-6.5l4.9-82.5l4.9 21.1l4.9 83.4l4.8-47.9l4.9 0.3l4.9 22.1l4.9-32.7l4.9 31.3l4.9 39.7l4.9-9.8l4.9-9.2l4.9 3.4l4.9 4.8l4.9-11.2l4.9-35.4l4.9 14.9l4.9-18.2l4.9 46l4.9-48.6l4.9-6.8l4.9 22.1l4.9-13l4.9 44.5l4.8 14.6l4.9-26.8l4.9-35.7l4.9-19.7l4.9 23.6l4.9 55.9l4.9-23.1l4.9-30.8l4.9-21.2l4.9 5.2l4.9 66.3l9.8-42.7l4.9 13.4l4.9 23.1l4.9 15.2l4.9-16.9l4.9 8.1l4.9-40.1l4.9 7.7l4.9 30.9l4.8-38.8l4.9-5.9l4.9-4.4l4.9 3.7l4.9-9l4.9-2.6l4.9 62.2l4.9-19.8l4.9 4.2l4.9 14.6l4.9-13l4.9 6.1l4.9-3.2l4.9-18.8l4.9-10l4.9 11.3l4.9 1l4.9 14l4.9 12.4l4.8-34.8l4.9-11.1l4.9-8.4l4.9 2l4.9 3.5l4.9 17.7l4.9 22.4l4.9 1.2l4.9-13.8l4.9 19l4.9-35.5l4.9-4.1l4.9-13.8l4.9 27l4.9 22l4.9 10.3l4.9-19.2l4.9 3.1l4.9-31.4l4.9-18.4l4.9-0.7l4.8 60.6l4.9 1.6l4.9 3.4l4.9-1.4l4.9 2.7l4.9-41.4l4.9-11.7l4.9 3l4.9 21.8l4.9 31.9l4.9-23.4l4.9 3.2l4.9 19.6l4.9-19.8l4.9 25.1l4.9-4.2l4.9-32l4.9 29.2l4.9-16.7l4.8-36l4.9 2.9l4.9 11.6l4.9 18.3l4.9 0.7l4.9-5l4.9 17.2l4.9-3.8l4.9-14.4l4.9 18.5l4.9-1.3l4.9-11.4l4.9 18.7l4.9-21.9l4.9 3.8l4.9 20l4.9-25.5l4.9-8l4.9 28.4l4.9-14.5l4.8 2.7l4.9 8l4.9-17.7l4.9-33.4l4.9-2.4l4.9 20l4.9 32.6l4.9-24.6l4.9 3.4l4.9 17.9l4.9 11l4.9-34.5l4.9-4.2l4.9 8.6l4.9-7.6l4.9 26.9l4.9-13.7l4.9 12.4l4.9-33l4.9 40l4.8-20.6l9.8-3.3l4.9 23.6l4.9-18.6l4.9-23.6l4.9-1.2l4.9 48.7l4.9-28.9l4.9-10.5l4.9 0.4l4.9-19.9l4.9-9.5l4.9 15.4l4.9-8.2l4.9 33.5l4.9-34.6l4.9-14.2l4.9 16.3l4.9 40.2l4.9 13.1l4.8 11.1l4.9-22.4l4.9-53.4l4.9 3.6l4.9 5.8" stroke="#e377c2"/>
<path d="M2004.6 2154.8l4.9-237.6l4.9 295.7l4.9 4.9l4.9-388.3l4.9 354.9l4.9 49.9l4.9-99l4.9 190.6l4.9-179.3l4.8-55.7l4.9-34.5l4.9 104.7l4.9 23.6l4.9 46.6l4.9-243l4.9 64.8l4.9 39.7l4.9-85.2l4.9-44.7l4.9 42.2l4.9 10.4l4.9-22.1l4.9 13.1l4.9 314.1l4.9-104.1l4.9-44l4.9-29.8l4.9 183.9l4.9-231.8l4.8 4.8l4.9 51.6l4.9-45.9l4.9-9.9l4.9 186l4.9 24.5l4.9 6.9l4.9-147.3l4.9 79l4.9-23.4l4.9-76.8l4.9 12.1l4.9 38.7l4.9 87.3l4.9-59.1l4.9 34.5l4.9 8.1l4.9-35.1l4.9 37.5l4.9 84l4.9-73.4l4.8 24l4.9 25.9l4.9-84.5l4.9 17.6l4.9-20.6l4.9-21.9l4.9 102.6l4.9-34.5l4.9 45.3l4.9-7.1l4.9 18.6l4.9-96.3l4.9 19.2l4.9 57.3l4.9-103l4.9 14.6l4.9 35.2l4.9 66.3l4.9-25.6l4.8 3.3l4.9 9.5l4.9-47.9l4.9-7.9l4.9 63.6l4.9-0.5l4.9-71.3l4.9 13.7l4.9 30.1l4.9-38.2l4.9-0.8l4.9 78.9l4.9-98.7l4.9 8.7l4.9 75l4.9-53.7l4.9 13.5l4.9 41.2l4.9-21.7l4.9-1.5l4.8-50.9l4.9-4.6l4.9 55.5l4.9-49.8l4.9 52.7l4.9-5.8l4.9 6.2l4.9 7.8l4.9-33.6l4.9 36.6l4.9-6.2l4.9-10.9l4.9 20.7l4.9 9.4l4.9 14.1l4.9 2.1l4.9-14.8l4.9-17.3l4.9 32.4l4.9-27.5l4.8-12.4l4.9 0.6l4.9-14.3l4.9-3.8l4.9 36l4.9-5.2l4.9 1.3l4.9 8.9l4.9-52.3l4.9-25.2l4.9 35.4l4.9-28.1l4.9 7.1l4.9 41.9l4.9-27.2l4.9 5.1l4.9 26.8l4.9 20.4l4.9 12l4.9-16.9l4.9-33l4.8-12.4l4.9 19.2l4.9-14l4.9-26.3l4.9 26.7l4.9 41.5l4.9-9l4.9 27l4.9-34.9l4.9-21.2l4.9 20.3l4.9-5l4.9-8.6l4.9-16.2l4.9-21l4.9 24.5l4.9-7l4.9 41.3l4.9 19.6l4.8-3.9l4.9-2.3l4.9-2.9l4.9-38.1l4.9 30.9l4.9 11l4.9-35l4.9 11.7l4.9 1.8l4.9 12.9l4.9-12.3l4.9 12l4.9-18.2l4.9 27.2l4.9 8.1l4.9-8.3l4.9-6l4.9-21.3l4.9-27.8l4.9 18.5l4.9 23.4l4.8-3.1l4.9-9.2l4.9-38.2l4.9-3.3l4.9 35.9l4.9 25.8l4.9-25l4.9-10.7l4.9-18l4.9 19.7l4.9 34.7l4.9-24l4.9-9.8l4.9 23.2l4.9 2.6l4.9 0.3l4.9 13.1l4.9-9l4.9 4.9l4.8-20.4l4.9 4.8l4.9-22.3l4.9 33.2l4.9 2.2l4.9-35.9l4.9 8.4l4.9 9.1l4.9 12.2l4.9 11.1l4.9-51.9l4.9 20l4.9 37.6l4.9-21.1l4.9 23.1l4.9-16.3l4.9-37.5l4.9 29l4.9 12.1l4.9-19.4l4.8 8.5l4.9 8.3l4.9 12l4.9-57.5l4.9-5.4l4.9 15.9l4.9 38.8l4.9-14.1l4.9-22.7l4.9 19.9l4.9 5.2l4.9-25.4l4.9 5.6l4.9 47.9l4.9-32.3l4.9-20.2l4.9 1.9l4.9 14.8l4.9-10.5l4.9-25.6l4.8-6l4.9 3.1l4.9-1.1l4.9 24.1l4.9-0.9l4.9 26.4l4.9 24l4.9-0.9l4.9-12l4.9 9.8l4.9-6.2l4.9-11.6l4.9 1.5l4.9-17.8l4.9-35.5l4.9 17.6l4.9 54.9l4.9-16.6l4.9-57.5l4.9-2.3l4.9-16l4.8 77.4l4.9-13.7l4.9 27.8l4.9-48.8l4.9 52.4" stroke="#7f7f7f"/>
<path d="M2004.6 1998.8l4.9-35.1l4.9-25.8l4.9 411.7l4.9-498.4l4.9-24.2l4.9-33.2l4.9 146.5l4.9 59.5l4.9 304.1l4.8-179.1l4.9-2.9l4.9-144.2l4.9 346l4.9 13.1l4.9-136.4l4.9-107l4.9-137.3l4.9 266.3l4.9-197.5l4.9 160.1l4.9-97.9l4.9-72.4l4.9 51.7l4.9 63.3l4.9-97.4l4.9 37.1l4.9 280.9l4.9-200l4.9-61.4l4.8-1.2l4.9 117.5l4.9-32.4l4.9 11.3l4.9 47.4l4.9-21.9l4.9 100.7l4.9-189.7l4.9 24.8l4.9 82.6l4.9-68.7l4.9 33.7l4.9-43.4l4.9 24.9l4.9-6.7l4.9 81l4.9 30.9l4.9-26.4l4.9-41.1l4.9 26.7l4.9 50.8l4.8-87.3l4.9-23.7l4.9 44l4.9 106.3l4.9-54.2l4.9-92.6l4.9-9.3l4.9 16.7l4.9 34.3l4.9-37.5l4.9 11.8l4.9-0.6l4.9 109.9l4.9 35.3l4.9-4.5l4.9 7.2l4.9-14.8l4.9-36.1l4.9 27.5l4.8 15l4.9-77.3l4.9 13.1l4.9-13.3l4.9 78.9l4.9 0.1l4.9-35.3l4.9-31l4.9 40.9l4.9-32.6l4.9 58.9l4.9-32.8l4.9 13.3l4.9-26.9l4.9-40.7l4.9 19.2l4.9 47.4l4.9 17.4l4.9-63.3l4.9-36.9l4.8 36.9l4.9-8.8l4.9-6.9l4.9 54.5l4.9 12.7l4.9-12.9l4.9 28.3l4.9 5l4.9-15.6l4.9-38.7l4.9-6.3l4.9 14.3l4.9 32.9l4.9-47.1l4.9 51.4l4.9-13.4l4.9-49.1l4.9 1.5l4.9 72l4.9 5.4l4.8-2.4l4.9-28.9l4.9-52.6l4.9-13.2l4.9 12.8l4.9 21.7l4.9 25.2l4.9 6.8l4.9 0.2l4.9-14l4.9-10.5l4.9 20.7l4.9 22.4l4.9 9l4.9-5.3l4.9-16.3l4.9-2l4.9-43.5l4.9-11.8l4.9 44.3l4.9-15.8l4.8 29.5l4.9-17.8l4.9 24.4l4.9-19.6l4.9-46.5l4.9 22.7l4.9 35.4l4.9-52.1l4.9-1.1l4.9 21.6l4.9-8.4l4.9-10.7l4.9 16.8l4.9 28.3l4.9-0.5l4.9-3.4l4.9-8.6l4.9 0.4l4.9 6.3l4.8-1l4.9 16.6l4.9-17l4.9-9l4.9 1.9l4.9 11.7l4.9 30.5l4.9-42l4.9 6.8l4.9 4.6l4.9-17l4.9-7.2l4.9 7.1l4.9 22.7l4.9-21.1l4.9 18.8l4.9 28.4l4.9-40.5l4.9 14l4.9 24.1l4.9-16.4l4.8 12.9l4.9-10.8l4.9-9.9l4.9-16l4.9-13.2l4.9 5.4l4.9 22.1l4.9-14.4l4.9-0.9l4.9 30.8l4.9-8.9l4.9-20.2l4.9 11.9l4.9 26.1l4.9-31.2l4.9-20.4l4.9-4.9l4.9 8.2l4.9 14.4l9.7 29.9l4.9 0.9l4.9-16l4.9-33.2l4.9-14.1l4.9 54.4l4.9-38.6l4.9 5l4.9 15.2l4.9-24.2l4.9 8.3l4.9 20.9l4.9 5.9l4.9 6.7l4.9-6.2l4.9-11.9l4.9 4l4.9 20.4l4.9 11.3l4.8-14.2l4.9-4.8l4.9-12.2l4.9-13.3l4.9 10.6l4.9 23.5l4.9-2.2l4.9-22.8l4.9-13.3l4.9 1l4.9-14.9l4.9 4l4.9 3.1l4.9 8.8l4.9 25.6l4.9-33.2l4.9-6.5l4.9 12l4.9-10.6l4.9 3l4.8 40.2l4.9-30.7l4.9 0.1l4.9 31.7l4.9 9.6l4.9-1.1l4.9-22.3l4.9-21.7l4.9-14.8l4.9 8.1l4.9 21l4.9 3.9l4.9-33.3l4.9 11.2l4.9 15.7l4.9 2.7l4.9-12l4.9 17.8l4.9-24.6l4.9 41.4l4.9-61.2l4.8 50l4.9-19.9l4.9-0.7l4.9 36.9l4.9-48.3" stroke="#bcbd22"/>
<path d="M2004.6 2245.2l4.9-82.9l4.9 132.7l4.9 16.3l4.9-42.5l4.9-358.3l4.9 306.9l4.9-372l4.9-19.8l4.9 260.9l4.8 71.2l4.9-177.5l4.9 357.3l4.9-166.6l4.9-190.7l4.9 156l4.9-167l4.9 302.2l4.9 9.8l4.9-302.6l4.9 304.7l4.9-135.6l4.9-50.3l4.9-68.2l4.9 59.6l4.9 39.4l4.9 186.4l4.9 17l4.9-66.1l4.9-153.4l4.8 41.1l4.9 40.4l4.9-7.3l4.9-57l4.9 142.6l4.9 66.3l4.9-4.4l4.9-29.3l4.9 11l4.9 23.7l4.9-8.4l4.9-112.2l4.9-35.6l4.9 120.6l4.9 11.3l4.9-60.1l4.9 16.7l4.9-8l4.9 82.2l4.9-77.8l4.9-2.9l4.8 57.5l4.9 31.3l4.9-26.1l4.9 19.8l4.9-83.4l4.9 33l4.9 27l4.9-59.1l4.9-20l4.9 13.2l4.9-0.1l4.9 47.8l4.9-25.3l4.9-26.6l4.9 50l4.9 30.2l4.9-21.7l4.9 9.7l4.9 22.8l4.8-83.5l4.9 13.4l4.9 57.8l4.9 17.9l4.9-10.6l4.9-35.9l4.9-26l4.9 50.3l4.9-39.3l4.9-3.1l4.9 15.9l4.9-21.8l4.9 8.8l4.9-2.4l4.9-5.3l4.9 8.9l4.9-35.8l4.9 11.9l4.9 20.5l4.9-12.8l4.8 17.3l4.9-11.9l4.9-19.1l4.9 15.4l4.9 78.7l4.9-67.5l4.9-17.8l4.9 13l4.9 21.2l4.9-1.6l4.9-39.4l4.9 39.4l4.9 14.2l4.9-40.7l4.9 18.3l4.9-10.1l4.9 32.2l4.9 36.4l4.9-12.6l4.9-5.1l4.8-55.2l4.9 3.2l4.9 16.5l4.9 2.1l4.9 12.5l4.9-27l4.9 27.4l4.9-2.8l4.9 20.3l4.9-51.6l4.9 19.3l4.9 39.2l4.9-31l4.9-25.6l4.9 17.8l4.9 15.6l4.9 13.2l4.9 13.6l4.9 4.5l4.9 6.7l4.9-6.5l4.8-15.6l4.9 10.1l4.9-12.9l4.9 20l4.9-27.1l4.9-34.5l4.9-2.1l4.9 28.4l4.9-19.9l4.9 7.1l4.9 44.1l4.9-16.2l4.9 11.1l4.9 4.1l4.9-16.9l4.9 4.9l4.9 7l4.9-36l4.9-1.7l4.8 49.6l4.9-25.3l4.9-11.3l4.9 12.5l4.9-3.2l4.9 13.2l4.9 3.7l4.9 2.9l4.9 1.1l4.9-8.3l4.9-0.3l4.9-19.8l4.9 36.5l4.9-25.5l4.9-2.4l4.9 22l4.9 6.1l4.9-0.7l4.9-3.3l4.9-8.7l4.9 4.3l4.8-9.2l4.9-12.5l4.9 0.4l4.9-11.8l4.9-19l4.9 6.4l4.9 2.1l4.9-14l4.9 26.9l4.9 14.6l4.9-24.2l4.9-12.4l4.9 12.5l4.9 4.3l4.9 11.8l4.9-1.8l4.9 22l4.9-38.1l4.9 29.4l4.8-37.9l4.9 20.9l4.9 25.4l4.9-22.1l4.9-7.6l4.9 18l4.9-10l4.9 12.5l4.9-4.2l4.9 7.8l4.9 21.4l4.9-8.7l4.9-47.5l4.9 12.9l4.9 40.2l4.9 3.3l4.9-24.5l4.9 2.6l4.9-11.6l4.9 10.5l4.8 15.3l4.9-27.4l4.9 25.1l4.9-2.6l4.9 2.8l4.9-30.3l4.9 9l4.9 26l4.9-22.6l4.9-3.4l4.9 27l4.9-6.2l4.9-29.6l4.9 5.7l4.9 3.4l4.9 5.3l4.9 6.9l4.9-41.9l4.9 25.4l4.9 32.6l4.8-28l9.8-43l4.9 28.6l4.9 26.6l4.9-4.6l4.9-35.7l4.9-1.7l4.9 8.8l4.9 5.4l4.9 8.1l4.9-4.1l4.9 17.5l4.9 6.9l4.9-55.7l4.9 2.2l4.9 45.6l4.9-18.7l4.9-29.4l4.9-12.8l4.9 60.5l4.8-16.8l4.9 24.6l4.9-13.7l4.9-5l4.9 9.3" stroke="#17becf"/>
<path d="M2004.6 2258.1l4.9-64.4l4.9 107.5l4.9-354.5l4.9-0.1l4.9-46.4l4.9 217.8l4.9-198.5l4.9 60.5l4.9 351.7l4.8-180.5l4.9 163.9l4.9-265.9l4.9-58.1l4.9 86.4l4.9-81.1l4.9 348.9l4.9-168.4l4.9-211.5l4.9 82.3l4.9 202.4l4.9 95.6l4.9-71.6l4.9 55.7l4.9-133.3l4.9-112.2l4.9 158.6l4.9 92.8l4.9-1.6l4.9-55.1l4.8-57.3l4.9 119.2l4.9-18.7l4.9-83.4l4.9 55l4.9-57.2l4.9 95l4.9-81.9l4.9-22.4l4.9-35.6l4.9-9.2l4.9 78.2l4.9 86.1l4.9-5.1l4.9-125.6l4.9 50.4l4.9 72.1l4.9-58.1l4.9-17.5l4.9 16.9l4.9 47.3l4.8-38.1l4.9-44.8l4.9 92.3l4.9-21l4.9 12.9l4.9 14.7l4.9-14.9l4.9 25l4.9-49.2l4.9-19.4l4.9 15.7l4.9-30.7l4.9-12.1l4.9 30.5l4.9 56.6l4.9 5.4l4.9-26.7l4.9 29.8l4.9-64l4.8 30.8l4.9 16.2l4.9-4.9l4.9-19.5l4.9-12.9l4.9 34.8l4.9-2.7l4.9-17.1l4.9 7.6l4.9-27.2l4.9 1.7l4.9-25.7l4.9 42.8l4.9 25.5l4.9-19.7l4.9 17.1l4.9-11.9l4.9 4.9l4.9 4.7l4.9-35.4l4.8 37.3l4.9 5.3l4.9-17.8l4.9 21.5l4.9-1.3l4.9 1.6l4.9-26.7l4.9 12.6l4.9 7l4.9-42.4l4.9-14.6l4.9 27.5l4.9 15.6l4.9-5.4l4.9-11.4l4.9-11.8l4.9-3.8l4.9-1.4l4.9 46.1l4.9 18.3l4.8-22.8l4.9-25.1l4.9 18.7l4.9 20.1l4.9 6l4.9-43.3l4.9-4.7l4.9 39.9l4.9-8l4.9-15.8l4.9 1.4l4.9-3.9l4.9 21.7l4.9 16.3l4.9-50.3l4.9 17.9l4.9 22.4l4.9 2.7l4.9-8.6l4.9-20l4.9-0.2l4.8-1.3l4.9 12.8l4.9-24.6l4.9-2.2l4.9 42.2l4.9-34l4.9 37.4l4.9-37.6l4.9-5.3l4.9 31.2l4.9 9.2l4.9-38.8l4.9 12.3l4.9 14.5l4.9-0.9l4.9 7.7l4.9 3.8l4.9-11.2l4.9-3.8l4.8 5.9l4.9-34.1l4.9-7.3l4.9 20.8l4.9 27.6l4.9-16.3l4.9 4l4.9 6.3l4.9 10.9l4.9-16.2l4.9 9.6l4.9-2.2l4.9 10l4.9 4.5l4.9 1.5l4.9-3.5l4.9-17.4l4.9-19l4.9 26.8l4.9-18.9l4.9-9.7l4.8-15.5l4.9 13.9l4.9 14.7l4.9 11.3l4.9-1.8l4.9-4.9l4.9-2.5l4.9-2.7l4.9 23.9l4.9-32.8l4.9 5.4l4.9 32.3l4.9 0.5l4.9-14.2l4.9-7.9l4.9-6.8l4.9 6.5l4.9-19.6l4.9-7.7l4.8 25.1l4.9 0.4l4.9-16.8l4.9 27.1l4.9-14.1l4.9-1.6l4.9 17.7l4.9-6.8l4.9 10.5l4.9-10l4.9-34.9l4.9 20l4.9-17l4.9-1.3l4.9 23.2l4.9-8.1l4.9 9.2l4.9 2.6l4.9-14.9l4.9 15.5l4.8 8.1l4.9-5.7l4.9 5.6l4.9-16.2l4.9 11.6l4.9 3.9l4.9-4.7l4.9-8.4l4.9 20.2l4.9-21l4.9-13.3l4.9-0.9l4.9-3.2l4.9 10.8l4.9-14.8l4.9 11.2l4.9 23.7l4.9-13.5l4.9 18.8l4.9-0.4l4.8-20.6l4.9 11.5l4.9 9.4l4.9-14.5l4.9 12.2l4.9-28.1l4.9 2.9l4.9 3.3l4.9 2.1l4.9 11l4.9 19.2l4.9-16l4.9-26.7l4.9 23.2l4.9 15.6l4.9-33.5l4.9-5.9l4.9 31.5l4.9 14.3l4.9-36.7l4.9-4.3l4.8 5.3l4.9-14.2l4.9 9.5l4.9 10.8l4.9 24.6" stroke="#1f77b4"/>
<path d="M2004.6 2176.6l4.9 62l4.9-185.7l4.9 63.4l4.9-138.8l4.9 365.4l4.9-178.4l4.9 141.1l4.9 42.2l4.9-39l4.8-113l4.9-177.1l4.9 184.1l4.9 65.8l4.9 84.7l4.9-125.8l4.9-301.7l4.9 152.4l4.9-164.5l9.8 416.4l4.9-71.9l4.9 92.7l4.9-269.9l4.9-10.1l4.9 87.6l4.9-4.6l4.9-75.9l4.9 14l4.9 159.7l4.8-20.7l4.9-22l4.9-40.8l4.9-33.7l4.9 67.9l4.9-34.3l4.9 29.9l4.9 44.3l4.9 96.7l4.9 4.9l4.9-10.6l4.9-43.2l4.9 38.7l4.9 8.4l4.9-30.8l4.9-93.1l4.9 77.1l4.9 8.4l4.9-0.8l4.9 25.3l4.9-5.7l4.8 13.3l4.9-118.9l4.9 7.4l4.9 67.6l4.9 5.7l4.9 48.3l4.9-76.3l4.9-39.6l4.9 47.7l4.9 29.7l4.9-7.9l4.9-29.4l4.9 11l4.9 13.8l4.9 8.1l4.9 10l4.9-18.3l4.9-10.3l4.9 40.9l4.8-44l4.9-5.5l4.9 47.6l4.9-5.3l4.9-31l4.9-10.2l4.9 51.9l4.9-68.2l4.9 10.1l4.9 46.9l4.9 16.7l4.9 24.1l4.9-14.2l4.9-12.6l4.9-84.2l4.9-8.4l4.9 38.4l4.9 75.8l4.9-46.3l4.9 8.3l4.8-25.9l4.9 34.7l4.9 16.7l4.9-3.6l4.9 0.5l4.9-19.5l4.9-24.1l4.9 17.5l4.9-2.1l4.9-32.1l4.9 17.1l4.9 16.2l4.9-24.4l4.9 50.4l4.9-10l4.9-9.4l4.9 21.3l4.9-67.2l4.9 46.2l4.9 18.4l4.8 7.9l4.9-22.5l4.9 7.8l4.9 3l4.9-26l4.9-1l4.9 1.9l4.9 37.3l9.8-49.9l4.9 23.1l4.9-2.3l4.9 0.3l4.9 1.6l4.9 24.7l4.9-1.8l4.9-4.8l4.9 0.5l4.9-12.9l4.9-7.4l4.9-22.9l4.8-23.9l4.9 51.4l4.9-3.3l4.9-19.6l4.9 30.8l4.9-19.7l4.9 39.9l9.8-5.7l4.9 12.4l4.9-28.7l4.9 10.9l4.9 18.9l4.9 1.9l4.9-7.4l4.9-8l4.9-6.6l4.9-1.1l4.9-2.3l4.8 9.5l4.9 6.7l4.9-13.7l4.9-3.4l4.9-10.5l4.9 11.7l4.9 7.4l4.9-2.6l4.9 22.7l4.9-30.1l4.9-2l4.9-11.3l4.9-16.2l4.9 3.5l4.9 0.7l4.9 38l4.9 17.1l4.9-35.7l4.9 5.7l4.9 21.4l4.9-30.7l4.8-7.5l4.9 10.8l4.9 34.2l4.9-59.4l4.9 13.5l4.9 8.9l4.9-2.4l4.9-22.6l4.9 14.5l4.9 30.1l4.9-6l4.9-3l4.9 15.7l4.9 7.7l4.9-16.1l4.9 18.1l4.9-65.8l4.9-12.3l4.9 55.9l4.8 5.6l4.9-5.3l4.9 12.4l4.9 4.2l4.9-30l4.9 11.4l4.9 1.9l4.9-12.8l4.9-1.1l4.9 11.2l4.9-16.6l4.9 13.9l4.9-6.3l4.9-9.4l4.9 3.8l4.9 21.8l4.9 18.8l4.9 0l4.9-18.1l4.9 13.4l4.8-13l4.9 2.2l4.9-4.3l4.9 4l4.9 0.4l4.9-6l4.9-38.4l4.9 3.4l4.9 7l4.9 36.6l4.9 14.5l4.9-14.2l4.9 3.2l4.9-4.9l4.9-14l4.9 29.6l4.9-13.8l4.9-0.7l4.9 11.3l4.9-28.4l4.8-19.4l4.9 26.6l4.9 8l4.9-20l4.9-5.1l4.9 8.8l4.9-4.1l4.9 13.2l4.9-20.5l4.9 2.7l4.9 22.7l4.9-16.2l4.9-0.8l4.9 27.6l4.9 2.3l4.9-19.6l4.9-9.6l4.9 27.2l4.9-37.3l4.9-19.7l4.9 12.6l4.8 21.7l4.9-47.8l4.9 12.4l4.9 56.4l4.9-25.2" stroke="#ff7f0e"/>
<path d="M2004.6 2055.4l4.9 15.4l4.9 248.1l4.9-114.9l4.9-108.3l4.9 241.8l4.9-287.7l4.9 302.4l4.9-453.2l4.9 368.3l4.8 50.7l4.9-314.6l4.9-50.2l4.9 21.9l4.9 295.1l4.9-202.2l4.9-151l4.9 183.1l4.9 162.2l4.9-52.8l4.9-55.2l4.9-205.1l4.9 168.2l4.9 149.1l4.9-75.4l4.9 103.4l4.9 56.1l4.9-279.2l4.9 269.8l4.9-217.8l4.8 79.4l4.9-25.1l4.9-0.4l4.9 91.2l4.9-102.4l4.9-2.4l4.9 165.7l4.9 15.7l4.9-151l4.9-42.7l4.9 39.2l4.9 110.6l4.9 2.3l4.9-98.1l4.9 42.1l4.9-45l4.9-27.9l4.9 42.8l4.9 5.1l4.9-29.4l4.9-38.1l4.8 25.9l4.9 152.6l4.9-92.2l4.9 36.9l4.9-55.6l4.9 50.5l4.9-75l4.9-22.3l4.9 44.6l4.9 10l4.9-20.7l4.9-0.3l4.9 26.7l4.9 66.5l4.9-14.5l4.9 5.5l4.9-26.7l4.9 33.1l4.9 37.4l4.8-92.6l4.9-38.4l4.9 95.9l4.9 29.9l4.9-19.7l4.9 8.8l4.9 12.6l4.9-25.4l4.9-22.8l4.9 42.7l4.9-22.3l4.9 9.7l4.9 33.1l4.9-6.1l4.9-30.1l4.9 20.6l4.9-52.7l4.9-24.4l4.9 70.2l4.9-3.3l4.8-7.5l4.9 14.3l4.9-36.4l4.9-28.5l4.9 56.1l4.9 9l4.9-1l4.9-8.2l4.9-8.5l4.9-7.9l4.9 20.9l4.9-9.4l4.9-44.9l4.9 11.6l4.9 48.2l4.9-17.4l4.9-51.9l4.9-13.7l4.9 72.6l4.9-20l4.8-7.6l4.9-41l4.9 2.8l4.9 51.5l4.9-10.8l4.9 8.8l4.9-19l4.9 10l4.9 1.3l4.9-5.3l4.9 19.2l4.9 26.8l4.9 12l4.9-11.6l4.9 2l4.9-25.8l4.9-23.6l4.9 2.8l4.9 50.7l4.9-11.1l4.9 2.1l4.8-54.4l4.9 52.5l4.9 16.6l4.9-13.5l4.9-21.6l4.9 18.9l4.9 7.8l4.9 3.8l4.9-23.6l4.9-37l4.9 8.3l4.9 38.8l4.9-14.9l4.9-24.6l4.9-7l4.9 48.6l4.9-23.2l4.9-25.9l4.9-13.6l4.8 21.8l4.9 33.8l4.9-3.6l4.9-18.6l4.9 1.9l4.9 3.8l4.9 34.1l4.9-58.5l4.9 7.7l4.9-12l4.9 6.8l4.9-3.1l4.9-11.9l4.9 56.4l4.9 16.2l4.9-16.1l4.9-8.3l4.9 21.4l4.9-15l4.9-12.7l4.9-21l4.8 2.4l4.9 29.8l4.9-22.1l4.9-16.7l4.9 17.3l4.9-10.1l4.9 20.5l4.9 35.6l4.9-3.3l4.9-17.7l4.9-21.4l4.9 24.1l4.9 5.4l4.9 1.3l4.9-22.5l4.9 6.6l4.9 24.1l4.9-11.4l4.9-40.2l4.8-12.9l4.9 23.2l4.9 47.3l4.9-20.7l4.9-35.4l4.9-3.3l4.9 29.2l4.9-10.6l4.9-4.8l4.9 2.3l9.8 34.9l4.9-15l4.9 1.9l4.9-2.8l4.9-15.6l4.9-3.9l4.9-9.5l4.9 43.7l4.9 7l4.8-2.1l4.9-13.1l4.9 15.4l4.9-41.3l4.9 39.5l4.9-39.3l4.9 5.1l4.9 32.4l4.9-11.2l4.9-12.6l4.9 25.8l4.9-39.5l4.9 12.2l4.9-22l4.9-7.1l4.9 26l4.9-26l4.9 23.8l4.9 18.6l4.9-47.4l4.8 10.8l4.9 38.5l4.9 9.9l4.9-20.4l4.9-26.4l9.8 19.8l4.9-2.4l4.9 9.9l4.9-35.5l4.9 3.9l4.9 41.5l4.9 5.8l4.9-28.2l4.9-20.2l4.9 2.3l4.9 37.9l4.9-9.3l4.9-53.7l4.9 8.6l4.9 28.9l4.8-14.4l4.9-14.1l4.9 15.7l4.9-37.5l4.9 21.9" stroke="#2ca02c"/>
<path d="M2004.6 2204.8l4.9-249.6l4.9 220.6l4.9-235.5l4.9 344l4.9-420.6l4.9 18.1l4.9 465.9l4.9-323.9l4.9-23.5l4.8 40l4.9-163.1l4.9 245.1l4.9-131.1l4.9 268.7l4.9-75.9l4.9-23.2l4.9-178l4.9 2.6l4.9 163.5l4.9-320.7l4.9 382.1l4.9 82l4.9-375.8l4.9 233.3l4.9 56.3l4.9-14l4.9 128.4l4.9-315.7l4.9 282.1l4.8-243.6l4.9 246.7l4.9-12.4l4.9 15.1l4.9 63.2l4.9-159.2l4.9 46.7l4.9 100.2l4.9-69.1l4.9 80.9l4.9-136.9l4.9-14.8l4.9 30.1l4.9 1.4l4.9 60.2l4.9-55.6l4.9-28.1l4.9 143.5l4.9-13.6l4.9-25.4l4.9-66.8l4.8 54l4.9 45.6l4.9-57.2l4.9-65.4l4.9-32.1l4.9 18.1l4.9 92l4.9 28.4l4.9-49.6l4.9-12.3l4.9 24.6l4.9 29l4.9-26.9l4.9 17.6l4.9 14.6l4.9-15.8l4.9 17.6l4.9-56.8l4.9 21.4l4.8-2.8l4.9-7.8l4.9 28.8l4.9 11.7l4.9-31.1l4.9-26l4.9 76.2l4.9-23.6l4.9-11.6l4.9-31.9l4.9-4.2l4.9 36.5l4.9 17.5l4.9-9.1l4.9-15.7l4.9-7.2l4.9-12.7l4.9 8.7l4.9 43.3l4.9-68.5l4.8 25.6l4.9 4.8l4.9 45.7l4.9-29.1l4.9 1.3l4.9 8.4l4.9 13l4.9-25.7l4.9-8l4.9 1.8l4.9-3.8l4.9 4.3l4.9-6l4.9 19.6l4.9 12.8l4.9-0.9l4.9-35l4.9 26.7l4.9-40.4l4.9-11.3l4.8 56.9l4.9 17.3l4.9-3.5l4.9-26.2l4.9-3.1l4.9-8l4.9 18.4l4.9 28.7l4.9-61.6l4.9-5.9l4.9 31.9l4.9 19.8l4.9-42.1l4.9-3.7l4.9 25.3l4.9-6l4.9-22.3l4.9 22.4l4.9-4.3l4.9-3.8l4.9 1.3l4.8-12.2l4.9 20.4l4.9 17.8l4.9 23.7l4.9-21.7l4.9-8.4l4.9 13.7l4.9-32.1l4.9-4.6l4.9 21.4l4.9 12.8l4.9-24.6l4.9-3.7l4.9 44.9l4.9-30.1l4.9 6.7l4.9 18.7l4.9-19.2l4.9 10.4l4.8 9.1l4.9-7.6l4.9-4l4.9-23.8l4.9 13.5l4.9 11.9l4.9-9.4l4.9-7.5l4.9 14l4.9 20.9l4.9-10.4l4.9-11.3l4.9-13.8l4.9-11.7l4.9 8.1l4.9 7.7l4.9-6.7l4.9 16.9l4.9 15.3l4.9-8.7l4.9-1.3l4.8-0.8l4.9-4.2l4.9 2.2l4.9-12.4l4.9 24.6l4.9-21.8l4.9 3.6l4.9 19.8l4.9 4.8l4.9-4.3l4.9-30.2l4.9-15.9l4.9 31.2l4.9 4.6l4.9-14.1l4.9 18.5l4.9-11l4.9 10.9l4.9-15.7l4.8 25.2l4.9-2.8l4.9-45l4.9 17.2l4.9 30.7l4.9-6.4l4.9-23.1l4.9-7.5l4.9 11.4l4.9 9.3l4.9-16.2l4.9 2.4l4.9 20.3l4.9-18.5l4.9-15l4.9 9.1l4.9 3.1l4.9-7.5l4.9-4.6l4.9 28.9l4.8 5l4.9 3.6l4.9-13l4.9-64.8l4.9 45.7l4.9 14l4.9-0.1l4.9-3.6l4.9 8.7l4.9 4.9l4.9 5.1l4.9-12.1l4.9-14.3l4.9 15.2l4.9-1.4l4.9-0.7l4.9-89.6l4.9 59.7l4.9 5.1l4.9 24.8l4.8-33.1l4.9 5.5l4.9-2.3l9.8 51.1l4.9-2.8l4.9-29.7l4.9-25.8l4.9 8.8l4.9 33l4.9 19.5l4.9-17.5l4.9-1.3l4.9-7.1l4.9 0.2l4.9-90.6l4.9 83.7l4.9 23.7l4.9-36.1l4.9-93.5l4.9 130.6l4.8-1.9l4.9-112.5l4.9 84.1l4.9-19.2l4.9 33.6" stroke="#d62728"/>
</g></g>
<rect x="1944.0" y="1382.6" width="1373.3" height="1021.8" fill="none" stroke="#000" stroke-width="2.85" filter="url(#bS)"/>
<g font-family="'DejaVu Sans', 'Liberation Sans', sans-serif" font-size="36.9px" fill="#000" filter="url(#bT)">
<text x="2006.9" y="2447.3" text-anchor="middle">0</text>
<text x="2247.5" y="2447.3" text-anchor="middle">50</text>
<text x="2494.7" y="2447.3" text-anchor="middle">100</text>
<text x="2738.8" y="2447.3" text-anchor="middle">150</text>
<text x="2983.9" y="2447.3" text-anchor="middle">200</text>
<text x="3226.7" y="2447.3" text-anchor="middle">250</text>
<text x="1928.5" y="1465.9" text-anchor="end">1.2</text>
<text x="1928.5" y="1616.4" text-anchor="end">1.0</text>
<text x="1928.5" y="1767.5" text-anchor="end">0.8</text>
<text x="1928.5" y="1917.5" text-anchor="end">0.6</text>
<text x="1928.5" y="2069.2" text-anchor="end">0.4</text>
<text x="1928.5" y="2220.3" text-anchor="end">0.2</text>
<text x="1928.5" y="2371.8" text-anchor="end">0.0</text>
<text x="2627.7" y="2502.7" text-anchor="middle" font-size="37.9px">Frequency(Hz)</text>
<text transform="translate(1842.0 1896.5) rotate(-90)" text-anchor="middle" font-size="37.9px">Amplitude</text>
</g>
</svg></body></html>
